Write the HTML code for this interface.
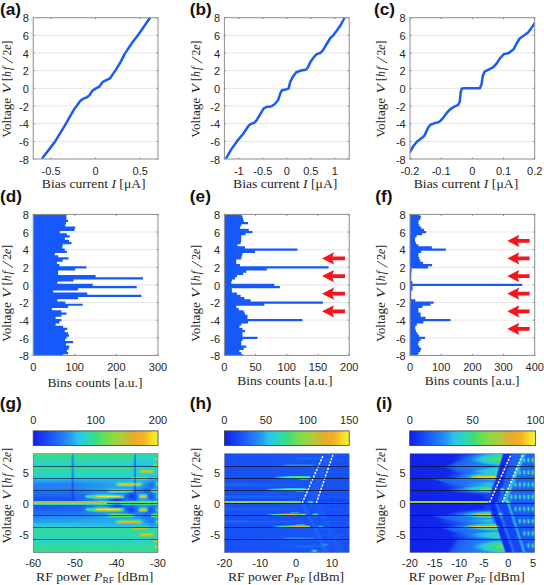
<!DOCTYPE html>
<html><head><meta charset="utf-8"><style>
html,body{margin:0;padding:0;background:#fff;}
svg{display:block;}
</style></head><body>
<svg width="544" height="585" viewBox="0 0 544 585">
<defs><linearGradient id="cb0" x1="0" y1="0" x2="1" y2="0"><stop offset="0.0000" stop-color="#101ee8"/><stop offset="0.0250" stop-color="#1228eb"/><stop offset="0.0500" stop-color="#1332ef"/><stop offset="0.0750" stop-color="#143cf2"/><stop offset="0.1000" stop-color="#1646f5"/><stop offset="0.1250" stop-color="#1850f5"/><stop offset="0.1500" stop-color="#1a5af5"/><stop offset="0.1750" stop-color="#1c64f5"/><stop offset="0.2000" stop-color="#1e6ef5"/><stop offset="0.2250" stop-color="#2079f4"/><stop offset="0.2500" stop-color="#2284f3"/><stop offset="0.2750" stop-color="#2490f1"/><stop offset="0.3000" stop-color="#269bf0"/><stop offset="0.3250" stop-color="#27aeed"/><stop offset="0.3500" stop-color="#28c1e9"/><stop offset="0.3750" stop-color="#28cbe0"/><stop offset="0.4000" stop-color="#28d0d3"/><stop offset="0.4250" stop-color="#29d5c3"/><stop offset="0.4500" stop-color="#30d7ac"/><stop offset="0.4750" stop-color="#36da94"/><stop offset="0.5000" stop-color="#3cdc7d"/><stop offset="0.5250" stop-color="#4bdd70"/><stop offset="0.5500" stop-color="#5add64"/><stop offset="0.5750" stop-color="#69de58"/><stop offset="0.6000" stop-color="#78de4b"/><stop offset="0.6250" stop-color="#85da47"/><stop offset="0.6500" stop-color="#91d643"/><stop offset="0.6750" stop-color="#9ed140"/><stop offset="0.7000" stop-color="#aacd3c"/><stop offset="0.7250" stop-color="#b6c63a"/><stop offset="0.7500" stop-color="#c3be37"/><stop offset="0.7750" stop-color="#d4b532"/><stop offset="0.8000" stop-color="#e6ac2d"/><stop offset="0.8250" stop-color="#ebad2b"/><stop offset="0.8500" stop-color="#efae2a"/><stop offset="0.8750" stop-color="#f4af28"/><stop offset="0.9000" stop-color="#f5bc28"/><stop offset="0.9250" stop-color="#f5cd28"/><stop offset="0.9500" stop-color="#f5de28"/><stop offset="0.9750" stop-color="#f3ea28"/><stop offset="1.0000" stop-color="#f0f528"/></linearGradient><linearGradient id="fr0"><stop offset="0.000" stop-color="#28bdea"/><stop offset="0.304" stop-color="#27bbea"/><stop offset="0.312" stop-color="#1f71f5"/><stop offset="0.321" stop-color="#1f71f5"/><stop offset="0.329" stop-color="#27bbea"/><stop offset="0.801" stop-color="#27bcea"/><stop offset="0.817" stop-color="#1852f5"/><stop offset="0.825" stop-color="#2597f0"/><stop offset="1.000" stop-color="#2699f0"/></linearGradient><linearGradient id="fr1"><stop offset="0.000" stop-color="#3cdc7e"/><stop offset="0.304" stop-color="#3bdc81"/><stop offset="0.312" stop-color="#2597f0"/><stop offset="0.321" stop-color="#2597f0"/><stop offset="0.329" stop-color="#3bdc81"/><stop offset="0.801" stop-color="#3bdc80"/><stop offset="0.809" stop-color="#28bdea"/><stop offset="0.817" stop-color="#1d68f5"/><stop offset="0.825" stop-color="#2cd6b8"/><stop offset="0.849" stop-color="#2fd7ad"/><stop offset="1.000" stop-color="#2fd7ad"/></linearGradient><linearGradient id="fr2"><stop offset="0.000" stop-color="#3adb85"/><stop offset="0.304" stop-color="#39db89"/><stop offset="0.312" stop-color="#2595f1"/><stop offset="0.321" stop-color="#2595f1"/><stop offset="0.329" stop-color="#39db89"/><stop offset="0.801" stop-color="#39db88"/><stop offset="0.809" stop-color="#27b9eb"/><stop offset="0.817" stop-color="#1d67f5"/><stop offset="0.825" stop-color="#2ad5bf"/><stop offset="0.849" stop-color="#2dd6b4"/><stop offset="1.000" stop-color="#2dd6b4"/></linearGradient><linearGradient id="fr3"><stop offset="0.000" stop-color="#38da8d"/><stop offset="0.304" stop-color="#37da90"/><stop offset="0.312" stop-color="#2593f1"/><stop offset="0.321" stop-color="#2593f1"/><stop offset="0.329" stop-color="#37da90"/><stop offset="0.801" stop-color="#37da8f"/><stop offset="0.809" stop-color="#27b5eb"/><stop offset="0.817" stop-color="#1c66f5"/><stop offset="0.825" stop-color="#28d4c7"/><stop offset="0.849" stop-color="#2bd5bc"/><stop offset="1.000" stop-color="#2dd6b7"/></linearGradient><linearGradient id="fr4"><stop offset="0.000" stop-color="#35d995"/><stop offset="0.304" stop-color="#35d999"/><stop offset="0.312" stop-color="#2490f1"/><stop offset="0.321" stop-color="#2490f1"/><stop offset="0.329" stop-color="#35d999"/><stop offset="0.801" stop-color="#35d998"/><stop offset="0.809" stop-color="#27b0ec"/><stop offset="0.817" stop-color="#1c64f5"/><stop offset="0.825" stop-color="#28d3cc"/><stop offset="0.970" stop-color="#2ad5c0"/><stop offset="0.978" stop-color="#34d99a"/><stop offset="1.000" stop-color="#37da8f"/></linearGradient><linearGradient id="fr5"><stop offset="0.000" stop-color="#33d89f"/><stop offset="0.304" stop-color="#32d8a2"/><stop offset="0.312" stop-color="#248ef1"/><stop offset="0.321" stop-color="#248ef1"/><stop offset="0.329" stop-color="#32d8a2"/><stop offset="0.801" stop-color="#32d8a1"/><stop offset="0.809" stop-color="#27aced"/><stop offset="0.817" stop-color="#1c63f5"/><stop offset="0.825" stop-color="#28d1d1"/><stop offset="0.962" stop-color="#28d3cb"/><stop offset="0.970" stop-color="#2dd6b4"/><stop offset="0.978" stop-color="#79de4b"/><stop offset="0.986" stop-color="#8fd644"/><stop offset="1.000" stop-color="#8fd644"/></linearGradient><linearGradient id="fr6"><stop offset="0.000" stop-color="#31d7a8"/><stop offset="0.304" stop-color="#30d7ab"/><stop offset="0.312" stop-color="#238cf2"/><stop offset="0.321" stop-color="#238cf2"/><stop offset="0.329" stop-color="#30d7ab"/><stop offset="0.801" stop-color="#30d7aa"/><stop offset="0.809" stop-color="#27a7ee"/><stop offset="0.817" stop-color="#1c62f5"/><stop offset="0.825" stop-color="#28cfd6"/><stop offset="0.962" stop-color="#28d1d0"/><stop offset="0.970" stop-color="#30d7aa"/><stop offset="0.978" stop-color="#a1d03f"/><stop offset="0.986" stop-color="#c1bf37"/><stop offset="1.000" stop-color="#c1bf37"/></linearGradient><linearGradient id="fr7"><stop offset="0.000" stop-color="#2fd7af"/><stop offset="0.304" stop-color="#2ed6b2"/><stop offset="0.312" stop-color="#238af2"/><stop offset="0.321" stop-color="#238af2"/><stop offset="0.329" stop-color="#2ed6b2"/><stop offset="0.801" stop-color="#2ed6b2"/><stop offset="0.809" stop-color="#26a3ef"/><stop offset="0.817" stop-color="#1b60f5"/><stop offset="0.825" stop-color="#28cdda"/><stop offset="0.962" stop-color="#28cfd5"/><stop offset="0.970" stop-color="#29d4c3"/><stop offset="0.978" stop-color="#56dd68"/><stop offset="0.986" stop-color="#69dd58"/><stop offset="1.000" stop-color="#69dd58"/></linearGradient><linearGradient id="fr8"><stop offset="0.000" stop-color="#2dd6b5"/><stop offset="0.304" stop-color="#2cd6b8"/><stop offset="0.312" stop-color="#2388f2"/><stop offset="0.321" stop-color="#2388f2"/><stop offset="0.329" stop-color="#2cd6b8"/><stop offset="0.801" stop-color="#2cd6b8"/><stop offset="0.809" stop-color="#269fef"/><stop offset="0.817" stop-color="#1b60f5"/><stop offset="0.825" stop-color="#28ccdd"/><stop offset="0.970" stop-color="#28cfd5"/><stop offset="1.000" stop-color="#29d4c5"/></linearGradient><linearGradient id="fr9"><stop offset="0.000" stop-color="#2bd5bb"/><stop offset="0.304" stop-color="#2bd5be"/><stop offset="0.312" stop-color="#2287f2"/><stop offset="0.321" stop-color="#2287f2"/><stop offset="0.329" stop-color="#2bd5be"/><stop offset="0.801" stop-color="#2bd5be"/><stop offset="0.809" stop-color="#269cf0"/><stop offset="0.817" stop-color="#1b5ff5"/><stop offset="0.825" stop-color="#28cbe0"/><stop offset="1.000" stop-color="#28ced8"/></linearGradient><linearGradient id="fr10"><stop offset="0.000" stop-color="#29d4c4"/><stop offset="0.304" stop-color="#28d4c7"/><stop offset="0.312" stop-color="#2284f3"/><stop offset="0.321" stop-color="#2284f3"/><stop offset="0.329" stop-color="#28d4c7"/><stop offset="0.801" stop-color="#29d4c6"/><stop offset="0.809" stop-color="#2699f0"/><stop offset="0.817" stop-color="#1b5df5"/><stop offset="0.825" stop-color="#28c9e5"/><stop offset="0.954" stop-color="#28cbe0"/><stop offset="0.978" stop-color="#29d4c4"/><stop offset="1.000" stop-color="#29d4c4"/></linearGradient><linearGradient id="fr11"><stop offset="0.000" stop-color="#28d2cc"/><stop offset="0.304" stop-color="#28d2ce"/><stop offset="0.312" stop-color="#2181f3"/><stop offset="0.321" stop-color="#2181f3"/><stop offset="0.329" stop-color="#28d2ce"/><stop offset="0.801" stop-color="#28d2cd"/><stop offset="0.809" stop-color="#2595f1"/><stop offset="0.817" stop-color="#1a5cf5"/><stop offset="0.825" stop-color="#28c3e9"/><stop offset="0.954" stop-color="#28c8e7"/><stop offset="0.962" stop-color="#33d89e"/><stop offset="0.970" stop-color="#70de52"/><stop offset="1.000" stop-color="#7add4a"/></linearGradient><linearGradient id="fr12"><stop offset="0.000" stop-color="#28d0d3"/><stop offset="0.304" stop-color="#28cfd4"/><stop offset="0.312" stop-color="#217ef3"/><stop offset="0.321" stop-color="#217ef3"/><stop offset="0.329" stop-color="#28cfd4"/><stop offset="0.801" stop-color="#28d0d4"/><stop offset="0.809" stop-color="#2492f1"/><stop offset="0.817" stop-color="#1a5af5"/><stop offset="0.825" stop-color="#27bbea"/><stop offset="0.954" stop-color="#28c1e9"/><stop offset="0.962" stop-color="#51dd6c"/><stop offset="0.970" stop-color="#bec138"/><stop offset="0.978" stop-color="#d1b733"/><stop offset="1.000" stop-color="#d1b733"/></linearGradient><linearGradient id="fr13"><stop offset="0.000" stop-color="#31d8a6"/><stop offset="0.304" stop-color="#30d7a9"/><stop offset="0.312" stop-color="#238cf2"/><stop offset="0.321" stop-color="#238cf2"/><stop offset="0.329" stop-color="#30d7a9"/><stop offset="0.801" stop-color="#30d7a8"/><stop offset="0.809" stop-color="#27a8ee"/><stop offset="0.817" stop-color="#1c62f5"/><stop offset="0.825" stop-color="#28cfd5"/><stop offset="0.954" stop-color="#28d1cf"/><stop offset="0.962" stop-color="#38da8c"/><stop offset="0.970" stop-color="#7cdd4a"/><stop offset="1.000" stop-color="#85da47"/></linearGradient><linearGradient id="fr14"><stop offset="0.000" stop-color="#35d999"/><stop offset="0.304" stop-color="#34d99c"/><stop offset="0.312" stop-color="#248ff1"/><stop offset="0.321" stop-color="#248ff1"/><stop offset="0.329" stop-color="#34d99c"/><stop offset="0.801" stop-color="#34d99c"/><stop offset="0.809" stop-color="#27aeed"/><stop offset="0.817" stop-color="#1c64f5"/><stop offset="0.825" stop-color="#28d2ce"/><stop offset="0.954" stop-color="#28d4c8"/><stop offset="0.970" stop-color="#32d8a1"/><stop offset="1.000" stop-color="#33d99d"/></linearGradient><linearGradient id="fr15"><stop offset="0.000" stop-color="#35d999"/><stop offset="0.304" stop-color="#34d99c"/><stop offset="0.312" stop-color="#248ff1"/><stop offset="0.321" stop-color="#248ff1"/><stop offset="0.329" stop-color="#34d99c"/><stop offset="0.801" stop-color="#34d99c"/><stop offset="0.809" stop-color="#27aeed"/><stop offset="0.817" stop-color="#1c64f5"/><stop offset="0.825" stop-color="#28d2ce"/><stop offset="0.946" stop-color="#2ad5c2"/><stop offset="1.000" stop-color="#29d4c5"/></linearGradient><linearGradient id="fr16"><stop offset="0.000" stop-color="#34d99c"/><stop offset="0.304" stop-color="#33d89f"/><stop offset="0.312" stop-color="#248ff1"/><stop offset="0.321" stop-color="#248ff1"/><stop offset="0.329" stop-color="#33d89f"/><stop offset="0.801" stop-color="#33d89e"/><stop offset="0.809" stop-color="#27aded"/><stop offset="0.817" stop-color="#1c63f5"/><stop offset="0.825" stop-color="#28d1cf"/><stop offset="0.849" stop-color="#28d3ca"/><stop offset="0.865" stop-color="#38da8d"/><stop offset="0.889" stop-color="#3bdb82"/><stop offset="0.946" stop-color="#3adb83"/><stop offset="0.970" stop-color="#28d3c9"/><stop offset="1.000" stop-color="#28d3c9"/></linearGradient><linearGradient id="fr17"><stop offset="0.000" stop-color="#31d8a5"/><stop offset="0.304" stop-color="#30d7a8"/><stop offset="0.312" stop-color="#238cf2"/><stop offset="0.321" stop-color="#238cf2"/><stop offset="0.329" stop-color="#30d7a8"/><stop offset="0.801" stop-color="#31d7a7"/><stop offset="0.809" stop-color="#27a8ee"/><stop offset="0.817" stop-color="#1c62f5"/><stop offset="0.825" stop-color="#28cfd4"/><stop offset="0.849" stop-color="#28d1cf"/><stop offset="0.857" stop-color="#5fdd60"/><stop offset="0.865" stop-color="#a0d03f"/><stop offset="0.873" stop-color="#b9c439"/><stop offset="0.946" stop-color="#b7c539"/><stop offset="0.954" stop-color="#92d543"/><stop offset="0.962" stop-color="#45dc75"/><stop offset="0.970" stop-color="#28d1cf"/><stop offset="1.000" stop-color="#28d1cf"/></linearGradient><linearGradient id="fr18"><stop offset="0.000" stop-color="#2fd7ae"/><stop offset="0.304" stop-color="#2ed6b1"/><stop offset="0.312" stop-color="#238af2"/><stop offset="0.321" stop-color="#238af2"/><stop offset="0.329" stop-color="#2ed6b1"/><stop offset="0.801" stop-color="#2ed7b0"/><stop offset="0.809" stop-color="#26a3ef"/><stop offset="0.817" stop-color="#1b61f5"/><stop offset="0.825" stop-color="#28ced9"/><stop offset="0.849" stop-color="#28d0d4"/><stop offset="0.857" stop-color="#85da47"/><stop offset="0.865" stop-color="#e7ac2d"/><stop offset="0.881" stop-color="#f4af28"/><stop offset="0.946" stop-color="#f3af29"/><stop offset="0.954" stop-color="#ccb934"/><stop offset="0.962" stop-color="#63dd5d"/><stop offset="0.970" stop-color="#28d0d4"/><stop offset="1.000" stop-color="#28d0d4"/></linearGradient><linearGradient id="fr19"><stop offset="0.000" stop-color="#2cd6b7"/><stop offset="0.304" stop-color="#2cd5ba"/><stop offset="0.312" stop-color="#2388f2"/><stop offset="0.321" stop-color="#2388f2"/><stop offset="0.329" stop-color="#2cd5ba"/><stop offset="0.801" stop-color="#2cd6ba"/><stop offset="0.809" stop-color="#269eef"/><stop offset="0.817" stop-color="#1b5ff5"/><stop offset="0.825" stop-color="#28ccde"/><stop offset="0.849" stop-color="#28ced7"/><stop offset="0.857" stop-color="#43dc77"/><stop offset="0.865" stop-color="#7add4a"/><stop offset="0.873" stop-color="#8dd745"/><stop offset="0.946" stop-color="#8bd845"/><stop offset="0.954" stop-color="#6ede54"/><stop offset="0.962" stop-color="#37da90"/><stop offset="0.970" stop-color="#28ced9"/><stop offset="1.000" stop-color="#28ced9"/></linearGradient><linearGradient id="fr20"><stop offset="0.000" stop-color="#2ad5c0"/><stop offset="0.304" stop-color="#29d4c3"/><stop offset="0.312" stop-color="#2285f2"/><stop offset="0.321" stop-color="#2285f2"/><stop offset="0.329" stop-color="#29d4c3"/><stop offset="0.801" stop-color="#29d5c3"/><stop offset="0.809" stop-color="#269af0"/><stop offset="0.817" stop-color="#1b5ef5"/><stop offset="0.825" stop-color="#28cae3"/><stop offset="0.857" stop-color="#28d0d2"/><stop offset="0.889" stop-color="#2ad5c2"/><stop offset="0.954" stop-color="#28d3cb"/><stop offset="0.978" stop-color="#28ccde"/><stop offset="1.000" stop-color="#28ccde"/></linearGradient><linearGradient id="fr21"><stop offset="0.000" stop-color="#28d4c9"/><stop offset="0.304" stop-color="#28d3cb"/><stop offset="0.312" stop-color="#2283f3"/><stop offset="0.321" stop-color="#2283f3"/><stop offset="0.329" stop-color="#28d3cb"/><stop offset="0.801" stop-color="#28d3ca"/><stop offset="0.809" stop-color="#2597f0"/><stop offset="0.817" stop-color="#1b5df5"/><stop offset="0.825" stop-color="#28c8e8"/><stop offset="1.000" stop-color="#28cae4"/></linearGradient><linearGradient id="fr22"><stop offset="0.000" stop-color="#28d2ce"/><stop offset="0.304" stop-color="#28d1d0"/><stop offset="0.312" stop-color="#2180f3"/><stop offset="0.321" stop-color="#2180f3"/><stop offset="0.329" stop-color="#28d1d0"/><stop offset="0.801" stop-color="#28d3cc"/><stop offset="0.809" stop-color="#2596f1"/><stop offset="0.817" stop-color="#1a5cf5"/><stop offset="0.825" stop-color="#28c6e8"/><stop offset="1.000" stop-color="#28c7e8"/></linearGradient><linearGradient id="fr23"><stop offset="0.000" stop-color="#28cfd5"/><stop offset="0.304" stop-color="#28cfd6"/><stop offset="0.312" stop-color="#217df3"/><stop offset="0.321" stop-color="#217df3"/><stop offset="0.329" stop-color="#28cfd6"/><stop offset="0.777" stop-color="#28cfd5"/><stop offset="0.785" stop-color="#29d4c6"/><stop offset="0.801" stop-color="#36da94"/><stop offset="0.809" stop-color="#27b5eb"/><stop offset="0.817" stop-color="#1c66f5"/><stop offset="0.825" stop-color="#28d4c7"/><stop offset="0.849" stop-color="#2bd5bc"/><stop offset="0.905" stop-color="#2ad5c1"/><stop offset="0.929" stop-color="#27bcea"/><stop offset="1.000" stop-color="#28beea"/></linearGradient><linearGradient id="fr24"><stop offset="0.000" stop-color="#28cddb"/><stop offset="0.304" stop-color="#28ccdd"/><stop offset="0.312" stop-color="#207af4"/><stop offset="0.321" stop-color="#207af4"/><stop offset="0.329" stop-color="#28ccdd"/><stop offset="0.777" stop-color="#28cddb"/><stop offset="0.785" stop-color="#39db87"/><stop offset="0.793" stop-color="#7fdc49"/><stop offset="0.801" stop-color="#a5cf3d"/><stop offset="0.809" stop-color="#39db88"/><stop offset="0.817" stop-color="#2491f1"/><stop offset="0.825" stop-color="#a1d03f"/><stop offset="0.841" stop-color="#b0c93b"/><stop offset="0.897" stop-color="#b0c93b"/><stop offset="0.905" stop-color="#a7ce3d"/><stop offset="0.913" stop-color="#7ddc4a"/><stop offset="0.921" stop-color="#38da8c"/><stop offset="0.929" stop-color="#28ccde"/><stop offset="1.000" stop-color="#28cddb"/></linearGradient><linearGradient id="fr25"><stop offset="0.000" stop-color="#28c7e8"/><stop offset="0.304" stop-color="#28c5e9"/><stop offset="0.312" stop-color="#1f74f4"/><stop offset="0.321" stop-color="#1f74f4"/><stop offset="0.329" stop-color="#28c4e9"/><stop offset="0.777" stop-color="#27b8eb"/><stop offset="0.785" stop-color="#3edc7b"/><stop offset="0.793" stop-color="#91d543"/><stop offset="0.801" stop-color="#bfc138"/><stop offset="0.809" stop-color="#4bdc71"/><stop offset="0.817" stop-color="#269af0"/><stop offset="0.825" stop-color="#bbc339"/><stop offset="0.833" stop-color="#cfb834"/><stop offset="0.897" stop-color="#ceb834"/><stop offset="0.905" stop-color="#bfc038"/><stop offset="0.913" stop-color="#8ed744"/><stop offset="0.921" stop-color="#3bdb82"/><stop offset="0.929" stop-color="#27afed"/><stop offset="1.000" stop-color="#27b5eb"/></linearGradient><linearGradient id="fr26"><stop offset="0.000" stop-color="#27b4ec"/><stop offset="0.304" stop-color="#27b2ec"/><stop offset="0.312" stop-color="#1e6ef5"/><stop offset="0.321" stop-color="#1e6ef5"/><stop offset="0.329" stop-color="#27b2ec"/><stop offset="0.777" stop-color="#27b4ec"/><stop offset="0.785" stop-color="#28cfd5"/><stop offset="0.801" stop-color="#38da8c"/><stop offset="0.809" stop-color="#27bbea"/><stop offset="0.817" stop-color="#1e6ef5"/><stop offset="0.825" stop-color="#35d996"/><stop offset="0.833" stop-color="#3bdb82"/><stop offset="0.897" stop-color="#3adb85"/><stop offset="0.905" stop-color="#37da8f"/><stop offset="0.921" stop-color="#28ccdd"/><stop offset="0.929" stop-color="#26a5ee"/><stop offset="0.978" stop-color="#27aaed"/><stop offset="1.000" stop-color="#27b1ec"/></linearGradient><linearGradient id="fr27"><stop offset="0.000" stop-color="#27a8ee"/><stop offset="0.304" stop-color="#26a6ee"/><stop offset="0.312" stop-color="#1d6af5"/><stop offset="0.321" stop-color="#1d6af5"/><stop offset="0.329" stop-color="#26a6ee"/><stop offset="0.785" stop-color="#27b6eb"/><stop offset="0.801" stop-color="#27bcea"/><stop offset="0.809" stop-color="#2282f3"/><stop offset="0.817" stop-color="#1a5af5"/><stop offset="0.825" stop-color="#27b4ec"/><stop offset="0.857" stop-color="#28beea"/><stop offset="0.913" stop-color="#27afec"/><stop offset="0.937" stop-color="#2596f1"/><stop offset="1.000" stop-color="#27aeed"/></linearGradient><linearGradient id="fr28"><stop offset="0.000" stop-color="#269bf0"/><stop offset="0.304" stop-color="#269af0"/><stop offset="0.312" stop-color="#1d67f5"/><stop offset="0.321" stop-color="#1d67f5"/><stop offset="0.329" stop-color="#269bf0"/><stop offset="0.801" stop-color="#27b4ec"/><stop offset="0.817" stop-color="#1a58f5"/><stop offset="0.825" stop-color="#27abed"/><stop offset="0.849" stop-color="#27b4eb"/><stop offset="0.921" stop-color="#2596f1"/><stop offset="0.962" stop-color="#2490f1"/><stop offset="1.000" stop-color="#27b3ec"/></linearGradient><linearGradient id="fr29"><stop offset="0.000" stop-color="#2493f1"/><stop offset="0.304" stop-color="#2492f1"/><stop offset="0.312" stop-color="#1c63f5"/><stop offset="0.321" stop-color="#1c63f5"/><stop offset="0.329" stop-color="#2492f1"/><stop offset="0.657" stop-color="#27aaed"/><stop offset="0.681" stop-color="#28d1d1"/><stop offset="0.705" stop-color="#2bd5bc"/><stop offset="0.801" stop-color="#2bd5bf"/><stop offset="0.809" stop-color="#269cf0"/><stop offset="0.817" stop-color="#1c66f5"/><stop offset="0.825" stop-color="#28d3cb"/><stop offset="0.841" stop-color="#2bd5bd"/><stop offset="0.865" stop-color="#28c9e6"/><stop offset="0.881" stop-color="#27a7ee"/><stop offset="0.954" stop-color="#2282f3"/><stop offset="0.978" stop-color="#2595f1"/><stop offset="0.986" stop-color="#28cae3"/><stop offset="0.994" stop-color="#28d3cb"/><stop offset="1.000" stop-color="#28d4c8"/></linearGradient><linearGradient id="fr30"><stop offset="0.000" stop-color="#238af2"/><stop offset="0.304" stop-color="#2389f2"/><stop offset="0.312" stop-color="#1b5ef5"/><stop offset="0.321" stop-color="#1b5ef5"/><stop offset="0.329" stop-color="#238af2"/><stop offset="0.657" stop-color="#27a7ee"/><stop offset="0.665" stop-color="#28cfd6"/><stop offset="0.673" stop-color="#4adc71"/><stop offset="0.681" stop-color="#8bd745"/><stop offset="0.689" stop-color="#b4c73a"/><stop offset="0.705" stop-color="#c3be37"/><stop offset="0.801" stop-color="#c0c038"/><stop offset="0.809" stop-color="#43dc77"/><stop offset="0.817" stop-color="#2597f0"/><stop offset="0.825" stop-color="#b2c83a"/><stop offset="0.833" stop-color="#c2be37"/><stop offset="0.841" stop-color="#c2bf37"/><stop offset="0.849" stop-color="#accc3c"/><stop offset="0.857" stop-color="#7edc49"/><stop offset="0.865" stop-color="#3adb86"/><stop offset="0.873" stop-color="#28c6e8"/><stop offset="0.881" stop-color="#26a1ef"/><stop offset="0.946" stop-color="#2077f4"/><stop offset="0.978" stop-color="#2491f1"/><stop offset="0.986" stop-color="#4edd6e"/><stop offset="0.994" stop-color="#97d442"/><stop offset="1.000" stop-color="#9ad341"/></linearGradient><linearGradient id="fr31"><stop offset="0.000" stop-color="#2181f3"/><stop offset="0.304" stop-color="#2180f3"/><stop offset="0.312" stop-color="#1a5af5"/><stop offset="0.321" stop-color="#1a5af5"/><stop offset="0.329" stop-color="#2181f3"/><stop offset="0.649" stop-color="#26a4ee"/><stop offset="0.657" stop-color="#26a4ee"/><stop offset="0.665" stop-color="#28d4c7"/><stop offset="0.673" stop-color="#78de4b"/><stop offset="0.681" stop-color="#c8bb36"/><stop offset="0.689" stop-color="#f3af29"/><stop offset="0.697" stop-color="#f5c228"/><stop offset="0.801" stop-color="#f5be28"/><stop offset="0.809" stop-color="#81db48"/><stop offset="0.817" stop-color="#28beea"/><stop offset="0.825" stop-color="#f3af29"/><stop offset="0.833" stop-color="#f5c128"/><stop offset="0.841" stop-color="#f5bf28"/><stop offset="0.849" stop-color="#efae2a"/><stop offset="0.857" stop-color="#b4c73a"/><stop offset="0.865" stop-color="#5bdd63"/><stop offset="0.873" stop-color="#28cae3"/><stop offset="0.881" stop-color="#269af0"/><stop offset="0.946" stop-color="#1f71f5"/><stop offset="0.978" stop-color="#248ef1"/><stop offset="0.986" stop-color="#7bdd4a"/><stop offset="0.994" stop-color="#d7b431"/><stop offset="1.000" stop-color="#dbb230"/></linearGradient><linearGradient id="fr32"><stop offset="0.000" stop-color="#2181f3"/><stop offset="0.304" stop-color="#2181f3"/><stop offset="0.312" stop-color="#1a5af5"/><stop offset="0.321" stop-color="#1a5af5"/><stop offset="0.329" stop-color="#2181f3"/><stop offset="0.649" stop-color="#26a3ef"/><stop offset="0.657" stop-color="#26a3ef"/><stop offset="0.665" stop-color="#28c9e5"/><stop offset="0.673" stop-color="#30d7aa"/><stop offset="0.681" stop-color="#4edd6e"/><stop offset="0.689" stop-color="#6ede53"/><stop offset="0.713" stop-color="#7add4b"/><stop offset="0.801" stop-color="#77de4c"/><stop offset="0.809" stop-color="#28d3cb"/><stop offset="0.817" stop-color="#217ff3"/><stop offset="0.825" stop-color="#6ade57"/><stop offset="0.833" stop-color="#78de4b"/><stop offset="0.841" stop-color="#77de4c"/><stop offset="0.849" stop-color="#65dd5b"/><stop offset="0.857" stop-color="#3edc7b"/><stop offset="0.865" stop-color="#28d4c8"/><stop offset="0.873" stop-color="#27afec"/><stop offset="0.881" stop-color="#2595f1"/><stop offset="0.946" stop-color="#1f71f5"/><stop offset="0.978" stop-color="#248ef1"/><stop offset="0.986" stop-color="#31d7a8"/><stop offset="0.994" stop-color="#5add64"/><stop offset="1.000" stop-color="#5ddd61"/></linearGradient><linearGradient id="fr33"><stop offset="0.000" stop-color="#2283f3"/><stop offset="0.304" stop-color="#2282f3"/><stop offset="0.312" stop-color="#1a5bf5"/><stop offset="0.321" stop-color="#1a5bf5"/><stop offset="0.329" stop-color="#2283f3"/><stop offset="0.641" stop-color="#26a3ef"/><stop offset="0.665" stop-color="#27aaed"/><stop offset="0.697" stop-color="#28c8e7"/><stop offset="0.801" stop-color="#28c7e8"/><stop offset="0.809" stop-color="#2286f2"/><stop offset="0.817" stop-color="#1a5bf5"/><stop offset="0.825" stop-color="#28bdea"/><stop offset="0.841" stop-color="#28c5e8"/><stop offset="0.881" stop-color="#248ff1"/><stop offset="0.946" stop-color="#1f75f4"/><stop offset="0.978" stop-color="#2491f1"/><stop offset="0.994" stop-color="#28c3e9"/><stop offset="1.000" stop-color="#28c7e8"/></linearGradient><linearGradient id="fr34"><stop offset="0.000" stop-color="#2284f3"/><stop offset="0.304" stop-color="#2283f3"/><stop offset="0.312" stop-color="#1a5cf5"/><stop offset="0.321" stop-color="#1a5cf5"/><stop offset="0.329" stop-color="#2284f3"/><stop offset="0.641" stop-color="#26a3ef"/><stop offset="0.801" stop-color="#26a2ef"/><stop offset="0.817" stop-color="#1954f5"/><stop offset="0.825" stop-color="#269af0"/><stop offset="0.849" stop-color="#269bf0"/><stop offset="0.937" stop-color="#2077f4"/><stop offset="1.000" stop-color="#26a5ee"/></linearGradient><linearGradient id="fr35"><stop offset="0.000" stop-color="#2180f3"/><stop offset="0.304" stop-color="#217ff3"/><stop offset="0.312" stop-color="#1a5af5"/><stop offset="0.321" stop-color="#1a5af5"/><stop offset="0.329" stop-color="#2180f3"/><stop offset="0.609" stop-color="#27aced"/><stop offset="0.785" stop-color="#27aaed"/><stop offset="0.801" stop-color="#26a0ef"/><stop offset="0.817" stop-color="#1953f5"/><stop offset="0.825" stop-color="#2596f1"/><stop offset="0.865" stop-color="#238bf2"/><stop offset="0.913" stop-color="#1f73f4"/><stop offset="0.946" stop-color="#2282f3"/><stop offset="1.000" stop-color="#27b2ec"/></linearGradient><linearGradient id="fr36"><stop offset="0.000" stop-color="#207bf4"/><stop offset="0.304" stop-color="#207af4"/><stop offset="0.312" stop-color="#1957f5"/><stop offset="0.321" stop-color="#1957f5"/><stop offset="0.329" stop-color="#207bf4"/><stop offset="0.593" stop-color="#26a0ef"/><stop offset="0.601" stop-color="#28beea"/><stop offset="0.617" stop-color="#33d89e"/><stop offset="0.625" stop-color="#39db87"/><stop offset="0.753" stop-color="#37da91"/><stop offset="0.785" stop-color="#32d8a4"/><stop offset="0.801" stop-color="#28c7e8"/><stop offset="0.809" stop-color="#1f73f4"/><stop offset="0.817" stop-color="#1851f5"/><stop offset="0.825" stop-color="#2492f1"/><stop offset="0.857" stop-color="#238cf2"/><stop offset="0.905" stop-color="#1d6bf5"/><stop offset="0.937" stop-color="#2077f4"/><stop offset="0.946" stop-color="#27b1ec"/><stop offset="0.954" stop-color="#28d3cb"/><stop offset="0.986" stop-color="#35d996"/><stop offset="1.000" stop-color="#37da8f"/></linearGradient><linearGradient id="fr37"><stop offset="0.000" stop-color="#1f76f4"/><stop offset="0.304" stop-color="#1f75f4"/><stop offset="0.312" stop-color="#1955f5"/><stop offset="0.321" stop-color="#1955f5"/><stop offset="0.329" stop-color="#1f76f4"/><stop offset="0.593" stop-color="#269df0"/><stop offset="0.601" stop-color="#28d1cf"/><stop offset="0.609" stop-color="#65dd5b"/><stop offset="0.617" stop-color="#a7ce3d"/><stop offset="0.625" stop-color="#c8bb36"/><stop offset="0.745" stop-color="#bec138"/><stop offset="0.785" stop-color="#a5cf3e"/><stop offset="0.793" stop-color="#75de4e"/><stop offset="0.801" stop-color="#30d7ac"/><stop offset="0.809" stop-color="#1f72f5"/><stop offset="0.817" stop-color="#184ff5"/><stop offset="0.825" stop-color="#248df2"/><stop offset="0.857" stop-color="#2389f2"/><stop offset="0.905" stop-color="#1d67f5"/><stop offset="0.937" stop-color="#1f74f4"/><stop offset="0.946" stop-color="#33d8a0"/><stop offset="0.954" stop-color="#90d644"/><stop offset="0.978" stop-color="#b0c93b"/><stop offset="1.000" stop-color="#b8c439"/></linearGradient><linearGradient id="fr38"><stop offset="0.000" stop-color="#1f72f5"/><stop offset="0.304" stop-color="#1f71f5"/><stop offset="0.312" stop-color="#1953f5"/><stop offset="0.321" stop-color="#1953f5"/><stop offset="0.329" stop-color="#1f73f4"/><stop offset="0.593" stop-color="#269af0"/><stop offset="0.601" stop-color="#28ccdd"/><stop offset="0.609" stop-color="#3fdc7a"/><stop offset="0.617" stop-color="#79de4b"/><stop offset="0.625" stop-color="#91d543"/><stop offset="0.737" stop-color="#89d846"/><stop offset="0.785" stop-color="#61dd5e"/><stop offset="0.793" stop-color="#39db87"/><stop offset="0.801" stop-color="#28ccdd"/><stop offset="0.809" stop-color="#1d6af5"/><stop offset="0.817" stop-color="#174df5"/><stop offset="0.825" stop-color="#2287f2"/><stop offset="0.857" stop-color="#2388f2"/><stop offset="0.905" stop-color="#1d67f5"/><stop offset="0.937" stop-color="#1e6ff5"/><stop offset="0.946" stop-color="#28d0d4"/><stop offset="0.954" stop-color="#57dd66"/><stop offset="0.978" stop-color="#7fdc49"/><stop offset="1.000" stop-color="#88d846"/></linearGradient><linearGradient id="fr39"><stop offset="0.000" stop-color="#1e6ef5"/><stop offset="0.304" stop-color="#1e6ef5"/><stop offset="0.312" stop-color="#1851f5"/><stop offset="0.321" stop-color="#1851f5"/><stop offset="0.329" stop-color="#1e6ff5"/><stop offset="0.585" stop-color="#2699f0"/><stop offset="0.601" stop-color="#26a4ee"/><stop offset="0.617" stop-color="#28c7e8"/><stop offset="0.737" stop-color="#28c1e9"/><stop offset="0.777" stop-color="#2492f1"/><stop offset="0.801" stop-color="#217ef3"/><stop offset="0.817" stop-color="#1749f5"/><stop offset="0.825" stop-color="#2180f3"/><stop offset="0.857" stop-color="#2389f2"/><stop offset="0.913" stop-color="#1d6bf5"/><stop offset="0.937" stop-color="#1d69f5"/><stop offset="0.978" stop-color="#28c7e8"/><stop offset="1.000" stop-color="#28cddb"/></linearGradient><linearGradient id="fr40"><stop offset="0.000" stop-color="#1d6bf5"/><stop offset="0.304" stop-color="#1d6bf5"/><stop offset="0.312" stop-color="#184ff5"/><stop offset="0.321" stop-color="#1850f5"/><stop offset="0.329" stop-color="#1e6cf5"/><stop offset="0.577" stop-color="#269bf0"/><stop offset="0.681" stop-color="#2286f2"/><stop offset="0.737" stop-color="#2285f2"/><stop offset="0.785" stop-color="#1a5bf5"/><stop offset="0.801" stop-color="#1b60f5"/><stop offset="0.817" stop-color="#1646f5"/><stop offset="0.825" stop-color="#2078f4"/><stop offset="0.865" stop-color="#2491f1"/><stop offset="0.946" stop-color="#1c64f5"/><stop offset="1.000" stop-color="#27aced"/></linearGradient><linearGradient id="fr41"><stop offset="0.000" stop-color="#1d67f5"/><stop offset="0.304" stop-color="#1d67f5"/><stop offset="0.312" stop-color="#174df5"/><stop offset="0.321" stop-color="#184ef5"/><stop offset="0.329" stop-color="#1d68f5"/><stop offset="0.417" stop-color="#207cf3"/><stop offset="0.465" stop-color="#2698f0"/><stop offset="0.529" stop-color="#28c9e5"/><stop offset="0.609" stop-color="#28bfea"/><stop offset="0.665" stop-color="#269bf0"/><stop offset="0.713" stop-color="#2593f1"/><stop offset="0.785" stop-color="#1749f5"/><stop offset="0.809" stop-color="#174df5"/><stop offset="0.817" stop-color="#1643f4"/><stop offset="0.825" stop-color="#1f71f5"/><stop offset="0.849" stop-color="#269cf0"/><stop offset="0.857" stop-color="#28ccdc"/><stop offset="0.865" stop-color="#29d4c6"/><stop offset="0.897" stop-color="#28cfd6"/><stop offset="0.905" stop-color="#28beea"/><stop offset="0.913" stop-color="#2287f2"/><stop offset="0.921" stop-color="#1e6cf5"/><stop offset="0.946" stop-color="#1a59f5"/><stop offset="0.986" stop-color="#2597f0"/><stop offset="0.994" stop-color="#28cddb"/><stop offset="1.000" stop-color="#28d4c9"/></linearGradient><linearGradient id="fr42"><stop offset="0.000" stop-color="#1c64f5"/><stop offset="0.304" stop-color="#1c63f5"/><stop offset="0.312" stop-color="#174bf5"/><stop offset="0.321" stop-color="#174cf5"/><stop offset="0.329" stop-color="#1c64f5"/><stop offset="0.409" stop-color="#1f73f4"/><stop offset="0.425" stop-color="#26a2ef"/><stop offset="0.433" stop-color="#28c8e8"/><stop offset="0.449" stop-color="#28d4c9"/><stop offset="0.481" stop-color="#28d3ca"/><stop offset="0.489" stop-color="#36da92"/><stop offset="0.505" stop-color="#6ede54"/><stop offset="0.521" stop-color="#95d442"/><stop offset="0.617" stop-color="#8cd745"/><stop offset="0.689" stop-color="#78de4b"/><stop offset="0.705" stop-color="#3ddc7c"/><stop offset="0.713" stop-color="#2ad5c1"/><stop offset="0.721" stop-color="#28bdea"/><stop offset="0.729" stop-color="#2388f2"/><stop offset="0.753" stop-color="#1b61f5"/><stop offset="0.785" stop-color="#153ff3"/><stop offset="0.809" stop-color="#1648f5"/><stop offset="0.817" stop-color="#1541f3"/><stop offset="0.825" stop-color="#1e6df5"/><stop offset="0.841" stop-color="#2286f2"/><stop offset="0.849" stop-color="#28ccdf"/><stop offset="0.857" stop-color="#85da47"/><stop offset="0.865" stop-color="#c9bb35"/><stop offset="0.897" stop-color="#bfc038"/><stop offset="0.905" stop-color="#7ddc49"/><stop offset="0.913" stop-color="#28c4e9"/><stop offset="0.921" stop-color="#1e6ef5"/><stop offset="0.946" stop-color="#1953f5"/><stop offset="0.978" stop-color="#2285f2"/><stop offset="0.986" stop-color="#26a6ee"/><stop offset="0.994" stop-color="#6ade56"/><stop offset="1.000" stop-color="#9bd240"/></linearGradient><linearGradient id="fr43"><stop offset="0.000" stop-color="#1b60f5"/><stop offset="0.304" stop-color="#1b5ff5"/><stop offset="0.312" stop-color="#1749f5"/><stop offset="0.321" stop-color="#1749f5"/><stop offset="0.329" stop-color="#1b61f5"/><stop offset="0.409" stop-color="#1e70f5"/><stop offset="0.417" stop-color="#2490f1"/><stop offset="0.425" stop-color="#28cae2"/><stop offset="0.441" stop-color="#47dc74"/><stop offset="0.449" stop-color="#58dd65"/><stop offset="0.473" stop-color="#51dd6b"/><stop offset="0.481" stop-color="#38da8b"/><stop offset="0.489" stop-color="#6dde54"/><stop offset="0.505" stop-color="#ecad2b"/><stop offset="0.521" stop-color="#f4e328"/><stop offset="0.681" stop-color="#f4e428"/><stop offset="0.697" stop-color="#efae2a"/><stop offset="0.705" stop-color="#bbc339"/><stop offset="0.713" stop-color="#75de4e"/><stop offset="0.721" stop-color="#2dd6b3"/><stop offset="0.729" stop-color="#2595f1"/><stop offset="0.737" stop-color="#1e6ef5"/><stop offset="0.785" stop-color="#143bf2"/><stop offset="0.809" stop-color="#1646f5"/><stop offset="0.817" stop-color="#1540f3"/><stop offset="0.825" stop-color="#1d6bf5"/><stop offset="0.841" stop-color="#2285f2"/><stop offset="0.849" stop-color="#28d3ca"/><stop offset="0.857" stop-color="#bfc038"/><stop offset="0.865" stop-color="#f5c928"/><stop offset="0.897" stop-color="#f5c328"/><stop offset="0.905" stop-color="#bec138"/><stop offset="0.913" stop-color="#28d2cf"/><stop offset="0.921" stop-color="#1f72f5"/><stop offset="0.946" stop-color="#1852f5"/><stop offset="0.978" stop-color="#2283f3"/><stop offset="0.986" stop-color="#27aeed"/><stop offset="0.994" stop-color="#9ad241"/><stop offset="1.000" stop-color="#deb02f"/></linearGradient><linearGradient id="fr44"><stop offset="0.000" stop-color="#1a5bf5"/><stop offset="0.304" stop-color="#1a5bf5"/><stop offset="0.312" stop-color="#1647f5"/><stop offset="0.321" stop-color="#1647f5"/><stop offset="0.329" stop-color="#1a5cf5"/><stop offset="0.409" stop-color="#1e6cf5"/><stop offset="0.425" stop-color="#27afec"/><stop offset="0.433" stop-color="#28ced8"/><stop offset="0.449" stop-color="#32d8a3"/><stop offset="0.473" stop-color="#31d8a7"/><stop offset="0.481" stop-color="#2bd5bc"/><stop offset="0.489" stop-color="#47dc74"/><stop offset="0.497" stop-color="#75de4e"/><stop offset="0.513" stop-color="#b8c539"/><stop offset="0.529" stop-color="#ccb934"/><stop offset="0.625" stop-color="#bbc339"/><stop offset="0.689" stop-color="#a7ce3d"/><stop offset="0.705" stop-color="#64dd5c"/><stop offset="0.713" stop-color="#35d997"/><stop offset="0.721" stop-color="#28cae3"/><stop offset="0.729" stop-color="#2389f2"/><stop offset="0.737" stop-color="#1d6af5"/><stop offset="0.785" stop-color="#153ff3"/><stop offset="0.809" stop-color="#1648f5"/><stop offset="0.817" stop-color="#1541f3"/><stop offset="0.825" stop-color="#1e6cf5"/><stop offset="0.841" stop-color="#2286f2"/><stop offset="0.849" stop-color="#28c3e9"/><stop offset="0.857" stop-color="#54dd69"/><stop offset="0.865" stop-color="#8ed745"/><stop offset="0.897" stop-color="#8bd745"/><stop offset="0.905" stop-color="#53dd6a"/><stop offset="0.913" stop-color="#27bcea"/><stop offset="0.921" stop-color="#1f76f4"/><stop offset="0.946" stop-color="#1957f5"/><stop offset="0.978" stop-color="#2284f3"/><stop offset="0.986" stop-color="#269df0"/><stop offset="0.994" stop-color="#3cdc7d"/><stop offset="1.000" stop-color="#66dd5a"/></linearGradient><linearGradient id="fr45"><stop offset="0.000" stop-color="#1956f5"/><stop offset="0.304" stop-color="#1956f5"/><stop offset="0.312" stop-color="#1644f4"/><stop offset="0.321" stop-color="#1644f4"/><stop offset="0.329" stop-color="#1a58f5"/><stop offset="0.417" stop-color="#1f73f4"/><stop offset="0.449" stop-color="#2597f0"/><stop offset="0.473" stop-color="#269df0"/><stop offset="0.505" stop-color="#28cae3"/><stop offset="0.537" stop-color="#28d2ce"/><stop offset="0.593" stop-color="#28ccdc"/><stop offset="0.617" stop-color="#27b2ec"/><stop offset="0.649" stop-color="#2388f2"/><stop offset="0.713" stop-color="#2182f3"/><stop offset="0.785" stop-color="#1749f5"/><stop offset="0.809" stop-color="#174df5"/><stop offset="0.817" stop-color="#1542f4"/><stop offset="0.825" stop-color="#1e70f5"/><stop offset="0.849" stop-color="#2597f0"/><stop offset="0.857" stop-color="#27bbea"/><stop offset="0.873" stop-color="#28cbe1"/><stop offset="0.897" stop-color="#28cae4"/><stop offset="0.905" stop-color="#27b7eb"/><stop offset="0.913" stop-color="#2492f1"/><stop offset="0.937" stop-color="#1c65f5"/><stop offset="0.962" stop-color="#1e6df5"/><stop offset="0.986" stop-color="#2493f1"/><stop offset="1.000" stop-color="#28c5e9"/></linearGradient><linearGradient id="fr46"><stop offset="0.000" stop-color="#1852f5"/><stop offset="0.304" stop-color="#1852f5"/><stop offset="0.312" stop-color="#1542f4"/><stop offset="0.321" stop-color="#1542f4"/><stop offset="0.329" stop-color="#1954f5"/><stop offset="0.513" stop-color="#248ef1"/><stop offset="0.577" stop-color="#2490f1"/><stop offset="0.657" stop-color="#1438f0"/><stop offset="0.689" stop-color="#1541f3"/><stop offset="0.737" stop-color="#1d69f5"/><stop offset="0.793" stop-color="#1a59f5"/><stop offset="0.801" stop-color="#1b5ff5"/><stop offset="0.817" stop-color="#1646f5"/><stop offset="0.825" stop-color="#2077f4"/><stop offset="0.865" stop-color="#2699f0"/><stop offset="0.913" stop-color="#248df2"/><stop offset="0.946" stop-color="#1e6df5"/><stop offset="1.000" stop-color="#269af0"/></linearGradient><linearGradient id="fr47"><stop offset="0.000" stop-color="#1956f5"/><stop offset="0.304" stop-color="#1956f5"/><stop offset="0.312" stop-color="#1644f4"/><stop offset="0.321" stop-color="#1644f4"/><stop offset="0.329" stop-color="#1957f5"/><stop offset="0.513" stop-color="#2389f2"/><stop offset="0.521" stop-color="#26a3ef"/><stop offset="0.569" stop-color="#269fef"/><stop offset="0.625" stop-color="#1b5df5"/><stop offset="0.665" stop-color="#1437f0"/><stop offset="0.705" stop-color="#1a58f5"/><stop offset="0.745" stop-color="#207cf3"/><stop offset="0.801" stop-color="#2078f4"/><stop offset="0.817" stop-color="#174df5"/><stop offset="0.825" stop-color="#238bf2"/><stop offset="0.873" stop-color="#27aaed"/><stop offset="0.913" stop-color="#269fef"/><stop offset="0.954" stop-color="#2389f2"/><stop offset="1.000" stop-color="#27aaed"/></linearGradient><linearGradient id="fr48"><stop offset="0.000" stop-color="#63dd5d"/><stop offset="0.513" stop-color="#62dd5d"/><stop offset="0.521" stop-color="#94d543"/><stop offset="0.569" stop-color="#7fdc49"/><stop offset="0.609" stop-color="#41dc78"/><stop offset="0.649" stop-color="#28d2ce"/><stop offset="0.681" stop-color="#28d2cd"/><stop offset="0.729" stop-color="#45dc75"/><stop offset="0.769" stop-color="#44dc76"/><stop offset="0.809" stop-color="#4edd6e"/><stop offset="0.865" stop-color="#71de51"/><stop offset="0.921" stop-color="#67dd5a"/><stop offset="0.954" stop-color="#5add64"/><stop offset="1.000" stop-color="#72de50"/></linearGradient><linearGradient id="fr49"><stop offset="0.000" stop-color="#c4bd37"/><stop offset="0.545" stop-color="#c4be37"/><stop offset="0.617" stop-color="#67dd59"/><stop offset="0.665" stop-color="#53dd6a"/><stop offset="0.737" stop-color="#76de4d"/><stop offset="0.793" stop-color="#62dd5d"/><stop offset="0.865" stop-color="#83da48"/><stop offset="0.962" stop-color="#79de4b"/><stop offset="1.000" stop-color="#84da47"/></linearGradient><linearGradient id="fr50"><stop offset="0.000" stop-color="#b2c83a"/><stop offset="0.513" stop-color="#b2c83a"/><stop offset="0.521" stop-color="#c3be37"/><stop offset="0.561" stop-color="#b2c83a"/><stop offset="0.617" stop-color="#66dd5a"/><stop offset="0.665" stop-color="#46dc74"/><stop offset="0.737" stop-color="#78de4b"/><stop offset="0.801" stop-color="#6fde52"/><stop offset="0.873" stop-color="#8bd745"/><stop offset="0.962" stop-color="#81db48"/><stop offset="1.000" stop-color="#8bd745"/></linearGradient><linearGradient id="fr51"><stop offset="0.000" stop-color="#2cd5ba"/><stop offset="0.513" stop-color="#2cd5bb"/><stop offset="0.521" stop-color="#48dc73"/><stop offset="0.561" stop-color="#3cdc7d"/><stop offset="0.617" stop-color="#28c9e6"/><stop offset="0.649" stop-color="#248ff1"/><stop offset="0.681" stop-color="#248ff1"/><stop offset="0.721" stop-color="#28ccde"/><stop offset="0.753" stop-color="#28d3cb"/><stop offset="0.801" stop-color="#28d3ca"/><stop offset="0.849" stop-color="#36da94"/><stop offset="0.913" stop-color="#35d996"/><stop offset="0.946" stop-color="#2ed6b1"/><stop offset="1.000" stop-color="#38da8d"/></linearGradient><linearGradient id="fr52"><stop offset="0.000" stop-color="#1955f5"/><stop offset="0.369" stop-color="#1b5df5"/><stop offset="0.553" stop-color="#2596f1"/><stop offset="0.601" stop-color="#2079f4"/><stop offset="0.657" stop-color="#1437f0"/><stop offset="0.689" stop-color="#1541f3"/><stop offset="0.745" stop-color="#1f75f4"/><stop offset="0.801" stop-color="#1f73f4"/><stop offset="0.865" stop-color="#269bf0"/><stop offset="0.921" stop-color="#2490f1"/><stop offset="0.954" stop-color="#2283f3"/><stop offset="1.000" stop-color="#269cf0"/></linearGradient><linearGradient id="fr53"><stop offset="0.000" stop-color="#1953f5"/><stop offset="0.369" stop-color="#1a5cf5"/><stop offset="0.561" stop-color="#2593f1"/><stop offset="0.609" stop-color="#1f72f5"/><stop offset="0.657" stop-color="#1540f3"/><stop offset="0.697" stop-color="#1850f5"/><stop offset="0.737" stop-color="#1e6df5"/><stop offset="0.793" stop-color="#1a5cf5"/><stop offset="0.865" stop-color="#2597f0"/><stop offset="0.913" stop-color="#238df2"/><stop offset="0.946" stop-color="#1e6ff5"/><stop offset="1.000" stop-color="#2598f0"/></linearGradient><linearGradient id="fr54"><stop offset="0.000" stop-color="#1957f5"/><stop offset="0.377" stop-color="#1b61f5"/><stop offset="0.417" stop-color="#1f71f5"/><stop offset="0.465" stop-color="#2492f1"/><stop offset="0.529" stop-color="#28c9e5"/><stop offset="0.585" stop-color="#28c5e9"/><stop offset="0.649" stop-color="#217df3"/><stop offset="0.721" stop-color="#2079f4"/><stop offset="0.785" stop-color="#174cf5"/><stop offset="0.825" stop-color="#1f76f4"/><stop offset="0.849" stop-color="#2595f1"/><stop offset="0.865" stop-color="#27bcea"/><stop offset="0.897" stop-color="#27baea"/><stop offset="0.929" stop-color="#1f71f5"/><stop offset="0.954" stop-color="#1c66f5"/><stop offset="0.986" stop-color="#2492f1"/><stop offset="1.000" stop-color="#27b5eb"/></linearGradient><linearGradient id="fr55"><stop offset="0.000" stop-color="#1a5bf5"/><stop offset="0.377" stop-color="#1c64f5"/><stop offset="0.409" stop-color="#1e6cf5"/><stop offset="0.425" stop-color="#26a1ef"/><stop offset="0.433" stop-color="#28c9e6"/><stop offset="0.449" stop-color="#29d4c5"/><stop offset="0.481" stop-color="#28d4c8"/><stop offset="0.489" stop-color="#38db8a"/><stop offset="0.505" stop-color="#77de4c"/><stop offset="0.521" stop-color="#9fd13f"/><stop offset="0.617" stop-color="#94d442"/><stop offset="0.689" stop-color="#7edc49"/><stop offset="0.705" stop-color="#41dc79"/><stop offset="0.713" stop-color="#2bd5bc"/><stop offset="0.721" stop-color="#28beea"/><stop offset="0.729" stop-color="#2287f2"/><stop offset="0.737" stop-color="#1e6ff5"/><stop offset="0.785" stop-color="#1541f3"/><stop offset="0.817" stop-color="#1c63f5"/><stop offset="0.841" stop-color="#2287f2"/><stop offset="0.849" stop-color="#27b7eb"/><stop offset="0.857" stop-color="#3adb86"/><stop offset="0.865" stop-color="#68dd58"/><stop offset="0.897" stop-color="#66dd5a"/><stop offset="0.905" stop-color="#39db89"/><stop offset="0.913" stop-color="#27afec"/><stop offset="0.921" stop-color="#2078f4"/><stop offset="0.946" stop-color="#1a59f5"/><stop offset="0.978" stop-color="#2285f2"/><stop offset="0.986" stop-color="#269af0"/><stop offset="0.994" stop-color="#32d8a4"/><stop offset="1.000" stop-color="#45dc75"/></linearGradient><linearGradient id="fr56"><stop offset="0.000" stop-color="#1b5ff5"/><stop offset="0.377" stop-color="#1d68f5"/><stop offset="0.409" stop-color="#1e6ff5"/><stop offset="0.417" stop-color="#2490f1"/><stop offset="0.425" stop-color="#28cae2"/><stop offset="0.441" stop-color="#48dc73"/><stop offset="0.449" stop-color="#59dd65"/><stop offset="0.473" stop-color="#52dd6b"/><stop offset="0.481" stop-color="#39db8a"/><stop offset="0.489" stop-color="#6ede53"/><stop offset="0.505" stop-color="#edad2b"/><stop offset="0.521" stop-color="#f3e528"/><stop offset="0.681" stop-color="#f3e628"/><stop offset="0.689" stop-color="#f5d228"/><stop offset="0.697" stop-color="#f0ae2a"/><stop offset="0.705" stop-color="#bcc238"/><stop offset="0.713" stop-color="#76de4d"/><stop offset="0.721" stop-color="#2ed6b2"/><stop offset="0.729" stop-color="#2595f1"/><stop offset="0.737" stop-color="#1f72f5"/><stop offset="0.785" stop-color="#153cf2"/><stop offset="0.817" stop-color="#1b60f5"/><stop offset="0.841" stop-color="#2285f2"/><stop offset="0.849" stop-color="#28d2ce"/><stop offset="0.857" stop-color="#b5c73a"/><stop offset="0.865" stop-color="#f5b628"/><stop offset="0.897" stop-color="#f5b128"/><stop offset="0.905" stop-color="#b4c73a"/><stop offset="0.913" stop-color="#28d0d2"/><stop offset="0.921" stop-color="#1f72f5"/><stop offset="0.946" stop-color="#1953f5"/><stop offset="0.978" stop-color="#2283f3"/><stop offset="0.986" stop-color="#27aded"/><stop offset="0.994" stop-color="#91d543"/><stop offset="1.000" stop-color="#ceb834"/></linearGradient><linearGradient id="fr57"><stop offset="0.000" stop-color="#1c63f5"/><stop offset="0.385" stop-color="#1e6df5"/><stop offset="0.409" stop-color="#1f72f5"/><stop offset="0.417" stop-color="#2387f2"/><stop offset="0.433" stop-color="#28cdda"/><stop offset="0.449" stop-color="#30d7a9"/><stop offset="0.473" stop-color="#2fd7ad"/><stop offset="0.481" stop-color="#2bd5be"/><stop offset="0.489" stop-color="#42dc78"/><stop offset="0.497" stop-color="#6cde55"/><stop offset="0.513" stop-color="#aecb3b"/><stop offset="0.529" stop-color="#bfc138"/><stop offset="0.681" stop-color="#b3c83a"/><stop offset="0.697" stop-color="#8ed644"/><stop offset="0.705" stop-color="#66dd5a"/><stop offset="0.713" stop-color="#36da92"/><stop offset="0.721" stop-color="#28cbe0"/><stop offset="0.729" stop-color="#238df2"/><stop offset="0.745" stop-color="#1e6df5"/><stop offset="0.785" stop-color="#153ef2"/><stop offset="0.817" stop-color="#1c62f5"/><stop offset="0.841" stop-color="#2286f2"/><stop offset="0.849" stop-color="#28cfd7"/><stop offset="0.857" stop-color="#9cd240"/><stop offset="0.865" stop-color="#eaad2c"/><stop offset="0.897" stop-color="#e8ac2c"/><stop offset="0.905" stop-color="#97d442"/><stop offset="0.913" stop-color="#28cbe1"/><stop offset="0.921" stop-color="#1e6ff5"/><stop offset="0.946" stop-color="#1852f5"/><stop offset="0.978" stop-color="#2284f3"/><stop offset="0.986" stop-color="#27a9ed"/><stop offset="0.994" stop-color="#7fdb49"/><stop offset="1.000" stop-color="#b4c73a"/></linearGradient><linearGradient id="fr58"><stop offset="0.000" stop-color="#1d67f5"/><stop offset="0.385" stop-color="#1e70f5"/><stop offset="0.417" stop-color="#217df3"/><stop offset="0.457" stop-color="#26a1ef"/><stop offset="0.481" stop-color="#27b1ec"/><stop offset="0.521" stop-color="#28d0d2"/><stop offset="0.609" stop-color="#28cfd5"/><stop offset="0.697" stop-color="#28c2e9"/><stop offset="0.745" stop-color="#1f73f4"/><stop offset="0.785" stop-color="#1647f5"/><stop offset="0.817" stop-color="#1d67f5"/><stop offset="0.841" stop-color="#2287f2"/><stop offset="0.849" stop-color="#26a5ee"/><stop offset="0.857" stop-color="#29d4c6"/><stop offset="0.865" stop-color="#36da92"/><stop offset="0.897" stop-color="#30d7aa"/><stop offset="0.905" stop-color="#28ced8"/><stop offset="0.913" stop-color="#248ef1"/><stop offset="0.921" stop-color="#1e6cf5"/><stop offset="0.946" stop-color="#1a58f5"/><stop offset="0.978" stop-color="#2287f2"/><stop offset="0.986" stop-color="#2699f0"/><stop offset="0.994" stop-color="#28d3ca"/><stop offset="1.000" stop-color="#32d8a3"/></linearGradient><linearGradient id="fr59"><stop offset="0.000" stop-color="#1d6bf5"/><stop offset="0.385" stop-color="#1f74f4"/><stop offset="0.585" stop-color="#269fef"/><stop offset="0.697" stop-color="#2491f1"/><stop offset="0.745" stop-color="#217df3"/><stop offset="0.785" stop-color="#1957f5"/><stop offset="0.825" stop-color="#207af4"/><stop offset="0.865" stop-color="#2598f0"/><stop offset="0.913" stop-color="#1f74f4"/><stop offset="0.946" stop-color="#1b61f5"/><stop offset="1.000" stop-color="#27b1ec"/></linearGradient><linearGradient id="fr60"><stop offset="0.000" stop-color="#1e6ef5"/><stop offset="0.385" stop-color="#2077f4"/><stop offset="0.601" stop-color="#26a1ef"/><stop offset="0.625" stop-color="#27bcea"/><stop offset="0.729" stop-color="#27b3ec"/><stop offset="0.785" stop-color="#217df3"/><stop offset="0.817" stop-color="#207bf4"/><stop offset="0.857" stop-color="#238af2"/><stop offset="0.929" stop-color="#1d68f5"/><stop offset="0.937" stop-color="#1d67f5"/><stop offset="0.994" stop-color="#28c3e9"/><stop offset="1.000" stop-color="#28c5e8"/></linearGradient><linearGradient id="fr61"><stop offset="0.000" stop-color="#1f71f5"/><stop offset="0.393" stop-color="#207bf4"/><stop offset="0.593" stop-color="#269bf0"/><stop offset="0.601" stop-color="#28cae4"/><stop offset="0.609" stop-color="#35d999"/><stop offset="0.617" stop-color="#5bdd64"/><stop offset="0.625" stop-color="#72de50"/><stop offset="0.737" stop-color="#67dd59"/><stop offset="0.785" stop-color="#3bdc80"/><stop offset="0.801" stop-color="#28c1e9"/><stop offset="0.809" stop-color="#2287f2"/><stop offset="0.857" stop-color="#2388f2"/><stop offset="0.905" stop-color="#1d68f5"/><stop offset="0.937" stop-color="#1e6ef5"/><stop offset="0.946" stop-color="#28c9e6"/><stop offset="0.954" stop-color="#39db88"/><stop offset="0.978" stop-color="#5ddd61"/><stop offset="1.000" stop-color="#6ade57"/></linearGradient><linearGradient id="fr62"><stop offset="0.000" stop-color="#2078f4"/><stop offset="0.401" stop-color="#2282f3"/><stop offset="0.593" stop-color="#269fef"/><stop offset="0.601" stop-color="#28d2cd"/><stop offset="0.609" stop-color="#6bde56"/><stop offset="0.617" stop-color="#afca3b"/><stop offset="0.625" stop-color="#d5b532"/><stop offset="0.737" stop-color="#cdb934"/><stop offset="0.785" stop-color="#abcc3c"/><stop offset="0.793" stop-color="#7add4a"/><stop offset="0.801" stop-color="#31d8a6"/><stop offset="0.809" stop-color="#2596f1"/><stop offset="0.865" stop-color="#2282f3"/><stop offset="0.905" stop-color="#1d67f5"/><stop offset="0.937" stop-color="#1f74f4"/><stop offset="0.946" stop-color="#35d998"/><stop offset="0.954" stop-color="#98d342"/><stop offset="0.978" stop-color="#b9c439"/><stop offset="1.000" stop-color="#c1bf37"/></linearGradient><linearGradient id="fr63"><stop offset="0.000" stop-color="#217ff3"/><stop offset="0.409" stop-color="#2389f2"/><stop offset="0.593" stop-color="#26a2ef"/><stop offset="0.601" stop-color="#28c8e7"/><stop offset="0.617" stop-color="#46dc75"/><stop offset="0.625" stop-color="#5add64"/><stop offset="0.761" stop-color="#4fdd6e"/><stop offset="0.785" stop-color="#42dc78"/><stop offset="0.801" stop-color="#28cddc"/><stop offset="0.809" stop-color="#2699f0"/><stop offset="0.865" stop-color="#2286f2"/><stop offset="0.905" stop-color="#1d6bf5"/><stop offset="0.937" stop-color="#2078f4"/><stop offset="0.946" stop-color="#28c8e8"/><stop offset="0.954" stop-color="#34d99d"/><stop offset="0.970" stop-color="#40dc7a"/><stop offset="1.000" stop-color="#51dd6b"/></linearGradient><linearGradient id="fr64"><stop offset="0.000" stop-color="#2286f2"/><stop offset="0.425" stop-color="#2490f1"/><stop offset="0.601" stop-color="#27abed"/><stop offset="0.633" stop-color="#28c2e9"/><stop offset="0.785" stop-color="#27b5eb"/><stop offset="0.817" stop-color="#269df0"/><stop offset="0.873" stop-color="#2284f3"/><stop offset="0.921" stop-color="#1f74f4"/><stop offset="0.946" stop-color="#2287f2"/><stop offset="0.994" stop-color="#28bdea"/><stop offset="1.000" stop-color="#28bfea"/></linearGradient><linearGradient id="fr65"><stop offset="0.000" stop-color="#248df2"/><stop offset="0.457" stop-color="#2699f0"/><stop offset="0.737" stop-color="#27a9ee"/><stop offset="0.849" stop-color="#269cf0"/><stop offset="0.929" stop-color="#2079f4"/><stop offset="1.000" stop-color="#27a8ee"/></linearGradient><linearGradient id="fr66"><stop offset="0.000" stop-color="#2492f1"/><stop offset="0.465" stop-color="#269df0"/><stop offset="0.665" stop-color="#27aded"/><stop offset="0.705" stop-color="#28c1e9"/><stop offset="0.849" stop-color="#27b6eb"/><stop offset="0.889" stop-color="#248df2"/><stop offset="0.946" stop-color="#2079f4"/><stop offset="0.978" stop-color="#2594f1"/><stop offset="0.994" stop-color="#27baea"/><stop offset="1.000" stop-color="#28beea"/></linearGradient><linearGradient id="fr67"><stop offset="0.000" stop-color="#2596f1"/><stop offset="0.473" stop-color="#26a2ef"/><stop offset="0.657" stop-color="#27abed"/><stop offset="0.665" stop-color="#28c7e8"/><stop offset="0.673" stop-color="#29d5c3"/><stop offset="0.681" stop-color="#38da8b"/><stop offset="0.689" stop-color="#4cdd70"/><stop offset="0.761" stop-color="#54dd69"/><stop offset="0.841" stop-color="#52dd6b"/><stop offset="0.849" stop-color="#43dc77"/><stop offset="0.865" stop-color="#28cfd5"/><stop offset="0.873" stop-color="#27aced"/><stop offset="0.881" stop-color="#2699f0"/><stop offset="0.946" stop-color="#1f76f4"/><stop offset="0.978" stop-color="#2593f1"/><stop offset="0.986" stop-color="#29d4c4"/><stop offset="0.994" stop-color="#3ddc7c"/><stop offset="1.000" stop-color="#41dc79"/></linearGradient><linearGradient id="fr68"><stop offset="0.000" stop-color="#269bf0"/><stop offset="0.481" stop-color="#27a6ee"/><stop offset="0.657" stop-color="#27aded"/><stop offset="0.665" stop-color="#28d3ca"/><stop offset="0.673" stop-color="#6ede53"/><stop offset="0.681" stop-color="#bac339"/><stop offset="0.689" stop-color="#edad2b"/><stop offset="0.841" stop-color="#f3af29"/><stop offset="0.849" stop-color="#e9ad2c"/><stop offset="0.857" stop-color="#a8ce3d"/><stop offset="0.865" stop-color="#53dd6a"/><stop offset="0.873" stop-color="#28c9e5"/><stop offset="0.881" stop-color="#26a1ef"/><stop offset="0.946" stop-color="#1f76f4"/><stop offset="0.978" stop-color="#2593f1"/><stop offset="0.986" stop-color="#71de50"/><stop offset="0.994" stop-color="#c5bd36"/><stop offset="1.000" stop-color="#c9bb35"/></linearGradient><linearGradient id="fr69"><stop offset="0.000" stop-color="#27a8ee"/><stop offset="0.657" stop-color="#27b0ec"/><stop offset="0.665" stop-color="#28d1cf"/><stop offset="0.673" stop-color="#5fdd60"/><stop offset="0.681" stop-color="#a6cf3d"/><stop offset="0.689" stop-color="#dcb130"/><stop offset="0.705" stop-color="#e9ad2c"/><stop offset="0.841" stop-color="#e9ad2c"/><stop offset="0.849" stop-color="#cfb834"/><stop offset="0.857" stop-color="#96d442"/><stop offset="0.865" stop-color="#48dc73"/><stop offset="0.873" stop-color="#28c9e5"/><stop offset="0.881" stop-color="#27a9ee"/><stop offset="0.946" stop-color="#207bf4"/><stop offset="0.978" stop-color="#2595f1"/><stop offset="0.986" stop-color="#62dd5d"/><stop offset="0.994" stop-color="#b1c93b"/><stop offset="1.000" stop-color="#b3c73a"/></linearGradient><linearGradient id="fr70"><stop offset="0.000" stop-color="#27b7eb"/><stop offset="0.657" stop-color="#27b3ec"/><stop offset="0.665" stop-color="#28c5e9"/><stop offset="0.689" stop-color="#36da92"/><stop offset="0.721" stop-color="#39db88"/><stop offset="0.841" stop-color="#39db89"/><stop offset="0.849" stop-color="#35d998"/><stop offset="0.865" stop-color="#28ced7"/><stop offset="0.873" stop-color="#27baea"/><stop offset="0.946" stop-color="#2284f3"/><stop offset="0.978" stop-color="#269af0"/><stop offset="0.986" stop-color="#28d1d1"/><stop offset="0.994" stop-color="#32d8a1"/><stop offset="1.000" stop-color="#34d99c"/></linearGradient><linearGradient id="fr71"><stop offset="0.000" stop-color="#28c6e8"/><stop offset="0.521" stop-color="#27b8eb"/><stop offset="0.673" stop-color="#27bcea"/><stop offset="0.857" stop-color="#28beea"/><stop offset="0.921" stop-color="#269af0"/><stop offset="0.954" stop-color="#248ff1"/><stop offset="0.978" stop-color="#26a1ef"/><stop offset="1.000" stop-color="#28c1e9"/></linearGradient><linearGradient id="fr72"><stop offset="0.000" stop-color="#28cbe1"/><stop offset="0.497" stop-color="#28bfea"/><stop offset="0.801" stop-color="#28c0e9"/><stop offset="0.905" stop-color="#27b8eb"/><stop offset="0.946" stop-color="#2698f0"/><stop offset="1.000" stop-color="#27b6eb"/></linearGradient><linearGradient id="fr73"><stop offset="0.000" stop-color="#28ced8"/><stop offset="0.433" stop-color="#28cae3"/><stop offset="0.753" stop-color="#27baea"/><stop offset="0.777" stop-color="#27baea"/><stop offset="0.793" stop-color="#29d5c3"/><stop offset="0.801" stop-color="#30d7ab"/><stop offset="0.897" stop-color="#30d7a9"/><stop offset="0.905" stop-color="#2ed6b1"/><stop offset="0.921" stop-color="#28cae3"/><stop offset="0.929" stop-color="#27aaed"/><stop offset="0.978" stop-color="#27b2ec"/><stop offset="1.000" stop-color="#27b9eb"/></linearGradient><linearGradient id="fr74"><stop offset="0.000" stop-color="#28d4c9"/><stop offset="0.401" stop-color="#28d0d3"/><stop offset="0.609" stop-color="#28bfea"/><stop offset="0.777" stop-color="#28bfea"/><stop offset="0.785" stop-color="#39db87"/><stop offset="0.793" stop-color="#82da48"/><stop offset="0.801" stop-color="#aecb3b"/><stop offset="0.849" stop-color="#b7c539"/><stop offset="0.897" stop-color="#b6c63a"/><stop offset="0.905" stop-color="#accc3c"/><stop offset="0.913" stop-color="#7fdc49"/><stop offset="0.921" stop-color="#37da91"/><stop offset="0.929" stop-color="#27b6eb"/><stop offset="1.000" stop-color="#28beea"/></linearGradient><linearGradient id="fr75"><stop offset="0.000" stop-color="#32d8a2"/><stop offset="0.777" stop-color="#32d8a2"/><stop offset="0.785" stop-color="#42dc78"/><stop offset="0.793" stop-color="#92d543"/><stop offset="0.801" stop-color="#c0c038"/><stop offset="0.817" stop-color="#cdb934"/><stop offset="0.897" stop-color="#ccb934"/><stop offset="0.905" stop-color="#bfc138"/><stop offset="0.913" stop-color="#90d644"/><stop offset="0.921" stop-color="#3fdc7a"/><stop offset="0.929" stop-color="#31d7a8"/><stop offset="1.000" stop-color="#32d8a3"/></linearGradient><linearGradient id="fr76"><stop offset="0.000" stop-color="#33d89e"/><stop offset="0.777" stop-color="#33d89e"/><stop offset="0.785" stop-color="#37da8f"/><stop offset="0.793" stop-color="#4ddd6f"/><stop offset="0.809" stop-color="#64dd5b"/><stop offset="0.905" stop-color="#60dd5f"/><stop offset="0.913" stop-color="#4cdd70"/><stop offset="0.921" stop-color="#37da92"/><stop offset="0.937" stop-color="#32d8a1"/><stop offset="1.000" stop-color="#33d89e"/></linearGradient><linearGradient id="fr77"><stop offset="0.000" stop-color="#34d99a"/><stop offset="0.793" stop-color="#36da94"/><stop offset="0.913" stop-color="#36d994"/><stop offset="1.000" stop-color="#34d99a"/></linearGradient><linearGradient id="fr78"><stop offset="0.000" stop-color="#32d8a3"/><stop offset="0.849" stop-color="#32d8a3"/><stop offset="0.873" stop-color="#39db89"/><stop offset="0.954" stop-color="#37da8f"/><stop offset="0.978" stop-color="#32d8a3"/><stop offset="1.000" stop-color="#32d8a3"/></linearGradient><linearGradient id="fr79"><stop offset="0.000" stop-color="#30d7a9"/><stop offset="0.849" stop-color="#30d7a9"/><stop offset="0.857" stop-color="#56dd68"/><stop offset="0.865" stop-color="#7fdc49"/><stop offset="0.881" stop-color="#8ed745"/><stop offset="0.946" stop-color="#8cd745"/><stop offset="0.954" stop-color="#77de4c"/><stop offset="0.962" stop-color="#47dc74"/><stop offset="0.970" stop-color="#30d7a9"/><stop offset="1.000" stop-color="#30d7a9"/></linearGradient><linearGradient id="fr80"><stop offset="0.000" stop-color="#2fd7af"/><stop offset="0.849" stop-color="#2fd7af"/><stop offset="0.857" stop-color="#98d341"/><stop offset="0.865" stop-color="#edad2b"/><stop offset="0.873" stop-color="#f5be28"/><stop offset="0.946" stop-color="#f5ba28"/><stop offset="0.954" stop-color="#e3ae2e"/><stop offset="0.962" stop-color="#7bdd4a"/><stop offset="0.970" stop-color="#2fd7af"/><stop offset="1.000" stop-color="#2fd7af"/></linearGradient><linearGradient id="fr81"><stop offset="0.000" stop-color="#2dd6b6"/><stop offset="0.849" stop-color="#2ed6b1"/><stop offset="0.857" stop-color="#87d947"/><stop offset="0.865" stop-color="#d3b632"/><stop offset="0.873" stop-color="#ecad2b"/><stop offset="0.946" stop-color="#ebad2b"/><stop offset="0.954" stop-color="#bec138"/><stop offset="0.962" stop-color="#6cde55"/><stop offset="0.970" stop-color="#2dd6b6"/><stop offset="1.000" stop-color="#2dd6b6"/></linearGradient><linearGradient id="fr82"><stop offset="0.000" stop-color="#2bd5bc"/><stop offset="0.849" stop-color="#2cd6b9"/><stop offset="0.857" stop-color="#3adb84"/><stop offset="0.865" stop-color="#51dd6b"/><stop offset="0.897" stop-color="#5cdd63"/><stop offset="0.946" stop-color="#5bdd63"/><stop offset="0.954" stop-color="#4bdd70"/><stop offset="0.970" stop-color="#2bd5bc"/><stop offset="1.000" stop-color="#2bd5bc"/></linearGradient><linearGradient id="fr83"><stop offset="0.000" stop-color="#2ad5c1"/><stop offset="0.857" stop-color="#2cd5ba"/><stop offset="0.962" stop-color="#2bd5bb"/><stop offset="1.000" stop-color="#2bd5bf"/></linearGradient><linearGradient id="fr84"><stop offset="0.000" stop-color="#29d4c4"/><stop offset="0.954" stop-color="#29d4c4"/><stop offset="0.970" stop-color="#31d7a7"/><stop offset="1.000" stop-color="#31d8a5"/></linearGradient><linearGradient id="fr85"><stop offset="0.000" stop-color="#28d4c8"/><stop offset="0.954" stop-color="#28d4c8"/><stop offset="0.962" stop-color="#3cdc7e"/><stop offset="0.970" stop-color="#77de4c"/><stop offset="1.000" stop-color="#7edc49"/></linearGradient><linearGradient id="fr86"><stop offset="0.000" stop-color="#28d4c8"/><stop offset="0.954" stop-color="#28d4c8"/><stop offset="0.962" stop-color="#6dde54"/><stop offset="0.970" stop-color="#dbb230"/><stop offset="0.986" stop-color="#e8ac2c"/><stop offset="1.000" stop-color="#e8ac2c"/></linearGradient><linearGradient id="fr87"><stop offset="0.000" stop-color="#2ad5c2"/><stop offset="0.954" stop-color="#2ad5c2"/><stop offset="0.962" stop-color="#54dd69"/><stop offset="0.970" stop-color="#a3cf3e"/><stop offset="1.000" stop-color="#aecb3b"/></linearGradient><linearGradient id="fr88"><stop offset="0.000" stop-color="#2cd5ba"/><stop offset="0.954" stop-color="#2cd5ba"/><stop offset="0.970" stop-color="#3ddc7d"/><stop offset="1.000" stop-color="#40dc7a"/></linearGradient><linearGradient id="fr89"><stop offset="0.000" stop-color="#2fd7ad"/><stop offset="0.970" stop-color="#30d7aa"/><stop offset="0.994" stop-color="#34d99a"/><stop offset="1.000" stop-color="#34d99a"/></linearGradient><linearGradient id="fr90"><stop offset="0.000" stop-color="#31d8a7"/><stop offset="0.962" stop-color="#31d8a7"/><stop offset="0.970" stop-color="#35d996"/><stop offset="0.978" stop-color="#63dd5d"/><stop offset="0.994" stop-color="#72de50"/><stop offset="1.000" stop-color="#72de50"/></linearGradient><linearGradient id="fr91"><stop offset="0.000" stop-color="#32d8a1"/><stop offset="0.962" stop-color="#32d8a1"/><stop offset="0.970" stop-color="#3cdc7d"/><stop offset="0.978" stop-color="#b4c73a"/><stop offset="0.986" stop-color="#d7b431"/><stop offset="1.000" stop-color="#d7b431"/></linearGradient><linearGradient id="fr92"><stop offset="0.000" stop-color="#34d99b"/><stop offset="0.962" stop-color="#34d99b"/><stop offset="0.970" stop-color="#3bdc81"/><stop offset="0.978" stop-color="#a2d03e"/><stop offset="0.986" stop-color="#bcc238"/><stop offset="1.000" stop-color="#bcc238"/></linearGradient><linearGradient id="fr93"><stop offset="0.000" stop-color="#36d995"/><stop offset="0.970" stop-color="#37da8e"/><stop offset="0.978" stop-color="#54dd69"/><stop offset="1.000" stop-color="#5ddd61"/></linearGradient><linearGradient id="fr94"><stop offset="0.000" stop-color="#37da90"/><stop offset="1.000" stop-color="#39db88"/></linearGradient><linearGradient id="cb1" x1="0" y1="0" x2="1" y2="0"><stop offset="0.0000" stop-color="#101ee8"/><stop offset="0.0250" stop-color="#1228eb"/><stop offset="0.0500" stop-color="#1332ef"/><stop offset="0.0750" stop-color="#143cf2"/><stop offset="0.1000" stop-color="#1646f5"/><stop offset="0.1250" stop-color="#1850f5"/><stop offset="0.1500" stop-color="#1a5af5"/><stop offset="0.1750" stop-color="#1c64f5"/><stop offset="0.2000" stop-color="#1e6ef5"/><stop offset="0.2250" stop-color="#2079f4"/><stop offset="0.2500" stop-color="#2284f3"/><stop offset="0.2750" stop-color="#2490f1"/><stop offset="0.3000" stop-color="#269bf0"/><stop offset="0.3250" stop-color="#27aeed"/><stop offset="0.3500" stop-color="#28c1e9"/><stop offset="0.3750" stop-color="#28cbe0"/><stop offset="0.4000" stop-color="#28d0d3"/><stop offset="0.4250" stop-color="#29d5c3"/><stop offset="0.4500" stop-color="#30d7ac"/><stop offset="0.4750" stop-color="#36da94"/><stop offset="0.5000" stop-color="#3cdc7d"/><stop offset="0.5250" stop-color="#4bdd70"/><stop offset="0.5500" stop-color="#5add64"/><stop offset="0.5750" stop-color="#69de58"/><stop offset="0.6000" stop-color="#78de4b"/><stop offset="0.6250" stop-color="#85da47"/><stop offset="0.6500" stop-color="#91d643"/><stop offset="0.6750" stop-color="#9ed140"/><stop offset="0.7000" stop-color="#aacd3c"/><stop offset="0.7250" stop-color="#b6c63a"/><stop offset="0.7500" stop-color="#c3be37"/><stop offset="0.7750" stop-color="#d4b532"/><stop offset="0.8000" stop-color="#e6ac2d"/><stop offset="0.8250" stop-color="#ebad2b"/><stop offset="0.8500" stop-color="#efae2a"/><stop offset="0.8750" stop-color="#f4af28"/><stop offset="0.9000" stop-color="#f5bc28"/><stop offset="0.9250" stop-color="#f5cd28"/><stop offset="0.9500" stop-color="#f5de28"/><stop offset="0.9750" stop-color="#f3ea28"/><stop offset="1.0000" stop-color="#f0f528"/></linearGradient><linearGradient id="fr95"><stop offset="0.000" stop-color="#1850f5"/><stop offset="0.777" stop-color="#1954f5"/><stop offset="0.817" stop-color="#1a5bf5"/><stop offset="0.833" stop-color="#1f72f5"/><stop offset="0.857" stop-color="#1954f5"/><stop offset="0.873" stop-color="#1851f5"/><stop offset="0.889" stop-color="#1b5ef5"/><stop offset="0.905" stop-color="#1850f5"/><stop offset="0.929" stop-color="#1953f5"/><stop offset="0.937" stop-color="#1b61f5"/><stop offset="0.962" stop-color="#1850f5"/><stop offset="0.994" stop-color="#1b5ef5"/><stop offset="1.000" stop-color="#1852f5"/></linearGradient><linearGradient id="fr96"><stop offset="0.000" stop-color="#1850f5"/><stop offset="0.801" stop-color="#1954f5"/><stop offset="0.833" stop-color="#1d6bf5"/><stop offset="0.857" stop-color="#1953f5"/><stop offset="0.889" stop-color="#1a5af5"/><stop offset="0.921" stop-color="#1850f5"/><stop offset="0.937" stop-color="#1a5cf5"/><stop offset="0.970" stop-color="#1850f5"/><stop offset="0.994" stop-color="#1a5af5"/><stop offset="1.000" stop-color="#1851f5"/></linearGradient><linearGradient id="fr97"><stop offset="0.000" stop-color="#1850f5"/><stop offset="0.801" stop-color="#1956f5"/><stop offset="0.833" stop-color="#1b5ff5"/><stop offset="0.889" stop-color="#1851f5"/><stop offset="1.000" stop-color="#1850f5"/></linearGradient><linearGradient id="fr98"><stop offset="0.000" stop-color="#1850f5"/><stop offset="0.801" stop-color="#1957f5"/><stop offset="0.833" stop-color="#1a5cf5"/><stop offset="0.905" stop-color="#1850f5"/><stop offset="1.000" stop-color="#1850f5"/></linearGradient><linearGradient id="fr99"><stop offset="0.000" stop-color="#1850f5"/><stop offset="0.561" stop-color="#1957f5"/><stop offset="0.665" stop-color="#1b61f5"/><stop offset="0.769" stop-color="#1957f5"/><stop offset="0.833" stop-color="#1a5af5"/><stop offset="0.929" stop-color="#1850f5"/><stop offset="1.000" stop-color="#1850f5"/></linearGradient><linearGradient id="fr100"><stop offset="0.000" stop-color="#1850f5"/><stop offset="0.553" stop-color="#1956f5"/><stop offset="0.609" stop-color="#1e6cf5"/><stop offset="0.753" stop-color="#1c66f5"/><stop offset="0.793" stop-color="#1957f5"/><stop offset="0.825" stop-color="#1b5df5"/><stop offset="0.881" stop-color="#1851f5"/><stop offset="1.000" stop-color="#1850f5"/></linearGradient><linearGradient id="fr101"><stop offset="0.000" stop-color="#1850f5"/><stop offset="0.561" stop-color="#1957f5"/><stop offset="0.665" stop-color="#1b61f5"/><stop offset="0.801" stop-color="#1b5df5"/><stop offset="0.833" stop-color="#1c66f5"/><stop offset="0.857" stop-color="#1850f5"/><stop offset="0.889" stop-color="#1a5cf5"/><stop offset="0.905" stop-color="#1850f5"/><stop offset="0.929" stop-color="#1953f5"/><stop offset="0.937" stop-color="#1b5ff5"/><stop offset="0.962" stop-color="#1850f5"/><stop offset="0.994" stop-color="#1a5cf5"/><stop offset="1.000" stop-color="#1852f5"/></linearGradient><linearGradient id="fr102"><stop offset="0.000" stop-color="#1850f5"/><stop offset="0.777" stop-color="#1957f5"/><stop offset="0.833" stop-color="#1c64f5"/><stop offset="0.857" stop-color="#1850f5"/><stop offset="0.889" stop-color="#1a5cf5"/><stop offset="0.905" stop-color="#1850f5"/><stop offset="0.929" stop-color="#1953f5"/><stop offset="0.937" stop-color="#1b5ff5"/><stop offset="0.962" stop-color="#1850f5"/><stop offset="0.994" stop-color="#1a5cf5"/><stop offset="1.000" stop-color="#1852f5"/></linearGradient><linearGradient id="fr103"><stop offset="0.000" stop-color="#1850f5"/><stop offset="0.777" stop-color="#1954f5"/><stop offset="0.817" stop-color="#1a5cf5"/><stop offset="0.889" stop-color="#1851f5"/><stop offset="1.000" stop-color="#1850f5"/></linearGradient><linearGradient id="fr104"><stop offset="0.000" stop-color="#1850f5"/><stop offset="0.777" stop-color="#1955f5"/><stop offset="0.809" stop-color="#1b5ff5"/><stop offset="0.873" stop-color="#1850f5"/><stop offset="1.000" stop-color="#1850f5"/></linearGradient><linearGradient id="fr105"><stop offset="0.000" stop-color="#1850f5"/><stop offset="0.777" stop-color="#1956f5"/><stop offset="0.809" stop-color="#1b5df5"/><stop offset="0.873" stop-color="#1850f5"/><stop offset="1.000" stop-color="#1850f5"/></linearGradient><linearGradient id="fr106"><stop offset="0.000" stop-color="#1850f5"/><stop offset="0.449" stop-color="#1953f5"/><stop offset="0.505" stop-color="#2077f4"/><stop offset="0.697" stop-color="#1f74f4"/><stop offset="0.753" stop-color="#1850f5"/><stop offset="0.801" stop-color="#1b5ff5"/><stop offset="0.873" stop-color="#1850f5"/><stop offset="1.000" stop-color="#1850f5"/></linearGradient><linearGradient id="fr107"><stop offset="0.000" stop-color="#1850f5"/><stop offset="0.449" stop-color="#1954f5"/><stop offset="0.497" stop-color="#2286f2"/><stop offset="0.697" stop-color="#2282f3"/><stop offset="0.745" stop-color="#1851f5"/><stop offset="0.777" stop-color="#1b5df5"/><stop offset="0.801" stop-color="#1b5ef5"/><stop offset="0.825" stop-color="#1954f5"/><stop offset="0.833" stop-color="#1b5df5"/><stop offset="0.865" stop-color="#1850f5"/><stop offset="0.889" stop-color="#1a5af5"/><stop offset="0.921" stop-color="#1850f5"/><stop offset="0.937" stop-color="#1a5cf5"/><stop offset="0.970" stop-color="#1850f5"/><stop offset="0.994" stop-color="#1a5af5"/><stop offset="1.000" stop-color="#1851f5"/></linearGradient><linearGradient id="fr108"><stop offset="0.000" stop-color="#1850f5"/><stop offset="0.465" stop-color="#1956f5"/><stop offset="0.617" stop-color="#1b5ff5"/><stop offset="0.721" stop-color="#1956f5"/><stop offset="0.769" stop-color="#1957f5"/><stop offset="0.785" stop-color="#1d67f5"/><stop offset="0.825" stop-color="#1954f5"/><stop offset="0.833" stop-color="#1c62f5"/><stop offset="0.857" stop-color="#1850f5"/><stop offset="0.889" stop-color="#1b5ef5"/><stop offset="0.905" stop-color="#1850f5"/><stop offset="0.929" stop-color="#1953f5"/><stop offset="0.937" stop-color="#1b61f5"/><stop offset="0.962" stop-color="#1850f5"/><stop offset="0.994" stop-color="#1b5ef5"/><stop offset="1.000" stop-color="#1852f5"/></linearGradient><linearGradient id="fr109"><stop offset="0.000" stop-color="#1850f5"/><stop offset="0.761" stop-color="#1954f5"/><stop offset="0.793" stop-color="#1b5ff5"/><stop offset="0.857" stop-color="#1850f5"/><stop offset="1.000" stop-color="#1850f5"/></linearGradient><linearGradient id="fr110"><stop offset="0.000" stop-color="#1850f5"/><stop offset="0.761" stop-color="#1956f5"/><stop offset="0.793" stop-color="#1b5ef5"/><stop offset="0.857" stop-color="#1850f5"/><stop offset="1.000" stop-color="#1850f5"/></linearGradient><linearGradient id="fr111"><stop offset="0.000" stop-color="#1850f5"/><stop offset="0.753" stop-color="#1954f5"/><stop offset="0.785" stop-color="#1b5ff5"/><stop offset="0.849" stop-color="#1850f5"/><stop offset="1.000" stop-color="#1850f5"/></linearGradient><linearGradient id="fr112"><stop offset="0.000" stop-color="#1850f5"/><stop offset="0.753" stop-color="#1955f5"/><stop offset="0.785" stop-color="#1b5ef5"/><stop offset="0.849" stop-color="#1850f5"/><stop offset="1.000" stop-color="#1850f5"/></linearGradient><linearGradient id="fr113"><stop offset="0.000" stop-color="#1850f5"/><stop offset="0.753" stop-color="#1957f5"/><stop offset="0.785" stop-color="#1b61f5"/><stop offset="0.817" stop-color="#1850f5"/><stop offset="0.833" stop-color="#1a5af5"/><stop offset="0.873" stop-color="#1850f5"/><stop offset="0.889" stop-color="#1a58f5"/><stop offset="0.929" stop-color="#1852f5"/><stop offset="0.937" stop-color="#1a5af5"/><stop offset="0.978" stop-color="#1850f5"/><stop offset="1.000" stop-color="#1851f5"/></linearGradient><linearGradient id="fr114"><stop offset="0.000" stop-color="#1850f5"/><stop offset="0.745" stop-color="#1954f5"/><stop offset="0.785" stop-color="#1c64f5"/><stop offset="0.809" stop-color="#1851f5"/><stop offset="0.825" stop-color="#1953f5"/><stop offset="0.833" stop-color="#1c63f5"/><stop offset="0.857" stop-color="#1850f5"/><stop offset="0.873" stop-color="#1850f5"/><stop offset="0.889" stop-color="#1b5ff5"/><stop offset="0.905" stop-color="#1850f5"/><stop offset="0.929" stop-color="#1953f5"/><stop offset="0.937" stop-color="#1c63f5"/><stop offset="0.962" stop-color="#1850f5"/><stop offset="0.978" stop-color="#1850f5"/><stop offset="0.994" stop-color="#1b5ff5"/><stop offset="1.000" stop-color="#1852f5"/></linearGradient><linearGradient id="fr115"><stop offset="0.000" stop-color="#1850f5"/><stop offset="0.745" stop-color="#1956f5"/><stop offset="0.777" stop-color="#1b5ff5"/><stop offset="0.825" stop-color="#1851f5"/><stop offset="1.000" stop-color="#1851f5"/></linearGradient><linearGradient id="fr116"><stop offset="0.000" stop-color="#1850f5"/><stop offset="0.745" stop-color="#1957f5"/><stop offset="0.777" stop-color="#1a5cf5"/><stop offset="0.849" stop-color="#1850f5"/><stop offset="1.000" stop-color="#1850f5"/></linearGradient><linearGradient id="fr117"><stop offset="0.000" stop-color="#1850f5"/><stop offset="0.737" stop-color="#1955f5"/><stop offset="0.769" stop-color="#1b5ff5"/><stop offset="0.833" stop-color="#1850f5"/><stop offset="1.000" stop-color="#1850f5"/></linearGradient><linearGradient id="fr118"><stop offset="0.000" stop-color="#1850f5"/><stop offset="0.401" stop-color="#1955f5"/><stop offset="0.433" stop-color="#1f75f4"/><stop offset="0.489" stop-color="#27abed"/><stop offset="0.521" stop-color="#28cbe1"/><stop offset="0.545" stop-color="#28cdd9"/><stop offset="0.553" stop-color="#28d3ca"/><stop offset="0.561" stop-color="#3bdc80"/><stop offset="0.641" stop-color="#3bdc7f"/><stop offset="0.649" stop-color="#38db8b"/><stop offset="0.657" stop-color="#28ced9"/><stop offset="0.681" stop-color="#28ced9"/><stop offset="0.689" stop-color="#2287f2"/><stop offset="0.697" stop-color="#1850f5"/><stop offset="0.769" stop-color="#1b5df5"/><stop offset="0.833" stop-color="#1850f5"/><stop offset="1.000" stop-color="#1850f5"/></linearGradient><linearGradient id="fr119"><stop offset="0.000" stop-color="#1850f5"/><stop offset="0.393" stop-color="#1850f5"/><stop offset="0.401" stop-color="#1a5af5"/><stop offset="0.417" stop-color="#2389f2"/><stop offset="0.441" stop-color="#27b3ec"/><stop offset="0.449" stop-color="#28c8e8"/><stop offset="0.465" stop-color="#29d4c6"/><stop offset="0.489" stop-color="#47dc74"/><stop offset="0.513" stop-color="#78de4b"/><stop offset="0.545" stop-color="#91d644"/><stop offset="0.553" stop-color="#aeca3b"/><stop offset="0.561" stop-color="#f3af29"/><stop offset="0.649" stop-color="#efae2a"/><stop offset="0.657" stop-color="#91d543"/><stop offset="0.681" stop-color="#91d543"/><stop offset="0.689" stop-color="#28cdda"/><stop offset="0.697" stop-color="#1850f5"/><stop offset="0.769" stop-color="#1a5bf5"/><stop offset="0.825" stop-color="#1851f5"/><stop offset="1.000" stop-color="#1851f5"/></linearGradient><linearGradient id="fr120"><stop offset="0.000" stop-color="#1850f5"/><stop offset="0.401" stop-color="#1955f5"/><stop offset="0.433" stop-color="#1f75f4"/><stop offset="0.489" stop-color="#27abed"/><stop offset="0.521" stop-color="#28cbe1"/><stop offset="0.545" stop-color="#28cdd9"/><stop offset="0.553" stop-color="#28d3ca"/><stop offset="0.561" stop-color="#3bdc80"/><stop offset="0.641" stop-color="#3bdc7f"/><stop offset="0.649" stop-color="#38db8b"/><stop offset="0.657" stop-color="#28ced9"/><stop offset="0.681" stop-color="#28ced9"/><stop offset="0.689" stop-color="#2287f2"/><stop offset="0.697" stop-color="#1850f5"/><stop offset="0.761" stop-color="#1b5ef5"/><stop offset="0.817" stop-color="#1850f5"/><stop offset="0.833" stop-color="#1c64f5"/><stop offset="0.857" stop-color="#1850f5"/><stop offset="0.873" stop-color="#1850f5"/><stop offset="0.889" stop-color="#1b60f5"/><stop offset="0.905" stop-color="#1850f5"/><stop offset="0.929" stop-color="#1953f5"/><stop offset="0.937" stop-color="#1c64f5"/><stop offset="0.962" stop-color="#1850f5"/><stop offset="0.978" stop-color="#1850f5"/><stop offset="0.994" stop-color="#1b60f5"/><stop offset="1.000" stop-color="#1852f5"/></linearGradient><linearGradient id="fr121"><stop offset="0.000" stop-color="#1850f5"/><stop offset="0.593" stop-color="#1850f5"/><stop offset="0.609" stop-color="#2491f1"/><stop offset="0.657" stop-color="#2699f0"/><stop offset="0.665" stop-color="#2595f1"/><stop offset="0.681" stop-color="#1850f5"/><stop offset="0.761" stop-color="#1a5cf5"/><stop offset="0.825" stop-color="#1851f5"/><stop offset="1.000" stop-color="#1851f5"/></linearGradient><linearGradient id="fr122"><stop offset="0.000" stop-color="#1850f5"/><stop offset="0.721" stop-color="#1955f5"/><stop offset="0.753" stop-color="#1b5ff5"/><stop offset="0.817" stop-color="#1850f5"/><stop offset="1.000" stop-color="#1850f5"/></linearGradient><linearGradient id="fr123"><stop offset="0.000" stop-color="#1850f5"/><stop offset="0.721" stop-color="#1956f5"/><stop offset="0.753" stop-color="#1b5df5"/><stop offset="0.817" stop-color="#1850f5"/><stop offset="1.000" stop-color="#1850f5"/></linearGradient><linearGradient id="fr124"><stop offset="0.000" stop-color="#1852f5"/><stop offset="0.713" stop-color="#1954f5"/><stop offset="0.745" stop-color="#1b5ff5"/><stop offset="0.809" stop-color="#1850f5"/><stop offset="1.000" stop-color="#1850f5"/></linearGradient><linearGradient id="fr125"><stop offset="0.000" stop-color="#1a5bf5"/><stop offset="0.561" stop-color="#1954f5"/><stop offset="0.713" stop-color="#1955f5"/><stop offset="0.745" stop-color="#1b5ef5"/><stop offset="0.809" stop-color="#1850f5"/><stop offset="1.000" stop-color="#1851f5"/></linearGradient><linearGradient id="fr126"><stop offset="0.000" stop-color="#1d68f5"/><stop offset="0.529" stop-color="#1b61f5"/><stop offset="0.641" stop-color="#1850f5"/><stop offset="0.721" stop-color="#1a5cf5"/><stop offset="0.753" stop-color="#1a58f5"/><stop offset="0.825" stop-color="#1953f5"/><stop offset="0.833" stop-color="#1c63f5"/><stop offset="0.857" stop-color="#1850f5"/><stop offset="0.873" stop-color="#1850f5"/><stop offset="0.889" stop-color="#1b60f5"/><stop offset="0.905" stop-color="#1850f5"/><stop offset="0.929" stop-color="#1953f5"/><stop offset="0.937" stop-color="#1c63f5"/><stop offset="0.962" stop-color="#1850f5"/><stop offset="0.978" stop-color="#1850f5"/><stop offset="0.994" stop-color="#1b60f5"/><stop offset="1.000" stop-color="#1852f5"/></linearGradient><linearGradient id="fr127"><stop offset="0.000" stop-color="#1b5ff5"/><stop offset="0.545" stop-color="#1a58f5"/><stop offset="0.705" stop-color="#1954f5"/><stop offset="0.737" stop-color="#1b5ff5"/><stop offset="0.801" stop-color="#1850f5"/><stop offset="0.841" stop-color="#1953f5"/><stop offset="0.929" stop-color="#1852f5"/><stop offset="0.946" stop-color="#1953f5"/><stop offset="1.000" stop-color="#1851f5"/></linearGradient><linearGradient id="fr128"><stop offset="0.000" stop-color="#1953f5"/><stop offset="0.705" stop-color="#1956f5"/><stop offset="0.737" stop-color="#1b5df5"/><stop offset="0.801" stop-color="#1850f5"/><stop offset="1.000" stop-color="#1850f5"/></linearGradient><linearGradient id="fr129"><stop offset="0.000" stop-color="#1850f5"/><stop offset="0.697" stop-color="#1954f5"/><stop offset="0.729" stop-color="#1b5ff5"/><stop offset="0.793" stop-color="#1850f5"/><stop offset="1.000" stop-color="#1850f5"/></linearGradient><linearGradient id="fr130"><stop offset="0.000" stop-color="#1850f5"/><stop offset="0.337" stop-color="#1953f5"/><stop offset="0.457" stop-color="#269af0"/><stop offset="0.473" stop-color="#269cf0"/><stop offset="0.481" stop-color="#28c6e8"/><stop offset="0.521" stop-color="#28cbe0"/><stop offset="0.625" stop-color="#28cbe0"/><stop offset="0.641" stop-color="#269cf0"/><stop offset="0.649" stop-color="#269cf0"/><stop offset="0.665" stop-color="#1850f5"/><stop offset="0.729" stop-color="#1b5ef5"/><stop offset="0.793" stop-color="#1850f5"/><stop offset="1.000" stop-color="#1850f5"/></linearGradient><linearGradient id="fr131"><stop offset="0.000" stop-color="#1850f5"/><stop offset="0.329" stop-color="#1850f5"/><stop offset="0.337" stop-color="#1a5af5"/><stop offset="0.353" stop-color="#238bf2"/><stop offset="0.385" stop-color="#28cbdf"/><stop offset="0.401" stop-color="#2fd7af"/><stop offset="0.417" stop-color="#46dc75"/><stop offset="0.441" stop-color="#7add4a"/><stop offset="0.473" stop-color="#91d643"/><stop offset="0.481" stop-color="#e9ad2c"/><stop offset="0.505" stop-color="#f3af29"/><stop offset="0.625" stop-color="#f3af29"/><stop offset="0.641" stop-color="#91d543"/><stop offset="0.649" stop-color="#91d543"/><stop offset="0.657" stop-color="#2ed6b1"/><stop offset="0.665" stop-color="#1850f5"/><stop offset="0.729" stop-color="#1b5df5"/><stop offset="0.793" stop-color="#1850f5"/><stop offset="1.000" stop-color="#1850f5"/></linearGradient><linearGradient id="fr132"><stop offset="0.000" stop-color="#1850f5"/><stop offset="0.337" stop-color="#1957f5"/><stop offset="0.361" stop-color="#217ef3"/><stop offset="0.393" stop-color="#27a6ee"/><stop offset="0.409" stop-color="#28c8e7"/><stop offset="0.457" stop-color="#34d99c"/><stop offset="0.473" stop-color="#35d996"/><stop offset="0.481" stop-color="#6fde53"/><stop offset="0.489" stop-color="#82db48"/><stop offset="0.625" stop-color="#82db48"/><stop offset="0.633" stop-color="#57dd66"/><stop offset="0.641" stop-color="#35d996"/><stop offset="0.649" stop-color="#35d996"/><stop offset="0.657" stop-color="#27b7eb"/><stop offset="0.665" stop-color="#1850f5"/><stop offset="0.721" stop-color="#1b5ff5"/><stop offset="0.769" stop-color="#1850f5"/><stop offset="0.785" stop-color="#1a58f5"/><stop offset="0.825" stop-color="#1953f5"/><stop offset="0.833" stop-color="#1c62f5"/><stop offset="0.857" stop-color="#1850f5"/><stop offset="0.889" stop-color="#1b5ff5"/><stop offset="0.905" stop-color="#1850f5"/><stop offset="0.929" stop-color="#1953f5"/><stop offset="0.937" stop-color="#1c62f5"/><stop offset="0.962" stop-color="#1850f5"/><stop offset="0.994" stop-color="#1b5ff5"/><stop offset="1.000" stop-color="#1852f5"/></linearGradient><linearGradient id="fr133"><stop offset="0.000" stop-color="#1850f5"/><stop offset="0.561" stop-color="#1850f5"/><stop offset="0.569" stop-color="#1c63f5"/><stop offset="0.577" stop-color="#2284f3"/><stop offset="0.633" stop-color="#2388f2"/><stop offset="0.649" stop-color="#1850f5"/><stop offset="0.721" stop-color="#1b5ef5"/><stop offset="0.769" stop-color="#1850f5"/><stop offset="0.825" stop-color="#1852f5"/><stop offset="0.833" stop-color="#1a5cf5"/><stop offset="0.865" stop-color="#1850f5"/><stop offset="0.889" stop-color="#1a59f5"/><stop offset="0.921" stop-color="#1850f5"/><stop offset="0.937" stop-color="#1a5cf5"/><stop offset="0.970" stop-color="#1850f5"/><stop offset="0.994" stop-color="#1a59f5"/><stop offset="1.000" stop-color="#1851f5"/></linearGradient><linearGradient id="fr134"><stop offset="0.000" stop-color="#1850f5"/><stop offset="0.577" stop-color="#1957f5"/><stop offset="0.633" stop-color="#1a59f5"/><stop offset="0.665" stop-color="#1850f5"/><stop offset="0.721" stop-color="#1a5cf5"/><stop offset="0.793" stop-color="#1850f5"/><stop offset="1.000" stop-color="#1850f5"/></linearGradient><linearGradient id="fr135"><stop offset="0.000" stop-color="#1850f5"/><stop offset="0.681" stop-color="#1955f5"/><stop offset="0.713" stop-color="#1b5ef5"/><stop offset="0.777" stop-color="#1850f5"/><stop offset="1.000" stop-color="#1850f5"/></linearGradient><linearGradient id="fr136"><stop offset="0.000" stop-color="#1851f5"/><stop offset="0.681" stop-color="#1956f5"/><stop offset="0.713" stop-color="#1b5df5"/><stop offset="0.777" stop-color="#1850f5"/><stop offset="1.000" stop-color="#1850f5"/></linearGradient><linearGradient id="fr137"><stop offset="0.000" stop-color="#1957f5"/><stop offset="0.673" stop-color="#1954f5"/><stop offset="0.705" stop-color="#1b5ff5"/><stop offset="0.769" stop-color="#1850f5"/><stop offset="1.000" stop-color="#1850f5"/></linearGradient><linearGradient id="fr138"><stop offset="0.000" stop-color="#1c65f5"/><stop offset="0.529" stop-color="#1b5ff5"/><stop offset="0.649" stop-color="#1850f5"/><stop offset="0.705" stop-color="#1b5ef5"/><stop offset="0.769" stop-color="#1850f5"/><stop offset="0.793" stop-color="#1851f5"/><stop offset="0.825" stop-color="#1953f5"/><stop offset="0.833" stop-color="#1b60f5"/><stop offset="0.857" stop-color="#1850f5"/><stop offset="0.889" stop-color="#1b5df5"/><stop offset="0.905" stop-color="#1850f5"/><stop offset="0.929" stop-color="#1953f5"/><stop offset="0.937" stop-color="#1b60f5"/><stop offset="0.962" stop-color="#1850f5"/><stop offset="0.994" stop-color="#1b5df5"/><stop offset="1.000" stop-color="#1852f5"/></linearGradient><linearGradient id="fr139"><stop offset="0.000" stop-color="#1c63f5"/><stop offset="0.537" stop-color="#1a5cf5"/><stop offset="0.657" stop-color="#1851f5"/><stop offset="0.705" stop-color="#1a5cf5"/><stop offset="0.769" stop-color="#1850f5"/><stop offset="0.825" stop-color="#1852f5"/><stop offset="0.833" stop-color="#1b5ef5"/><stop offset="0.857" stop-color="#1850f5"/><stop offset="0.889" stop-color="#1a5bf5"/><stop offset="0.905" stop-color="#1850f5"/><stop offset="0.929" stop-color="#1852f5"/><stop offset="0.937" stop-color="#1b5ef5"/><stop offset="0.962" stop-color="#1850f5"/><stop offset="0.994" stop-color="#1a5bf5"/><stop offset="1.000" stop-color="#1851f5"/></linearGradient><linearGradient id="fr140"><stop offset="0.000" stop-color="#1953f5"/><stop offset="0.665" stop-color="#1852f5"/><stop offset="0.697" stop-color="#1a5cf5"/><stop offset="0.761" stop-color="#174df5"/><stop offset="1.000" stop-color="#184ef5"/></linearGradient><linearGradient id="fr141"><stop offset="0.000" stop-color="#1749f5"/><stop offset="0.665" stop-color="#184ff5"/><stop offset="0.697" stop-color="#1957f5"/><stop offset="0.753" stop-color="#1648f5"/><stop offset="1.000" stop-color="#1648f5"/></linearGradient><linearGradient id="fr142"><stop offset="0.000" stop-color="#1644f4"/><stop offset="0.657" stop-color="#174af5"/><stop offset="0.689" stop-color="#1d6af5"/><stop offset="0.729" stop-color="#1645f5"/><stop offset="1.000" stop-color="#1644f4"/></linearGradient><linearGradient id="fr143"><stop offset="0.000" stop-color="#46dc74"/><stop offset="0.008" stop-color="#96d442"/><stop offset="0.601" stop-color="#96d442"/><stop offset="0.609" stop-color="#28ccde"/><stop offset="0.617" stop-color="#1749f5"/><stop offset="0.649" stop-color="#174bf5"/><stop offset="0.665" stop-color="#1d6af5"/><stop offset="0.673" stop-color="#2492f1"/><stop offset="0.681" stop-color="#28cbdf"/><stop offset="0.689" stop-color="#28d4c8"/><stop offset="0.697" stop-color="#28cbdf"/><stop offset="0.705" stop-color="#2491f1"/><stop offset="0.713" stop-color="#1d68f5"/><stop offset="0.729" stop-color="#174af5"/><stop offset="1.000" stop-color="#1647f5"/></linearGradient><linearGradient id="fr144"><stop offset="0.000" stop-color="#46dc74"/><stop offset="0.008" stop-color="#96d442"/><stop offset="0.601" stop-color="#96d442"/><stop offset="0.609" stop-color="#28ccde"/><stop offset="0.617" stop-color="#184ef5"/><stop offset="0.649" stop-color="#1850f5"/><stop offset="0.657" stop-color="#1a59f5"/><stop offset="0.665" stop-color="#1f72f5"/><stop offset="0.673" stop-color="#27aded"/><stop offset="0.681" stop-color="#31d8a6"/><stop offset="0.689" stop-color="#4bdd70"/><stop offset="0.697" stop-color="#37da92"/><stop offset="0.705" stop-color="#28c1e9"/><stop offset="0.713" stop-color="#207bf4"/><stop offset="0.721" stop-color="#1a5cf5"/><stop offset="0.745" stop-color="#174df5"/><stop offset="0.825" stop-color="#184ff5"/><stop offset="0.833" stop-color="#1a5af5"/><stop offset="0.865" stop-color="#174df5"/><stop offset="0.889" stop-color="#1957f5"/><stop offset="0.913" stop-color="#174df5"/><stop offset="0.937" stop-color="#1a5af5"/><stop offset="0.970" stop-color="#174df5"/><stop offset="0.994" stop-color="#1957f5"/><stop offset="1.000" stop-color="#184ef5"/></linearGradient><linearGradient id="fr145"><stop offset="0.000" stop-color="#184ff5"/><stop offset="0.609" stop-color="#1956f5"/><stop offset="0.625" stop-color="#1d67f5"/><stop offset="0.657" stop-color="#1955f5"/><stop offset="0.673" stop-color="#1f73f4"/><stop offset="0.689" stop-color="#2699f0"/><stop offset="0.697" stop-color="#2490f1"/><stop offset="0.713" stop-color="#1c63f5"/><stop offset="0.729" stop-color="#1a5cf5"/><stop offset="0.777" stop-color="#1953f5"/><stop offset="0.825" stop-color="#1852f5"/><stop offset="0.833" stop-color="#1b60f5"/><stop offset="0.857" stop-color="#184ff5"/><stop offset="0.889" stop-color="#1b5df5"/><stop offset="0.905" stop-color="#184ff5"/><stop offset="0.929" stop-color="#1852f5"/><stop offset="0.937" stop-color="#1b60f5"/><stop offset="0.962" stop-color="#184ff5"/><stop offset="0.994" stop-color="#1b5df5"/><stop offset="1.000" stop-color="#1851f5"/></linearGradient><linearGradient id="fr146"><stop offset="0.000" stop-color="#1850f5"/><stop offset="0.609" stop-color="#1953f5"/><stop offset="0.633" stop-color="#1d67f5"/><stop offset="0.657" stop-color="#1851f5"/><stop offset="0.729" stop-color="#1a58f5"/><stop offset="0.753" stop-color="#1a59f5"/><stop offset="0.865" stop-color="#1850f5"/><stop offset="1.000" stop-color="#1850f5"/></linearGradient><linearGradient id="fr147"><stop offset="0.000" stop-color="#1850f5"/><stop offset="0.617" stop-color="#1957f5"/><stop offset="0.633" stop-color="#1d68f5"/><stop offset="0.665" stop-color="#1850f5"/><stop offset="0.729" stop-color="#1955f5"/><stop offset="0.753" stop-color="#1a5cf5"/><stop offset="0.801" stop-color="#1850f5"/><stop offset="1.000" stop-color="#1850f5"/></linearGradient><linearGradient id="fr148"><stop offset="0.000" stop-color="#1850f5"/><stop offset="0.617" stop-color="#1954f5"/><stop offset="0.641" stop-color="#1d67f5"/><stop offset="0.665" stop-color="#1851f5"/><stop offset="0.737" stop-color="#1a58f5"/><stop offset="0.761" stop-color="#1a59f5"/><stop offset="0.889" stop-color="#1850f5"/><stop offset="1.000" stop-color="#1850f5"/></linearGradient><linearGradient id="fr149"><stop offset="0.000" stop-color="#1954f5"/><stop offset="0.625" stop-color="#1957f5"/><stop offset="0.641" stop-color="#1d68f5"/><stop offset="0.673" stop-color="#1850f5"/><stop offset="0.737" stop-color="#1955f5"/><stop offset="0.761" stop-color="#1a5cf5"/><stop offset="0.809" stop-color="#1850f5"/><stop offset="1.000" stop-color="#1850f5"/></linearGradient><linearGradient id="fr150"><stop offset="0.000" stop-color="#1b61f5"/><stop offset="0.537" stop-color="#1a5af5"/><stop offset="0.625" stop-color="#1954f5"/><stop offset="0.649" stop-color="#1c66f5"/><stop offset="0.673" stop-color="#1851f5"/><stop offset="0.745" stop-color="#1a58f5"/><stop offset="0.769" stop-color="#1a58f5"/><stop offset="0.825" stop-color="#1852f5"/><stop offset="0.833" stop-color="#1a5af5"/><stop offset="0.873" stop-color="#1850f5"/><stop offset="0.889" stop-color="#1a58f5"/><stop offset="0.929" stop-color="#1852f5"/><stop offset="0.937" stop-color="#1a5af5"/><stop offset="0.978" stop-color="#1850f5"/><stop offset="0.994" stop-color="#1a58f5"/><stop offset="1.000" stop-color="#1851f5"/></linearGradient><linearGradient id="fr151"><stop offset="0.000" stop-color="#1d67f5"/><stop offset="0.529" stop-color="#1b60f5"/><stop offset="0.625" stop-color="#1852f5"/><stop offset="0.649" stop-color="#1d68f5"/><stop offset="0.681" stop-color="#1850f5"/><stop offset="0.745" stop-color="#1955f5"/><stop offset="0.769" stop-color="#1a5cf5"/><stop offset="0.817" stop-color="#1850f5"/><stop offset="0.833" stop-color="#1c63f5"/><stop offset="0.857" stop-color="#1850f5"/><stop offset="0.873" stop-color="#1850f5"/><stop offset="0.889" stop-color="#1b5ff5"/><stop offset="0.905" stop-color="#1850f5"/><stop offset="0.929" stop-color="#1953f5"/><stop offset="0.937" stop-color="#1c63f5"/><stop offset="0.962" stop-color="#1850f5"/><stop offset="0.978" stop-color="#1850f5"/><stop offset="0.994" stop-color="#1b5ff5"/><stop offset="1.000" stop-color="#1852f5"/></linearGradient><linearGradient id="fr152"><stop offset="0.000" stop-color="#1a59f5"/><stop offset="0.577" stop-color="#1851f5"/><stop offset="0.633" stop-color="#1954f5"/><stop offset="0.657" stop-color="#1c66f5"/><stop offset="0.681" stop-color="#1851f5"/><stop offset="0.753" stop-color="#1a58f5"/><stop offset="0.777" stop-color="#1a59f5"/><stop offset="0.873" stop-color="#1850f5"/><stop offset="1.000" stop-color="#1850f5"/></linearGradient><linearGradient id="fr153"><stop offset="0.000" stop-color="#1851f5"/><stop offset="0.633" stop-color="#1852f5"/><stop offset="0.657" stop-color="#1d68f5"/><stop offset="0.689" stop-color="#1850f5"/><stop offset="0.753" stop-color="#1955f5"/><stop offset="0.777" stop-color="#1a5cf5"/><stop offset="0.825" stop-color="#1850f5"/><stop offset="1.000" stop-color="#1850f5"/></linearGradient><linearGradient id="fr154"><stop offset="0.000" stop-color="#1850f5"/><stop offset="0.521" stop-color="#1850f5"/><stop offset="0.537" stop-color="#2491f1"/><stop offset="0.585" stop-color="#2699f0"/><stop offset="0.593" stop-color="#2595f1"/><stop offset="0.609" stop-color="#1850f5"/><stop offset="0.641" stop-color="#1954f5"/><stop offset="0.665" stop-color="#1c66f5"/><stop offset="0.689" stop-color="#1851f5"/><stop offset="0.745" stop-color="#1956f5"/><stop offset="0.777" stop-color="#1b5ff5"/><stop offset="0.817" stop-color="#1850f5"/><stop offset="1.000" stop-color="#1850f5"/></linearGradient><linearGradient id="fr155"><stop offset="0.000" stop-color="#1850f5"/><stop offset="0.345" stop-color="#1957f5"/><stop offset="0.489" stop-color="#217ef3"/><stop offset="0.505" stop-color="#238bf2"/><stop offset="0.577" stop-color="#238bf2"/><stop offset="0.601" stop-color="#2079f4"/><stop offset="0.649" stop-color="#2079f4"/><stop offset="0.657" stop-color="#1c63f5"/><stop offset="0.673" stop-color="#1b61f5"/><stop offset="0.689" stop-color="#1953f5"/><stop offset="0.705" stop-color="#1c66f5"/><stop offset="0.729" stop-color="#27aded"/><stop offset="0.753" stop-color="#1c63f5"/><stop offset="0.769" stop-color="#1b5ef5"/><stop offset="0.841" stop-color="#1850f5"/><stop offset="1.000" stop-color="#1850f5"/></linearGradient><linearGradient id="fr156"><stop offset="0.000" stop-color="#1850f5"/><stop offset="0.329" stop-color="#1850f5"/><stop offset="0.337" stop-color="#1a5af5"/><stop offset="0.353" stop-color="#2389f2"/><stop offset="0.377" stop-color="#27b3ec"/><stop offset="0.385" stop-color="#28c8e8"/><stop offset="0.401" stop-color="#29d4c6"/><stop offset="0.425" stop-color="#47dc74"/><stop offset="0.449" stop-color="#78de4b"/><stop offset="0.481" stop-color="#91d644"/><stop offset="0.489" stop-color="#aeca3b"/><stop offset="0.497" stop-color="#f3af29"/><stop offset="0.577" stop-color="#f3af29"/><stop offset="0.593" stop-color="#91d543"/><stop offset="0.641" stop-color="#92d543"/><stop offset="0.649" stop-color="#5fdd5f"/><stop offset="0.657" stop-color="#1b5df5"/><stop offset="0.673" stop-color="#1c66f5"/><stop offset="0.689" stop-color="#1957f5"/><stop offset="0.697" stop-color="#1b61f5"/><stop offset="0.705" stop-color="#2180f3"/><stop offset="0.713" stop-color="#28c9e6"/><stop offset="0.721" stop-color="#3adb83"/><stop offset="0.729" stop-color="#55dd68"/><stop offset="0.737" stop-color="#35d998"/><stop offset="0.745" stop-color="#27b6eb"/><stop offset="0.753" stop-color="#2077f4"/><stop offset="0.761" stop-color="#1b5ff5"/><stop offset="0.785" stop-color="#1c62f5"/><stop offset="0.817" stop-color="#1850f5"/><stop offset="0.841" stop-color="#1852f5"/><stop offset="0.946" stop-color="#1852f5"/><stop offset="1.000" stop-color="#1851f5"/></linearGradient><linearGradient id="fr157"><stop offset="0.000" stop-color="#1850f5"/><stop offset="0.329" stop-color="#1850f5"/><stop offset="0.345" stop-color="#1e6cf5"/><stop offset="0.385" stop-color="#27a7ee"/><stop offset="0.401" stop-color="#28c9e5"/><stop offset="0.425" stop-color="#2ed6b1"/><stop offset="0.449" stop-color="#42dc78"/><stop offset="0.481" stop-color="#5bdd64"/><stop offset="0.489" stop-color="#77de4c"/><stop offset="0.497" stop-color="#b8c539"/><stop offset="0.577" stop-color="#b9c439"/><stop offset="0.585" stop-color="#8bd745"/><stop offset="0.593" stop-color="#5bdd64"/><stop offset="0.641" stop-color="#5bdd63"/><stop offset="0.649" stop-color="#35d996"/><stop offset="0.657" stop-color="#1a58f5"/><stop offset="0.673" stop-color="#1d68f5"/><stop offset="0.697" stop-color="#1a5bf5"/><stop offset="0.705" stop-color="#1e6cf5"/><stop offset="0.713" stop-color="#248ef1"/><stop offset="0.721" stop-color="#28c0e9"/><stop offset="0.729" stop-color="#28ccde"/><stop offset="0.737" stop-color="#27b6eb"/><stop offset="0.745" stop-color="#2286f2"/><stop offset="0.753" stop-color="#1d67f5"/><stop offset="0.769" stop-color="#1957f5"/><stop offset="0.785" stop-color="#1d69f5"/><stop offset="0.809" stop-color="#1851f5"/><stop offset="0.825" stop-color="#1953f5"/><stop offset="0.833" stop-color="#1c64f5"/><stop offset="0.857" stop-color="#1850f5"/><stop offset="0.873" stop-color="#1850f5"/><stop offset="0.889" stop-color="#1b60f5"/><stop offset="0.905" stop-color="#1850f5"/><stop offset="0.929" stop-color="#1953f5"/><stop offset="0.937" stop-color="#1c64f5"/><stop offset="0.962" stop-color="#1850f5"/><stop offset="0.978" stop-color="#1850f5"/><stop offset="0.994" stop-color="#1b60f5"/><stop offset="1.000" stop-color="#1852f5"/></linearGradient><linearGradient id="fr158"><stop offset="0.000" stop-color="#1850f5"/><stop offset="0.657" stop-color="#1954f5"/><stop offset="0.673" stop-color="#1d67f5"/><stop offset="0.705" stop-color="#1955f5"/><stop offset="0.737" stop-color="#1b5ff5"/><stop offset="0.769" stop-color="#1953f5"/><stop offset="0.785" stop-color="#1c62f5"/><stop offset="0.825" stop-color="#1851f5"/><stop offset="1.000" stop-color="#1851f5"/></linearGradient><linearGradient id="fr159"><stop offset="0.000" stop-color="#1850f5"/><stop offset="0.657" stop-color="#1852f5"/><stop offset="0.681" stop-color="#1d68f5"/><stop offset="0.713" stop-color="#1851f5"/><stop offset="0.777" stop-color="#1956f5"/><stop offset="0.801" stop-color="#1a5bf5"/><stop offset="0.857" stop-color="#1850f5"/><stop offset="1.000" stop-color="#1850f5"/></linearGradient><linearGradient id="fr160"><stop offset="0.000" stop-color="#1850f5"/><stop offset="0.665" stop-color="#1955f5"/><stop offset="0.681" stop-color="#1d67f5"/><stop offset="0.721" stop-color="#1850f5"/><stop offset="0.785" stop-color="#1a59f5"/><stop offset="0.809" stop-color="#1957f5"/><stop offset="1.000" stop-color="#1850f5"/></linearGradient><linearGradient id="fr161"><stop offset="0.000" stop-color="#1852f5"/><stop offset="0.665" stop-color="#1852f5"/><stop offset="0.689" stop-color="#1d68f5"/><stop offset="0.721" stop-color="#1850f5"/><stop offset="0.785" stop-color="#1956f5"/><stop offset="0.809" stop-color="#1a5bf5"/><stop offset="0.865" stop-color="#1850f5"/><stop offset="1.000" stop-color="#1850f5"/></linearGradient><linearGradient id="fr162"><stop offset="0.000" stop-color="#1a5cf5"/><stop offset="0.561" stop-color="#1954f5"/><stop offset="0.673" stop-color="#1955f5"/><stop offset="0.689" stop-color="#1d67f5"/><stop offset="0.729" stop-color="#1850f5"/><stop offset="0.793" stop-color="#1a5af5"/><stop offset="0.817" stop-color="#1957f5"/><stop offset="1.000" stop-color="#1851f5"/></linearGradient><linearGradient id="fr163"><stop offset="0.000" stop-color="#1d68f5"/><stop offset="0.529" stop-color="#1b61f5"/><stop offset="0.641" stop-color="#1850f5"/><stop offset="0.681" stop-color="#1a59f5"/><stop offset="0.697" stop-color="#1d68f5"/><stop offset="0.729" stop-color="#1850f5"/><stop offset="0.777" stop-color="#1955f5"/><stop offset="0.817" stop-color="#1a5bf5"/><stop offset="0.825" stop-color="#1957f5"/><stop offset="0.833" stop-color="#1c64f5"/><stop offset="0.849" stop-color="#1850f5"/><stop offset="0.873" stop-color="#1850f5"/><stop offset="0.889" stop-color="#1b60f5"/><stop offset="0.905" stop-color="#1850f5"/><stop offset="0.929" stop-color="#1953f5"/><stop offset="0.937" stop-color="#1c64f5"/><stop offset="0.962" stop-color="#1850f5"/><stop offset="0.978" stop-color="#1850f5"/><stop offset="0.994" stop-color="#1b60f5"/><stop offset="1.000" stop-color="#1852f5"/></linearGradient><linearGradient id="fr164"><stop offset="0.000" stop-color="#1b5ef5"/><stop offset="0.545" stop-color="#1957f5"/><stop offset="0.681" stop-color="#1955f5"/><stop offset="0.697" stop-color="#1d67f5"/><stop offset="0.737" stop-color="#1850f5"/><stop offset="0.801" stop-color="#1a5af5"/><stop offset="0.833" stop-color="#1a5af5"/><stop offset="0.873" stop-color="#1850f5"/><stop offset="0.946" stop-color="#1953f5"/><stop offset="1.000" stop-color="#1851f5"/></linearGradient><linearGradient id="fr165"><stop offset="0.000" stop-color="#1953f5"/><stop offset="0.681" stop-color="#1852f5"/><stop offset="0.705" stop-color="#1d68f5"/><stop offset="0.737" stop-color="#1850f5"/><stop offset="0.801" stop-color="#1956f5"/><stop offset="0.825" stop-color="#1a5af5"/><stop offset="0.889" stop-color="#1850f5"/><stop offset="1.000" stop-color="#1850f5"/></linearGradient><linearGradient id="fr166"><stop offset="0.000" stop-color="#1850f5"/><stop offset="0.569" stop-color="#1850f5"/><stop offset="0.585" stop-color="#2491f1"/><stop offset="0.633" stop-color="#2699f0"/><stop offset="0.641" stop-color="#2595f1"/><stop offset="0.657" stop-color="#1850f5"/><stop offset="0.689" stop-color="#1955f5"/><stop offset="0.705" stop-color="#1d68f5"/><stop offset="0.737" stop-color="#1851f5"/><stop offset="0.809" stop-color="#1a5af5"/><stop offset="0.833" stop-color="#1957f5"/><stop offset="1.000" stop-color="#1850f5"/></linearGradient><linearGradient id="fr167"><stop offset="0.000" stop-color="#1850f5"/><stop offset="0.385" stop-color="#1953f5"/><stop offset="0.537" stop-color="#269bf0"/><stop offset="0.553" stop-color="#27abed"/><stop offset="0.561" stop-color="#28cbe0"/><stop offset="0.641" stop-color="#28c9e4"/><stop offset="0.649" stop-color="#269cf0"/><stop offset="0.681" stop-color="#2598f0"/><stop offset="0.689" stop-color="#1953f5"/><stop offset="0.713" stop-color="#1d68f5"/><stop offset="0.737" stop-color="#1954f5"/><stop offset="0.769" stop-color="#1f74f4"/><stop offset="0.801" stop-color="#1954f5"/><stop offset="0.825" stop-color="#1b60f5"/><stop offset="0.865" stop-color="#1850f5"/><stop offset="1.000" stop-color="#1850f5"/></linearGradient><linearGradient id="fr168"><stop offset="0.000" stop-color="#1850f5"/><stop offset="0.377" stop-color="#1850f5"/><stop offset="0.385" stop-color="#1a5af5"/><stop offset="0.401" stop-color="#2388f2"/><stop offset="0.425" stop-color="#27a9ee"/><stop offset="0.441" stop-color="#28cae3"/><stop offset="0.457" stop-color="#29d5c3"/><stop offset="0.481" stop-color="#43dc77"/><stop offset="0.513" stop-color="#7cdd4a"/><stop offset="0.545" stop-color="#91d644"/><stop offset="0.553" stop-color="#aeca3b"/><stop offset="0.561" stop-color="#f3af29"/><stop offset="0.641" stop-color="#efae2a"/><stop offset="0.649" stop-color="#91d543"/><stop offset="0.673" stop-color="#91d543"/><stop offset="0.681" stop-color="#83da48"/><stop offset="0.689" stop-color="#1851f5"/><stop offset="0.713" stop-color="#1d68f5"/><stop offset="0.737" stop-color="#1a5cf5"/><stop offset="0.745" stop-color="#1d6af5"/><stop offset="0.761" stop-color="#27b4ec"/><stop offset="0.769" stop-color="#28c8e7"/><stop offset="0.793" stop-color="#1c66f5"/><stop offset="0.809" stop-color="#1955f5"/><stop offset="0.833" stop-color="#1b61f5"/><stop offset="0.865" stop-color="#1850f5"/><stop offset="1.000" stop-color="#1850f5"/></linearGradient><linearGradient id="fr169"><stop offset="0.000" stop-color="#1850f5"/><stop offset="0.385" stop-color="#1957f5"/><stop offset="0.409" stop-color="#207af4"/><stop offset="0.449" stop-color="#269fef"/><stop offset="0.473" stop-color="#28c9e6"/><stop offset="0.537" stop-color="#35d998"/><stop offset="0.545" stop-color="#35d996"/><stop offset="0.553" stop-color="#44dc77"/><stop offset="0.561" stop-color="#81db48"/><stop offset="0.633" stop-color="#82db48"/><stop offset="0.641" stop-color="#7add4a"/><stop offset="0.649" stop-color="#35d996"/><stop offset="0.673" stop-color="#35d996"/><stop offset="0.681" stop-color="#31d8a7"/><stop offset="0.689" stop-color="#1850f5"/><stop offset="0.721" stop-color="#1d68f5"/><stop offset="0.737" stop-color="#1a5cf5"/><stop offset="0.753" stop-color="#207cf3"/><stop offset="0.769" stop-color="#26a2ef"/><stop offset="0.785" stop-color="#2180f3"/><stop offset="0.793" stop-color="#1c62f5"/><stop offset="0.809" stop-color="#1953f5"/><stop offset="0.825" stop-color="#1b61f5"/><stop offset="0.833" stop-color="#1f73f4"/><stop offset="0.849" stop-color="#1953f5"/><stop offset="0.873" stop-color="#1850f5"/><stop offset="0.889" stop-color="#1b5ff5"/><stop offset="0.905" stop-color="#1850f5"/><stop offset="0.929" stop-color="#1953f5"/><stop offset="0.937" stop-color="#1c62f5"/><stop offset="0.962" stop-color="#1850f5"/><stop offset="0.978" stop-color="#1850f5"/><stop offset="0.994" stop-color="#1b5ff5"/><stop offset="1.000" stop-color="#1852f5"/></linearGradient><linearGradient id="fr170"><stop offset="0.000" stop-color="#1850f5"/><stop offset="0.705" stop-color="#1956f5"/><stop offset="0.721" stop-color="#1d68f5"/><stop offset="0.753" stop-color="#1a5af5"/><stop offset="0.785" stop-color="#1b5ef5"/><stop offset="0.809" stop-color="#1851f5"/><stop offset="0.833" stop-color="#1d6bf5"/><stop offset="0.857" stop-color="#1852f5"/><stop offset="0.889" stop-color="#1a59f5"/><stop offset="0.929" stop-color="#1852f5"/><stop offset="0.937" stop-color="#1a5bf5"/><stop offset="0.978" stop-color="#1850f5"/><stop offset="0.994" stop-color="#1a59f5"/><stop offset="1.000" stop-color="#1851f5"/></linearGradient><linearGradient id="fr171"><stop offset="0.000" stop-color="#1850f5"/><stop offset="0.705" stop-color="#1953f5"/><stop offset="0.729" stop-color="#1d67f5"/><stop offset="0.761" stop-color="#1851f5"/><stop offset="0.825" stop-color="#1957f5"/><stop offset="0.849" stop-color="#1a5af5"/><stop offset="0.921" stop-color="#1850f5"/><stop offset="1.000" stop-color="#1850f5"/></linearGradient><linearGradient id="fr172"><stop offset="0.000" stop-color="#1850f5"/><stop offset="0.713" stop-color="#1956f5"/><stop offset="0.729" stop-color="#1d68f5"/><stop offset="0.761" stop-color="#1850f5"/><stop offset="0.825" stop-color="#1954f5"/><stop offset="0.849" stop-color="#1b5df5"/><stop offset="0.889" stop-color="#1850f5"/><stop offset="1.000" stop-color="#1850f5"/></linearGradient><linearGradient id="fr173"><stop offset="0.000" stop-color="#1850f5"/><stop offset="0.713" stop-color="#1953f5"/><stop offset="0.737" stop-color="#1d67f5"/><stop offset="0.769" stop-color="#1850f5"/><stop offset="0.833" stop-color="#1957f5"/><stop offset="0.857" stop-color="#1a59f5"/><stop offset="0.937" stop-color="#1850f5"/><stop offset="1.000" stop-color="#1850f5"/></linearGradient><linearGradient id="fr174"><stop offset="0.000" stop-color="#1850f5"/><stop offset="0.721" stop-color="#1956f5"/><stop offset="0.737" stop-color="#1d68f5"/><stop offset="0.769" stop-color="#1850f5"/><stop offset="0.833" stop-color="#1956f5"/><stop offset="0.857" stop-color="#1b5df5"/><stop offset="0.897" stop-color="#1850f5"/><stop offset="1.000" stop-color="#1850f5"/></linearGradient><linearGradient id="fr175"><stop offset="0.000" stop-color="#1850f5"/><stop offset="0.721" stop-color="#1953f5"/><stop offset="0.745" stop-color="#1d67f5"/><stop offset="0.769" stop-color="#1851f5"/><stop offset="0.793" stop-color="#1851f5"/><stop offset="0.825" stop-color="#1953f5"/><stop offset="0.833" stop-color="#1c62f5"/><stop offset="0.873" stop-color="#1953f5"/><stop offset="0.889" stop-color="#1b5df5"/><stop offset="0.905" stop-color="#1850f5"/><stop offset="0.929" stop-color="#1953f5"/><stop offset="0.937" stop-color="#1b60f5"/><stop offset="0.962" stop-color="#1850f5"/><stop offset="0.994" stop-color="#1b5df5"/><stop offset="1.000" stop-color="#1852f5"/></linearGradient><linearGradient id="fr176"><stop offset="0.000" stop-color="#1850f5"/><stop offset="0.729" stop-color="#1956f5"/><stop offset="0.745" stop-color="#1d68f5"/><stop offset="0.777" stop-color="#1954f5"/><stop offset="0.825" stop-color="#1852f5"/><stop offset="0.833" stop-color="#1b5ff5"/><stop offset="0.889" stop-color="#1a5bf5"/><stop offset="0.913" stop-color="#1850f5"/><stop offset="0.937" stop-color="#1b5ef5"/><stop offset="0.970" stop-color="#1850f5"/><stop offset="0.994" stop-color="#1a5bf5"/><stop offset="1.000" stop-color="#1852f5"/></linearGradient><linearGradient id="fr177"><stop offset="0.000" stop-color="#1850f5"/><stop offset="0.729" stop-color="#1953f5"/><stop offset="0.753" stop-color="#1d67f5"/><stop offset="0.777" stop-color="#1851f5"/><stop offset="0.849" stop-color="#1a58f5"/><stop offset="0.873" stop-color="#1a59f5"/><stop offset="0.978" stop-color="#1850f5"/><stop offset="1.000" stop-color="#1850f5"/></linearGradient><linearGradient id="fr178"><stop offset="0.000" stop-color="#1850f5"/><stop offset="0.737" stop-color="#1957f5"/><stop offset="0.753" stop-color="#1d68f5"/><stop offset="0.785" stop-color="#1850f5"/><stop offset="0.849" stop-color="#1954f5"/><stop offset="0.873" stop-color="#1a5cf5"/><stop offset="0.913" stop-color="#1850f5"/><stop offset="1.000" stop-color="#1850f5"/></linearGradient><linearGradient id="fr179"><stop offset="0.000" stop-color="#1850f5"/><stop offset="0.457" stop-color="#1956f5"/><stop offset="0.513" stop-color="#1e6ef5"/><stop offset="0.705" stop-color="#1d67f5"/><stop offset="0.737" stop-color="#1956f5"/><stop offset="0.761" stop-color="#1d67f5"/><stop offset="0.785" stop-color="#1851f5"/><stop offset="0.857" stop-color="#1a58f5"/><stop offset="0.881" stop-color="#1a59f5"/><stop offset="0.994" stop-color="#1850f5"/><stop offset="1.000" stop-color="#1850f5"/></linearGradient><linearGradient id="fr180"><stop offset="0.000" stop-color="#1850f5"/><stop offset="0.449" stop-color="#1955f5"/><stop offset="0.497" stop-color="#238af2"/><stop offset="0.697" stop-color="#2286f2"/><stop offset="0.737" stop-color="#1957f5"/><stop offset="0.761" stop-color="#1d68f5"/><stop offset="0.793" stop-color="#1850f5"/><stop offset="0.857" stop-color="#1955f5"/><stop offset="0.881" stop-color="#1b5df5"/><stop offset="0.921" stop-color="#1850f5"/><stop offset="1.000" stop-color="#1850f5"/></linearGradient><linearGradient id="fr181"><stop offset="0.000" stop-color="#1850f5"/><stop offset="0.457" stop-color="#1955f5"/><stop offset="0.521" stop-color="#1c66f5"/><stop offset="0.705" stop-color="#1b61f5"/><stop offset="0.745" stop-color="#1954f5"/><stop offset="0.769" stop-color="#1d67f5"/><stop offset="0.801" stop-color="#1850f5"/><stop offset="0.825" stop-color="#1852f5"/><stop offset="0.833" stop-color="#1b5ef5"/><stop offset="0.857" stop-color="#1852f5"/><stop offset="0.881" stop-color="#1d67f5"/><stop offset="0.905" stop-color="#1850f5"/><stop offset="0.929" stop-color="#1852f5"/><stop offset="0.937" stop-color="#1b5ef5"/><stop offset="0.970" stop-color="#1850f5"/><stop offset="0.994" stop-color="#1a5bf5"/><stop offset="1.000" stop-color="#1852f5"/></linearGradient><linearGradient id="fr182"><stop offset="0.000" stop-color="#1850f5"/><stop offset="0.753" stop-color="#1957f5"/><stop offset="0.769" stop-color="#1d68f5"/><stop offset="0.801" stop-color="#1850f5"/><stop offset="0.825" stop-color="#1953f5"/><stop offset="0.833" stop-color="#1b60f5"/><stop offset="0.857" stop-color="#1851f5"/><stop offset="0.889" stop-color="#1d69f5"/><stop offset="0.897" stop-color="#1956f5"/><stop offset="0.929" stop-color="#1953f5"/><stop offset="0.937" stop-color="#1b60f5"/><stop offset="0.962" stop-color="#1850f5"/><stop offset="0.994" stop-color="#1b5df5"/><stop offset="1.000" stop-color="#1852f5"/></linearGradient><linearGradient id="fr183"><stop offset="0.000" stop-color="#1850f5"/><stop offset="0.753" stop-color="#1954f5"/><stop offset="0.777" stop-color="#1d67f5"/><stop offset="0.801" stop-color="#1851f5"/><stop offset="0.873" stop-color="#1a58f5"/><stop offset="0.889" stop-color="#1b60f5"/><stop offset="0.921" stop-color="#1850f5"/><stop offset="1.000" stop-color="#1850f5"/></linearGradient><linearGradient id="fr184"><stop offset="0.000" stop-color="#1850f5"/><stop offset="0.753" stop-color="#1852f5"/><stop offset="0.777" stop-color="#1d68f5"/><stop offset="0.817" stop-color="#1953f5"/><stop offset="0.873" stop-color="#1955f5"/><stop offset="0.897" stop-color="#1a5cf5"/><stop offset="0.946" stop-color="#1850f5"/><stop offset="1.000" stop-color="#1850f5"/></linearGradient><linearGradient id="fr185"><stop offset="0.000" stop-color="#1850f5"/><stop offset="0.761" stop-color="#1954f5"/><stop offset="0.785" stop-color="#1f71f5"/><stop offset="0.817" stop-color="#1c66f5"/><stop offset="0.849" stop-color="#1850f5"/><stop offset="0.897" stop-color="#1b5ff5"/><stop offset="0.937" stop-color="#1850f5"/><stop offset="1.000" stop-color="#1850f5"/></linearGradient><linearGradient id="fr186"><stop offset="0.000" stop-color="#1850f5"/><stop offset="0.761" stop-color="#1955f5"/><stop offset="0.777" stop-color="#1e6df5"/><stop offset="0.801" stop-color="#26a2ef"/><stop offset="0.817" stop-color="#2287f2"/><stop offset="0.833" stop-color="#1a5cf5"/><stop offset="0.865" stop-color="#1850f5"/><stop offset="0.905" stop-color="#1a5cf5"/><stop offset="0.954" stop-color="#1850f5"/><stop offset="1.000" stop-color="#1850f5"/></linearGradient><linearGradient id="fr187"><stop offset="0.000" stop-color="#1850f5"/><stop offset="0.561" stop-color="#1957f5"/><stop offset="0.665" stop-color="#1b61f5"/><stop offset="0.769" stop-color="#1b5df5"/><stop offset="0.793" stop-color="#238af2"/><stop offset="0.809" stop-color="#2285f2"/><stop offset="0.825" stop-color="#1c66f5"/><stop offset="0.857" stop-color="#1850f5"/><stop offset="0.881" stop-color="#1a59f5"/><stop offset="0.905" stop-color="#1b5ff5"/><stop offset="0.929" stop-color="#1852f5"/><stop offset="0.937" stop-color="#1a5bf5"/><stop offset="0.978" stop-color="#1850f5"/><stop offset="0.994" stop-color="#1a59f5"/><stop offset="1.000" stop-color="#1851f5"/></linearGradient><linearGradient id="fr188"><stop offset="0.000" stop-color="#1850f5"/><stop offset="0.553" stop-color="#1956f5"/><stop offset="0.609" stop-color="#1e6cf5"/><stop offset="0.753" stop-color="#1c66f5"/><stop offset="0.777" stop-color="#1c65f5"/><stop offset="0.785" stop-color="#1f72f5"/><stop offset="0.825" stop-color="#1957f5"/><stop offset="0.833" stop-color="#1c64f5"/><stop offset="0.849" stop-color="#1850f5"/><stop offset="0.873" stop-color="#1851f5"/><stop offset="0.889" stop-color="#1c64f5"/><stop offset="0.929" stop-color="#1954f5"/><stop offset="0.937" stop-color="#1c62f5"/><stop offset="0.962" stop-color="#1850f5"/><stop offset="0.978" stop-color="#1850f5"/><stop offset="0.994" stop-color="#1b5ff5"/><stop offset="1.000" stop-color="#1852f5"/></linearGradient><linearGradient id="fr189"><stop offset="0.000" stop-color="#1850f5"/><stop offset="0.561" stop-color="#1957f5"/><stop offset="0.665" stop-color="#1b61f5"/><stop offset="0.777" stop-color="#1a59f5"/><stop offset="0.801" stop-color="#1c66f5"/><stop offset="0.825" stop-color="#1851f5"/><stop offset="0.897" stop-color="#1a59f5"/><stop offset="0.921" stop-color="#1a58f5"/><stop offset="1.000" stop-color="#1850f5"/></linearGradient><linearGradient id="fr190"><stop offset="0.000" stop-color="#1850f5"/><stop offset="0.761" stop-color="#1852f5"/><stop offset="0.785" stop-color="#1a59f5"/><stop offset="0.801" stop-color="#1d68f5"/><stop offset="0.833" stop-color="#1850f5"/><stop offset="0.897" stop-color="#1955f5"/><stop offset="0.921" stop-color="#1a5bf5"/><stop offset="0.970" stop-color="#1850f5"/><stop offset="1.000" stop-color="#1850f5"/></linearGradient><linearGradient id="fr191"><stop offset="0.000" stop-color="#1850f5"/><stop offset="0.689" stop-color="#1954f5"/><stop offset="0.721" stop-color="#2284f3"/><stop offset="0.753" stop-color="#1955f5"/><stop offset="0.785" stop-color="#1954f5"/><stop offset="0.801" stop-color="#1d67f5"/><stop offset="0.841" stop-color="#1850f5"/><stop offset="0.905" stop-color="#1a59f5"/><stop offset="0.929" stop-color="#1957f5"/><stop offset="1.000" stop-color="#1850f5"/></linearGradient><linearGradient id="fr192"><stop offset="0.000" stop-color="#1850f5"/><stop offset="0.681" stop-color="#1852f5"/><stop offset="0.697" stop-color="#1e6ef5"/><stop offset="0.705" stop-color="#2598f0"/><stop offset="0.713" stop-color="#28d0d3"/><stop offset="0.721" stop-color="#31d8a7"/><stop offset="0.729" stop-color="#28d3c9"/><stop offset="0.737" stop-color="#26a6ee"/><stop offset="0.745" stop-color="#1f75f4"/><stop offset="0.753" stop-color="#1b5df5"/><stop offset="0.785" stop-color="#1852f5"/><stop offset="0.809" stop-color="#1d68f5"/><stop offset="0.841" stop-color="#1850f5"/><stop offset="0.905" stop-color="#1956f5"/><stop offset="0.929" stop-color="#1a5bf5"/><stop offset="0.986" stop-color="#1850f5"/><stop offset="1.000" stop-color="#1850f5"/></linearGradient><linearGradient id="fr193"><stop offset="0.000" stop-color="#1850f5"/><stop offset="0.681" stop-color="#1852f5"/><stop offset="0.697" stop-color="#1d67f5"/><stop offset="0.705" stop-color="#2287f2"/><stop offset="0.713" stop-color="#27b9eb"/><stop offset="0.721" stop-color="#28cddc"/><stop offset="0.729" stop-color="#28c3e9"/><stop offset="0.737" stop-color="#248ff1"/><stop offset="0.745" stop-color="#1e6cf5"/><stop offset="0.761" stop-color="#1953f5"/><stop offset="0.801" stop-color="#1b5ef5"/><stop offset="0.817" stop-color="#1c65f5"/><stop offset="0.857" stop-color="#1850f5"/><stop offset="0.913" stop-color="#1a59f5"/><stop offset="0.937" stop-color="#1b5ff5"/><stop offset="0.962" stop-color="#1850f5"/><stop offset="1.000" stop-color="#1851f5"/></linearGradient><linearGradient id="fr194"><stop offset="0.000" stop-color="#1850f5"/><stop offset="0.697" stop-color="#1955f5"/><stop offset="0.729" stop-color="#1c65f5"/><stop offset="0.769" stop-color="#1850f5"/><stop offset="0.785" stop-color="#1a59f5"/><stop offset="0.801" stop-color="#1a59f5"/><stop offset="0.817" stop-color="#1d68f5"/><stop offset="0.833" stop-color="#1d6af5"/><stop offset="0.849" stop-color="#1850f5"/><stop offset="0.873" stop-color="#1850f5"/><stop offset="0.889" stop-color="#1b60f5"/><stop offset="0.897" stop-color="#1851f5"/><stop offset="0.937" stop-color="#1e6ef5"/><stop offset="0.954" stop-color="#1851f5"/><stop offset="0.978" stop-color="#1850f5"/><stop offset="0.994" stop-color="#1b60f5"/><stop offset="1.000" stop-color="#1852f5"/></linearGradient><linearGradient id="cb2" x1="0" y1="0" x2="1" y2="0"><stop offset="0.0000" stop-color="#101ee8"/><stop offset="0.0250" stop-color="#1228eb"/><stop offset="0.0500" stop-color="#1332ef"/><stop offset="0.0750" stop-color="#143cf2"/><stop offset="0.1000" stop-color="#1646f5"/><stop offset="0.1250" stop-color="#1850f5"/><stop offset="0.1500" stop-color="#1a5af5"/><stop offset="0.1750" stop-color="#1c64f5"/><stop offset="0.2000" stop-color="#1e6ef5"/><stop offset="0.2250" stop-color="#2079f4"/><stop offset="0.2500" stop-color="#2284f3"/><stop offset="0.2750" stop-color="#2490f1"/><stop offset="0.3000" stop-color="#269bf0"/><stop offset="0.3250" stop-color="#27aeed"/><stop offset="0.3500" stop-color="#28c1e9"/><stop offset="0.3750" stop-color="#28cbe0"/><stop offset="0.4000" stop-color="#28d0d3"/><stop offset="0.4250" stop-color="#29d5c3"/><stop offset="0.4500" stop-color="#30d7ac"/><stop offset="0.4750" stop-color="#36da94"/><stop offset="0.5000" stop-color="#3cdc7d"/><stop offset="0.5250" stop-color="#4bdd70"/><stop offset="0.5500" stop-color="#5add64"/><stop offset="0.5750" stop-color="#69de58"/><stop offset="0.6000" stop-color="#78de4b"/><stop offset="0.6250" stop-color="#85da47"/><stop offset="0.6500" stop-color="#91d643"/><stop offset="0.6750" stop-color="#9ed140"/><stop offset="0.7000" stop-color="#aacd3c"/><stop offset="0.7250" stop-color="#b6c63a"/><stop offset="0.7500" stop-color="#c3be37"/><stop offset="0.7750" stop-color="#d4b532"/><stop offset="0.8000" stop-color="#e6ac2d"/><stop offset="0.8250" stop-color="#ebad2b"/><stop offset="0.8500" stop-color="#efae2a"/><stop offset="0.8750" stop-color="#f4af28"/><stop offset="0.9000" stop-color="#f5bc28"/><stop offset="0.9250" stop-color="#f5cd28"/><stop offset="0.9500" stop-color="#f5de28"/><stop offset="0.9750" stop-color="#f3ea28"/><stop offset="1.0000" stop-color="#f0f528"/></linearGradient><linearGradient id="fr195"><stop offset="0.000" stop-color="#1122e9"/><stop offset="0.409" stop-color="#122aec"/><stop offset="0.505" stop-color="#174df5"/><stop offset="0.545" stop-color="#1d68f5"/><stop offset="0.674" stop-color="#27a9ee"/><stop offset="0.738" stop-color="#28c1e9"/><stop offset="0.746" stop-color="#2284f3"/><stop offset="0.754" stop-color="#122ced"/><stop offset="0.810" stop-color="#132fed"/><stop offset="0.826" stop-color="#1b61f5"/><stop offset="0.890" stop-color="#1c64f5"/><stop offset="0.898" stop-color="#1e6ff5"/><stop offset="0.906" stop-color="#2597f0"/><stop offset="0.914" stop-color="#28cfd4"/><stop offset="0.922" stop-color="#28ccdc"/><stop offset="0.930" stop-color="#248df2"/><stop offset="0.938" stop-color="#1d6bf5"/><stop offset="1.000" stop-color="#1c62f5"/></linearGradient><linearGradient id="fr196"><stop offset="0.000" stop-color="#1122e9"/><stop offset="0.385" stop-color="#1228eb"/><stop offset="0.497" stop-color="#1956f5"/><stop offset="0.634" stop-color="#27b0ec"/><stop offset="0.682" stop-color="#28cbdf"/><stop offset="0.738" stop-color="#28d0d2"/><stop offset="0.746" stop-color="#1a5bf5"/><stop offset="0.754" stop-color="#122ced"/><stop offset="0.802" stop-color="#122ced"/><stop offset="0.810" stop-color="#1335ef"/><stop offset="0.818" stop-color="#1954f5"/><stop offset="0.826" stop-color="#1c62f5"/><stop offset="0.890" stop-color="#1c66f5"/><stop offset="0.898" stop-color="#207bf4"/><stop offset="0.906" stop-color="#27b9eb"/><stop offset="0.914" stop-color="#28d2cd"/><stop offset="0.922" stop-color="#27b9eb"/><stop offset="0.930" stop-color="#207bf4"/><stop offset="0.938" stop-color="#1c66f5"/><stop offset="1.000" stop-color="#1c62f5"/></linearGradient><linearGradient id="fr197"><stop offset="0.000" stop-color="#1122e9"/><stop offset="0.369" stop-color="#1128eb"/><stop offset="0.505" stop-color="#1c66f5"/><stop offset="0.601" stop-color="#27b2ec"/><stop offset="0.642" stop-color="#28cddb"/><stop offset="0.730" stop-color="#2fd7ad"/><stop offset="0.738" stop-color="#2fd7ad"/><stop offset="0.746" stop-color="#1334ef"/><stop offset="0.802" stop-color="#122ced"/><stop offset="0.818" stop-color="#1a5bf5"/><stop offset="0.890" stop-color="#1d6bf5"/><stop offset="0.898" stop-color="#248df2"/><stop offset="0.906" stop-color="#28ccdc"/><stop offset="0.914" stop-color="#28cfd4"/><stop offset="0.922" stop-color="#2597f0"/><stop offset="0.930" stop-color="#1e6ff5"/><stop offset="0.946" stop-color="#1c63f5"/><stop offset="1.000" stop-color="#1c62f5"/></linearGradient><linearGradient id="fr198"><stop offset="0.000" stop-color="#1122e9"/><stop offset="0.361" stop-color="#1229eb"/><stop offset="0.497" stop-color="#1e6df5"/><stop offset="0.577" stop-color="#27b4ec"/><stop offset="0.609" stop-color="#28ccdc"/><stop offset="0.714" stop-color="#39db8a"/><stop offset="0.730" stop-color="#3adb86"/><stop offset="0.738" stop-color="#28d1d0"/><stop offset="0.746" stop-color="#122ced"/><stop offset="0.802" stop-color="#122ded"/><stop offset="0.818" stop-color="#1b60f5"/><stop offset="0.882" stop-color="#1c65f5"/><stop offset="0.890" stop-color="#1f75f4"/><stop offset="0.898" stop-color="#27a7ee"/><stop offset="0.906" stop-color="#28d1cf"/><stop offset="0.914" stop-color="#28c8e7"/><stop offset="0.922" stop-color="#2285f2"/><stop offset="0.930" stop-color="#1d68f5"/><stop offset="0.978" stop-color="#1c66f5"/><stop offset="1.000" stop-color="#1c62f5"/></linearGradient><linearGradient id="fr199"><stop offset="0.000" stop-color="#1122e9"/><stop offset="0.353" stop-color="#1228eb"/><stop offset="0.489" stop-color="#1f72f5"/><stop offset="0.553" stop-color="#27aced"/><stop offset="0.585" stop-color="#28cbdf"/><stop offset="0.690" stop-color="#3fdc7a"/><stop offset="0.730" stop-color="#49dc72"/><stop offset="0.738" stop-color="#238bf2"/><stop offset="0.746" stop-color="#122ced"/><stop offset="0.802" stop-color="#1333ef"/><stop offset="0.818" stop-color="#1c62f5"/><stop offset="0.882" stop-color="#1d68f5"/><stop offset="0.890" stop-color="#2284f3"/><stop offset="0.898" stop-color="#28c9e6"/><stop offset="0.906" stop-color="#28d1cf"/><stop offset="0.914" stop-color="#27a9ed"/><stop offset="0.922" stop-color="#217ef3"/><stop offset="0.930" stop-color="#1c66f5"/><stop offset="0.938" stop-color="#1c66f5"/><stop offset="0.946" stop-color="#2180f3"/><stop offset="0.954" stop-color="#2180f3"/><stop offset="0.962" stop-color="#1c66f5"/><stop offset="0.970" stop-color="#1c63f5"/><stop offset="0.986" stop-color="#2287f2"/><stop offset="0.994" stop-color="#1d6af5"/><stop offset="1.000" stop-color="#1c63f5"/></linearGradient><linearGradient id="fr200"><stop offset="0.000" stop-color="#1122e9"/><stop offset="0.345" stop-color="#1127eb"/><stop offset="0.441" stop-color="#1a5cf5"/><stop offset="0.529" stop-color="#269af0"/><stop offset="0.569" stop-color="#28cae3"/><stop offset="0.626" stop-color="#31d8a5"/><stop offset="0.674" stop-color="#44dc77"/><stop offset="0.730" stop-color="#56dd68"/><stop offset="0.738" stop-color="#1648f5"/><stop offset="0.746" stop-color="#122ced"/><stop offset="0.794" stop-color="#122ced"/><stop offset="0.802" stop-color="#143af1"/><stop offset="0.810" stop-color="#1a59f5"/><stop offset="0.842" stop-color="#1c62f5"/><stop offset="0.874" stop-color="#1c64f5"/><stop offset="0.882" stop-color="#1e6ff5"/><stop offset="0.890" stop-color="#2598f0"/><stop offset="0.898" stop-color="#28d0d4"/><stop offset="0.906" stop-color="#28ccdd"/><stop offset="0.914" stop-color="#26a1ef"/><stop offset="0.922" stop-color="#248ff1"/><stop offset="0.930" stop-color="#1c66f5"/><stop offset="0.938" stop-color="#1e6cf5"/><stop offset="0.946" stop-color="#28c3e9"/><stop offset="0.954" stop-color="#28c3e9"/><stop offset="0.962" stop-color="#1e6cf5"/><stop offset="0.970" stop-color="#1c65f5"/><stop offset="0.978" stop-color="#2598f0"/><stop offset="0.986" stop-color="#28cfd4"/><stop offset="0.994" stop-color="#2079f4"/><stop offset="1.000" stop-color="#1c64f5"/></linearGradient><linearGradient id="fr201"><stop offset="0.000" stop-color="#1122e9"/><stop offset="0.345" stop-color="#1127eb"/><stop offset="0.409" stop-color="#174af5"/><stop offset="0.441" stop-color="#1c63f5"/><stop offset="0.489" stop-color="#207cf3"/><stop offset="0.545" stop-color="#27b4ec"/><stop offset="0.569" stop-color="#28cbdf"/><stop offset="0.666" stop-color="#43dc77"/><stop offset="0.722" stop-color="#59dd65"/><stop offset="0.730" stop-color="#41dc79"/><stop offset="0.738" stop-color="#122ced"/><stop offset="0.794" stop-color="#122ded"/><stop offset="0.810" stop-color="#1b5ff5"/><stop offset="0.874" stop-color="#1c66f5"/><stop offset="0.882" stop-color="#207cf3"/><stop offset="0.890" stop-color="#27baeb"/><stop offset="0.898" stop-color="#28d2cd"/><stop offset="0.906" stop-color="#27b9eb"/><stop offset="0.914" stop-color="#28c9e4"/><stop offset="0.922" stop-color="#28c4e9"/><stop offset="0.930" stop-color="#1d68f5"/><stop offset="0.938" stop-color="#1f73f4"/><stop offset="0.946" stop-color="#38da8d"/><stop offset="0.954" stop-color="#38da8d"/><stop offset="0.962" stop-color="#1f73f4"/><stop offset="0.970" stop-color="#1d68f5"/><stop offset="0.978" stop-color="#28ccdd"/><stop offset="0.986" stop-color="#5edd60"/><stop offset="0.994" stop-color="#238af2"/><stop offset="1.000" stop-color="#1c66f5"/></linearGradient><linearGradient id="fr202"><stop offset="0.000" stop-color="#1122e9"/><stop offset="0.353" stop-color="#122aec"/><stop offset="0.393" stop-color="#174af5"/><stop offset="0.425" stop-color="#1c62f5"/><stop offset="0.481" stop-color="#1f72f5"/><stop offset="0.545" stop-color="#27aeed"/><stop offset="0.577" stop-color="#28ccdd"/><stop offset="0.674" stop-color="#42dc78"/><stop offset="0.722" stop-color="#53dd6a"/><stop offset="0.730" stop-color="#28bfea"/><stop offset="0.738" stop-color="#122ced"/><stop offset="0.794" stop-color="#1330ee"/><stop offset="0.810" stop-color="#1c62f5"/><stop offset="0.866" stop-color="#1c63f5"/><stop offset="0.874" stop-color="#1d6bf5"/><stop offset="0.882" stop-color="#248ef1"/><stop offset="0.890" stop-color="#28cddc"/><stop offset="0.898" stop-color="#28cfd5"/><stop offset="0.906" stop-color="#269cf0"/><stop offset="0.914" stop-color="#2cd6b8"/><stop offset="0.922" stop-color="#28cfd6"/><stop offset="0.930" stop-color="#1d69f5"/><stop offset="0.938" stop-color="#1f74f4"/><stop offset="0.946" stop-color="#43dc77"/><stop offset="0.954" stop-color="#43dc77"/><stop offset="0.962" stop-color="#1f74f4"/><stop offset="0.970" stop-color="#1d68f5"/><stop offset="0.978" stop-color="#28d0d3"/><stop offset="0.986" stop-color="#74de4e"/><stop offset="0.994" stop-color="#248ef1"/><stop offset="1.000" stop-color="#1c66f5"/></linearGradient><linearGradient id="fr203"><stop offset="0.000" stop-color="#1122e9"/><stop offset="0.345" stop-color="#1126ea"/><stop offset="0.401" stop-color="#1b60f5"/><stop offset="0.497" stop-color="#1f76f4"/><stop offset="0.561" stop-color="#27b0ec"/><stop offset="0.593" stop-color="#28ccdd"/><stop offset="0.698" stop-color="#3ddc7c"/><stop offset="0.722" stop-color="#44dc77"/><stop offset="0.730" stop-color="#1b5ff5"/><stop offset="0.738" stop-color="#122ced"/><stop offset="0.786" stop-color="#122ced"/><stop offset="0.794" stop-color="#1437f0"/><stop offset="0.802" stop-color="#1956f5"/><stop offset="0.818" stop-color="#1c62f5"/><stop offset="0.866" stop-color="#1c65f5"/><stop offset="0.874" stop-color="#1f75f4"/><stop offset="0.882" stop-color="#27a8ee"/><stop offset="0.890" stop-color="#28d1cf"/><stop offset="0.898" stop-color="#28c8e8"/><stop offset="0.906" stop-color="#238bf2"/><stop offset="0.914" stop-color="#28d1cf"/><stop offset="0.922" stop-color="#27b3ec"/><stop offset="0.930" stop-color="#1d67f5"/><stop offset="0.938" stop-color="#1e6ff5"/><stop offset="0.946" stop-color="#28d2ce"/><stop offset="0.954" stop-color="#28d2ce"/><stop offset="0.962" stop-color="#1e6ff5"/><stop offset="0.970" stop-color="#1d67f5"/><stop offset="0.978" stop-color="#27b2ec"/><stop offset="0.986" stop-color="#34d99c"/><stop offset="0.994" stop-color="#2181f3"/><stop offset="1.000" stop-color="#1c65f5"/></linearGradient><linearGradient id="fr204"><stop offset="0.000" stop-color="#1122e9"/><stop offset="0.329" stop-color="#1125ea"/><stop offset="0.385" stop-color="#1b5ff5"/><stop offset="0.521" stop-color="#2079f4"/><stop offset="0.593" stop-color="#27baea"/><stop offset="0.642" stop-color="#28d2ce"/><stop offset="0.714" stop-color="#34d99a"/><stop offset="0.722" stop-color="#33d89e"/><stop offset="0.730" stop-color="#1330ee"/><stop offset="0.786" stop-color="#122ced"/><stop offset="0.802" stop-color="#1b5df5"/><stop offset="0.866" stop-color="#1d69f5"/><stop offset="0.874" stop-color="#2284f3"/><stop offset="0.882" stop-color="#28c9e6"/><stop offset="0.890" stop-color="#28d1cf"/><stop offset="0.898" stop-color="#26a5ee"/><stop offset="0.906" stop-color="#207bf4"/><stop offset="0.914" stop-color="#269af0"/><stop offset="0.930" stop-color="#1c64f5"/><stop offset="0.938" stop-color="#1d68f5"/><stop offset="0.946" stop-color="#2491f1"/><stop offset="0.954" stop-color="#2491f1"/><stop offset="0.962" stop-color="#1d68f5"/><stop offset="0.970" stop-color="#1c64f5"/><stop offset="0.986" stop-color="#269ef0"/><stop offset="0.994" stop-color="#1e6ff5"/><stop offset="1.000" stop-color="#1c63f5"/></linearGradient><linearGradient id="fr205"><stop offset="0.000" stop-color="#1122e9"/><stop offset="0.313" stop-color="#1124ea"/><stop offset="0.377" stop-color="#1c62f5"/><stop offset="0.561" stop-color="#2282f3"/><stop offset="0.650" stop-color="#28c9e5"/><stop offset="0.714" stop-color="#28d3ca"/><stop offset="0.722" stop-color="#27b0ec"/><stop offset="0.730" stop-color="#122ced"/><stop offset="0.786" stop-color="#132fed"/><stop offset="0.802" stop-color="#1b61f5"/><stop offset="0.858" stop-color="#1c64f5"/><stop offset="0.866" stop-color="#1e70f5"/><stop offset="0.874" stop-color="#2698f0"/><stop offset="0.882" stop-color="#28d0d4"/><stop offset="0.890" stop-color="#28ccdd"/><stop offset="0.898" stop-color="#238cf2"/><stop offset="0.906" stop-color="#1e6df5"/><stop offset="0.922" stop-color="#1d6af5"/><stop offset="0.938" stop-color="#1c64f5"/><stop offset="0.954" stop-color="#1e6ef5"/><stop offset="0.970" stop-color="#1c63f5"/><stop offset="0.986" stop-color="#1f72f5"/><stop offset="1.000" stop-color="#1c62f5"/></linearGradient><linearGradient id="fr206"><stop offset="0.000" stop-color="#1122e9"/><stop offset="0.297" stop-color="#1124ea"/><stop offset="0.361" stop-color="#1c62f5"/><stop offset="0.609" stop-color="#238af2"/><stop offset="0.714" stop-color="#28c7e8"/><stop offset="0.722" stop-color="#1b61f5"/><stop offset="0.730" stop-color="#122ced"/><stop offset="0.778" stop-color="#122ced"/><stop offset="0.786" stop-color="#1335ef"/><stop offset="0.794" stop-color="#1953f5"/><stop offset="0.802" stop-color="#1c62f5"/><stop offset="0.858" stop-color="#1c66f5"/><stop offset="0.866" stop-color="#217cf3"/><stop offset="0.874" stop-color="#27bbea"/><stop offset="0.882" stop-color="#28d2cd"/><stop offset="0.890" stop-color="#27b7eb"/><stop offset="0.898" stop-color="#207bf4"/><stop offset="0.906" stop-color="#1d67f5"/><stop offset="1.000" stop-color="#1c62f5"/></linearGradient><linearGradient id="fr207"><stop offset="0.000" stop-color="#1122e9"/><stop offset="0.281" stop-color="#1124ea"/><stop offset="0.345" stop-color="#1b61f5"/><stop offset="0.674" stop-color="#248ff1"/><stop offset="0.714" stop-color="#269af0"/><stop offset="0.722" stop-color="#1436f0"/><stop offset="0.746" stop-color="#122ced"/><stop offset="0.778" stop-color="#122ced"/><stop offset="0.794" stop-color="#1a5bf5"/><stop offset="0.858" stop-color="#1e6cf5"/><stop offset="0.866" stop-color="#248ef1"/><stop offset="0.874" stop-color="#28cddb"/><stop offset="0.882" stop-color="#28cfd5"/><stop offset="0.890" stop-color="#2596f1"/><stop offset="0.898" stop-color="#1e6ff5"/><stop offset="0.922" stop-color="#1c62f5"/><stop offset="1.000" stop-color="#1c62f5"/></linearGradient><linearGradient id="fr208"><stop offset="0.000" stop-color="#1122e9"/><stop offset="0.257" stop-color="#1127eb"/><stop offset="0.313" stop-color="#1b60f5"/><stop offset="0.706" stop-color="#2389f2"/><stop offset="0.714" stop-color="#217df3"/><stop offset="0.722" stop-color="#122ced"/><stop offset="0.778" stop-color="#122ded"/><stop offset="0.794" stop-color="#1b60f5"/><stop offset="0.850" stop-color="#1c65f5"/><stop offset="0.858" stop-color="#1f75f4"/><stop offset="0.866" stop-color="#27a9ee"/><stop offset="0.874" stop-color="#28d1cf"/><stop offset="0.882" stop-color="#28c8e8"/><stop offset="0.890" stop-color="#2282f3"/><stop offset="0.898" stop-color="#1d68f5"/><stop offset="1.000" stop-color="#1c62f5"/></linearGradient><linearGradient id="fr209"><stop offset="0.000" stop-color="#1122e9"/><stop offset="0.273" stop-color="#1127eb"/><stop offset="0.329" stop-color="#1b60f5"/><stop offset="0.601" stop-color="#2389f2"/><stop offset="0.706" stop-color="#26a4ee"/><stop offset="0.714" stop-color="#1d6af5"/><stop offset="0.722" stop-color="#122ced"/><stop offset="0.778" stop-color="#1332ef"/><stop offset="0.794" stop-color="#1c62f5"/><stop offset="0.850" stop-color="#1d69f5"/><stop offset="0.858" stop-color="#2285f2"/><stop offset="0.866" stop-color="#28c9e5"/><stop offset="0.874" stop-color="#28d1d0"/><stop offset="0.882" stop-color="#26a4ee"/><stop offset="0.890" stop-color="#1f74f4"/><stop offset="0.906" stop-color="#1c62f5"/><stop offset="1.000" stop-color="#1c62f5"/></linearGradient><linearGradient id="fr210"><stop offset="0.000" stop-color="#1122e9"/><stop offset="0.289" stop-color="#1228eb"/><stop offset="0.345" stop-color="#1b61f5"/><stop offset="0.545" stop-color="#2181f3"/><stop offset="0.682" stop-color="#28c5e8"/><stop offset="0.706" stop-color="#28c7e8"/><stop offset="0.714" stop-color="#1647f5"/><stop offset="0.722" stop-color="#122ced"/><stop offset="0.770" stop-color="#122ced"/><stop offset="0.778" stop-color="#143af1"/><stop offset="0.786" stop-color="#1a59f5"/><stop offset="0.810" stop-color="#1c62f5"/><stop offset="0.842" stop-color="#1c64f5"/><stop offset="0.850" stop-color="#1e70f5"/><stop offset="0.858" stop-color="#2699f0"/><stop offset="0.866" stop-color="#28d0d3"/><stop offset="0.874" stop-color="#28ccde"/><stop offset="0.882" stop-color="#238df2"/><stop offset="0.890" stop-color="#1e6cf5"/><stop offset="0.906" stop-color="#1c63f5"/><stop offset="1.000" stop-color="#1c62f5"/></linearGradient><linearGradient id="fr211"><stop offset="0.000" stop-color="#1122e9"/><stop offset="0.305" stop-color="#1229ec"/><stop offset="0.361" stop-color="#1b61f5"/><stop offset="0.505" stop-color="#2079f4"/><stop offset="0.634" stop-color="#28cae2"/><stop offset="0.698" stop-color="#28cfd4"/><stop offset="0.706" stop-color="#28cddc"/><stop offset="0.714" stop-color="#122ded"/><stop offset="0.770" stop-color="#122ced"/><stop offset="0.786" stop-color="#1b5ff5"/><stop offset="0.842" stop-color="#1d67f5"/><stop offset="0.850" stop-color="#217df3"/><stop offset="0.858" stop-color="#27bcea"/><stop offset="0.866" stop-color="#28d2cd"/><stop offset="0.874" stop-color="#27b6eb"/><stop offset="0.882" stop-color="#2286f2"/><stop offset="0.890" stop-color="#1e6df5"/><stop offset="0.898" stop-color="#1c63f5"/><stop offset="0.906" stop-color="#1d68f5"/><stop offset="0.914" stop-color="#217ef3"/><stop offset="0.930" stop-color="#1c63f5"/><stop offset="0.938" stop-color="#1c65f5"/><stop offset="0.946" stop-color="#2079f4"/><stop offset="0.954" stop-color="#2079f4"/><stop offset="0.962" stop-color="#1c65f5"/><stop offset="0.970" stop-color="#1c63f5"/><stop offset="0.986" stop-color="#217ef3"/><stop offset="1.000" stop-color="#1c63f5"/></linearGradient><linearGradient id="fr212"><stop offset="0.000" stop-color="#1122e9"/><stop offset="0.313" stop-color="#1125ea"/><stop offset="0.377" stop-color="#1c62f5"/><stop offset="0.481" stop-color="#1f74f4"/><stop offset="0.601" stop-color="#28cae3"/><stop offset="0.698" stop-color="#28d4c7"/><stop offset="0.706" stop-color="#26a1ef"/><stop offset="0.714" stop-color="#122ced"/><stop offset="0.770" stop-color="#1330ee"/><stop offset="0.786" stop-color="#1c62f5"/><stop offset="0.834" stop-color="#1c63f5"/><stop offset="0.842" stop-color="#1e6cf5"/><stop offset="0.850" stop-color="#248ff1"/><stop offset="0.858" stop-color="#28cddb"/><stop offset="0.866" stop-color="#28cfd5"/><stop offset="0.874" stop-color="#269af0"/><stop offset="0.882" stop-color="#26a5ee"/><stop offset="0.890" stop-color="#207cf3"/><stop offset="0.898" stop-color="#1c63f5"/><stop offset="0.906" stop-color="#1f75f4"/><stop offset="0.914" stop-color="#28c9e6"/><stop offset="0.922" stop-color="#2490f1"/><stop offset="0.930" stop-color="#1c65f5"/><stop offset="0.938" stop-color="#1d6af5"/><stop offset="0.946" stop-color="#27afec"/><stop offset="0.954" stop-color="#27afec"/><stop offset="0.962" stop-color="#1d6af5"/><stop offset="0.970" stop-color="#1c65f5"/><stop offset="0.978" stop-color="#2490f1"/><stop offset="0.986" stop-color="#28c9e6"/><stop offset="0.994" stop-color="#1f75f4"/><stop offset="1.000" stop-color="#1c64f5"/></linearGradient><linearGradient id="fr213"><stop offset="0.000" stop-color="#1122e9"/><stop offset="0.321" stop-color="#1128eb"/><stop offset="0.353" stop-color="#153ef2"/><stop offset="0.393" stop-color="#1c62f5"/><stop offset="0.473" stop-color="#1f72f5"/><stop offset="0.569" stop-color="#27bbea"/><stop offset="0.617" stop-color="#28cfd7"/><stop offset="0.698" stop-color="#2bd5bf"/><stop offset="0.706" stop-color="#1c63f5"/><stop offset="0.714" stop-color="#122ced"/><stop offset="0.762" stop-color="#122ced"/><stop offset="0.770" stop-color="#1437f0"/><stop offset="0.778" stop-color="#1956f5"/><stop offset="0.794" stop-color="#1c62f5"/><stop offset="0.834" stop-color="#1c65f5"/><stop offset="0.842" stop-color="#1f76f4"/><stop offset="0.850" stop-color="#27aaed"/><stop offset="0.858" stop-color="#28d2cf"/><stop offset="0.866" stop-color="#28c7e8"/><stop offset="0.874" stop-color="#2596f1"/><stop offset="0.882" stop-color="#34d99d"/><stop offset="0.890" stop-color="#2492f1"/><stop offset="0.898" stop-color="#1c64f5"/><stop offset="0.906" stop-color="#2387f2"/><stop offset="0.914" stop-color="#4fdd6e"/><stop offset="0.922" stop-color="#28c9e5"/><stop offset="0.930" stop-color="#1d68f5"/><stop offset="0.938" stop-color="#1f72f5"/><stop offset="0.946" stop-color="#32d8a1"/><stop offset="0.954" stop-color="#32d8a1"/><stop offset="0.962" stop-color="#1f72f5"/><stop offset="0.970" stop-color="#1d68f5"/><stop offset="0.978" stop-color="#28c9e5"/><stop offset="0.986" stop-color="#4fdd6e"/><stop offset="0.994" stop-color="#2387f2"/><stop offset="1.000" stop-color="#1c66f5"/></linearGradient><linearGradient id="fr214"><stop offset="0.000" stop-color="#1122e9"/><stop offset="0.329" stop-color="#1229ec"/><stop offset="0.369" stop-color="#153ff3"/><stop offset="0.409" stop-color="#1c62f5"/><stop offset="0.481" stop-color="#1e71f5"/><stop offset="0.609" stop-color="#28cae4"/><stop offset="0.698" stop-color="#28d3cc"/><stop offset="0.706" stop-color="#1436f0"/><stop offset="0.730" stop-color="#122ced"/><stop offset="0.762" stop-color="#122ced"/><stop offset="0.778" stop-color="#1b5df5"/><stop offset="0.834" stop-color="#1d69f5"/><stop offset="0.842" stop-color="#2285f2"/><stop offset="0.850" stop-color="#28c9e5"/><stop offset="0.858" stop-color="#28d1d0"/><stop offset="0.866" stop-color="#26a4ee"/><stop offset="0.874" stop-color="#269eef"/><stop offset="0.882" stop-color="#6cde55"/><stop offset="0.890" stop-color="#269cf0"/><stop offset="0.898" stop-color="#1c64f5"/><stop offset="0.906" stop-color="#248ff1"/><stop offset="0.914" stop-color="#79de4b"/><stop offset="0.922" stop-color="#28d1d1"/><stop offset="0.930" stop-color="#1d69f5"/><stop offset="0.938" stop-color="#1f75f4"/><stop offset="0.946" stop-color="#47dc74"/><stop offset="0.954" stop-color="#47dc74"/><stop offset="0.962" stop-color="#1f75f4"/><stop offset="0.970" stop-color="#1d69f5"/><stop offset="0.978" stop-color="#28d1d1"/><stop offset="0.986" stop-color="#79de4b"/><stop offset="0.994" stop-color="#248ff1"/><stop offset="1.000" stop-color="#1d67f5"/></linearGradient><linearGradient id="fr215"><stop offset="0.000" stop-color="#1122e9"/><stop offset="0.321" stop-color="#1229eb"/><stop offset="0.385" stop-color="#1541f3"/><stop offset="0.425" stop-color="#1c63f5"/><stop offset="0.489" stop-color="#1f72f5"/><stop offset="0.626" stop-color="#28cae2"/><stop offset="0.690" stop-color="#28cfd5"/><stop offset="0.698" stop-color="#27b6eb"/><stop offset="0.706" stop-color="#122ced"/><stop offset="0.762" stop-color="#122fed"/><stop offset="0.778" stop-color="#1b61f5"/><stop offset="0.826" stop-color="#1c64f5"/><stop offset="0.834" stop-color="#1e70f5"/><stop offset="0.842" stop-color="#2699f0"/><stop offset="0.850" stop-color="#28d0d3"/><stop offset="0.858" stop-color="#28ccde"/><stop offset="0.866" stop-color="#238cf2"/><stop offset="0.874" stop-color="#2597f0"/><stop offset="0.882" stop-color="#42dc78"/><stop offset="0.890" stop-color="#248ef1"/><stop offset="0.898" stop-color="#1c64f5"/><stop offset="0.906" stop-color="#2284f3"/><stop offset="0.914" stop-color="#3cdc7d"/><stop offset="0.922" stop-color="#28c0e9"/><stop offset="0.930" stop-color="#1d67f5"/><stop offset="0.938" stop-color="#1e70f5"/><stop offset="0.946" stop-color="#2cd6b9"/><stop offset="0.954" stop-color="#2cd6b9"/><stop offset="0.962" stop-color="#1e70f5"/><stop offset="0.970" stop-color="#1d67f5"/><stop offset="0.978" stop-color="#28c0e9"/><stop offset="0.986" stop-color="#3cdc7d"/><stop offset="0.994" stop-color="#2284f3"/><stop offset="1.000" stop-color="#1c65f5"/></linearGradient><linearGradient id="fr216"><stop offset="0.000" stop-color="#1122e9"/><stop offset="0.305" stop-color="#122aec"/><stop offset="0.449" stop-color="#1e70f5"/><stop offset="0.537" stop-color="#27b8eb"/><stop offset="0.569" stop-color="#28cddc"/><stop offset="0.666" stop-color="#32d8a2"/><stop offset="0.690" stop-color="#33d8a0"/><stop offset="0.698" stop-color="#2284f3"/><stop offset="0.706" stop-color="#122ced"/><stop offset="0.754" stop-color="#122ced"/><stop offset="0.762" stop-color="#1335ef"/><stop offset="0.770" stop-color="#1953f5"/><stop offset="0.778" stop-color="#1c62f5"/><stop offset="0.826" stop-color="#1d67f5"/><stop offset="0.834" stop-color="#217df3"/><stop offset="0.842" stop-color="#27bcea"/><stop offset="0.850" stop-color="#28d2cd"/><stop offset="0.858" stop-color="#27b5eb"/><stop offset="0.866" stop-color="#207bf4"/><stop offset="0.874" stop-color="#2181f3"/><stop offset="0.882" stop-color="#27b7eb"/><stop offset="0.890" stop-color="#2077f4"/><stop offset="0.898" stop-color="#1c63f5"/><stop offset="0.906" stop-color="#1f72f5"/><stop offset="0.914" stop-color="#27b3ec"/><stop offset="0.930" stop-color="#1c64f5"/><stop offset="0.938" stop-color="#1d69f5"/><stop offset="0.946" stop-color="#269cf0"/><stop offset="0.954" stop-color="#269cf0"/><stop offset="0.962" stop-color="#1d69f5"/><stop offset="0.970" stop-color="#1c64f5"/><stop offset="0.986" stop-color="#27b3ec"/><stop offset="0.994" stop-color="#1f72f5"/><stop offset="1.000" stop-color="#1c64f5"/></linearGradient><linearGradient id="fr217"><stop offset="0.000" stop-color="#1122e9"/><stop offset="0.289" stop-color="#1228eb"/><stop offset="0.425" stop-color="#1e6ff5"/><stop offset="0.497" stop-color="#27aced"/><stop offset="0.529" stop-color="#28cbe1"/><stop offset="0.642" stop-color="#3cdc7e"/><stop offset="0.690" stop-color="#42dc78"/><stop offset="0.698" stop-color="#174bf5"/><stop offset="0.706" stop-color="#122ced"/><stop offset="0.754" stop-color="#122ced"/><stop offset="0.770" stop-color="#1a5bf5"/><stop offset="0.826" stop-color="#1e6cf5"/><stop offset="0.834" stop-color="#248ff1"/><stop offset="0.842" stop-color="#28cdda"/><stop offset="0.850" stop-color="#28cfd6"/><stop offset="0.858" stop-color="#2595f1"/><stop offset="0.866" stop-color="#1e6ef5"/><stop offset="0.882" stop-color="#2078f4"/><stop offset="0.898" stop-color="#1c62f5"/><stop offset="0.914" stop-color="#2077f4"/><stop offset="0.930" stop-color="#1c63f5"/><stop offset="0.954" stop-color="#1f73f4"/><stop offset="0.970" stop-color="#1c63f5"/><stop offset="0.986" stop-color="#2077f4"/><stop offset="1.000" stop-color="#1c63f5"/></linearGradient><linearGradient id="fr218"><stop offset="0.000" stop-color="#1122e9"/><stop offset="0.289" stop-color="#1229ec"/><stop offset="0.425" stop-color="#1f75f4"/><stop offset="0.481" stop-color="#26a5ee"/><stop offset="0.489" stop-color="#27bbea"/><stop offset="0.497" stop-color="#31d8a7"/><stop offset="0.505" stop-color="#65dd5b"/><stop offset="0.513" stop-color="#9dd140"/><stop offset="0.521" stop-color="#cfb833"/><stop offset="0.529" stop-color="#eeae2a"/><stop offset="0.545" stop-color="#f5c328"/><stop offset="0.682" stop-color="#f5c328"/><stop offset="0.690" stop-color="#f0ae2a"/><stop offset="0.698" stop-color="#122ced"/><stop offset="0.754" stop-color="#122ded"/><stop offset="0.770" stop-color="#1b60f5"/><stop offset="0.818" stop-color="#1c65f5"/><stop offset="0.826" stop-color="#1f76f4"/><stop offset="0.834" stop-color="#27abed"/><stop offset="0.842" stop-color="#28d2ce"/><stop offset="0.850" stop-color="#28c6e8"/><stop offset="0.858" stop-color="#2282f3"/><stop offset="0.866" stop-color="#1d68f5"/><stop offset="1.000" stop-color="#1c62f5"/></linearGradient><linearGradient id="fr219"><stop offset="0.000" stop-color="#1122e9"/><stop offset="0.289" stop-color="#1228eb"/><stop offset="0.433" stop-color="#1f74f4"/><stop offset="0.481" stop-color="#2698f0"/><stop offset="0.489" stop-color="#27bbea"/><stop offset="0.497" stop-color="#31d8a7"/><stop offset="0.505" stop-color="#65dd5b"/><stop offset="0.513" stop-color="#9dd140"/><stop offset="0.521" stop-color="#cfb833"/><stop offset="0.529" stop-color="#eeae2a"/><stop offset="0.545" stop-color="#f5c328"/><stop offset="0.682" stop-color="#f5c328"/><stop offset="0.690" stop-color="#79de4b"/><stop offset="0.698" stop-color="#122ced"/><stop offset="0.754" stop-color="#1332ef"/><stop offset="0.770" stop-color="#1c62f5"/><stop offset="0.818" stop-color="#1d69f5"/><stop offset="0.826" stop-color="#2286f2"/><stop offset="0.834" stop-color="#28c9e4"/><stop offset="0.842" stop-color="#28d1d0"/><stop offset="0.850" stop-color="#26a2ef"/><stop offset="0.858" stop-color="#1f73f4"/><stop offset="0.874" stop-color="#1c62f5"/><stop offset="1.000" stop-color="#1c62f5"/></linearGradient><linearGradient id="fr220"><stop offset="0.000" stop-color="#1122e9"/><stop offset="0.144" stop-color="#122aec"/><stop offset="0.200" stop-color="#1b61f5"/><stop offset="0.481" stop-color="#217ef3"/><stop offset="0.577" stop-color="#28cae3"/><stop offset="0.682" stop-color="#2dd6b6"/><stop offset="0.690" stop-color="#1a5bf5"/><stop offset="0.698" stop-color="#122ced"/><stop offset="0.746" stop-color="#122ced"/><stop offset="0.754" stop-color="#143af1"/><stop offset="0.762" stop-color="#1a58f5"/><stop offset="0.786" stop-color="#1c62f5"/><stop offset="0.810" stop-color="#1c64f5"/><stop offset="0.818" stop-color="#1e70f5"/><stop offset="0.826" stop-color="#269af0"/><stop offset="0.834" stop-color="#28d0d3"/><stop offset="0.842" stop-color="#28cbdf"/><stop offset="0.850" stop-color="#238af2"/><stop offset="0.858" stop-color="#1d6af5"/><stop offset="0.954" stop-color="#1c62f5"/><stop offset="1.000" stop-color="#1c62f5"/></linearGradient><linearGradient id="fr221"><stop offset="0.000" stop-color="#1122e9"/><stop offset="0.168" stop-color="#1229ec"/><stop offset="0.225" stop-color="#1b61f5"/><stop offset="0.561" stop-color="#2388f2"/><stop offset="0.674" stop-color="#27b9eb"/><stop offset="0.682" stop-color="#27b8eb"/><stop offset="0.690" stop-color="#1330ee"/><stop offset="0.746" stop-color="#122ced"/><stop offset="0.762" stop-color="#1b5ff5"/><stop offset="0.810" stop-color="#1d67f5"/><stop offset="0.818" stop-color="#217df3"/><stop offset="0.826" stop-color="#28bdea"/><stop offset="0.834" stop-color="#28d2cd"/><stop offset="0.842" stop-color="#27b4ec"/><stop offset="0.850" stop-color="#207af4"/><stop offset="0.858" stop-color="#1c66f5"/><stop offset="1.000" stop-color="#1c62f5"/></linearGradient><linearGradient id="fr222"><stop offset="0.000" stop-color="#1122e9"/><stop offset="0.192" stop-color="#1228eb"/><stop offset="0.249" stop-color="#1b60f5"/><stop offset="0.674" stop-color="#2287f2"/><stop offset="0.682" stop-color="#1f71f5"/><stop offset="0.690" stop-color="#122ced"/><stop offset="0.746" stop-color="#1330ee"/><stop offset="0.762" stop-color="#1c62f5"/><stop offset="0.802" stop-color="#1c63f5"/><stop offset="0.810" stop-color="#1e6cf5"/><stop offset="0.818" stop-color="#2490f1"/><stop offset="0.826" stop-color="#28cdda"/><stop offset="0.834" stop-color="#28cfd6"/><stop offset="0.842" stop-color="#2595f1"/><stop offset="0.850" stop-color="#1e70f5"/><stop offset="0.866" stop-color="#1c62f5"/><stop offset="1.000" stop-color="#1c62f5"/></linearGradient><linearGradient id="fr223"><stop offset="0.000" stop-color="#1122e9"/><stop offset="0.217" stop-color="#1128eb"/><stop offset="0.273" stop-color="#1b60f5"/><stop offset="0.553" stop-color="#2286f2"/><stop offset="0.658" stop-color="#2593f1"/><stop offset="0.674" stop-color="#2287f2"/><stop offset="0.682" stop-color="#1852f5"/><stop offset="0.690" stop-color="#122ced"/><stop offset="0.738" stop-color="#122ced"/><stop offset="0.746" stop-color="#1437f0"/><stop offset="0.754" stop-color="#1956f5"/><stop offset="0.770" stop-color="#1c62f5"/><stop offset="0.802" stop-color="#1c65f5"/><stop offset="0.810" stop-color="#1f76f4"/><stop offset="0.818" stop-color="#27aced"/><stop offset="0.826" stop-color="#28d2ce"/><stop offset="0.834" stop-color="#28c5e9"/><stop offset="0.842" stop-color="#2286f2"/><stop offset="0.858" stop-color="#1c65f5"/><stop offset="0.874" stop-color="#1d6bf5"/><stop offset="0.882" stop-color="#2078f4"/><stop offset="0.898" stop-color="#1c62f5"/><stop offset="0.914" stop-color="#2077f4"/><stop offset="0.930" stop-color="#1c63f5"/><stop offset="0.954" stop-color="#1f73f4"/><stop offset="0.970" stop-color="#1c63f5"/><stop offset="0.986" stop-color="#2077f4"/><stop offset="1.000" stop-color="#1c63f5"/></linearGradient><linearGradient id="fr224"><stop offset="0.000" stop-color="#1122e9"/><stop offset="0.241" stop-color="#1228eb"/><stop offset="0.297" stop-color="#1b60f5"/><stop offset="0.473" stop-color="#207af4"/><stop offset="0.642" stop-color="#27a9ee"/><stop offset="0.658" stop-color="#27a9ee"/><stop offset="0.666" stop-color="#2287f2"/><stop offset="0.674" stop-color="#2287f2"/><stop offset="0.682" stop-color="#1436f0"/><stop offset="0.706" stop-color="#122ced"/><stop offset="0.738" stop-color="#122ced"/><stop offset="0.754" stop-color="#1b5df5"/><stop offset="0.802" stop-color="#1d69f5"/><stop offset="0.810" stop-color="#2286f2"/><stop offset="0.818" stop-color="#28cae4"/><stop offset="0.826" stop-color="#28d1d0"/><stop offset="0.834" stop-color="#26a2ef"/><stop offset="0.842" stop-color="#238cf2"/><stop offset="0.850" stop-color="#26a0ef"/><stop offset="0.858" stop-color="#1d6bf5"/><stop offset="0.866" stop-color="#1c64f5"/><stop offset="0.874" stop-color="#2282f3"/><stop offset="0.882" stop-color="#27b7eb"/><stop offset="0.890" stop-color="#2077f4"/><stop offset="0.898" stop-color="#1c63f5"/><stop offset="0.906" stop-color="#1f72f5"/><stop offset="0.914" stop-color="#27b3ec"/><stop offset="0.930" stop-color="#1c64f5"/><stop offset="0.938" stop-color="#1d69f5"/><stop offset="0.946" stop-color="#269cf0"/><stop offset="0.954" stop-color="#269cf0"/><stop offset="0.962" stop-color="#1d69f5"/><stop offset="0.970" stop-color="#1c64f5"/><stop offset="0.986" stop-color="#27b3ec"/><stop offset="0.994" stop-color="#1f72f5"/><stop offset="1.000" stop-color="#1c64f5"/></linearGradient><linearGradient id="fr225"><stop offset="0.000" stop-color="#1122e9"/><stop offset="0.233" stop-color="#1229ec"/><stop offset="0.289" stop-color="#1541f4"/><stop offset="0.329" stop-color="#1c62f5"/><stop offset="0.433" stop-color="#1f72f5"/><stop offset="0.626" stop-color="#27b9eb"/><stop offset="0.658" stop-color="#27baea"/><stop offset="0.666" stop-color="#2287f2"/><stop offset="0.674" stop-color="#217df3"/><stop offset="0.682" stop-color="#122ced"/><stop offset="0.738" stop-color="#122eed"/><stop offset="0.754" stop-color="#1b61f5"/><stop offset="0.794" stop-color="#1c64f5"/><stop offset="0.802" stop-color="#1e71f5"/><stop offset="0.810" stop-color="#269af0"/><stop offset="0.818" stop-color="#28d0d2"/><stop offset="0.826" stop-color="#28cbdf"/><stop offset="0.834" stop-color="#238cf2"/><stop offset="0.842" stop-color="#28c2e9"/><stop offset="0.850" stop-color="#33d8a0"/><stop offset="0.858" stop-color="#1f76f4"/><stop offset="0.866" stop-color="#1c65f5"/><stop offset="0.874" stop-color="#27aaed"/><stop offset="0.882" stop-color="#42dc78"/><stop offset="0.890" stop-color="#248ef1"/><stop offset="0.898" stop-color="#1c64f5"/><stop offset="0.906" stop-color="#2284f3"/><stop offset="0.914" stop-color="#3cdc7d"/><stop offset="0.922" stop-color="#28c0e9"/><stop offset="0.930" stop-color="#1d67f5"/><stop offset="0.938" stop-color="#1e70f5"/><stop offset="0.946" stop-color="#2cd6b9"/><stop offset="0.954" stop-color="#2cd6b9"/><stop offset="0.962" stop-color="#1e70f5"/><stop offset="0.970" stop-color="#1d67f5"/><stop offset="0.978" stop-color="#28c0e9"/><stop offset="0.986" stop-color="#3cdc7d"/><stop offset="0.994" stop-color="#2284f3"/><stop offset="1.000" stop-color="#1c65f5"/></linearGradient><linearGradient id="fr226"><stop offset="0.000" stop-color="#1122e9"/><stop offset="0.233" stop-color="#122aec"/><stop offset="0.321" stop-color="#174af5"/><stop offset="0.353" stop-color="#1c62f5"/><stop offset="0.433" stop-color="#1f76f4"/><stop offset="0.617" stop-color="#28bfea"/><stop offset="0.658" stop-color="#28c1e9"/><stop offset="0.666" stop-color="#2389f2"/><stop offset="0.682" stop-color="#122ced"/><stop offset="0.730" stop-color="#122ced"/><stop offset="0.738" stop-color="#1334ef"/><stop offset="0.746" stop-color="#1953f5"/><stop offset="0.754" stop-color="#1c62f5"/><stop offset="0.794" stop-color="#1d67f5"/><stop offset="0.802" stop-color="#217ef3"/><stop offset="0.810" stop-color="#28beea"/><stop offset="0.818" stop-color="#28d2ce"/><stop offset="0.826" stop-color="#27b3ec"/><stop offset="0.834" stop-color="#217ff3"/><stop offset="0.842" stop-color="#2ed6b2"/><stop offset="0.850" stop-color="#5bdd63"/><stop offset="0.858" stop-color="#207cf3"/><stop offset="0.866" stop-color="#1d67f5"/><stop offset="0.874" stop-color="#28c9e5"/><stop offset="0.882" stop-color="#7fdc49"/><stop offset="0.890" stop-color="#269bf0"/><stop offset="0.898" stop-color="#1c64f5"/><stop offset="0.906" stop-color="#248ff1"/><stop offset="0.914" stop-color="#79de4b"/><stop offset="0.922" stop-color="#28d1d1"/><stop offset="0.930" stop-color="#1d69f5"/><stop offset="0.938" stop-color="#1f75f4"/><stop offset="0.946" stop-color="#47dc74"/><stop offset="0.954" stop-color="#47dc74"/><stop offset="0.962" stop-color="#1f75f4"/><stop offset="0.970" stop-color="#1d69f5"/><stop offset="0.978" stop-color="#28d1d1"/><stop offset="0.986" stop-color="#79de4b"/><stop offset="0.994" stop-color="#248ff1"/><stop offset="1.000" stop-color="#1d67f5"/></linearGradient><linearGradient id="fr227"><stop offset="0.000" stop-color="#1122e9"/><stop offset="0.241" stop-color="#122aec"/><stop offset="0.353" stop-color="#1953f5"/><stop offset="0.393" stop-color="#1c63f5"/><stop offset="0.626" stop-color="#27b5eb"/><stop offset="0.658" stop-color="#27b6eb"/><stop offset="0.666" stop-color="#2287f2"/><stop offset="0.674" stop-color="#1541f3"/><stop offset="0.682" stop-color="#122ced"/><stop offset="0.730" stop-color="#122ced"/><stop offset="0.746" stop-color="#1a5bf5"/><stop offset="0.794" stop-color="#1e6cf5"/><stop offset="0.802" stop-color="#2490f1"/><stop offset="0.810" stop-color="#28cdd9"/><stop offset="0.818" stop-color="#28cfd7"/><stop offset="0.826" stop-color="#2595f1"/><stop offset="0.834" stop-color="#1f75f4"/><stop offset="0.842" stop-color="#29d5c3"/><stop offset="0.850" stop-color="#39db87"/><stop offset="0.858" stop-color="#2077f4"/><stop offset="0.866" stop-color="#1c66f5"/><stop offset="0.874" stop-color="#27b5eb"/><stop offset="0.882" stop-color="#55dd68"/><stop offset="0.890" stop-color="#2492f1"/><stop offset="0.898" stop-color="#1c64f5"/><stop offset="0.906" stop-color="#2387f2"/><stop offset="0.914" stop-color="#4fdd6e"/><stop offset="0.922" stop-color="#28c9e5"/><stop offset="0.930" stop-color="#1d68f5"/><stop offset="0.938" stop-color="#1f72f5"/><stop offset="0.946" stop-color="#32d8a1"/><stop offset="0.954" stop-color="#32d8a1"/><stop offset="0.962" stop-color="#1f72f5"/><stop offset="0.970" stop-color="#1d68f5"/><stop offset="0.978" stop-color="#28c9e5"/><stop offset="0.986" stop-color="#4fdd6e"/><stop offset="0.994" stop-color="#2387f2"/><stop offset="1.000" stop-color="#1c66f5"/></linearGradient><linearGradient id="fr228"><stop offset="0.000" stop-color="#1122e9"/><stop offset="0.257" stop-color="#122aec"/><stop offset="0.377" stop-color="#1852f5"/><stop offset="0.417" stop-color="#1c64f5"/><stop offset="0.481" stop-color="#2285f2"/><stop offset="0.569" stop-color="#28c9e5"/><stop offset="0.642" stop-color="#28cfd5"/><stop offset="0.650" stop-color="#269af0"/><stop offset="0.658" stop-color="#269af0"/><stop offset="0.666" stop-color="#2284f3"/><stop offset="0.674" stop-color="#122ded"/><stop offset="0.730" stop-color="#132fee"/><stop offset="0.746" stop-color="#1c62f5"/><stop offset="0.786" stop-color="#1c65f5"/><stop offset="0.794" stop-color="#2077f4"/><stop offset="0.802" stop-color="#27aded"/><stop offset="0.810" stop-color="#28d2ce"/><stop offset="0.818" stop-color="#28c4e9"/><stop offset="0.826" stop-color="#2282f3"/><stop offset="0.834" stop-color="#1e6cf5"/><stop offset="0.842" stop-color="#26a3ef"/><stop offset="0.850" stop-color="#27baea"/><stop offset="0.858" stop-color="#1e6df5"/><stop offset="0.866" stop-color="#1c64f5"/><stop offset="0.874" stop-color="#2388f2"/><stop offset="0.882" stop-color="#28cae3"/><stop offset="0.890" stop-color="#207bf4"/><stop offset="0.898" stop-color="#1c63f5"/><stop offset="0.906" stop-color="#1f75f4"/><stop offset="0.914" stop-color="#28c9e6"/><stop offset="0.922" stop-color="#2490f1"/><stop offset="0.930" stop-color="#1c65f5"/><stop offset="0.938" stop-color="#1d6af5"/><stop offset="0.946" stop-color="#27afec"/><stop offset="0.954" stop-color="#27afec"/><stop offset="0.962" stop-color="#1d6af5"/><stop offset="0.970" stop-color="#1c65f5"/><stop offset="0.978" stop-color="#2490f1"/><stop offset="0.986" stop-color="#28c9e6"/><stop offset="0.994" stop-color="#1f75f4"/><stop offset="1.000" stop-color="#1c64f5"/></linearGradient><linearGradient id="fr229"><stop offset="0.000" stop-color="#1122e9"/><stop offset="0.289" stop-color="#122aec"/><stop offset="0.409" stop-color="#1d68f5"/><stop offset="0.489" stop-color="#27aeed"/><stop offset="0.521" stop-color="#28cbe0"/><stop offset="0.609" stop-color="#31d8a5"/><stop offset="0.642" stop-color="#32d8a2"/><stop offset="0.650" stop-color="#27baea"/><stop offset="0.658" stop-color="#2286f2"/><stop offset="0.666" stop-color="#1e6cf5"/><stop offset="0.674" stop-color="#122ced"/><stop offset="0.722" stop-color="#1335f0"/><stop offset="0.730" stop-color="#1646f5"/><stop offset="0.738" stop-color="#1d69f5"/><stop offset="0.746" stop-color="#2077f4"/><stop offset="0.770" stop-color="#1c62f5"/><stop offset="0.786" stop-color="#1d69f5"/><stop offset="0.794" stop-color="#2287f2"/><stop offset="0.802" stop-color="#28cae3"/><stop offset="0.810" stop-color="#28d1d1"/><stop offset="0.818" stop-color="#26a2ef"/><stop offset="0.826" stop-color="#1f73f4"/><stop offset="0.834" stop-color="#1c66f5"/><stop offset="0.850" stop-color="#207bf4"/><stop offset="0.858" stop-color="#1c66f5"/><stop offset="0.866" stop-color="#1c63f5"/><stop offset="0.882" stop-color="#217ff3"/><stop offset="0.898" stop-color="#1c62f5"/><stop offset="0.906" stop-color="#1d68f5"/><stop offset="0.914" stop-color="#217ef3"/><stop offset="0.930" stop-color="#1c63f5"/><stop offset="0.938" stop-color="#1c65f5"/><stop offset="0.946" stop-color="#2079f4"/><stop offset="0.954" stop-color="#2079f4"/><stop offset="0.962" stop-color="#1c65f5"/><stop offset="0.970" stop-color="#1c63f5"/><stop offset="0.986" stop-color="#217ef3"/><stop offset="1.000" stop-color="#1c63f5"/></linearGradient><linearGradient id="fr230"><stop offset="0.000" stop-color="#1122e9"/><stop offset="0.281" stop-color="#1228eb"/><stop offset="0.409" stop-color="#1f76f4"/><stop offset="0.473" stop-color="#27b6eb"/><stop offset="0.505" stop-color="#28ced7"/><stop offset="0.585" stop-color="#39db89"/><stop offset="0.601" stop-color="#64dd5c"/><stop offset="0.642" stop-color="#6bde56"/><stop offset="0.650" stop-color="#39db89"/><stop offset="0.658" stop-color="#2286f2"/><stop offset="0.666" stop-color="#174df5"/><stop offset="0.674" stop-color="#122ced"/><stop offset="0.714" stop-color="#1436f0"/><stop offset="0.722" stop-color="#184ff5"/><stop offset="0.730" stop-color="#2387f2"/><stop offset="0.738" stop-color="#28ced9"/><stop offset="0.746" stop-color="#28c6e8"/><stop offset="0.754" stop-color="#2388f2"/><stop offset="0.762" stop-color="#1e6cf5"/><stop offset="0.778" stop-color="#1c64f5"/><stop offset="0.786" stop-color="#1f71f5"/><stop offset="0.794" stop-color="#269bf0"/><stop offset="0.802" stop-color="#28d0d2"/><stop offset="0.810" stop-color="#28cbe0"/><stop offset="0.818" stop-color="#238af2"/><stop offset="0.826" stop-color="#1d6af5"/><stop offset="0.906" stop-color="#1c63f5"/><stop offset="1.000" stop-color="#1c62f5"/></linearGradient><linearGradient id="fr231"><stop offset="0.000" stop-color="#1122e9"/><stop offset="0.281" stop-color="#1229eb"/><stop offset="0.409" stop-color="#2078f4"/><stop offset="0.465" stop-color="#27b0ec"/><stop offset="0.489" stop-color="#28cae3"/><stop offset="0.561" stop-color="#35d997"/><stop offset="0.569" stop-color="#56dd68"/><stop offset="0.577" stop-color="#8ed644"/><stop offset="0.593" stop-color="#e7ac2d"/><stop offset="0.626" stop-color="#f3af29"/><stop offset="0.642" stop-color="#f3af29"/><stop offset="0.650" stop-color="#bbc339"/><stop offset="0.658" stop-color="#2286f2"/><stop offset="0.666" stop-color="#1333ef"/><stop offset="0.706" stop-color="#132fed"/><stop offset="0.714" stop-color="#153cf2"/><stop offset="0.722" stop-color="#1c66f5"/><stop offset="0.730" stop-color="#28d0d3"/><stop offset="0.738" stop-color="#60dd5f"/><stop offset="0.746" stop-color="#37da91"/><stop offset="0.754" stop-color="#26a5ee"/><stop offset="0.762" stop-color="#1f73f4"/><stop offset="0.770" stop-color="#1c65f5"/><stop offset="0.778" stop-color="#1d67f5"/><stop offset="0.786" stop-color="#217ef3"/><stop offset="0.794" stop-color="#28bfea"/><stop offset="0.802" stop-color="#28d2ce"/><stop offset="0.810" stop-color="#27b2ec"/><stop offset="0.818" stop-color="#2079f4"/><stop offset="0.826" stop-color="#1c66f5"/><stop offset="1.000" stop-color="#1c62f5"/></linearGradient><linearGradient id="fr232"><stop offset="0.000" stop-color="#1122e9"/><stop offset="0.289" stop-color="#1228eb"/><stop offset="0.417" stop-color="#1e6cf5"/><stop offset="0.497" stop-color="#27b3ec"/><stop offset="0.529" stop-color="#28ccde"/><stop offset="0.617" stop-color="#30d7a9"/><stop offset="0.642" stop-color="#30d7a8"/><stop offset="0.650" stop-color="#27b6eb"/><stop offset="0.658" stop-color="#2077f4"/><stop offset="0.666" stop-color="#122ced"/><stop offset="0.706" stop-color="#122eed"/><stop offset="0.714" stop-color="#1438f0"/><stop offset="0.722" stop-color="#1a59f5"/><stop offset="0.730" stop-color="#27b7eb"/><stop offset="0.738" stop-color="#31d8a7"/><stop offset="0.746" stop-color="#28ced7"/><stop offset="0.754" stop-color="#248ff1"/><stop offset="0.762" stop-color="#1e6ef5"/><stop offset="0.770" stop-color="#1c65f5"/><stop offset="0.778" stop-color="#1e6df5"/><stop offset="0.786" stop-color="#2491f1"/><stop offset="0.794" stop-color="#28ced9"/><stop offset="0.802" stop-color="#28ced7"/><stop offset="0.810" stop-color="#2593f1"/><stop offset="0.818" stop-color="#1e6df5"/><stop offset="0.842" stop-color="#1c62f5"/><stop offset="1.000" stop-color="#1c62f5"/></linearGradient><linearGradient id="fr233"><stop offset="0.000" stop-color="#1122e9"/><stop offset="0.321" stop-color="#122aec"/><stop offset="0.473" stop-color="#1e71f5"/><stop offset="0.609" stop-color="#28c0e9"/><stop offset="0.642" stop-color="#28c4e9"/><stop offset="0.650" stop-color="#238af2"/><stop offset="0.658" stop-color="#143af1"/><stop offset="0.674" stop-color="#122ced"/><stop offset="0.714" stop-color="#1330ee"/><stop offset="0.722" stop-color="#1644f4"/><stop offset="0.730" stop-color="#1f72f5"/><stop offset="0.738" stop-color="#2389f2"/><stop offset="0.762" stop-color="#1c66f5"/><stop offset="0.770" stop-color="#1c66f5"/><stop offset="0.778" stop-color="#2077f4"/><stop offset="0.786" stop-color="#27aeed"/><stop offset="0.794" stop-color="#28d2ce"/><stop offset="0.802" stop-color="#28c3e9"/><stop offset="0.810" stop-color="#2180f3"/><stop offset="0.818" stop-color="#1d68f5"/><stop offset="1.000" stop-color="#1c62f5"/></linearGradient><linearGradient id="fr234"><stop offset="0.000" stop-color="#1122e9"/><stop offset="0.361" stop-color="#1229eb"/><stop offset="0.617" stop-color="#217ff3"/><stop offset="0.642" stop-color="#2180f3"/><stop offset="0.650" stop-color="#1c65f5"/><stop offset="0.658" stop-color="#1331ee"/><stop offset="0.714" stop-color="#122ded"/><stop offset="0.730" stop-color="#1b60f5"/><stop offset="0.770" stop-color="#1d69f5"/><stop offset="0.778" stop-color="#2287f2"/><stop offset="0.786" stop-color="#28cae2"/><stop offset="0.794" stop-color="#28d1d1"/><stop offset="0.802" stop-color="#26a0ef"/><stop offset="0.810" stop-color="#1f74f4"/><stop offset="0.826" stop-color="#1c62f5"/><stop offset="1.000" stop-color="#1c62f5"/></linearGradient><linearGradient id="fr235"><stop offset="0.000" stop-color="#1122e9"/><stop offset="0.425" stop-color="#122aec"/><stop offset="0.642" stop-color="#1957f5"/><stop offset="0.658" stop-color="#122ced"/><stop offset="0.714" stop-color="#122eed"/><stop offset="0.730" stop-color="#1b61f5"/><stop offset="0.762" stop-color="#1c64f5"/><stop offset="0.770" stop-color="#1f71f5"/><stop offset="0.778" stop-color="#269cf0"/><stop offset="0.786" stop-color="#28d0d2"/><stop offset="0.794" stop-color="#28cbe0"/><stop offset="0.802" stop-color="#238af2"/><stop offset="0.818" stop-color="#1e6df5"/><stop offset="0.834" stop-color="#1c63f5"/><stop offset="0.850" stop-color="#1e70f5"/><stop offset="0.866" stop-color="#1c62f5"/><stop offset="0.882" stop-color="#1f72f5"/><stop offset="0.898" stop-color="#1c62f5"/><stop offset="0.914" stop-color="#1f72f5"/><stop offset="0.938" stop-color="#1c64f5"/><stop offset="0.954" stop-color="#1e6ef5"/><stop offset="0.970" stop-color="#1c63f5"/><stop offset="0.986" stop-color="#1f72f5"/><stop offset="1.000" stop-color="#1c62f5"/></linearGradient><linearGradient id="fr236"><stop offset="0.000" stop-color="#1122e9"/><stop offset="0.489" stop-color="#1229ec"/><stop offset="0.642" stop-color="#1646f5"/><stop offset="0.658" stop-color="#122ced"/><stop offset="0.714" stop-color="#1334ef"/><stop offset="0.722" stop-color="#1852f5"/><stop offset="0.730" stop-color="#1c62f5"/><stop offset="0.762" stop-color="#1d67f5"/><stop offset="0.770" stop-color="#217ff3"/><stop offset="0.778" stop-color="#28c0e9"/><stop offset="0.786" stop-color="#28d2ce"/><stop offset="0.794" stop-color="#27b1ec"/><stop offset="0.802" stop-color="#217df3"/><stop offset="0.810" stop-color="#2595f1"/><stop offset="0.818" stop-color="#2287f2"/><stop offset="0.826" stop-color="#1c65f5"/><stop offset="0.834" stop-color="#1c66f5"/><stop offset="0.842" stop-color="#238cf2"/><stop offset="0.850" stop-color="#2596f1"/><stop offset="0.858" stop-color="#1d6af5"/><stop offset="0.866" stop-color="#1c63f5"/><stop offset="0.882" stop-color="#26a1ef"/><stop offset="0.890" stop-color="#1f73f4"/><stop offset="0.898" stop-color="#1c63f5"/><stop offset="0.906" stop-color="#1e6ff5"/><stop offset="0.914" stop-color="#269ef0"/><stop offset="0.930" stop-color="#1c64f5"/><stop offset="0.938" stop-color="#1d68f5"/><stop offset="0.946" stop-color="#2491f1"/><stop offset="0.954" stop-color="#2491f1"/><stop offset="0.962" stop-color="#1d68f5"/><stop offset="0.970" stop-color="#1c64f5"/><stop offset="0.986" stop-color="#269ef0"/><stop offset="0.994" stop-color="#1e6ff5"/><stop offset="1.000" stop-color="#1c63f5"/></linearGradient><linearGradient id="fr237"><stop offset="0.000" stop-color="#1122e9"/><stop offset="0.569" stop-color="#1128eb"/><stop offset="0.626" stop-color="#1646f5"/><stop offset="0.642" stop-color="#1646f5"/><stop offset="0.658" stop-color="#122ced"/><stop offset="0.706" stop-color="#122ced"/><stop offset="0.722" stop-color="#1a5af5"/><stop offset="0.762" stop-color="#1e6df5"/><stop offset="0.770" stop-color="#2491f1"/><stop offset="0.778" stop-color="#28ced9"/><stop offset="0.786" stop-color="#28ced7"/><stop offset="0.794" stop-color="#2593f1"/><stop offset="0.802" stop-color="#207cf3"/><stop offset="0.810" stop-color="#2fd7af"/><stop offset="0.818" stop-color="#28c6e8"/><stop offset="0.826" stop-color="#1d68f5"/><stop offset="0.834" stop-color="#1d6bf5"/><stop offset="0.842" stop-color="#28cddb"/><stop offset="0.850" stop-color="#2bd5bc"/><stop offset="0.858" stop-color="#1f73f4"/><stop offset="0.866" stop-color="#1c65f5"/><stop offset="0.874" stop-color="#269fef"/><stop offset="0.882" stop-color="#36da94"/><stop offset="0.890" stop-color="#2389f2"/><stop offset="0.898" stop-color="#1c63f5"/><stop offset="0.906" stop-color="#2181f3"/><stop offset="0.914" stop-color="#34d99c"/><stop offset="0.922" stop-color="#27b2ec"/><stop offset="0.930" stop-color="#1d67f5"/><stop offset="0.938" stop-color="#1e6ff5"/><stop offset="0.946" stop-color="#28d2ce"/><stop offset="0.954" stop-color="#28d2ce"/><stop offset="0.962" stop-color="#1e6ff5"/><stop offset="0.970" stop-color="#1d67f5"/><stop offset="0.978" stop-color="#27b2ec"/><stop offset="0.986" stop-color="#34d99c"/><stop offset="0.994" stop-color="#2181f3"/><stop offset="1.000" stop-color="#1c65f5"/></linearGradient><linearGradient id="fr238"><stop offset="0.000" stop-color="#1122e9"/><stop offset="0.569" stop-color="#1127eb"/><stop offset="0.626" stop-color="#1646f5"/><stop offset="0.642" stop-color="#1646f5"/><stop offset="0.650" stop-color="#122ded"/><stop offset="0.706" stop-color="#122ded"/><stop offset="0.722" stop-color="#1b60f5"/><stop offset="0.754" stop-color="#1c65f5"/><stop offset="0.762" stop-color="#2077f4"/><stop offset="0.770" stop-color="#27afed"/><stop offset="0.778" stop-color="#28d2ce"/><stop offset="0.786" stop-color="#28c3e9"/><stop offset="0.794" stop-color="#2181f3"/><stop offset="0.802" stop-color="#2282f3"/><stop offset="0.810" stop-color="#68dd58"/><stop offset="0.818" stop-color="#2cd6b8"/><stop offset="0.826" stop-color="#1d6bf5"/><stop offset="0.834" stop-color="#1e6ff5"/><stop offset="0.842" stop-color="#36da94"/><stop offset="0.850" stop-color="#57dd67"/><stop offset="0.858" stop-color="#207bf4"/><stop offset="0.866" stop-color="#1c66f5"/><stop offset="0.874" stop-color="#28c9e6"/><stop offset="0.882" stop-color="#7bdd4a"/><stop offset="0.890" stop-color="#269af0"/><stop offset="0.898" stop-color="#1c64f5"/><stop offset="0.906" stop-color="#248ef1"/><stop offset="0.914" stop-color="#74de4e"/><stop offset="0.922" stop-color="#28d0d3"/><stop offset="0.930" stop-color="#1d68f5"/><stop offset="0.938" stop-color="#1f74f4"/><stop offset="0.946" stop-color="#43dc77"/><stop offset="0.954" stop-color="#43dc77"/><stop offset="0.962" stop-color="#1f74f4"/><stop offset="0.970" stop-color="#1d68f5"/><stop offset="0.978" stop-color="#28d0d3"/><stop offset="0.986" stop-color="#74de4e"/><stop offset="0.994" stop-color="#248ef1"/><stop offset="1.000" stop-color="#1c66f5"/></linearGradient><linearGradient id="fr239"><stop offset="0.000" stop-color="#1122e9"/><stop offset="0.569" stop-color="#1127eb"/><stop offset="0.626" stop-color="#1646f5"/><stop offset="0.642" stop-color="#1541f3"/><stop offset="0.650" stop-color="#122ced"/><stop offset="0.706" stop-color="#1332ee"/><stop offset="0.722" stop-color="#1c62f5"/><stop offset="0.754" stop-color="#1d69f5"/><stop offset="0.762" stop-color="#2388f2"/><stop offset="0.770" stop-color="#28cae2"/><stop offset="0.778" stop-color="#28d1d1"/><stop offset="0.786" stop-color="#27a6ee"/><stop offset="0.794" stop-color="#1f74f4"/><stop offset="0.802" stop-color="#2181f3"/><stop offset="0.810" stop-color="#53dd6a"/><stop offset="0.818" stop-color="#28d3cb"/><stop offset="0.826" stop-color="#1d6af5"/><stop offset="0.834" stop-color="#1e6ef5"/><stop offset="0.842" stop-color="#2fd7ac"/><stop offset="0.850" stop-color="#44dc77"/><stop offset="0.858" stop-color="#2079f4"/><stop offset="0.866" stop-color="#1c66f5"/><stop offset="0.874" stop-color="#28beea"/><stop offset="0.882" stop-color="#66dd5a"/><stop offset="0.890" stop-color="#2595f1"/><stop offset="0.898" stop-color="#1c64f5"/><stop offset="0.906" stop-color="#238af2"/><stop offset="0.914" stop-color="#5edd60"/><stop offset="0.922" stop-color="#28ccdd"/><stop offset="0.930" stop-color="#1d68f5"/><stop offset="0.938" stop-color="#1f73f4"/><stop offset="0.946" stop-color="#38da8d"/><stop offset="0.954" stop-color="#38da8d"/><stop offset="0.962" stop-color="#1f73f4"/><stop offset="0.970" stop-color="#1d68f5"/><stop offset="0.978" stop-color="#28ccdd"/><stop offset="0.986" stop-color="#5edd60"/><stop offset="0.994" stop-color="#238af2"/><stop offset="1.000" stop-color="#1c66f5"/></linearGradient><linearGradient id="fr240"><stop offset="0.000" stop-color="#1122e9"/><stop offset="0.569" stop-color="#1126eb"/><stop offset="0.634" stop-color="#1542f4"/><stop offset="0.650" stop-color="#122ced"/><stop offset="0.698" stop-color="#122ced"/><stop offset="0.706" stop-color="#1439f1"/><stop offset="0.714" stop-color="#1a58f5"/><stop offset="0.738" stop-color="#1c62f5"/><stop offset="0.754" stop-color="#1f72f5"/><stop offset="0.762" stop-color="#269df0"/><stop offset="0.770" stop-color="#28d1d1"/><stop offset="0.778" stop-color="#28cbe0"/><stop offset="0.786" stop-color="#2492f1"/><stop offset="0.794" stop-color="#1e6cf5"/><stop offset="0.802" stop-color="#1f75f4"/><stop offset="0.810" stop-color="#28cdda"/><stop offset="0.818" stop-color="#26a5ee"/><stop offset="0.826" stop-color="#1d67f5"/><stop offset="0.834" stop-color="#1d69f5"/><stop offset="0.842" stop-color="#27b4eb"/><stop offset="0.850" stop-color="#28cae2"/><stop offset="0.858" stop-color="#1e6ff5"/><stop offset="0.866" stop-color="#1c64f5"/><stop offset="0.874" stop-color="#248ff1"/><stop offset="0.882" stop-color="#28d1d0"/><stop offset="0.890" stop-color="#217ff3"/><stop offset="0.898" stop-color="#1c63f5"/><stop offset="0.906" stop-color="#2079f4"/><stop offset="0.914" stop-color="#28cfd4"/><stop offset="0.922" stop-color="#2598f0"/><stop offset="0.930" stop-color="#1c65f5"/><stop offset="0.938" stop-color="#1e6cf5"/><stop offset="0.946" stop-color="#28c3e9"/><stop offset="0.954" stop-color="#28c3e9"/><stop offset="0.962" stop-color="#1e6cf5"/><stop offset="0.970" stop-color="#1c65f5"/><stop offset="0.978" stop-color="#2598f0"/><stop offset="0.986" stop-color="#28cfd4"/><stop offset="0.994" stop-color="#2079f4"/><stop offset="1.000" stop-color="#1c64f5"/></linearGradient><linearGradient id="fr241"><stop offset="0.000" stop-color="#101fe8"/><stop offset="0.593" stop-color="#1126eb"/><stop offset="0.698" stop-color="#122ced"/><stop offset="0.714" stop-color="#1b5ef5"/><stop offset="0.746" stop-color="#1d67f5"/><stop offset="0.754" stop-color="#217ff3"/><stop offset="0.762" stop-color="#28c3e9"/><stop offset="0.770" stop-color="#28d4c8"/><stop offset="0.778" stop-color="#28c4e9"/><stop offset="0.786" stop-color="#238bf2"/><stop offset="0.794" stop-color="#1e70f5"/><stop offset="0.802" stop-color="#1e6df5"/><stop offset="0.810" stop-color="#2286f2"/><stop offset="0.826" stop-color="#1c64f5"/><stop offset="0.834" stop-color="#1c65f5"/><stop offset="0.842" stop-color="#217cf3"/><stop offset="0.850" stop-color="#2283f3"/><stop offset="0.858" stop-color="#1d67f5"/><stop offset="0.866" stop-color="#1c63f5"/><stop offset="0.882" stop-color="#2388f2"/><stop offset="0.890" stop-color="#1e6cf5"/><stop offset="0.898" stop-color="#1c62f5"/><stop offset="0.906" stop-color="#1d6af5"/><stop offset="0.914" stop-color="#2287f2"/><stop offset="0.930" stop-color="#1c63f5"/><stop offset="0.938" stop-color="#1c66f5"/><stop offset="0.946" stop-color="#2180f3"/><stop offset="0.954" stop-color="#2180f3"/><stop offset="0.962" stop-color="#1c66f5"/><stop offset="0.970" stop-color="#1c63f5"/><stop offset="0.986" stop-color="#2287f2"/><stop offset="0.994" stop-color="#1d6af5"/><stop offset="1.000" stop-color="#1c63f5"/></linearGradient><linearGradient id="fr242"><stop offset="0.000" stop-color="#101fe8"/><stop offset="0.593" stop-color="#1126eb"/><stop offset="0.698" stop-color="#1330ee"/><stop offset="0.714" stop-color="#1c62f5"/><stop offset="0.746" stop-color="#1e6df5"/><stop offset="0.754" stop-color="#2593f1"/><stop offset="0.762" stop-color="#28d1d0"/><stop offset="0.770" stop-color="#2fd7ae"/><stop offset="0.786" stop-color="#28c8e8"/><stop offset="0.794" stop-color="#2699f0"/><stop offset="0.802" stop-color="#207cf3"/><stop offset="0.826" stop-color="#1c63f5"/><stop offset="0.890" stop-color="#1c64f5"/><stop offset="0.922" stop-color="#1c66f5"/><stop offset="0.994" stop-color="#1c64f5"/><stop offset="1.000" stop-color="#1c62f5"/></linearGradient><linearGradient id="fr243"><stop offset="0.000" stop-color="#a0d03f"/><stop offset="0.617" stop-color="#a0d03f"/><stop offset="0.626" stop-color="#91d543"/><stop offset="0.634" stop-color="#153ef2"/><stop offset="0.642" stop-color="#122ced"/><stop offset="0.690" stop-color="#122ced"/><stop offset="0.698" stop-color="#1436f0"/><stop offset="0.706" stop-color="#1955f5"/><stop offset="0.722" stop-color="#1c62f5"/><stop offset="0.738" stop-color="#1c65f5"/><stop offset="0.746" stop-color="#2078f4"/><stop offset="0.754" stop-color="#27b4ec"/><stop offset="0.762" stop-color="#2ed7b0"/><stop offset="0.778" stop-color="#48dc73"/><stop offset="0.786" stop-color="#57dd67"/><stop offset="0.794" stop-color="#30d7ab"/><stop offset="0.802" stop-color="#269cf0"/><stop offset="0.810" stop-color="#1f72f5"/><stop offset="0.826" stop-color="#1c62f5"/><stop offset="1.000" stop-color="#1c62f5"/></linearGradient><linearGradient id="fr244"><stop offset="0.000" stop-color="#a0d03f"/><stop offset="0.617" stop-color="#a0d03f"/><stop offset="0.626" stop-color="#91d543"/><stop offset="0.634" stop-color="#1333ef"/><stop offset="0.666" stop-color="#122ded"/><stop offset="0.674" stop-color="#1335ef"/><stop offset="0.690" stop-color="#207cf3"/><stop offset="0.706" stop-color="#174bf5"/><stop offset="0.754" stop-color="#1645f5"/><stop offset="0.762" stop-color="#1852f5"/><stop offset="0.770" stop-color="#238af2"/><stop offset="0.778" stop-color="#4cdd6f"/><stop offset="0.786" stop-color="#afca3b"/><stop offset="0.794" stop-color="#5ddd61"/><stop offset="0.802" stop-color="#2491f1"/><stop offset="0.810" stop-color="#1d68f5"/><stop offset="0.834" stop-color="#1a5af5"/><stop offset="1.000" stop-color="#1a5af5"/></linearGradient><linearGradient id="fr245"><stop offset="0.000" stop-color="#101fe8"/><stop offset="0.593" stop-color="#1126eb"/><stop offset="0.674" stop-color="#1330ee"/><stop offset="0.682" stop-color="#1646f5"/><stop offset="0.690" stop-color="#1f72f5"/><stop offset="0.698" stop-color="#1f75f4"/><stop offset="0.706" stop-color="#1852f5"/><stop offset="0.722" stop-color="#1542f4"/><stop offset="0.762" stop-color="#1749f5"/><stop offset="0.770" stop-color="#1c62f5"/><stop offset="0.778" stop-color="#27aded"/><stop offset="0.786" stop-color="#39db87"/><stop offset="0.794" stop-color="#2dd6b6"/><stop offset="0.802" stop-color="#2180f3"/><stop offset="0.810" stop-color="#1955f5"/><stop offset="1.000" stop-color="#1a5af5"/></linearGradient><linearGradient id="fr246"><stop offset="0.000" stop-color="#101fe8"/><stop offset="0.593" stop-color="#1126eb"/><stop offset="0.674" stop-color="#122eed"/><stop offset="0.682" stop-color="#143bf1"/><stop offset="0.690" stop-color="#1c63f5"/><stop offset="0.698" stop-color="#217df3"/><stop offset="0.714" stop-color="#1647f5"/><stop offset="0.762" stop-color="#1644f4"/><stop offset="0.770" stop-color="#174bf5"/><stop offset="0.778" stop-color="#1d69f5"/><stop offset="0.786" stop-color="#27aeed"/><stop offset="0.794" stop-color="#28c9e4"/><stop offset="0.802" stop-color="#217ff3"/><stop offset="0.810" stop-color="#1850f5"/><stop offset="0.826" stop-color="#1a5af5"/><stop offset="1.000" stop-color="#1a5af5"/></linearGradient><linearGradient id="fr247"><stop offset="0.000" stop-color="#1122e9"/><stop offset="0.569" stop-color="#1126eb"/><stop offset="0.634" stop-color="#1542f4"/><stop offset="0.650" stop-color="#122ced"/><stop offset="0.682" stop-color="#1334ef"/><stop offset="0.698" stop-color="#207bf4"/><stop offset="0.706" stop-color="#1d6bf5"/><stop offset="0.714" stop-color="#174cf5"/><stop offset="0.754" stop-color="#1542f4"/><stop offset="0.770" stop-color="#1644f4"/><stop offset="0.778" stop-color="#1954f5"/><stop offset="0.794" stop-color="#28c1e9"/><stop offset="0.810" stop-color="#1a59f5"/><stop offset="0.850" stop-color="#1c64f5"/><stop offset="0.874" stop-color="#1b5ff5"/><stop offset="0.882" stop-color="#1c66f5"/><stop offset="0.906" stop-color="#1b5df5"/><stop offset="0.922" stop-color="#1b60f5"/><stop offset="0.978" stop-color="#1b60f5"/><stop offset="0.994" stop-color="#1b5df5"/><stop offset="1.000" stop-color="#1a5af5"/></linearGradient><linearGradient id="fr248"><stop offset="0.000" stop-color="#1122e9"/><stop offset="0.569" stop-color="#1127eb"/><stop offset="0.626" stop-color="#1646f5"/><stop offset="0.642" stop-color="#153df2"/><stop offset="0.650" stop-color="#122ced"/><stop offset="0.682" stop-color="#1330ee"/><stop offset="0.690" stop-color="#1644f4"/><stop offset="0.698" stop-color="#1e70f5"/><stop offset="0.706" stop-color="#2077f4"/><stop offset="0.714" stop-color="#1954f5"/><stop offset="0.730" stop-color="#1542f4"/><stop offset="0.770" stop-color="#1643f4"/><stop offset="0.778" stop-color="#174cf5"/><stop offset="0.786" stop-color="#1e70f5"/><stop offset="0.794" stop-color="#27b4ec"/><stop offset="0.802" stop-color="#26a6ee"/><stop offset="0.810" stop-color="#1c66f5"/><stop offset="0.818" stop-color="#1852f5"/><stop offset="0.834" stop-color="#1b5df5"/><stop offset="0.842" stop-color="#207af4"/><stop offset="0.850" stop-color="#2282f3"/><stop offset="0.858" stop-color="#1b60f5"/><stop offset="0.866" stop-color="#1a5bf5"/><stop offset="0.882" stop-color="#2389f2"/><stop offset="0.890" stop-color="#1d67f5"/><stop offset="0.898" stop-color="#1a5af5"/><stop offset="0.906" stop-color="#1c64f5"/><stop offset="0.914" stop-color="#2388f2"/><stop offset="0.930" stop-color="#1a5cf5"/><stop offset="0.938" stop-color="#1b5ff5"/><stop offset="0.946" stop-color="#217ff3"/><stop offset="0.954" stop-color="#217ff3"/><stop offset="0.962" stop-color="#1b5ff5"/><stop offset="0.970" stop-color="#1a5cf5"/><stop offset="0.986" stop-color="#2388f2"/><stop offset="0.994" stop-color="#1c64f5"/><stop offset="1.000" stop-color="#1a5bf5"/></linearGradient><linearGradient id="fr249"><stop offset="0.000" stop-color="#1122e9"/><stop offset="0.569" stop-color="#1127eb"/><stop offset="0.626" stop-color="#1646f5"/><stop offset="0.642" stop-color="#1645f5"/><stop offset="0.650" stop-color="#122ced"/><stop offset="0.682" stop-color="#122ded"/><stop offset="0.690" stop-color="#143af1"/><stop offset="0.706" stop-color="#217df3"/><stop offset="0.722" stop-color="#1647f5"/><stop offset="0.778" stop-color="#1647f5"/><stop offset="0.786" stop-color="#1b60f5"/><stop offset="0.794" stop-color="#269af0"/><stop offset="0.802" stop-color="#27bbea"/><stop offset="0.810" stop-color="#2079f4"/><stop offset="0.818" stop-color="#1850f5"/><stop offset="0.834" stop-color="#1b61f5"/><stop offset="0.842" stop-color="#27b8eb"/><stop offset="0.850" stop-color="#28ccdc"/><stop offset="0.858" stop-color="#1d69f5"/><stop offset="0.866" stop-color="#1b5df5"/><stop offset="0.874" stop-color="#248df2"/><stop offset="0.882" stop-color="#28d4c8"/><stop offset="0.890" stop-color="#207bf4"/><stop offset="0.898" stop-color="#1a5bf5"/><stop offset="0.906" stop-color="#1f74f4"/><stop offset="0.914" stop-color="#28d2cc"/><stop offset="0.922" stop-color="#2597f0"/><stop offset="0.930" stop-color="#1b5ef5"/><stop offset="0.938" stop-color="#1c65f5"/><stop offset="0.946" stop-color="#28c8e7"/><stop offset="0.954" stop-color="#28c8e7"/><stop offset="0.962" stop-color="#1c65f5"/><stop offset="0.970" stop-color="#1b5ef5"/><stop offset="0.978" stop-color="#2597f0"/><stop offset="0.986" stop-color="#28d2cc"/><stop offset="0.994" stop-color="#1f74f4"/><stop offset="1.000" stop-color="#1b5df5"/></linearGradient><linearGradient id="fr250"><stop offset="0.000" stop-color="#1122e9"/><stop offset="0.553" stop-color="#122aec"/><stop offset="0.601" stop-color="#153df2"/><stop offset="0.642" stop-color="#1646f5"/><stop offset="0.658" stop-color="#122ced"/><stop offset="0.690" stop-color="#1333ef"/><stop offset="0.706" stop-color="#207af4"/><stop offset="0.714" stop-color="#1e6df5"/><stop offset="0.722" stop-color="#174df5"/><stop offset="0.754" stop-color="#1542f4"/><stop offset="0.778" stop-color="#1644f4"/><stop offset="0.786" stop-color="#1954f5"/><stop offset="0.802" stop-color="#28c0e9"/><stop offset="0.818" stop-color="#1a58f5"/><stop offset="0.834" stop-color="#1c63f5"/><stop offset="0.842" stop-color="#2ed6b1"/><stop offset="0.850" stop-color="#43dc77"/><stop offset="0.858" stop-color="#1f71f5"/><stop offset="0.866" stop-color="#1b5ef5"/><stop offset="0.874" stop-color="#27b6eb"/><stop offset="0.882" stop-color="#67dd59"/><stop offset="0.890" stop-color="#248ff1"/><stop offset="0.898" stop-color="#1a5cf5"/><stop offset="0.906" stop-color="#2284f3"/><stop offset="0.914" stop-color="#5fdd60"/><stop offset="0.922" stop-color="#28cae2"/><stop offset="0.930" stop-color="#1b60f5"/><stop offset="0.938" stop-color="#1d6bf5"/><stop offset="0.946" stop-color="#37da90"/><stop offset="0.954" stop-color="#37da90"/><stop offset="0.962" stop-color="#1d6bf5"/><stop offset="0.970" stop-color="#1b60f5"/><stop offset="0.978" stop-color="#28cae2"/><stop offset="0.986" stop-color="#5fdd60"/><stop offset="0.994" stop-color="#2284f3"/><stop offset="1.000" stop-color="#1b5ef5"/></linearGradient><linearGradient id="fr251"><stop offset="0.000" stop-color="#1122e9"/><stop offset="0.473" stop-color="#1229ec"/><stop offset="0.642" stop-color="#1646f5"/><stop offset="0.658" stop-color="#122ced"/><stop offset="0.690" stop-color="#132fee"/><stop offset="0.698" stop-color="#1542f4"/><stop offset="0.706" stop-color="#1e6ef5"/><stop offset="0.714" stop-color="#2078f4"/><stop offset="0.722" stop-color="#1955f5"/><stop offset="0.730" stop-color="#1645f5"/><stop offset="0.778" stop-color="#1643f4"/><stop offset="0.786" stop-color="#174cf5"/><stop offset="0.794" stop-color="#1f71f5"/><stop offset="0.802" stop-color="#27b5eb"/><stop offset="0.810" stop-color="#26a4ee"/><stop offset="0.818" stop-color="#1c65f5"/><stop offset="0.826" stop-color="#1851f5"/><stop offset="0.834" stop-color="#1b61f5"/><stop offset="0.842" stop-color="#2bd5bd"/><stop offset="0.850" stop-color="#43dc77"/><stop offset="0.858" stop-color="#1f71f5"/><stop offset="0.866" stop-color="#1b5ef5"/><stop offset="0.874" stop-color="#27b6eb"/><stop offset="0.882" stop-color="#67dd59"/><stop offset="0.890" stop-color="#248ff1"/><stop offset="0.898" stop-color="#1a5cf5"/><stop offset="0.906" stop-color="#2284f3"/><stop offset="0.914" stop-color="#5fdd60"/><stop offset="0.922" stop-color="#28cae2"/><stop offset="0.930" stop-color="#1b60f5"/><stop offset="0.938" stop-color="#1d6bf5"/><stop offset="0.946" stop-color="#37da90"/><stop offset="0.954" stop-color="#37da90"/><stop offset="0.962" stop-color="#1d6bf5"/><stop offset="0.970" stop-color="#1b60f5"/><stop offset="0.978" stop-color="#28cae2"/><stop offset="0.986" stop-color="#5fdd60"/><stop offset="0.994" stop-color="#2284f3"/><stop offset="1.000" stop-color="#1b5ef5"/></linearGradient><linearGradient id="fr252"><stop offset="0.000" stop-color="#1122e9"/><stop offset="0.417" stop-color="#122aec"/><stop offset="0.634" stop-color="#1c62f5"/><stop offset="0.642" stop-color="#1c62f5"/><stop offset="0.650" stop-color="#184ff5"/><stop offset="0.658" stop-color="#122ced"/><stop offset="0.690" stop-color="#122ded"/><stop offset="0.698" stop-color="#1439f1"/><stop offset="0.714" stop-color="#217df3"/><stop offset="0.730" stop-color="#1648f5"/><stop offset="0.786" stop-color="#1647f5"/><stop offset="0.794" stop-color="#1b61f5"/><stop offset="0.802" stop-color="#269cf0"/><stop offset="0.810" stop-color="#27baea"/><stop offset="0.818" stop-color="#2078f4"/><stop offset="0.826" stop-color="#184ef5"/><stop offset="0.834" stop-color="#1b5df5"/><stop offset="0.842" stop-color="#26a4ee"/><stop offset="0.850" stop-color="#28ccdc"/><stop offset="0.858" stop-color="#1d69f5"/><stop offset="0.866" stop-color="#1b5df5"/><stop offset="0.874" stop-color="#248df2"/><stop offset="0.882" stop-color="#28d4c8"/><stop offset="0.890" stop-color="#207bf4"/><stop offset="0.898" stop-color="#1a5bf5"/><stop offset="0.906" stop-color="#1f74f4"/><stop offset="0.914" stop-color="#28d2cc"/><stop offset="0.922" stop-color="#2597f0"/><stop offset="0.930" stop-color="#1b5ef5"/><stop offset="0.938" stop-color="#1c65f5"/><stop offset="0.946" stop-color="#28c8e7"/><stop offset="0.954" stop-color="#28c8e7"/><stop offset="0.962" stop-color="#1c65f5"/><stop offset="0.970" stop-color="#1b5ef5"/><stop offset="0.978" stop-color="#2597f0"/><stop offset="0.986" stop-color="#28d2cc"/><stop offset="0.994" stop-color="#1f74f4"/><stop offset="1.000" stop-color="#1b5df5"/></linearGradient><linearGradient id="fr253"><stop offset="0.000" stop-color="#1122e9"/><stop offset="0.361" stop-color="#1229ec"/><stop offset="0.593" stop-color="#2287f2"/><stop offset="0.642" stop-color="#248df2"/><stop offset="0.650" stop-color="#1e6ef5"/><stop offset="0.658" stop-color="#1333ef"/><stop offset="0.698" stop-color="#1332ef"/><stop offset="0.706" stop-color="#184ef5"/><stop offset="0.714" stop-color="#207af4"/><stop offset="0.722" stop-color="#1e71f5"/><stop offset="0.730" stop-color="#184ff5"/><stop offset="0.754" stop-color="#1542f4"/><stop offset="0.786" stop-color="#1644f4"/><stop offset="0.794" stop-color="#1955f5"/><stop offset="0.810" stop-color="#28c0e9"/><stop offset="0.826" stop-color="#1957f5"/><stop offset="0.834" stop-color="#1a5bf5"/><stop offset="0.850" stop-color="#2282f3"/><stop offset="0.858" stop-color="#1b60f5"/><stop offset="0.866" stop-color="#1a5bf5"/><stop offset="0.882" stop-color="#2389f2"/><stop offset="0.890" stop-color="#1d67f5"/><stop offset="0.898" stop-color="#1a5af5"/><stop offset="0.906" stop-color="#1c64f5"/><stop offset="0.914" stop-color="#2388f2"/><stop offset="0.930" stop-color="#1a5cf5"/><stop offset="0.938" stop-color="#1b5ff5"/><stop offset="0.946" stop-color="#217ff3"/><stop offset="0.954" stop-color="#217ff3"/><stop offset="0.962" stop-color="#1b5ff5"/><stop offset="0.970" stop-color="#1a5cf5"/><stop offset="0.986" stop-color="#2388f2"/><stop offset="0.994" stop-color="#1c64f5"/><stop offset="1.000" stop-color="#1a5bf5"/></linearGradient><linearGradient id="fr254"><stop offset="0.000" stop-color="#1122e9"/><stop offset="0.321" stop-color="#1228eb"/><stop offset="0.457" stop-color="#1d6af5"/><stop offset="0.593" stop-color="#28c9e6"/><stop offset="0.642" stop-color="#28cbdf"/><stop offset="0.650" stop-color="#2492f1"/><stop offset="0.658" stop-color="#153ef2"/><stop offset="0.666" stop-color="#122ced"/><stop offset="0.698" stop-color="#1330ee"/><stop offset="0.706" stop-color="#1644f4"/><stop offset="0.714" stop-color="#2077f4"/><stop offset="0.722" stop-color="#238df2"/><stop offset="0.738" stop-color="#184ff5"/><stop offset="0.770" stop-color="#1542f4"/><stop offset="0.794" stop-color="#174cf5"/><stop offset="0.802" stop-color="#1f73f4"/><stop offset="0.810" stop-color="#27b6eb"/><stop offset="0.818" stop-color="#26a3ef"/><stop offset="0.826" stop-color="#1c65f5"/><stop offset="0.834" stop-color="#1851f5"/><stop offset="0.850" stop-color="#1c64f5"/><stop offset="0.874" stop-color="#1b5ff5"/><stop offset="0.882" stop-color="#1c66f5"/><stop offset="0.906" stop-color="#1b5df5"/><stop offset="0.922" stop-color="#1b60f5"/><stop offset="0.978" stop-color="#1b60f5"/><stop offset="0.994" stop-color="#1b5df5"/><stop offset="1.000" stop-color="#1a5af5"/></linearGradient><linearGradient id="fr255"><stop offset="0.000" stop-color="#1122e9"/><stop offset="0.305" stop-color="#122aec"/><stop offset="0.433" stop-color="#2076f4"/><stop offset="0.497" stop-color="#27b5eb"/><stop offset="0.521" stop-color="#28cbe0"/><stop offset="0.609" stop-color="#33d8a0"/><stop offset="0.642" stop-color="#34d99d"/><stop offset="0.650" stop-color="#28bdea"/><stop offset="0.658" stop-color="#174df5"/><stop offset="0.666" stop-color="#122ced"/><stop offset="0.698" stop-color="#1331ee"/><stop offset="0.706" stop-color="#1648f5"/><stop offset="0.714" stop-color="#238cf2"/><stop offset="0.722" stop-color="#28d4c8"/><stop offset="0.730" stop-color="#28c8e8"/><stop offset="0.738" stop-color="#1f76f4"/><stop offset="0.746" stop-color="#1953f5"/><stop offset="0.762" stop-color="#1542f4"/><stop offset="0.794" stop-color="#1647f5"/><stop offset="0.802" stop-color="#1c62f5"/><stop offset="0.810" stop-color="#269df0"/><stop offset="0.818" stop-color="#27b9eb"/><stop offset="0.826" stop-color="#1f76f4"/><stop offset="0.834" stop-color="#184ef5"/><stop offset="0.850" stop-color="#1a5bf5"/><stop offset="1.000" stop-color="#1a5af5"/></linearGradient><linearGradient id="fr256"><stop offset="0.000" stop-color="#1122e9"/><stop offset="0.289" stop-color="#1127eb"/><stop offset="0.409" stop-color="#1f71f5"/><stop offset="0.473" stop-color="#27b3ec"/><stop offset="0.497" stop-color="#28cbdf"/><stop offset="0.505" stop-color="#28ced8"/><stop offset="0.513" stop-color="#31d8a7"/><stop offset="0.521" stop-color="#65dd5b"/><stop offset="0.529" stop-color="#9dd140"/><stop offset="0.537" stop-color="#cfb833"/><stop offset="0.545" stop-color="#eeae2a"/><stop offset="0.561" stop-color="#f5c328"/><stop offset="0.642" stop-color="#f5c328"/><stop offset="0.650" stop-color="#cfb833"/><stop offset="0.658" stop-color="#1957f5"/><stop offset="0.666" stop-color="#1333ef"/><stop offset="0.690" stop-color="#122ded"/><stop offset="0.698" stop-color="#1333ef"/><stop offset="0.706" stop-color="#1851f5"/><stop offset="0.714" stop-color="#27b2ec"/><stop offset="0.722" stop-color="#6dde54"/><stop offset="0.730" stop-color="#64dd5b"/><stop offset="0.738" stop-color="#27b8eb"/><stop offset="0.746" stop-color="#1c63f5"/><stop offset="0.754" stop-color="#1749f5"/><stop offset="0.794" stop-color="#1644f4"/><stop offset="0.802" stop-color="#1955f5"/><stop offset="0.818" stop-color="#28c0e9"/><stop offset="0.834" stop-color="#1957f5"/><stop offset="1.000" stop-color="#1a5af5"/></linearGradient><linearGradient id="fr257"><stop offset="0.000" stop-color="#1122e9"/><stop offset="0.152" stop-color="#122aec"/><stop offset="0.209" stop-color="#1b61f5"/><stop offset="0.417" stop-color="#1f74f4"/><stop offset="0.481" stop-color="#27b7eb"/><stop offset="0.505" stop-color="#28ccdd"/><stop offset="0.513" stop-color="#30d7ab"/><stop offset="0.521" stop-color="#62dd5e"/><stop offset="0.529" stop-color="#9ad241"/><stop offset="0.537" stop-color="#cbba35"/><stop offset="0.545" stop-color="#edad2b"/><stop offset="0.569" stop-color="#f5be28"/><stop offset="0.642" stop-color="#f5be28"/><stop offset="0.650" stop-color="#cbba35"/><stop offset="0.658" stop-color="#2286f2"/><stop offset="0.666" stop-color="#1d68f5"/><stop offset="0.674" stop-color="#122ced"/><stop offset="0.698" stop-color="#1332ee"/><stop offset="0.706" stop-color="#1749f5"/><stop offset="0.714" stop-color="#238cf2"/><stop offset="0.722" stop-color="#3bdc81"/><stop offset="0.730" stop-color="#51dd6c"/><stop offset="0.738" stop-color="#27b2ec"/><stop offset="0.746" stop-color="#1b60f5"/><stop offset="0.754" stop-color="#1648f5"/><stop offset="0.794" stop-color="#1643f4"/><stop offset="0.802" stop-color="#174df5"/><stop offset="0.810" stop-color="#1f74f4"/><stop offset="0.818" stop-color="#27b7eb"/><stop offset="0.826" stop-color="#26a1ef"/><stop offset="0.834" stop-color="#1c64f5"/><stop offset="0.842" stop-color="#1852f5"/><stop offset="0.890" stop-color="#1a5af5"/><stop offset="1.000" stop-color="#1a5af5"/></linearGradient><linearGradient id="fr258"><stop offset="0.000" stop-color="#1122e9"/><stop offset="0.176" stop-color="#1128eb"/><stop offset="0.233" stop-color="#1b60f5"/><stop offset="0.441" stop-color="#2079f4"/><stop offset="0.505" stop-color="#27b7eb"/><stop offset="0.537" stop-color="#28cdda"/><stop offset="0.617" stop-color="#30d7a8"/><stop offset="0.642" stop-color="#31d8a7"/><stop offset="0.650" stop-color="#27b7eb"/><stop offset="0.658" stop-color="#2286f2"/><stop offset="0.666" stop-color="#2284f3"/><stop offset="0.674" stop-color="#122ded"/><stop offset="0.706" stop-color="#1437f0"/><stop offset="0.714" stop-color="#1852f5"/><stop offset="0.730" stop-color="#28beea"/><stop offset="0.746" stop-color="#1953f5"/><stop offset="0.762" stop-color="#1542f4"/><stop offset="0.802" stop-color="#1647f5"/><stop offset="0.810" stop-color="#1c63f5"/><stop offset="0.818" stop-color="#269fef"/><stop offset="0.826" stop-color="#27b8eb"/><stop offset="0.834" stop-color="#1f75f4"/><stop offset="0.842" stop-color="#174df5"/><stop offset="0.858" stop-color="#1a5af5"/><stop offset="1.000" stop-color="#1a5af5"/></linearGradient><linearGradient id="fr259"><stop offset="0.000" stop-color="#1122e9"/><stop offset="0.200" stop-color="#1126eb"/><stop offset="0.257" stop-color="#1b60f5"/><stop offset="0.481" stop-color="#217ef3"/><stop offset="0.585" stop-color="#28cae3"/><stop offset="0.642" stop-color="#28cdd9"/><stop offset="0.650" stop-color="#2595f1"/><stop offset="0.658" stop-color="#2286f2"/><stop offset="0.666" stop-color="#2287f2"/><stop offset="0.674" stop-color="#1645f5"/><stop offset="0.682" stop-color="#122ced"/><stop offset="0.714" stop-color="#1435f0"/><stop offset="0.722" stop-color="#1851f5"/><stop offset="0.730" stop-color="#217ef3"/><stop offset="0.738" stop-color="#2078f4"/><stop offset="0.746" stop-color="#1852f5"/><stop offset="0.762" stop-color="#1542f4"/><stop offset="0.802" stop-color="#1645f5"/><stop offset="0.810" stop-color="#1956f5"/><stop offset="0.826" stop-color="#28c0e9"/><stop offset="0.842" stop-color="#1956f5"/><stop offset="0.882" stop-color="#1c63f5"/><stop offset="0.906" stop-color="#1a5cf5"/><stop offset="0.994" stop-color="#1a5cf5"/><stop offset="1.000" stop-color="#1a5af5"/></linearGradient><linearGradient id="fr260"><stop offset="0.000" stop-color="#1122e9"/><stop offset="0.225" stop-color="#1124ea"/><stop offset="0.281" stop-color="#1b5ff5"/><stop offset="0.513" stop-color="#2180f3"/><stop offset="0.642" stop-color="#26a0ef"/><stop offset="0.658" stop-color="#269af0"/><stop offset="0.674" stop-color="#1d69f5"/><stop offset="0.682" stop-color="#122ced"/><stop offset="0.714" stop-color="#122eed"/><stop offset="0.722" stop-color="#153ef2"/><stop offset="0.730" stop-color="#1d68f5"/><stop offset="0.738" stop-color="#207cf3"/><stop offset="0.754" stop-color="#1646f5"/><stop offset="0.802" stop-color="#1643f4"/><stop offset="0.810" stop-color="#174df5"/><stop offset="0.818" stop-color="#1f75f4"/><stop offset="0.826" stop-color="#27b8eb"/><stop offset="0.834" stop-color="#269fef"/><stop offset="0.842" stop-color="#1c63f5"/><stop offset="0.850" stop-color="#1957f5"/><stop offset="0.866" stop-color="#1a5bf5"/><stop offset="0.882" stop-color="#217ff3"/><stop offset="0.890" stop-color="#1c64f5"/><stop offset="0.898" stop-color="#1a5af5"/><stop offset="0.906" stop-color="#1c62f5"/><stop offset="0.914" stop-color="#217ef3"/><stop offset="0.930" stop-color="#1a5bf5"/><stop offset="0.938" stop-color="#1b5ef5"/><stop offset="0.946" stop-color="#2077f4"/><stop offset="0.954" stop-color="#2077f4"/><stop offset="0.962" stop-color="#1b5ef5"/><stop offset="0.970" stop-color="#1a5bf5"/><stop offset="0.986" stop-color="#217ef3"/><stop offset="0.994" stop-color="#1c62f5"/><stop offset="1.000" stop-color="#1a5bf5"/></linearGradient><linearGradient id="fr261"><stop offset="0.000" stop-color="#1122e9"/><stop offset="0.241" stop-color="#122aec"/><stop offset="0.273" stop-color="#143cf2"/><stop offset="0.313" stop-color="#1b61f5"/><stop offset="0.441" stop-color="#1f73f4"/><stop offset="0.626" stop-color="#27b5eb"/><stop offset="0.658" stop-color="#27b6eb"/><stop offset="0.666" stop-color="#2287f2"/><stop offset="0.674" stop-color="#2284f3"/><stop offset="0.682" stop-color="#122ded"/><stop offset="0.722" stop-color="#1435f0"/><stop offset="0.738" stop-color="#217cf3"/><stop offset="0.754" stop-color="#174af5"/><stop offset="0.802" stop-color="#1542f4"/><stop offset="0.810" stop-color="#1648f5"/><stop offset="0.818" stop-color="#1c64f5"/><stop offset="0.826" stop-color="#26a1ef"/><stop offset="0.834" stop-color="#27b7eb"/><stop offset="0.842" stop-color="#1f74f4"/><stop offset="0.850" stop-color="#1850f5"/><stop offset="0.858" stop-color="#1b5ff5"/><stop offset="0.866" stop-color="#1a5cf5"/><stop offset="0.874" stop-color="#2286f2"/><stop offset="0.882" stop-color="#28cddb"/><stop offset="0.890" stop-color="#2076f4"/><stop offset="0.898" stop-color="#1a5bf5"/><stop offset="0.906" stop-color="#1e70f5"/><stop offset="0.914" stop-color="#28cbdf"/><stop offset="0.922" stop-color="#248ff1"/><stop offset="0.930" stop-color="#1b5df5"/><stop offset="0.938" stop-color="#1c64f5"/><stop offset="0.946" stop-color="#27b4ec"/><stop offset="0.954" stop-color="#27b4ec"/><stop offset="0.962" stop-color="#1c64f5"/><stop offset="0.970" stop-color="#1b5df5"/><stop offset="0.978" stop-color="#248ff1"/><stop offset="0.986" stop-color="#28cbdf"/><stop offset="0.994" stop-color="#1e70f5"/><stop offset="1.000" stop-color="#1a5cf5"/></linearGradient><linearGradient id="fr262"><stop offset="0.000" stop-color="#1122e9"/><stop offset="0.233" stop-color="#122aec"/><stop offset="0.305" stop-color="#1643f4"/><stop offset="0.345" stop-color="#1c62f5"/><stop offset="0.425" stop-color="#1f72f5"/><stop offset="0.617" stop-color="#28bfea"/><stop offset="0.658" stop-color="#28c1e9"/><stop offset="0.666" stop-color="#2389f2"/><stop offset="0.674" stop-color="#2287f2"/><stop offset="0.682" stop-color="#1645f5"/><stop offset="0.690" stop-color="#122ced"/><stop offset="0.722" stop-color="#1330ee"/><stop offset="0.730" stop-color="#1647f5"/><stop offset="0.738" stop-color="#1f74f4"/><stop offset="0.746" stop-color="#1f74f4"/><stop offset="0.754" stop-color="#1851f5"/><stop offset="0.770" stop-color="#1542f4"/><stop offset="0.810" stop-color="#1645f5"/><stop offset="0.818" stop-color="#1957f5"/><stop offset="0.834" stop-color="#28c0e9"/><stop offset="0.850" stop-color="#1955f5"/><stop offset="0.866" stop-color="#1b5df5"/><stop offset="0.874" stop-color="#27afec"/><stop offset="0.882" stop-color="#5add64"/><stop offset="0.890" stop-color="#238cf2"/><stop offset="0.898" stop-color="#1a5cf5"/><stop offset="0.906" stop-color="#2181f3"/><stop offset="0.914" stop-color="#52dd6a"/><stop offset="0.922" stop-color="#28c8e8"/><stop offset="0.930" stop-color="#1b60f5"/><stop offset="0.938" stop-color="#1d6af5"/><stop offset="0.946" stop-color="#33d8a0"/><stop offset="0.954" stop-color="#33d8a0"/><stop offset="0.962" stop-color="#1d6af5"/><stop offset="0.970" stop-color="#1b60f5"/><stop offset="0.978" stop-color="#28c8e8"/><stop offset="0.986" stop-color="#52dd6a"/><stop offset="0.994" stop-color="#2181f3"/><stop offset="1.000" stop-color="#1b5ef5"/></linearGradient><linearGradient id="fr263"><stop offset="0.000" stop-color="#1122e9"/><stop offset="0.233" stop-color="#1229ec"/><stop offset="0.345" stop-color="#1953f5"/><stop offset="0.385" stop-color="#1c63f5"/><stop offset="0.626" stop-color="#27b9eb"/><stop offset="0.658" stop-color="#27baea"/><stop offset="0.666" stop-color="#2287f2"/><stop offset="0.674" stop-color="#2287f2"/><stop offset="0.682" stop-color="#1d69f5"/><stop offset="0.690" stop-color="#122ced"/><stop offset="0.722" stop-color="#122eed"/><stop offset="0.730" stop-color="#153cf2"/><stop offset="0.738" stop-color="#1c65f5"/><stop offset="0.746" stop-color="#217cf3"/><stop offset="0.762" stop-color="#1646f5"/><stop offset="0.810" stop-color="#1643f4"/><stop offset="0.818" stop-color="#184ef5"/><stop offset="0.826" stop-color="#1f76f4"/><stop offset="0.834" stop-color="#27b9eb"/><stop offset="0.842" stop-color="#269df0"/><stop offset="0.850" stop-color="#1c62f5"/><stop offset="0.858" stop-color="#1957f5"/><stop offset="0.866" stop-color="#1b5df5"/><stop offset="0.874" stop-color="#27b7eb"/><stop offset="0.882" stop-color="#70de52"/><stop offset="0.890" stop-color="#2491f1"/><stop offset="0.898" stop-color="#1a5cf5"/><stop offset="0.906" stop-color="#2285f2"/><stop offset="0.914" stop-color="#68dd58"/><stop offset="0.922" stop-color="#28ccde"/><stop offset="0.930" stop-color="#1b60f5"/><stop offset="0.938" stop-color="#1e6cf5"/><stop offset="0.946" stop-color="#3adb85"/><stop offset="0.954" stop-color="#3adb85"/><stop offset="0.962" stop-color="#1e6cf5"/><stop offset="0.970" stop-color="#1b60f5"/><stop offset="0.978" stop-color="#28ccde"/><stop offset="0.986" stop-color="#68dd58"/><stop offset="0.994" stop-color="#2285f2"/><stop offset="1.000" stop-color="#1b5ef5"/></linearGradient><linearGradient id="fr264"><stop offset="0.000" stop-color="#1122e9"/><stop offset="0.249" stop-color="#122aec"/><stop offset="0.377" stop-color="#1a59f5"/><stop offset="0.634" stop-color="#27a8ee"/><stop offset="0.658" stop-color="#27a9ee"/><stop offset="0.666" stop-color="#2286f2"/><stop offset="0.682" stop-color="#2285f2"/><stop offset="0.690" stop-color="#122eed"/><stop offset="0.730" stop-color="#1334ef"/><stop offset="0.746" stop-color="#207cf3"/><stop offset="0.762" stop-color="#174bf5"/><stop offset="0.810" stop-color="#1542f4"/><stop offset="0.818" stop-color="#1648f5"/><stop offset="0.826" stop-color="#1c65f5"/><stop offset="0.834" stop-color="#26a3ef"/><stop offset="0.842" stop-color="#27b6eb"/><stop offset="0.850" stop-color="#1f73f4"/><stop offset="0.858" stop-color="#174df5"/><stop offset="0.866" stop-color="#1a5bf5"/><stop offset="0.874" stop-color="#248df2"/><stop offset="0.882" stop-color="#31d8a6"/><stop offset="0.890" stop-color="#2180f3"/><stop offset="0.898" stop-color="#1a5bf5"/><stop offset="0.906" stop-color="#2078f4"/><stop offset="0.914" stop-color="#2fd7af"/><stop offset="0.922" stop-color="#26a3ef"/><stop offset="0.930" stop-color="#1b5ff5"/><stop offset="0.938" stop-color="#1c66f5"/><stop offset="0.946" stop-color="#28ced8"/><stop offset="0.954" stop-color="#28ced8"/><stop offset="0.962" stop-color="#1c66f5"/><stop offset="0.970" stop-color="#1b5ff5"/><stop offset="0.978" stop-color="#26a3ef"/><stop offset="0.986" stop-color="#2fd7af"/><stop offset="0.994" stop-color="#2078f4"/><stop offset="1.000" stop-color="#1b5df5"/></linearGradient><linearGradient id="fr265"><stop offset="0.000" stop-color="#1122e9"/><stop offset="0.265" stop-color="#1229ec"/><stop offset="0.401" stop-color="#1a58f5"/><stop offset="0.634" stop-color="#26a6ee"/><stop offset="0.682" stop-color="#27b2ec"/><stop offset="0.690" stop-color="#184ff5"/><stop offset="0.698" stop-color="#122ded"/><stop offset="0.730" stop-color="#1330ee"/><stop offset="0.738" stop-color="#1645f5"/><stop offset="0.746" stop-color="#1f72f5"/><stop offset="0.754" stop-color="#1f76f4"/><stop offset="0.762" stop-color="#1953f5"/><stop offset="0.778" stop-color="#1542f4"/><stop offset="0.818" stop-color="#1645f5"/><stop offset="0.826" stop-color="#1957f5"/><stop offset="0.842" stop-color="#28c0e9"/><stop offset="0.858" stop-color="#1955f5"/><stop offset="0.874" stop-color="#1e6cf5"/><stop offset="0.882" stop-color="#2595f1"/><stop offset="0.890" stop-color="#1d6af5"/><stop offset="0.898" stop-color="#1a5bf5"/><stop offset="0.906" stop-color="#1d67f5"/><stop offset="0.914" stop-color="#2594f1"/><stop offset="0.930" stop-color="#1a5cf5"/><stop offset="0.938" stop-color="#1b60f5"/><stop offset="0.946" stop-color="#2388f2"/><stop offset="0.954" stop-color="#2388f2"/><stop offset="0.962" stop-color="#1b60f5"/><stop offset="0.970" stop-color="#1a5cf5"/><stop offset="0.986" stop-color="#2594f1"/><stop offset="0.994" stop-color="#1d67f5"/><stop offset="1.000" stop-color="#1a5bf5"/></linearGradient><linearGradient id="fr266"><stop offset="0.000" stop-color="#1122e9"/><stop offset="0.297" stop-color="#122aec"/><stop offset="0.441" stop-color="#1c66f5"/><stop offset="0.553" stop-color="#27b6eb"/><stop offset="0.601" stop-color="#28ced9"/><stop offset="0.682" stop-color="#2bd5bb"/><stop offset="0.690" stop-color="#27abed"/><stop offset="0.698" stop-color="#1333ef"/><stop offset="0.730" stop-color="#122eed"/><stop offset="0.738" stop-color="#143bf1"/><stop offset="0.754" stop-color="#217df3"/><stop offset="0.770" stop-color="#1647f5"/><stop offset="0.818" stop-color="#1643f4"/><stop offset="0.826" stop-color="#184ef5"/><stop offset="0.834" stop-color="#2078f4"/><stop offset="0.842" stop-color="#27baea"/><stop offset="0.850" stop-color="#269bf0"/><stop offset="0.858" stop-color="#1b61f5"/><stop offset="0.866" stop-color="#1954f5"/><stop offset="0.882" stop-color="#1d69f5"/><stop offset="0.898" stop-color="#1a5af5"/><stop offset="0.914" stop-color="#1d69f5"/><stop offset="0.938" stop-color="#1a5cf5"/><stop offset="0.954" stop-color="#1c66f5"/><stop offset="0.970" stop-color="#1a5bf5"/><stop offset="0.986" stop-color="#1d69f5"/><stop offset="1.000" stop-color="#1a5af5"/></linearGradient><linearGradient id="fr267"><stop offset="0.000" stop-color="#1122e9"/><stop offset="0.281" stop-color="#1229ec"/><stop offset="0.425" stop-color="#1f73f4"/><stop offset="0.497" stop-color="#27aeed"/><stop offset="0.529" stop-color="#28cbe0"/><stop offset="0.642" stop-color="#3adb85"/><stop offset="0.682" stop-color="#4adc71"/><stop offset="0.690" stop-color="#59dd65"/><stop offset="0.698" stop-color="#1955f5"/><stop offset="0.714" stop-color="#1542f4"/><stop offset="0.730" stop-color="#122eed"/><stop offset="0.738" stop-color="#1334ef"/><stop offset="0.754" stop-color="#207bf4"/><stop offset="0.762" stop-color="#1d6bf5"/><stop offset="0.770" stop-color="#174cf5"/><stop offset="0.802" stop-color="#1542f4"/><stop offset="0.826" stop-color="#1648f5"/><stop offset="0.834" stop-color="#1c65f5"/><stop offset="0.842" stop-color="#26a4ee"/><stop offset="0.850" stop-color="#27b5eb"/><stop offset="0.858" stop-color="#1f71f5"/><stop offset="0.866" stop-color="#174cf5"/><stop offset="0.882" stop-color="#1b5df5"/><stop offset="1.000" stop-color="#1a5af5"/></linearGradient><linearGradient id="fr268"><stop offset="0.000" stop-color="#1122e9"/><stop offset="0.273" stop-color="#1229eb"/><stop offset="0.417" stop-color="#1f76f4"/><stop offset="0.449" stop-color="#248ef1"/><stop offset="0.457" stop-color="#27bbea"/><stop offset="0.465" stop-color="#31d8a7"/><stop offset="0.473" stop-color="#65dd5b"/><stop offset="0.481" stop-color="#9dd140"/><stop offset="0.489" stop-color="#cfb833"/><stop offset="0.497" stop-color="#eeae2a"/><stop offset="0.513" stop-color="#f5c328"/><stop offset="0.674" stop-color="#f5ca28"/><stop offset="0.690" stop-color="#f0f528"/><stop offset="0.698" stop-color="#3fdc7a"/><stop offset="0.706" stop-color="#2283f3"/><stop offset="0.722" stop-color="#153ef3"/><stop offset="0.738" stop-color="#1330ee"/><stop offset="0.746" stop-color="#1644f4"/><stop offset="0.754" stop-color="#1e70f5"/><stop offset="0.762" stop-color="#2077f4"/><stop offset="0.770" stop-color="#1954f5"/><stop offset="0.786" stop-color="#1542f4"/><stop offset="0.826" stop-color="#1645f5"/><stop offset="0.834" stop-color="#1a58f5"/><stop offset="0.850" stop-color="#28c0e9"/><stop offset="0.866" stop-color="#1954f5"/><stop offset="1.000" stop-color="#1a5af5"/></linearGradient><linearGradient id="fr269"><stop offset="0.000" stop-color="#1122e9"/><stop offset="0.225" stop-color="#1229ec"/><stop offset="0.281" stop-color="#1b61f5"/><stop offset="0.417" stop-color="#1e71f5"/><stop offset="0.457" stop-color="#2491f1"/><stop offset="0.465" stop-color="#28cae3"/><stop offset="0.473" stop-color="#32d8a2"/><stop offset="0.481" stop-color="#58dd66"/><stop offset="0.489" stop-color="#83da48"/><stop offset="0.505" stop-color="#b6c63a"/><stop offset="0.674" stop-color="#c2bf37"/><stop offset="0.690" stop-color="#f2ae29"/><stop offset="0.698" stop-color="#bfc138"/><stop offset="0.706" stop-color="#2283f3"/><stop offset="0.722" stop-color="#153ef3"/><stop offset="0.738" stop-color="#122eed"/><stop offset="0.746" stop-color="#1439f1"/><stop offset="0.762" stop-color="#217df3"/><stop offset="0.778" stop-color="#1647f5"/><stop offset="0.826" stop-color="#1643f4"/><stop offset="0.834" stop-color="#184ef5"/><stop offset="0.842" stop-color="#2079f4"/><stop offset="0.850" stop-color="#27bbea"/><stop offset="0.858" stop-color="#269af0"/><stop offset="0.866" stop-color="#1b60f5"/><stop offset="0.874" stop-color="#1955f5"/><stop offset="1.000" stop-color="#1a5af5"/></linearGradient><linearGradient id="fr270"><stop offset="0.000" stop-color="#1122e9"/><stop offset="0.241" stop-color="#1123ea"/><stop offset="0.305" stop-color="#1b61f5"/><stop offset="0.441" stop-color="#1f72f5"/><stop offset="0.521" stop-color="#27b1ec"/><stop offset="0.561" stop-color="#28cddc"/><stop offset="0.674" stop-color="#35d997"/><stop offset="0.690" stop-color="#4bdc71"/><stop offset="0.698" stop-color="#5cdd62"/><stop offset="0.706" stop-color="#1954f5"/><stop offset="0.730" stop-color="#122eed"/><stop offset="0.746" stop-color="#1333ef"/><stop offset="0.762" stop-color="#207af4"/><stop offset="0.770" stop-color="#1e6df5"/><stop offset="0.778" stop-color="#174df5"/><stop offset="0.802" stop-color="#1542f4"/><stop offset="0.834" stop-color="#1648f5"/><stop offset="0.842" stop-color="#1c66f5"/><stop offset="0.850" stop-color="#26a6ee"/><stop offset="0.858" stop-color="#27b4ec"/><stop offset="0.866" stop-color="#1e70f5"/><stop offset="0.874" stop-color="#174cf5"/><stop offset="0.882" stop-color="#1a5af5"/><stop offset="1.000" stop-color="#1a5af5"/></linearGradient><linearGradient id="fr271"><stop offset="0.000" stop-color="#1122e9"/><stop offset="0.265" stop-color="#1124ea"/><stop offset="0.329" stop-color="#1b61f5"/><stop offset="0.489" stop-color="#2079f4"/><stop offset="0.609" stop-color="#28cae4"/><stop offset="0.698" stop-color="#28d4c8"/><stop offset="0.706" stop-color="#1953f5"/><stop offset="0.714" stop-color="#1330ee"/><stop offset="0.746" stop-color="#132fee"/><stop offset="0.754" stop-color="#1542f4"/><stop offset="0.762" stop-color="#1e6df5"/><stop offset="0.770" stop-color="#2079f4"/><stop offset="0.778" stop-color="#1956f5"/><stop offset="0.786" stop-color="#1645f5"/><stop offset="0.834" stop-color="#1645f5"/><stop offset="0.842" stop-color="#1a59f5"/><stop offset="0.858" stop-color="#28c0e9"/><stop offset="0.874" stop-color="#1953f5"/><stop offset="0.922" stop-color="#1b5df5"/><stop offset="1.000" stop-color="#1a5af5"/></linearGradient><linearGradient id="fr272"><stop offset="0.000" stop-color="#1122e9"/><stop offset="0.289" stop-color="#1125ea"/><stop offset="0.345" stop-color="#1b5ff5"/><stop offset="0.561" stop-color="#2283f3"/><stop offset="0.690" stop-color="#27aeed"/><stop offset="0.698" stop-color="#27afec"/><stop offset="0.706" stop-color="#1d6bf5"/><stop offset="0.714" stop-color="#122ced"/><stop offset="0.746" stop-color="#122ded"/><stop offset="0.754" stop-color="#1438f1"/><stop offset="0.770" stop-color="#217df3"/><stop offset="0.786" stop-color="#1648f5"/><stop offset="0.834" stop-color="#1643f4"/><stop offset="0.842" stop-color="#184ff5"/><stop offset="0.850" stop-color="#207af4"/><stop offset="0.858" stop-color="#27bcea"/><stop offset="0.866" stop-color="#2699f0"/><stop offset="0.874" stop-color="#1b5ff5"/><stop offset="0.906" stop-color="#1b60f5"/><stop offset="0.914" stop-color="#1f75f4"/><stop offset="0.930" stop-color="#1a5bf5"/><stop offset="0.938" stop-color="#1b5df5"/><stop offset="0.946" stop-color="#1e70f5"/><stop offset="0.954" stop-color="#1e70f5"/><stop offset="0.962" stop-color="#1b5df5"/><stop offset="0.970" stop-color="#1a5bf5"/><stop offset="0.986" stop-color="#1f75f4"/><stop offset="1.000" stop-color="#1a5bf5"/></linearGradient><linearGradient id="fr273"><stop offset="0.000" stop-color="#1122e9"/><stop offset="0.313" stop-color="#1126eb"/><stop offset="0.369" stop-color="#1b60f5"/><stop offset="0.617" stop-color="#238cf2"/><stop offset="0.706" stop-color="#26a0ef"/><stop offset="0.714" stop-color="#122eed"/><stop offset="0.754" stop-color="#1332ef"/><stop offset="0.762" stop-color="#174df5"/><stop offset="0.770" stop-color="#2078f4"/><stop offset="0.778" stop-color="#1e6ff5"/><stop offset="0.786" stop-color="#184ef5"/><stop offset="0.810" stop-color="#1542f4"/><stop offset="0.842" stop-color="#1749f5"/><stop offset="0.850" stop-color="#1d67f5"/><stop offset="0.858" stop-color="#27a8ee"/><stop offset="0.866" stop-color="#27b2ec"/><stop offset="0.874" stop-color="#1e6ff5"/><stop offset="0.882" stop-color="#1850f5"/><stop offset="0.890" stop-color="#1c65f5"/><stop offset="0.898" stop-color="#1a5bf5"/><stop offset="0.906" stop-color="#1e6df5"/><stop offset="0.914" stop-color="#27bcea"/><stop offset="0.930" stop-color="#1b5df5"/><stop offset="0.938" stop-color="#1c62f5"/><stop offset="0.946" stop-color="#26a0ef"/><stop offset="0.954" stop-color="#26a0ef"/><stop offset="0.962" stop-color="#1c62f5"/><stop offset="0.970" stop-color="#1b5df5"/><stop offset="0.986" stop-color="#27bcea"/><stop offset="0.994" stop-color="#1e6df5"/><stop offset="1.000" stop-color="#1a5cf5"/></linearGradient><linearGradient id="fr274"><stop offset="0.000" stop-color="#1122e9"/><stop offset="0.337" stop-color="#1128eb"/><stop offset="0.393" stop-color="#1b61f5"/><stop offset="0.521" stop-color="#2078f4"/><stop offset="0.658" stop-color="#28c9e4"/><stop offset="0.706" stop-color="#28ccdc"/><stop offset="0.714" stop-color="#1956f5"/><stop offset="0.722" stop-color="#122ced"/><stop offset="0.754" stop-color="#132fed"/><stop offset="0.762" stop-color="#1540f3"/><stop offset="0.770" stop-color="#1d6bf5"/><stop offset="0.778" stop-color="#207af4"/><stop offset="0.786" stop-color="#1957f5"/><stop offset="0.794" stop-color="#1645f5"/><stop offset="0.842" stop-color="#1645f5"/><stop offset="0.850" stop-color="#1a59f5"/><stop offset="0.866" stop-color="#28c0e9"/><stop offset="0.882" stop-color="#1953f5"/><stop offset="0.890" stop-color="#1d67f5"/><stop offset="0.898" stop-color="#1a5bf5"/><stop offset="0.906" stop-color="#217ef3"/><stop offset="0.914" stop-color="#43dc78"/><stop offset="0.922" stop-color="#28bdea"/><stop offset="0.930" stop-color="#1b60f5"/><stop offset="0.938" stop-color="#1d69f5"/><stop offset="0.946" stop-color="#2dd6b4"/><stop offset="0.954" stop-color="#2dd6b4"/><stop offset="0.962" stop-color="#1d69f5"/><stop offset="0.970" stop-color="#1b60f5"/><stop offset="0.978" stop-color="#28bdea"/><stop offset="0.986" stop-color="#43dc78"/><stop offset="0.994" stop-color="#217ef3"/><stop offset="1.000" stop-color="#1b5ef5"/></linearGradient><linearGradient id="fr275"><stop offset="0.000" stop-color="#1122e9"/><stop offset="0.329" stop-color="#1229ec"/><stop offset="0.385" stop-color="#1644f4"/><stop offset="0.425" stop-color="#1c63f5"/><stop offset="0.481" stop-color="#1f72f5"/><stop offset="0.577" stop-color="#27bbea"/><stop offset="0.626" stop-color="#28cfd6"/><stop offset="0.706" stop-color="#2bd5bd"/><stop offset="0.714" stop-color="#27a8ee"/><stop offset="0.722" stop-color="#122ced"/><stop offset="0.754" stop-color="#122ded"/><stop offset="0.762" stop-color="#1437f0"/><stop offset="0.778" stop-color="#217df3"/><stop offset="0.794" stop-color="#1749f5"/><stop offset="0.842" stop-color="#1643f4"/><stop offset="0.850" stop-color="#184ff5"/><stop offset="0.858" stop-color="#207bf4"/><stop offset="0.866" stop-color="#27bcea"/><stop offset="0.874" stop-color="#2598f0"/><stop offset="0.882" stop-color="#1b5ef5"/><stop offset="0.898" stop-color="#1a5bf5"/><stop offset="0.906" stop-color="#2285f2"/><stop offset="0.914" stop-color="#6dde54"/><stop offset="0.922" stop-color="#28cddb"/><stop offset="0.930" stop-color="#1b61f5"/><stop offset="0.938" stop-color="#1e6cf5"/><stop offset="0.946" stop-color="#3bdc7f"/><stop offset="0.954" stop-color="#3bdc7f"/><stop offset="0.962" stop-color="#1e6cf5"/><stop offset="0.970" stop-color="#1b61f5"/><stop offset="0.978" stop-color="#28cddb"/><stop offset="0.986" stop-color="#6dde54"/><stop offset="0.994" stop-color="#2286f2"/><stop offset="1.000" stop-color="#1b5ff5"/></linearGradient><linearGradient id="fr276"><stop offset="0.000" stop-color="#1122e9"/><stop offset="0.321" stop-color="#1128eb"/><stop offset="0.481" stop-color="#2079f4"/><stop offset="0.561" stop-color="#27b9eb"/><stop offset="0.601" stop-color="#28ced9"/><stop offset="0.698" stop-color="#2fd7ac"/><stop offset="0.714" stop-color="#2ed6b2"/><stop offset="0.722" stop-color="#1330ee"/><stop offset="0.762" stop-color="#1331ee"/><stop offset="0.770" stop-color="#174bf5"/><stop offset="0.778" stop-color="#2077f4"/><stop offset="0.786" stop-color="#1f71f5"/><stop offset="0.794" stop-color="#184ff5"/><stop offset="0.810" stop-color="#1542f4"/><stop offset="0.850" stop-color="#1749f5"/><stop offset="0.858" stop-color="#1d68f5"/><stop offset="0.866" stop-color="#27a9ed"/><stop offset="0.874" stop-color="#27b1ec"/><stop offset="0.882" stop-color="#1e6ef5"/><stop offset="0.890" stop-color="#174df5"/><stop offset="0.898" stop-color="#1a5bf5"/><stop offset="0.906" stop-color="#2078f4"/><stop offset="0.914" stop-color="#37da90"/><stop offset="0.922" stop-color="#27b1ec"/><stop offset="0.930" stop-color="#1b5ff5"/><stop offset="0.938" stop-color="#1d68f5"/><stop offset="0.946" stop-color="#28d3ca"/><stop offset="0.954" stop-color="#28d3ca"/><stop offset="0.962" stop-color="#1d68f5"/><stop offset="0.970" stop-color="#1b5ff5"/><stop offset="0.978" stop-color="#27b1ec"/><stop offset="0.986" stop-color="#37da90"/><stop offset="0.994" stop-color="#207bf4"/><stop offset="1.000" stop-color="#1b5df5"/></linearGradient><linearGradient id="fr277"><stop offset="0.000" stop-color="#1122e9"/><stop offset="0.329" stop-color="#122aec"/><stop offset="0.489" stop-color="#207bf4"/><stop offset="0.569" stop-color="#27bbea"/><stop offset="0.617" stop-color="#28cfd5"/><stop offset="0.706" stop-color="#2dd6b4"/><stop offset="0.714" stop-color="#2dd6b4"/><stop offset="0.722" stop-color="#1b5ef5"/><stop offset="0.730" stop-color="#122ced"/><stop offset="0.762" stop-color="#122eed"/><stop offset="0.770" stop-color="#153ff3"/><stop offset="0.778" stop-color="#1d69f5"/><stop offset="0.786" stop-color="#207bf4"/><stop offset="0.794" stop-color="#1a59f5"/><stop offset="0.802" stop-color="#1645f5"/><stop offset="0.850" stop-color="#1645f5"/><stop offset="0.858" stop-color="#1a5af5"/><stop offset="0.874" stop-color="#28bfea"/><stop offset="0.890" stop-color="#1852f5"/><stop offset="0.906" stop-color="#1c66f5"/><stop offset="0.914" stop-color="#26a4ee"/><stop offset="0.930" stop-color="#1a5cf5"/><stop offset="0.938" stop-color="#1b61f5"/><stop offset="0.946" stop-color="#2492f1"/><stop offset="0.954" stop-color="#2492f1"/><stop offset="0.962" stop-color="#1b61f5"/><stop offset="0.970" stop-color="#1a5cf5"/><stop offset="0.986" stop-color="#26a4ee"/><stop offset="0.994" stop-color="#1d6af5"/><stop offset="1.000" stop-color="#1a5cf5"/></linearGradient><linearGradient id="fr278"><stop offset="0.000" stop-color="#1122e9"/><stop offset="0.329" stop-color="#1128eb"/><stop offset="0.489" stop-color="#1f72f5"/><stop offset="0.593" stop-color="#28beea"/><stop offset="0.674" stop-color="#28d2cd"/><stop offset="0.714" stop-color="#28d3ca"/><stop offset="0.722" stop-color="#26a2ef"/><stop offset="0.730" stop-color="#122ced"/><stop offset="0.762" stop-color="#122ded"/><stop offset="0.770" stop-color="#1436f0"/><stop offset="0.786" stop-color="#217df3"/><stop offset="0.802" stop-color="#1749f5"/><stop offset="0.850" stop-color="#1643f4"/><stop offset="0.858" stop-color="#1850f5"/><stop offset="0.866" stop-color="#217df3"/><stop offset="0.874" stop-color="#28bdea"/><stop offset="0.882" stop-color="#2597f0"/><stop offset="0.890" stop-color="#1b5ef5"/><stop offset="0.906" stop-color="#1b5df5"/><stop offset="0.914" stop-color="#1e6ef5"/><stop offset="0.930" stop-color="#1a5bf5"/><stop offset="0.954" stop-color="#1d6af5"/><stop offset="0.970" stop-color="#1a5bf5"/><stop offset="0.986" stop-color="#1e6ef5"/><stop offset="1.000" stop-color="#1a5bf5"/></linearGradient><linearGradient id="fr279"><stop offset="0.000" stop-color="#1122e9"/><stop offset="0.345" stop-color="#1229ec"/><stop offset="0.513" stop-color="#1f72f5"/><stop offset="0.666" stop-color="#28cae4"/><stop offset="0.722" stop-color="#28cbe1"/><stop offset="0.730" stop-color="#122eed"/><stop offset="0.770" stop-color="#1331ee"/><stop offset="0.778" stop-color="#1749f5"/><stop offset="0.786" stop-color="#1f75f4"/><stop offset="0.794" stop-color="#1f73f4"/><stop offset="0.802" stop-color="#1850f5"/><stop offset="0.818" stop-color="#1542f4"/><stop offset="0.858" stop-color="#1749f5"/><stop offset="0.866" stop-color="#1d69f5"/><stop offset="0.874" stop-color="#27abed"/><stop offset="0.882" stop-color="#27b0ec"/><stop offset="0.890" stop-color="#1e6df5"/><stop offset="0.898" stop-color="#174af5"/><stop offset="0.914" stop-color="#1b5ef5"/><stop offset="1.000" stop-color="#1a5af5"/></linearGradient><linearGradient id="fr280"><stop offset="0.000" stop-color="#1122e9"/><stop offset="0.361" stop-color="#1228eb"/><stop offset="0.537" stop-color="#1e6df5"/><stop offset="0.698" stop-color="#27b2ec"/><stop offset="0.722" stop-color="#27b3ec"/><stop offset="0.730" stop-color="#1648f5"/><stop offset="0.738" stop-color="#122ced"/><stop offset="0.770" stop-color="#122eed"/><stop offset="0.778" stop-color="#153df2"/><stop offset="0.786" stop-color="#1d67f5"/><stop offset="0.794" stop-color="#207cf3"/><stop offset="0.810" stop-color="#1646f5"/><stop offset="0.858" stop-color="#1646f5"/><stop offset="0.866" stop-color="#1a5bf5"/><stop offset="0.882" stop-color="#28bfea"/><stop offset="0.890" stop-color="#2181f3"/><stop offset="0.898" stop-color="#1852f5"/><stop offset="0.946" stop-color="#1a5af5"/><stop offset="1.000" stop-color="#1a5af5"/></linearGradient><linearGradient id="fr281"><stop offset="0.000" stop-color="#1122e9"/><stop offset="0.345" stop-color="#1123ea"/><stop offset="0.409" stop-color="#1c62f5"/><stop offset="0.722" stop-color="#2492f1"/><stop offset="0.730" stop-color="#1d6bf5"/><stop offset="0.738" stop-color="#122ced"/><stop offset="0.778" stop-color="#1335f0"/><stop offset="0.794" stop-color="#217cf3"/><stop offset="0.810" stop-color="#174af5"/><stop offset="0.858" stop-color="#1644f4"/><stop offset="0.866" stop-color="#1850f5"/><stop offset="0.874" stop-color="#217ef3"/><stop offset="0.882" stop-color="#28beea"/><stop offset="0.890" stop-color="#2595f1"/><stop offset="0.898" stop-color="#1b5df5"/><stop offset="1.000" stop-color="#1a5af5"/></linearGradient><linearGradient id="fr282"><stop offset="0.000" stop-color="#1122e9"/><stop offset="0.345" stop-color="#1127eb"/><stop offset="0.401" stop-color="#1b61f5"/><stop offset="0.698" stop-color="#2594f1"/><stop offset="0.730" stop-color="#269af0"/><stop offset="0.738" stop-color="#132fed"/><stop offset="0.778" stop-color="#1330ee"/><stop offset="0.786" stop-color="#1647f5"/><stop offset="0.794" stop-color="#1f73f4"/><stop offset="0.802" stop-color="#1f75f4"/><stop offset="0.810" stop-color="#1852f5"/><stop offset="0.826" stop-color="#1542f4"/><stop offset="0.866" stop-color="#174af5"/><stop offset="0.874" stop-color="#1d6af5"/><stop offset="0.882" stop-color="#27aced"/><stop offset="0.890" stop-color="#27aeed"/><stop offset="0.898" stop-color="#1e6cf5"/><stop offset="0.906" stop-color="#174af5"/><stop offset="0.914" stop-color="#1a5af5"/><stop offset="1.000" stop-color="#1a5af5"/></linearGradient><linearGradient id="fr283"><stop offset="0.000" stop-color="#1122e9"/><stop offset="0.337" stop-color="#1124ea"/><stop offset="0.401" stop-color="#1c62f5"/><stop offset="0.617" stop-color="#2389f2"/><stop offset="0.730" stop-color="#28c8e7"/><stop offset="0.738" stop-color="#1956f5"/><stop offset="0.746" stop-color="#122ced"/><stop offset="0.778" stop-color="#122eed"/><stop offset="0.786" stop-color="#143cf2"/><stop offset="0.794" stop-color="#1c64f5"/><stop offset="0.802" stop-color="#217cf3"/><stop offset="0.818" stop-color="#1646f5"/><stop offset="0.866" stop-color="#1646f5"/><stop offset="0.874" stop-color="#1a5cf5"/><stop offset="0.890" stop-color="#28beea"/><stop offset="0.898" stop-color="#2180f3"/><stop offset="0.906" stop-color="#1851f5"/><stop offset="0.922" stop-color="#1a5cf5"/><stop offset="1.000" stop-color="#1a5af5"/></linearGradient><linearGradient id="fr284"><stop offset="0.000" stop-color="#1122e9"/><stop offset="0.337" stop-color="#1128eb"/><stop offset="0.393" stop-color="#1b61f5"/><stop offset="0.569" stop-color="#2180f3"/><stop offset="0.666" stop-color="#28cbe1"/><stop offset="0.730" stop-color="#28d4c8"/><stop offset="0.738" stop-color="#27a7ee"/><stop offset="0.746" stop-color="#122ced"/><stop offset="0.786" stop-color="#1334ef"/><stop offset="0.802" stop-color="#207bf4"/><stop offset="0.818" stop-color="#174bf5"/><stop offset="0.858" stop-color="#1542f4"/><stop offset="0.874" stop-color="#1851f5"/><stop offset="0.882" stop-color="#217ff3"/><stop offset="0.890" stop-color="#28beea"/><stop offset="0.898" stop-color="#2594f1"/><stop offset="0.906" stop-color="#1a5cf5"/><stop offset="0.938" stop-color="#1a5cf5"/><stop offset="0.946" stop-color="#1d6af5"/><stop offset="0.954" stop-color="#1d6af5"/><stop offset="0.970" stop-color="#1a5bf5"/><stop offset="0.986" stop-color="#1e6ef5"/><stop offset="1.000" stop-color="#1a5bf5"/></linearGradient><linearGradient id="fr285"><stop offset="0.000" stop-color="#1122e9"/><stop offset="0.329" stop-color="#1125ea"/><stop offset="0.385" stop-color="#1b5ff5"/><stop offset="0.537" stop-color="#217cf3"/><stop offset="0.601" stop-color="#27b7eb"/><stop offset="0.634" stop-color="#28cddb"/><stop offset="0.730" stop-color="#35d998"/><stop offset="0.738" stop-color="#34d99b"/><stop offset="0.746" stop-color="#1331ee"/><stop offset="0.786" stop-color="#1330ee"/><stop offset="0.794" stop-color="#1645f5"/><stop offset="0.802" stop-color="#1f71f5"/><stop offset="0.810" stop-color="#1f76f4"/><stop offset="0.818" stop-color="#1953f5"/><stop offset="0.834" stop-color="#1542f4"/><stop offset="0.874" stop-color="#174af5"/><stop offset="0.882" stop-color="#1d6bf5"/><stop offset="0.890" stop-color="#27aeed"/><stop offset="0.898" stop-color="#27aded"/><stop offset="0.906" stop-color="#1d6bf5"/><stop offset="0.914" stop-color="#1850f5"/><stop offset="0.922" stop-color="#1e6cf5"/><stop offset="0.930" stop-color="#1a5cf5"/><stop offset="0.938" stop-color="#1b61f5"/><stop offset="0.946" stop-color="#2492f1"/><stop offset="0.954" stop-color="#2492f1"/><stop offset="0.962" stop-color="#1b61f5"/><stop offset="0.970" stop-color="#1a5cf5"/><stop offset="0.986" stop-color="#26a4ee"/><stop offset="0.994" stop-color="#1d6af5"/><stop offset="1.000" stop-color="#1a5cf5"/></linearGradient><linearGradient id="fr286"><stop offset="0.000" stop-color="#1122e9"/><stop offset="0.329" stop-color="#1229eb"/><stop offset="0.385" stop-color="#1b61f5"/><stop offset="0.513" stop-color="#2079f4"/><stop offset="0.577" stop-color="#27b7eb"/><stop offset="0.609" stop-color="#28ced8"/><stop offset="0.706" stop-color="#3ddc7c"/><stop offset="0.738" stop-color="#45dc76"/><stop offset="0.746" stop-color="#1d6af5"/><stop offset="0.754" stop-color="#122ced"/><stop offset="0.786" stop-color="#122eed"/><stop offset="0.794" stop-color="#143af1"/><stop offset="0.810" stop-color="#217df3"/><stop offset="0.826" stop-color="#1647f5"/><stop offset="0.874" stop-color="#1646f5"/><stop offset="0.882" stop-color="#1a5cf5"/><stop offset="0.890" stop-color="#2595f1"/><stop offset="0.898" stop-color="#28beea"/><stop offset="0.906" stop-color="#217ef3"/><stop offset="0.914" stop-color="#1852f5"/><stop offset="0.922" stop-color="#1f73f4"/><stop offset="0.930" stop-color="#1b5ef5"/><stop offset="0.938" stop-color="#1d68f5"/><stop offset="0.946" stop-color="#28d3ca"/><stop offset="0.954" stop-color="#28d3ca"/><stop offset="0.962" stop-color="#1d68f5"/><stop offset="0.970" stop-color="#1b5ff5"/><stop offset="0.978" stop-color="#27b1ec"/><stop offset="0.986" stop-color="#37da90"/><stop offset="0.994" stop-color="#207bf4"/><stop offset="1.000" stop-color="#1b5df5"/></linearGradient><linearGradient id="fr287"><stop offset="0.000" stop-color="#1122e9"/><stop offset="0.321" stop-color="#1126ea"/><stop offset="0.377" stop-color="#1b60f5"/><stop offset="0.497" stop-color="#1f75f4"/><stop offset="0.561" stop-color="#27b4ec"/><stop offset="0.585" stop-color="#28cbe0"/><stop offset="0.682" stop-color="#42dc78"/><stop offset="0.738" stop-color="#54dd69"/><stop offset="0.746" stop-color="#28d1d0"/><stop offset="0.754" stop-color="#122ced"/><stop offset="0.794" stop-color="#1333ef"/><stop offset="0.810" stop-color="#207af4"/><stop offset="0.818" stop-color="#1e6cf5"/><stop offset="0.826" stop-color="#174cf5"/><stop offset="0.858" stop-color="#1542f4"/><stop offset="0.874" stop-color="#1644f4"/><stop offset="0.882" stop-color="#1852f5"/><stop offset="0.890" stop-color="#2180f3"/><stop offset="0.898" stop-color="#28bfea"/><stop offset="0.914" stop-color="#1a5bf5"/><stop offset="0.922" stop-color="#1d6bf5"/><stop offset="0.930" stop-color="#1b5ef5"/><stop offset="0.938" stop-color="#1e6cf5"/><stop offset="0.946" stop-color="#3bdc7f"/><stop offset="0.954" stop-color="#3bdc7f"/><stop offset="0.962" stop-color="#1e6cf5"/><stop offset="0.970" stop-color="#1b61f5"/><stop offset="0.978" stop-color="#28cddb"/><stop offset="0.986" stop-color="#6dde54"/><stop offset="0.994" stop-color="#2286f2"/><stop offset="1.000" stop-color="#1b5ff5"/></linearGradient><linearGradient id="fr288"><stop offset="0.000" stop-color="#1122e9"/><stop offset="0.313" stop-color="#1123ea"/><stop offset="0.377" stop-color="#1b61f5"/><stop offset="0.489" stop-color="#1f72f5"/><stop offset="0.553" stop-color="#27afec"/><stop offset="0.577" stop-color="#28cae2"/><stop offset="0.642" stop-color="#35d997"/><stop offset="0.682" stop-color="#47dc74"/><stop offset="0.746" stop-color="#57dd67"/><stop offset="0.754" stop-color="#1332ef"/><stop offset="0.794" stop-color="#132fee"/><stop offset="0.802" stop-color="#1643f4"/><stop offset="0.810" stop-color="#1e6ff5"/><stop offset="0.818" stop-color="#2078f4"/><stop offset="0.826" stop-color="#1955f5"/><stop offset="0.834" stop-color="#1644f4"/><stop offset="0.882" stop-color="#174af5"/><stop offset="0.890" stop-color="#1e6cf5"/><stop offset="0.898" stop-color="#27afec"/><stop offset="0.906" stop-color="#27abed"/><stop offset="0.914" stop-color="#1d6af5"/><stop offset="0.922" stop-color="#1852f5"/><stop offset="0.938" stop-color="#1d68f5"/><stop offset="0.946" stop-color="#2dd6b4"/><stop offset="0.954" stop-color="#2dd6b4"/><stop offset="0.962" stop-color="#1d69f5"/><stop offset="0.970" stop-color="#1b60f5"/><stop offset="0.978" stop-color="#28bdea"/><stop offset="0.986" stop-color="#43dc78"/><stop offset="0.994" stop-color="#217ef3"/><stop offset="1.000" stop-color="#1b5ef5"/></linearGradient><linearGradient id="fr289"><stop offset="0.000" stop-color="#1122e9"/><stop offset="0.313" stop-color="#1126eb"/><stop offset="0.369" stop-color="#1b60f5"/><stop offset="0.497" stop-color="#1f76f4"/><stop offset="0.561" stop-color="#27b6eb"/><stop offset="0.593" stop-color="#28ced7"/><stop offset="0.674" stop-color="#3edc7b"/><stop offset="0.746" stop-color="#56dd67"/><stop offset="0.754" stop-color="#1e6ff5"/><stop offset="0.762" stop-color="#122ced"/><stop offset="0.794" stop-color="#122ded"/><stop offset="0.802" stop-color="#1439f1"/><stop offset="0.818" stop-color="#217df3"/><stop offset="0.834" stop-color="#1647f5"/><stop offset="0.882" stop-color="#1646f5"/><stop offset="0.890" stop-color="#1b5df5"/><stop offset="0.898" stop-color="#2596f1"/><stop offset="0.906" stop-color="#28bdea"/><stop offset="0.914" stop-color="#217df3"/><stop offset="0.922" stop-color="#1851f5"/><stop offset="0.938" stop-color="#1b61f5"/><stop offset="0.946" stop-color="#26a0ef"/><stop offset="0.954" stop-color="#26a0ef"/><stop offset="0.962" stop-color="#1c62f5"/><stop offset="0.970" stop-color="#1b5df5"/><stop offset="0.986" stop-color="#27bcea"/><stop offset="0.994" stop-color="#1e6df5"/><stop offset="1.000" stop-color="#1a5cf5"/></linearGradient><linearGradient id="fr290"><stop offset="0.000" stop-color="#1122e9"/><stop offset="0.305" stop-color="#1124ea"/><stop offset="0.369" stop-color="#1c62f5"/><stop offset="0.513" stop-color="#207bf4"/><stop offset="0.569" stop-color="#27b2ec"/><stop offset="0.593" stop-color="#28cae2"/><stop offset="0.698" stop-color="#3fdc7b"/><stop offset="0.746" stop-color="#4adc71"/><stop offset="0.754" stop-color="#28cfd6"/><stop offset="0.762" stop-color="#122ced"/><stop offset="0.802" stop-color="#1333ef"/><stop offset="0.818" stop-color="#2079f4"/><stop offset="0.826" stop-color="#1e6ef5"/><stop offset="0.834" stop-color="#174df5"/><stop offset="0.858" stop-color="#1542f4"/><stop offset="0.882" stop-color="#1644f4"/><stop offset="0.890" stop-color="#1852f5"/><stop offset="0.906" stop-color="#28bfea"/><stop offset="0.922" stop-color="#1a5af5"/><stop offset="0.938" stop-color="#1a5cf5"/><stop offset="0.946" stop-color="#1e70f5"/><stop offset="0.954" stop-color="#1e70f5"/><stop offset="0.962" stop-color="#1b5df5"/><stop offset="0.970" stop-color="#1a5bf5"/><stop offset="0.986" stop-color="#1f75f4"/><stop offset="1.000" stop-color="#1a5bf5"/></linearGradient><linearGradient id="fr291"><stop offset="0.000" stop-color="#1122e9"/><stop offset="0.305" stop-color="#1127eb"/><stop offset="0.361" stop-color="#1b61f5"/><stop offset="0.529" stop-color="#217cf3"/><stop offset="0.585" stop-color="#27b0ec"/><stop offset="0.617" stop-color="#28ccde"/><stop offset="0.722" stop-color="#38db8a"/><stop offset="0.754" stop-color="#39db89"/><stop offset="0.762" stop-color="#1332ee"/><stop offset="0.802" stop-color="#132fee"/><stop offset="0.810" stop-color="#1541f3"/><stop offset="0.818" stop-color="#1e6df5"/><stop offset="0.826" stop-color="#2079f4"/><stop offset="0.834" stop-color="#1956f5"/><stop offset="0.842" stop-color="#1645f5"/><stop offset="0.890" stop-color="#174bf5"/><stop offset="0.898" stop-color="#1e6df5"/><stop offset="0.906" stop-color="#27b1ec"/><stop offset="0.914" stop-color="#27aaed"/><stop offset="0.922" stop-color="#1d69f5"/><stop offset="0.930" stop-color="#174df5"/><stop offset="0.946" stop-color="#1b5ef5"/><stop offset="1.000" stop-color="#1a5af5"/></linearGradient><linearGradient id="fr292"><stop offset="0.000" stop-color="#1122e9"/><stop offset="0.297" stop-color="#1124ea"/><stop offset="0.353" stop-color="#1b5ff5"/><stop offset="0.553" stop-color="#217ff3"/><stop offset="0.642" stop-color="#28cae2"/><stop offset="0.738" stop-color="#2fd7ad"/><stop offset="0.754" stop-color="#30d7ab"/><stop offset="0.762" stop-color="#1c63f5"/><stop offset="0.770" stop-color="#122ced"/><stop offset="0.802" stop-color="#122ded"/><stop offset="0.810" stop-color="#1438f0"/><stop offset="0.826" stop-color="#217df3"/><stop offset="0.842" stop-color="#1648f5"/><stop offset="0.890" stop-color="#1646f5"/><stop offset="0.898" stop-color="#1b5ef5"/><stop offset="0.906" stop-color="#2598f0"/><stop offset="0.914" stop-color="#27bdea"/><stop offset="0.922" stop-color="#207cf3"/><stop offset="0.930" stop-color="#1850f5"/><stop offset="0.954" stop-color="#1a5bf5"/><stop offset="1.000" stop-color="#1a5af5"/></linearGradient><linearGradient id="fr293"><stop offset="0.000" stop-color="#1122e9"/><stop offset="0.297" stop-color="#1228eb"/><stop offset="0.353" stop-color="#1b61f5"/><stop offset="0.593" stop-color="#2388f2"/><stop offset="0.682" stop-color="#28cae3"/><stop offset="0.754" stop-color="#28d1d1"/><stop offset="0.762" stop-color="#26a0ef"/><stop offset="0.770" stop-color="#122ced"/><stop offset="0.810" stop-color="#1332ee"/><stop offset="0.818" stop-color="#174df5"/><stop offset="0.826" stop-color="#2078f4"/><stop offset="0.834" stop-color="#1e70f5"/><stop offset="0.842" stop-color="#184ef5"/><stop offset="0.866" stop-color="#1542f4"/><stop offset="0.890" stop-color="#1644f4"/><stop offset="0.898" stop-color="#1953f5"/><stop offset="0.914" stop-color="#28c0e9"/><stop offset="0.930" stop-color="#1a5af5"/><stop offset="1.000" stop-color="#1a5af5"/></linearGradient><linearGradient id="fr294"><stop offset="0.000" stop-color="#1122e9"/><stop offset="0.289" stop-color="#1125ea"/><stop offset="0.345" stop-color="#1b5ff5"/><stop offset="0.634" stop-color="#238cf2"/><stop offset="0.738" stop-color="#28c0e9"/><stop offset="0.762" stop-color="#28bfea"/><stop offset="0.770" stop-color="#132fee"/><stop offset="0.810" stop-color="#122fed"/><stop offset="0.818" stop-color="#1540f3"/><stop offset="0.826" stop-color="#1d6bf5"/><stop offset="0.834" stop-color="#207af4"/><stop offset="0.842" stop-color="#1a58f5"/><stop offset="0.850" stop-color="#1645f5"/><stop offset="0.890" stop-color="#1643f4"/><stop offset="0.898" stop-color="#174bf5"/><stop offset="0.906" stop-color="#1e6ff5"/><stop offset="0.914" stop-color="#27b2ec"/><stop offset="0.922" stop-color="#27a8ee"/><stop offset="0.930" stop-color="#1d68f5"/><stop offset="0.938" stop-color="#184ef5"/><stop offset="0.954" stop-color="#1a5af5"/><stop offset="1.000" stop-color="#1a5af5"/></linearGradient></defs>
<rect width="544" height="585" fill="#fff"/>
<line x1="33.2" y1="35.36" x2="158.0" y2="35.36" stroke="#e6e6e6" stroke-width="1"/>
<line x1="33.2" y1="53.03" x2="158.0" y2="53.03" stroke="#e6e6e6" stroke-width="1"/>
<line x1="33.2" y1="70.69" x2="158.0" y2="70.69" stroke="#e6e6e6" stroke-width="1"/>
<line x1="33.2" y1="88.35" x2="158.0" y2="88.35" stroke="#e6e6e6" stroke-width="1"/>
<line x1="33.2" y1="106.01" x2="158.0" y2="106.01" stroke="#e6e6e6" stroke-width="1"/>
<line x1="33.2" y1="123.68" x2="158.0" y2="123.68" stroke="#e6e6e6" stroke-width="1"/>
<line x1="33.2" y1="141.34" x2="158.0" y2="141.34" stroke="#e6e6e6" stroke-width="1"/>
<clipPath id="c10"><rect x="33.2" y="17.7" width="124.80" height="141.30"/></clipPath>
<g clip-path="url(#c10)">
<path d="M42.64,157.79 L54.68,142.13 L64.32,126.46 L73.95,109.59 L77.57,104.77 L79.98,101.15 L82.39,99.22 L87.20,97.06 L89.61,95.13 L92.02,91.03 L95.64,88.62 L99.25,86.69 L102.86,81.87 L105.27,80.67 L110.09,78.26 L112.50,74.64 L116.11,69.34 L117.32,67.41 L120.93,61.38 L124.54,54.15 L131.77,43.31 L139.00,33.67 L149.84,18.00" fill="none" stroke="#1a5cf7" stroke-width="2.5" stroke-linejoin="round" stroke-linecap="round"/>
</g>
<rect x="33.2" y="17.7" width="124.80" height="141.30" fill="none" stroke="#8c8c8c" stroke-width="1.0"/>
<line x1="51.03" y1="17.7" x2="51.03" y2="19.2" stroke="#8c8c8c" stroke-width="1.0"/>
<line x1="51.03" y1="159.0" x2="51.03" y2="157.5" stroke="#8c8c8c" stroke-width="1.0"/>
<line x1="95.60" y1="17.7" x2="95.60" y2="19.2" stroke="#8c8c8c" stroke-width="1.0"/>
<line x1="95.60" y1="159.0" x2="95.60" y2="157.5" stroke="#8c8c8c" stroke-width="1.0"/>
<line x1="140.17" y1="17.7" x2="140.17" y2="19.2" stroke="#8c8c8c" stroke-width="1.0"/>
<line x1="140.17" y1="159.0" x2="140.17" y2="157.5" stroke="#8c8c8c" stroke-width="1.0"/>
<line x1="33.2" y1="17.70" x2="34.7" y2="17.70" stroke="#8c8c8c" stroke-width="1.0"/>
<line x1="158.0" y1="17.70" x2="156.5" y2="17.70" stroke="#8c8c8c" stroke-width="1.0"/>
<line x1="33.2" y1="35.36" x2="34.7" y2="35.36" stroke="#8c8c8c" stroke-width="1.0"/>
<line x1="158.0" y1="35.36" x2="156.5" y2="35.36" stroke="#8c8c8c" stroke-width="1.0"/>
<line x1="33.2" y1="53.03" x2="34.7" y2="53.03" stroke="#8c8c8c" stroke-width="1.0"/>
<line x1="158.0" y1="53.03" x2="156.5" y2="53.03" stroke="#8c8c8c" stroke-width="1.0"/>
<line x1="33.2" y1="70.69" x2="34.7" y2="70.69" stroke="#8c8c8c" stroke-width="1.0"/>
<line x1="158.0" y1="70.69" x2="156.5" y2="70.69" stroke="#8c8c8c" stroke-width="1.0"/>
<line x1="33.2" y1="88.35" x2="34.7" y2="88.35" stroke="#8c8c8c" stroke-width="1.0"/>
<line x1="158.0" y1="88.35" x2="156.5" y2="88.35" stroke="#8c8c8c" stroke-width="1.0"/>
<line x1="33.2" y1="106.01" x2="34.7" y2="106.01" stroke="#8c8c8c" stroke-width="1.0"/>
<line x1="158.0" y1="106.01" x2="156.5" y2="106.01" stroke="#8c8c8c" stroke-width="1.0"/>
<line x1="33.2" y1="123.68" x2="34.7" y2="123.68" stroke="#8c8c8c" stroke-width="1.0"/>
<line x1="158.0" y1="123.68" x2="156.5" y2="123.68" stroke="#8c8c8c" stroke-width="1.0"/>
<line x1="33.2" y1="141.34" x2="34.7" y2="141.34" stroke="#8c8c8c" stroke-width="1.0"/>
<line x1="158.0" y1="141.34" x2="156.5" y2="141.34" stroke="#8c8c8c" stroke-width="1.0"/>
<line x1="33.2" y1="159.00" x2="34.7" y2="159.00" stroke="#8c8c8c" stroke-width="1.0"/>
<line x1="158.0" y1="159.00" x2="156.5" y2="159.00" stroke="#8c8c8c" stroke-width="1.0"/>
<text transform="translate(28.90,22.46) scale(1.05,1)" font-size="10.5" text-anchor="end" font-family="Liberation Sans" fill="#262626">8</text>
<text transform="translate(28.90,40.12) scale(1.05,1)" font-size="10.5" text-anchor="end" font-family="Liberation Sans" fill="#262626">6</text>
<text transform="translate(28.90,57.78) scale(1.05,1)" font-size="10.5" text-anchor="end" font-family="Liberation Sans" fill="#262626">4</text>
<text transform="translate(28.90,75.45) scale(1.05,1)" font-size="10.5" text-anchor="end" font-family="Liberation Sans" fill="#262626">2</text>
<text transform="translate(28.90,93.11) scale(1.05,1)" font-size="10.5" text-anchor="end" font-family="Liberation Sans" fill="#262626">0</text>
<text transform="translate(28.90,110.77) scale(1.05,1)" font-size="10.5" text-anchor="end" font-family="Liberation Sans" fill="#262626">-2</text>
<text transform="translate(28.90,128.43) scale(1.05,1)" font-size="10.5" text-anchor="end" font-family="Liberation Sans" fill="#262626">-4</text>
<text transform="translate(28.90,146.10) scale(1.05,1)" font-size="10.5" text-anchor="end" font-family="Liberation Sans" fill="#262626">-6</text>
<text transform="translate(28.90,163.76) scale(1.05,1)" font-size="10.5" text-anchor="end" font-family="Liberation Sans" fill="#262626">-8</text>
<text transform="translate(51.03,174.66) scale(1.05,1)" font-size="10.5" text-anchor="middle" font-family="Liberation Sans" fill="#262626">-0.5</text>
<text transform="translate(95.60,174.66) scale(1.05,1)" font-size="10.5" text-anchor="middle" font-family="Liberation Sans" fill="#262626">0</text>
<text transform="translate(140.17,174.66) scale(1.05,1)" font-size="10.5" text-anchor="middle" font-family="Liberation Sans" fill="#262626">0.5</text>
<text x="41.80" y="187.70" font-size="11.7" font-family="Liberation Serif" fill="#262626" textLength="103.80" lengthAdjust="spacingAndGlyphs">Bias current <tspan font-style="italic">I</tspan> [μA]</text>
<g transform="translate(10.90,137.80) rotate(-90)" font-family="Liberation Serif" font-size="11.70" fill="#262626">
<text x="0.00" y="0" font-style="normal" textLength="40.00" lengthAdjust="spacingAndGlyphs">Voltage</text>
<text x="44.20" y="0" font-style="italic" textLength="9.60" lengthAdjust="spacingAndGlyphs">V</text>
<text x="56.90" y="0" font-style="normal">[</text>
<text x="60.90" y="0" font-style="italic">h</text>
<text x="67.90" y="0" font-style="italic">f</text>
<text x="82.40" y="0" font-style="normal">2</text>
<text x="88.00" y="0" font-style="italic">e</text>
<text x="93.30" y="0" font-style="normal">]</text>
<line x1="74.60" y1="2.10" x2="81.00" y2="-8.30" stroke="#262626" stroke-width="0.85"/>
</g>
<text x="0.07" y="15.14" font-size="17.2" font-family="Liberation Sans" font-weight="bold" fill="#111">(a)</text>
<line x1="224.4" y1="35.36" x2="349.2" y2="35.36" stroke="#e6e6e6" stroke-width="1"/>
<line x1="224.4" y1="53.03" x2="349.2" y2="53.03" stroke="#e6e6e6" stroke-width="1"/>
<line x1="224.4" y1="70.69" x2="349.2" y2="70.69" stroke="#e6e6e6" stroke-width="1"/>
<line x1="224.4" y1="88.35" x2="349.2" y2="88.35" stroke="#e6e6e6" stroke-width="1"/>
<line x1="224.4" y1="106.01" x2="349.2" y2="106.01" stroke="#e6e6e6" stroke-width="1"/>
<line x1="224.4" y1="123.68" x2="349.2" y2="123.68" stroke="#e6e6e6" stroke-width="1"/>
<line x1="224.4" y1="141.34" x2="349.2" y2="141.34" stroke="#e6e6e6" stroke-width="1"/>
<clipPath id="c11"><rect x="224.4" y="17.7" width="124.80" height="141.30"/></clipPath>
<g clip-path="url(#c11)">
<path d="M226.41,157.79 L231.23,149.36 L237.25,140.92 L243.27,133.69 L248.09,126.46 L250.50,124.05 L254.11,122.84 L256.52,120.43 L260.14,114.41 L263.75,108.38 L267.36,106.70 L270.98,106.46 L274.59,104.29 L278.20,99.95 L280.61,92.72 L281.82,90.31 L285.43,89.58 L288.56,88.62 L290.25,81.87 L292.66,77.05 L296.27,72.23 L301.09,70.54 L305.91,69.82 L307.84,67.41 L310.73,61.38 L314.34,56.56 L316.75,54.15 L320.36,52.95 L322.77,50.54 L326.38,44.51 L330.00,38.49 L333.61,34.87 L337.23,30.05 L340.84,24.75 L344.45,18.00" fill="none" stroke="#1a5cf7" stroke-width="2.5" stroke-linejoin="round" stroke-linecap="round"/>
</g>
<rect x="224.4" y="17.7" width="124.80" height="141.30" fill="none" stroke="#8c8c8c" stroke-width="1.0"/>
<line x1="238.80" y1="17.7" x2="238.80" y2="19.2" stroke="#8c8c8c" stroke-width="1.0"/>
<line x1="238.80" y1="159.0" x2="238.80" y2="157.5" stroke="#8c8c8c" stroke-width="1.0"/>
<line x1="262.80" y1="17.7" x2="262.80" y2="19.2" stroke="#8c8c8c" stroke-width="1.0"/>
<line x1="262.80" y1="159.0" x2="262.80" y2="157.5" stroke="#8c8c8c" stroke-width="1.0"/>
<line x1="286.80" y1="17.7" x2="286.80" y2="19.2" stroke="#8c8c8c" stroke-width="1.0"/>
<line x1="286.80" y1="159.0" x2="286.80" y2="157.5" stroke="#8c8c8c" stroke-width="1.0"/>
<line x1="310.80" y1="17.7" x2="310.80" y2="19.2" stroke="#8c8c8c" stroke-width="1.0"/>
<line x1="310.80" y1="159.0" x2="310.80" y2="157.5" stroke="#8c8c8c" stroke-width="1.0"/>
<line x1="334.80" y1="17.7" x2="334.80" y2="19.2" stroke="#8c8c8c" stroke-width="1.0"/>
<line x1="334.80" y1="159.0" x2="334.80" y2="157.5" stroke="#8c8c8c" stroke-width="1.0"/>
<line x1="224.4" y1="17.70" x2="225.9" y2="17.70" stroke="#8c8c8c" stroke-width="1.0"/>
<line x1="349.2" y1="17.70" x2="347.7" y2="17.70" stroke="#8c8c8c" stroke-width="1.0"/>
<line x1="224.4" y1="35.36" x2="225.9" y2="35.36" stroke="#8c8c8c" stroke-width="1.0"/>
<line x1="349.2" y1="35.36" x2="347.7" y2="35.36" stroke="#8c8c8c" stroke-width="1.0"/>
<line x1="224.4" y1="53.03" x2="225.9" y2="53.03" stroke="#8c8c8c" stroke-width="1.0"/>
<line x1="349.2" y1="53.03" x2="347.7" y2="53.03" stroke="#8c8c8c" stroke-width="1.0"/>
<line x1="224.4" y1="70.69" x2="225.9" y2="70.69" stroke="#8c8c8c" stroke-width="1.0"/>
<line x1="349.2" y1="70.69" x2="347.7" y2="70.69" stroke="#8c8c8c" stroke-width="1.0"/>
<line x1="224.4" y1="88.35" x2="225.9" y2="88.35" stroke="#8c8c8c" stroke-width="1.0"/>
<line x1="349.2" y1="88.35" x2="347.7" y2="88.35" stroke="#8c8c8c" stroke-width="1.0"/>
<line x1="224.4" y1="106.01" x2="225.9" y2="106.01" stroke="#8c8c8c" stroke-width="1.0"/>
<line x1="349.2" y1="106.01" x2="347.7" y2="106.01" stroke="#8c8c8c" stroke-width="1.0"/>
<line x1="224.4" y1="123.68" x2="225.9" y2="123.68" stroke="#8c8c8c" stroke-width="1.0"/>
<line x1="349.2" y1="123.68" x2="347.7" y2="123.68" stroke="#8c8c8c" stroke-width="1.0"/>
<line x1="224.4" y1="141.34" x2="225.9" y2="141.34" stroke="#8c8c8c" stroke-width="1.0"/>
<line x1="349.2" y1="141.34" x2="347.7" y2="141.34" stroke="#8c8c8c" stroke-width="1.0"/>
<line x1="224.4" y1="159.00" x2="225.9" y2="159.00" stroke="#8c8c8c" stroke-width="1.0"/>
<line x1="349.2" y1="159.00" x2="347.7" y2="159.00" stroke="#8c8c8c" stroke-width="1.0"/>
<text transform="translate(220.10,22.46) scale(1.05,1)" font-size="10.5" text-anchor="end" font-family="Liberation Sans" fill="#262626">8</text>
<text transform="translate(220.10,40.12) scale(1.05,1)" font-size="10.5" text-anchor="end" font-family="Liberation Sans" fill="#262626">6</text>
<text transform="translate(220.10,57.78) scale(1.05,1)" font-size="10.5" text-anchor="end" font-family="Liberation Sans" fill="#262626">4</text>
<text transform="translate(220.10,75.45) scale(1.05,1)" font-size="10.5" text-anchor="end" font-family="Liberation Sans" fill="#262626">2</text>
<text transform="translate(220.10,93.11) scale(1.05,1)" font-size="10.5" text-anchor="end" font-family="Liberation Sans" fill="#262626">0</text>
<text transform="translate(220.10,110.77) scale(1.05,1)" font-size="10.5" text-anchor="end" font-family="Liberation Sans" fill="#262626">-2</text>
<text transform="translate(220.10,128.43) scale(1.05,1)" font-size="10.5" text-anchor="end" font-family="Liberation Sans" fill="#262626">-4</text>
<text transform="translate(220.10,146.10) scale(1.05,1)" font-size="10.5" text-anchor="end" font-family="Liberation Sans" fill="#262626">-6</text>
<text transform="translate(220.10,163.76) scale(1.05,1)" font-size="10.5" text-anchor="end" font-family="Liberation Sans" fill="#262626">-8</text>
<text transform="translate(238.80,174.66) scale(1.05,1)" font-size="10.5" text-anchor="middle" font-family="Liberation Sans" fill="#262626">-1</text>
<text transform="translate(262.80,174.66) scale(1.05,1)" font-size="10.5" text-anchor="middle" font-family="Liberation Sans" fill="#262626">-0.5</text>
<text transform="translate(286.80,174.66) scale(1.05,1)" font-size="10.5" text-anchor="middle" font-family="Liberation Sans" fill="#262626">0</text>
<text transform="translate(310.80,174.66) scale(1.05,1)" font-size="10.5" text-anchor="middle" font-family="Liberation Sans" fill="#262626">0.5</text>
<text transform="translate(334.80,174.66) scale(1.05,1)" font-size="10.5" text-anchor="middle" font-family="Liberation Sans" fill="#262626">1</text>
<text x="233.10" y="187.70" font-size="11.7" font-family="Liberation Serif" fill="#262626" textLength="104.30" lengthAdjust="spacingAndGlyphs">Bias current <tspan font-style="italic">I</tspan> [μA]</text>
<g transform="translate(200.20,137.80) rotate(-90)" font-family="Liberation Serif" font-size="11.70" fill="#262626">
<text x="0.00" y="0" font-style="normal" textLength="40.00" lengthAdjust="spacingAndGlyphs">Voltage</text>
<text x="44.20" y="0" font-style="italic" textLength="9.60" lengthAdjust="spacingAndGlyphs">V</text>
<text x="56.90" y="0" font-style="normal">[</text>
<text x="60.90" y="0" font-style="italic">h</text>
<text x="67.90" y="0" font-style="italic">f</text>
<text x="82.40" y="0" font-style="normal">2</text>
<text x="88.00" y="0" font-style="italic">e</text>
<text x="93.30" y="0" font-style="normal">]</text>
<line x1="74.60" y1="2.10" x2="81.00" y2="-8.30" stroke="#262626" stroke-width="0.85"/>
</g>
<text x="189.87" y="15.14" font-size="17.2" font-family="Liberation Sans" font-weight="bold" fill="#111">(b)</text>
<line x1="410.0" y1="35.36" x2="534.7" y2="35.36" stroke="#e6e6e6" stroke-width="1"/>
<line x1="410.0" y1="53.03" x2="534.7" y2="53.03" stroke="#e6e6e6" stroke-width="1"/>
<line x1="410.0" y1="70.69" x2="534.7" y2="70.69" stroke="#e6e6e6" stroke-width="1"/>
<line x1="410.0" y1="88.35" x2="534.7" y2="88.35" stroke="#e6e6e6" stroke-width="1"/>
<line x1="410.0" y1="106.01" x2="534.7" y2="106.01" stroke="#e6e6e6" stroke-width="1"/>
<line x1="410.0" y1="123.68" x2="534.7" y2="123.68" stroke="#e6e6e6" stroke-width="1"/>
<line x1="410.0" y1="141.34" x2="534.7" y2="141.34" stroke="#e6e6e6" stroke-width="1"/>
<clipPath id="c12"><rect x="410.0" y="17.7" width="124.70" height="141.30"/></clipPath>
<g clip-path="url(#c12)">
<path d="M410.00,151.77 L413.61,145.74 L417.23,141.40 L422.05,137.79 L424.45,135.62 L428.07,127.66 L430.48,124.77 L434.09,123.33 L438.91,122.12 L442.52,118.75 L446.14,113.69 L449.75,109.59 L453.36,107.18 L458.18,104.77 L459.87,101.15 L460.59,92.72 L461.79,88.38 L466.61,88.14 L479.86,88.14 L481.55,84.28 L482.75,75.85 L484.68,71.51 L489.50,69.10 L493.11,67.41 L496.73,63.31 L500.34,57.77 L503.95,54.15 L508.77,52.95 L513.59,49.33 L516.00,44.51 L519.61,38.49 L523.23,36.08 L528.04,32.46 L531.66,27.64 L535.27,22.34" fill="none" stroke="#1a5cf7" stroke-width="2.5" stroke-linejoin="round" stroke-linecap="round"/>
</g>
<rect x="410.0" y="17.7" width="124.70" height="141.30" fill="none" stroke="#8c8c8c" stroke-width="1.0"/>
<line x1="410.00" y1="17.7" x2="410.00" y2="19.2" stroke="#8c8c8c" stroke-width="1.0"/>
<line x1="410.00" y1="159.0" x2="410.00" y2="157.5" stroke="#8c8c8c" stroke-width="1.0"/>
<line x1="441.18" y1="17.7" x2="441.18" y2="19.2" stroke="#8c8c8c" stroke-width="1.0"/>
<line x1="441.18" y1="159.0" x2="441.18" y2="157.5" stroke="#8c8c8c" stroke-width="1.0"/>
<line x1="472.35" y1="17.7" x2="472.35" y2="19.2" stroke="#8c8c8c" stroke-width="1.0"/>
<line x1="472.35" y1="159.0" x2="472.35" y2="157.5" stroke="#8c8c8c" stroke-width="1.0"/>
<line x1="503.53" y1="17.7" x2="503.53" y2="19.2" stroke="#8c8c8c" stroke-width="1.0"/>
<line x1="503.53" y1="159.0" x2="503.53" y2="157.5" stroke="#8c8c8c" stroke-width="1.0"/>
<line x1="534.70" y1="17.7" x2="534.70" y2="19.2" stroke="#8c8c8c" stroke-width="1.0"/>
<line x1="534.70" y1="159.0" x2="534.70" y2="157.5" stroke="#8c8c8c" stroke-width="1.0"/>
<line x1="410.0" y1="17.70" x2="411.5" y2="17.70" stroke="#8c8c8c" stroke-width="1.0"/>
<line x1="534.7" y1="17.70" x2="533.2" y2="17.70" stroke="#8c8c8c" stroke-width="1.0"/>
<line x1="410.0" y1="35.36" x2="411.5" y2="35.36" stroke="#8c8c8c" stroke-width="1.0"/>
<line x1="534.7" y1="35.36" x2="533.2" y2="35.36" stroke="#8c8c8c" stroke-width="1.0"/>
<line x1="410.0" y1="53.03" x2="411.5" y2="53.03" stroke="#8c8c8c" stroke-width="1.0"/>
<line x1="534.7" y1="53.03" x2="533.2" y2="53.03" stroke="#8c8c8c" stroke-width="1.0"/>
<line x1="410.0" y1="70.69" x2="411.5" y2="70.69" stroke="#8c8c8c" stroke-width="1.0"/>
<line x1="534.7" y1="70.69" x2="533.2" y2="70.69" stroke="#8c8c8c" stroke-width="1.0"/>
<line x1="410.0" y1="88.35" x2="411.5" y2="88.35" stroke="#8c8c8c" stroke-width="1.0"/>
<line x1="534.7" y1="88.35" x2="533.2" y2="88.35" stroke="#8c8c8c" stroke-width="1.0"/>
<line x1="410.0" y1="106.01" x2="411.5" y2="106.01" stroke="#8c8c8c" stroke-width="1.0"/>
<line x1="534.7" y1="106.01" x2="533.2" y2="106.01" stroke="#8c8c8c" stroke-width="1.0"/>
<line x1="410.0" y1="123.68" x2="411.5" y2="123.68" stroke="#8c8c8c" stroke-width="1.0"/>
<line x1="534.7" y1="123.68" x2="533.2" y2="123.68" stroke="#8c8c8c" stroke-width="1.0"/>
<line x1="410.0" y1="141.34" x2="411.5" y2="141.34" stroke="#8c8c8c" stroke-width="1.0"/>
<line x1="534.7" y1="141.34" x2="533.2" y2="141.34" stroke="#8c8c8c" stroke-width="1.0"/>
<line x1="410.0" y1="159.00" x2="411.5" y2="159.00" stroke="#8c8c8c" stroke-width="1.0"/>
<line x1="534.7" y1="159.00" x2="533.2" y2="159.00" stroke="#8c8c8c" stroke-width="1.0"/>
<text transform="translate(405.70,22.46) scale(1.05,1)" font-size="10.5" text-anchor="end" font-family="Liberation Sans" fill="#262626">8</text>
<text transform="translate(405.70,40.12) scale(1.05,1)" font-size="10.5" text-anchor="end" font-family="Liberation Sans" fill="#262626">6</text>
<text transform="translate(405.70,57.78) scale(1.05,1)" font-size="10.5" text-anchor="end" font-family="Liberation Sans" fill="#262626">4</text>
<text transform="translate(405.70,75.45) scale(1.05,1)" font-size="10.5" text-anchor="end" font-family="Liberation Sans" fill="#262626">2</text>
<text transform="translate(405.70,93.11) scale(1.05,1)" font-size="10.5" text-anchor="end" font-family="Liberation Sans" fill="#262626">0</text>
<text transform="translate(405.70,110.77) scale(1.05,1)" font-size="10.5" text-anchor="end" font-family="Liberation Sans" fill="#262626">-2</text>
<text transform="translate(405.70,128.43) scale(1.05,1)" font-size="10.5" text-anchor="end" font-family="Liberation Sans" fill="#262626">-4</text>
<text transform="translate(405.70,146.10) scale(1.05,1)" font-size="10.5" text-anchor="end" font-family="Liberation Sans" fill="#262626">-6</text>
<text transform="translate(405.70,163.76) scale(1.05,1)" font-size="10.5" text-anchor="end" font-family="Liberation Sans" fill="#262626">-8</text>
<text transform="translate(410.00,174.66) scale(1.05,1)" font-size="10.5" text-anchor="middle" font-family="Liberation Sans" fill="#262626">-0.2</text>
<text transform="translate(441.18,174.66) scale(1.05,1)" font-size="10.5" text-anchor="middle" font-family="Liberation Sans" fill="#262626">-0.1</text>
<text transform="translate(472.35,174.66) scale(1.05,1)" font-size="10.5" text-anchor="middle" font-family="Liberation Sans" fill="#262626">0</text>
<text transform="translate(503.53,174.66) scale(1.05,1)" font-size="10.5" text-anchor="middle" font-family="Liberation Sans" fill="#262626">0.1</text>
<text transform="translate(534.70,174.66) scale(1.05,1)" font-size="10.5" text-anchor="middle" font-family="Liberation Sans" fill="#262626">0.2</text>
<text x="413.70" y="187.70" font-size="11.7" font-family="Liberation Serif" fill="#262626" textLength="104.60" lengthAdjust="spacingAndGlyphs">Bias current <tspan font-style="italic">I</tspan> [μA]</text>
<g transform="translate(385.20,137.80) rotate(-90)" font-family="Liberation Serif" font-size="11.70" fill="#262626">
<text x="0.00" y="0" font-style="normal" textLength="40.00" lengthAdjust="spacingAndGlyphs">Voltage</text>
<text x="44.20" y="0" font-style="italic" textLength="9.60" lengthAdjust="spacingAndGlyphs">V</text>
<text x="56.90" y="0" font-style="normal">[</text>
<text x="60.90" y="0" font-style="italic">h</text>
<text x="67.90" y="0" font-style="italic">f</text>
<text x="82.40" y="0" font-style="normal">2</text>
<text x="88.00" y="0" font-style="italic">e</text>
<text x="93.30" y="0" font-style="normal">]</text>
<line x1="74.60" y1="2.10" x2="81.00" y2="-8.30" stroke="#262626" stroke-width="0.85"/>
</g>
<text x="374.07" y="15.14" font-size="17.2" font-family="Liberation Sans" font-weight="bold" fill="#111">(c)</text>
<line x1="33.2" y1="232.03" x2="158.0" y2="232.03" stroke="#e6e6e6" stroke-width="1"/>
<line x1="33.2" y1="249.65" x2="158.0" y2="249.65" stroke="#e6e6e6" stroke-width="1"/>
<line x1="33.2" y1="267.27" x2="158.0" y2="267.27" stroke="#e6e6e6" stroke-width="1"/>
<line x1="33.2" y1="284.90" x2="158.0" y2="284.90" stroke="#e6e6e6" stroke-width="1"/>
<line x1="33.2" y1="302.52" x2="158.0" y2="302.52" stroke="#e6e6e6" stroke-width="1"/>
<line x1="33.2" y1="320.15" x2="158.0" y2="320.15" stroke="#e6e6e6" stroke-width="1"/>
<line x1="33.2" y1="337.77" x2="158.0" y2="337.77" stroke="#e6e6e6" stroke-width="1"/>
<clipPath id="c20"><rect x="33.2" y="214.4" width="124.80" height="141.00"/></clipPath>
<path clip-path="url(#c20)" d="M33.2,212.20 L66.48,213.30 L66.48,215.50 L66.48,215.50 L66.48,217.70 L66.48,217.70 L66.48,219.91 L68.14,219.91 L68.14,222.11 L66.06,222.11 L66.06,224.31 L65.23,224.31 L65.23,226.52 L75.22,226.52 L75.22,228.72 L74.38,228.72 L74.38,230.92 L59.82,230.92 L59.82,233.13 L66.90,233.13 L66.90,235.33 L69.81,235.33 L69.81,237.53 L64.82,237.53 L64.82,239.74 L68.98,239.74 L68.98,241.94 L71.47,241.94 L71.47,244.14 L62.74,244.14 L62.74,246.35 L62.32,246.35 L62.32,248.55 L64.82,248.55 L64.82,250.75 L66.90,250.75 L66.90,252.95 L54.83,252.95 L54.83,255.16 L58.16,255.16 L58.16,257.36 L68.56,257.36 L68.56,259.56 L62.74,259.56 L62.74,261.77 L56.91,261.77 L56.91,263.97 L59.41,263.97 L59.41,266.17 L86.45,266.17 L86.45,268.38 L75.22,268.38 L75.22,270.58 L58.16,270.58 L58.16,272.78 L58.16,272.78 L58.16,274.99 L95.60,274.99 L95.60,277.19 L143.02,277.19 L143.02,279.39 L73.55,279.39 L73.55,281.60 L57.33,281.60 L57.33,283.80 L92.69,283.80 L92.69,286.00 L136.78,286.00 L136.78,288.20 L78.13,288.20 L78.13,290.41 L53.17,290.41 L53.17,292.61 L87.28,292.61 L87.28,294.81 L141.36,294.81 L141.36,297.02 L78.13,297.02 L78.13,299.22 L57.33,299.22 L57.33,301.42 L65.23,301.42 L65.23,303.63 L82.70,303.63 L82.70,305.83 L68.14,305.83 L68.14,308.03 L51.92,308.03 L51.92,310.24 L61.49,310.24 L61.49,312.44 L66.48,312.44 L66.48,314.64 L61.49,314.64 L61.49,316.85 L55.66,316.85 L55.66,319.05 L61.49,319.05 L61.49,321.25 L59.41,321.25 L59.41,323.45 L55.66,323.45 L55.66,325.66 L63.15,325.66 L63.15,327.86 L67.31,327.86 L67.31,330.06 L64.82,330.06 L64.82,332.27 L68.14,332.27 L68.14,334.47 L68.98,334.47 L68.98,336.67 L66.48,336.67 L66.48,338.88 L65.23,338.88 L65.23,341.08 L73.14,341.08 L73.14,343.28 L66.06,343.28 L66.06,345.49 L69.39,345.49 L69.39,347.69 L68.56,347.69 L68.56,349.89 L66.90,349.89 L66.90,352.10 L68.14,352.10 L68.14,354.30 L63.15,354.30 L63.15,356.50 L33.2,357.60 Z" fill="#1659fa"/>
<rect x="33.2" y="214.4" width="124.80" height="141.00" fill="none" stroke="#8c8c8c" stroke-width="1.0"/>
<line x1="33.20" y1="214.4" x2="33.20" y2="215.9" stroke="#8c8c8c" stroke-width="1.0"/>
<line x1="33.20" y1="355.4" x2="33.20" y2="353.9" stroke="#8c8c8c" stroke-width="1.0"/>
<line x1="74.80" y1="214.4" x2="74.80" y2="215.9" stroke="#8c8c8c" stroke-width="1.0"/>
<line x1="74.80" y1="355.4" x2="74.80" y2="353.9" stroke="#8c8c8c" stroke-width="1.0"/>
<line x1="116.40" y1="214.4" x2="116.40" y2="215.9" stroke="#8c8c8c" stroke-width="1.0"/>
<line x1="116.40" y1="355.4" x2="116.40" y2="353.9" stroke="#8c8c8c" stroke-width="1.0"/>
<line x1="158.00" y1="214.4" x2="158.00" y2="215.9" stroke="#8c8c8c" stroke-width="1.0"/>
<line x1="158.00" y1="355.4" x2="158.00" y2="353.9" stroke="#8c8c8c" stroke-width="1.0"/>
<line x1="33.2" y1="214.40" x2="34.7" y2="214.40" stroke="#8c8c8c" stroke-width="1.0"/>
<line x1="158.0" y1="214.40" x2="156.5" y2="214.40" stroke="#8c8c8c" stroke-width="1.0"/>
<line x1="33.2" y1="232.03" x2="34.7" y2="232.03" stroke="#8c8c8c" stroke-width="1.0"/>
<line x1="158.0" y1="232.03" x2="156.5" y2="232.03" stroke="#8c8c8c" stroke-width="1.0"/>
<line x1="33.2" y1="249.65" x2="34.7" y2="249.65" stroke="#8c8c8c" stroke-width="1.0"/>
<line x1="158.0" y1="249.65" x2="156.5" y2="249.65" stroke="#8c8c8c" stroke-width="1.0"/>
<line x1="33.2" y1="267.27" x2="34.7" y2="267.27" stroke="#8c8c8c" stroke-width="1.0"/>
<line x1="158.0" y1="267.27" x2="156.5" y2="267.27" stroke="#8c8c8c" stroke-width="1.0"/>
<line x1="33.2" y1="284.90" x2="34.7" y2="284.90" stroke="#8c8c8c" stroke-width="1.0"/>
<line x1="158.0" y1="284.90" x2="156.5" y2="284.90" stroke="#8c8c8c" stroke-width="1.0"/>
<line x1="33.2" y1="302.52" x2="34.7" y2="302.52" stroke="#8c8c8c" stroke-width="1.0"/>
<line x1="158.0" y1="302.52" x2="156.5" y2="302.52" stroke="#8c8c8c" stroke-width="1.0"/>
<line x1="33.2" y1="320.15" x2="34.7" y2="320.15" stroke="#8c8c8c" stroke-width="1.0"/>
<line x1="158.0" y1="320.15" x2="156.5" y2="320.15" stroke="#8c8c8c" stroke-width="1.0"/>
<line x1="33.2" y1="337.77" x2="34.7" y2="337.77" stroke="#8c8c8c" stroke-width="1.0"/>
<line x1="158.0" y1="337.77" x2="156.5" y2="337.77" stroke="#8c8c8c" stroke-width="1.0"/>
<line x1="33.2" y1="355.40" x2="34.7" y2="355.40" stroke="#8c8c8c" stroke-width="1.0"/>
<line x1="158.0" y1="355.40" x2="156.5" y2="355.40" stroke="#8c8c8c" stroke-width="1.0"/>
<text transform="translate(28.90,219.16) scale(1.05,1)" font-size="10.5" text-anchor="end" font-family="Liberation Sans" fill="#262626">8</text>
<text transform="translate(28.90,236.78) scale(1.05,1)" font-size="10.5" text-anchor="end" font-family="Liberation Sans" fill="#262626">6</text>
<text transform="translate(28.90,254.41) scale(1.05,1)" font-size="10.5" text-anchor="end" font-family="Liberation Sans" fill="#262626">4</text>
<text transform="translate(28.90,272.03) scale(1.05,1)" font-size="10.5" text-anchor="end" font-family="Liberation Sans" fill="#262626">2</text>
<text transform="translate(28.90,289.66) scale(1.05,1)" font-size="10.5" text-anchor="end" font-family="Liberation Sans" fill="#262626">0</text>
<text transform="translate(28.90,307.28) scale(1.05,1)" font-size="10.5" text-anchor="end" font-family="Liberation Sans" fill="#262626">-2</text>
<text transform="translate(28.90,324.91) scale(1.05,1)" font-size="10.5" text-anchor="end" font-family="Liberation Sans" fill="#262626">-4</text>
<text transform="translate(28.90,342.53) scale(1.05,1)" font-size="10.5" text-anchor="end" font-family="Liberation Sans" fill="#262626">-6</text>
<text transform="translate(28.90,360.16) scale(1.05,1)" font-size="10.5" text-anchor="end" font-family="Liberation Sans" fill="#262626">-8</text>
<text transform="translate(33.20,370.76) scale(1.05,1)" font-size="10.5" text-anchor="middle" font-family="Liberation Sans" fill="#262626">0</text>
<text transform="translate(74.80,370.76) scale(1.05,1)" font-size="10.5" text-anchor="middle" font-family="Liberation Sans" fill="#262626">100</text>
<text transform="translate(116.40,370.76) scale(1.05,1)" font-size="10.5" text-anchor="middle" font-family="Liberation Sans" fill="#262626">200</text>
<text transform="translate(158.00,370.76) scale(1.05,1)" font-size="10.5" text-anchor="middle" font-family="Liberation Sans" fill="#262626">300</text>
<text x="47.40" y="386.70" font-size="11.7" font-family="Liberation Serif" fill="#262626" textLength="95.00" lengthAdjust="spacingAndGlyphs">Bins counts [a.u.]</text>
<g transform="translate(10.90,342.10) rotate(-90)" font-family="Liberation Serif" font-size="11.70" fill="#262626">
<text x="0.00" y="0" font-style="normal" textLength="40.00" lengthAdjust="spacingAndGlyphs">Voltage</text>
<text x="44.20" y="0" font-style="italic" textLength="9.60" lengthAdjust="spacingAndGlyphs">V</text>
<text x="56.90" y="0" font-style="normal">[</text>
<text x="60.90" y="0" font-style="italic">h</text>
<text x="67.90" y="0" font-style="italic">f</text>
<text x="82.40" y="0" font-style="normal">2</text>
<text x="88.00" y="0" font-style="italic">e</text>
<text x="93.30" y="0" font-style="normal">]</text>
<line x1="74.60" y1="2.10" x2="81.00" y2="-8.30" stroke="#262626" stroke-width="0.85"/>
</g>
<text x="0.07" y="202.39" font-size="17.2" font-family="Liberation Sans" font-weight="bold" fill="#111">(d)</text>
<line x1="224.4" y1="232.03" x2="349.2" y2="232.03" stroke="#e6e6e6" stroke-width="1"/>
<line x1="224.4" y1="249.65" x2="349.2" y2="249.65" stroke="#e6e6e6" stroke-width="1"/>
<line x1="224.4" y1="267.27" x2="349.2" y2="267.27" stroke="#e6e6e6" stroke-width="1"/>
<line x1="224.4" y1="284.90" x2="349.2" y2="284.90" stroke="#e6e6e6" stroke-width="1"/>
<line x1="224.4" y1="302.52" x2="349.2" y2="302.52" stroke="#e6e6e6" stroke-width="1"/>
<line x1="224.4" y1="320.15" x2="349.2" y2="320.15" stroke="#e6e6e6" stroke-width="1"/>
<line x1="224.4" y1="337.77" x2="349.2" y2="337.77" stroke="#e6e6e6" stroke-width="1"/>
<clipPath id="c21"><rect x="224.4" y="214.4" width="124.80" height="141.00"/></clipPath>
<path clip-path="url(#c21)" d="M224.4,212.20 L241.25,213.30 L241.25,215.50 L242.50,215.50 L242.50,217.70 L243.12,217.70 L243.12,219.91 L243.74,219.91 L243.74,222.11 L248.11,222.11 L248.11,224.31 L241.25,224.31 L241.25,226.52 L240.00,226.52 L240.00,228.72 L248.74,228.72 L248.74,230.92 L252.48,230.92 L252.48,233.13 L245.62,233.13 L245.62,235.33 L241.25,235.33 L241.25,237.53 L241.25,237.53 L241.25,239.74 L241.25,239.74 L241.25,241.94 L240.62,241.94 L240.62,244.14 L237.50,244.14 L237.50,246.35 L244.99,246.35 L244.99,248.55 L297.41,248.55 L297.41,250.75 L254.98,250.75 L254.98,252.95 L242.50,252.95 L242.50,255.16 L241.87,255.16 L241.87,257.36 L241.25,257.36 L241.25,259.56 L236.26,259.56 L236.26,261.77 L236.26,261.77 L236.26,263.97 L240.00,263.97 L240.00,266.17 L328.61,266.17 L328.61,268.38 L266.83,268.38 L266.83,270.58 L246.24,270.58 L246.24,272.78 L243.12,272.78 L243.12,274.99 L236.88,274.99 L236.88,277.19 L235.01,277.19 L235.01,279.39 L231.89,279.39 L231.89,281.60 L231.26,281.60 L231.26,283.80 L274.32,283.80 L274.32,286.00 L279.94,286.00 L279.94,288.20 L231.89,288.20 L231.89,290.41 L231.89,290.41 L231.89,292.61 L236.88,292.61 L236.88,294.81 L240.62,294.81 L240.62,297.02 L244.37,297.02 L244.37,299.22 L250.61,299.22 L250.61,301.42 L322.99,301.42 L322.99,303.63 L264.34,303.63 L264.34,305.83 L236.26,305.83 L236.26,308.03 L238.75,308.03 L238.75,310.24 L243.74,310.24 L243.74,312.44 L244.99,312.44 L244.99,314.64 L247.49,314.64 L247.49,316.85 L247.49,316.85 L247.49,319.05 L302.40,319.05 L302.40,321.25 L248.11,321.25 L248.11,323.45 L241.25,323.45 L241.25,325.66 L239.38,325.66 L239.38,327.86 L242.50,327.86 L242.50,330.06 L244.99,330.06 L244.99,332.27 L242.50,332.27 L242.50,334.47 L242.50,334.47 L242.50,336.67 L257.47,336.67 L257.47,338.88 L242.50,338.88 L242.50,341.08 L241.25,341.08 L241.25,343.28 L241.25,343.28 L241.25,345.49 L246.24,345.49 L246.24,347.69 L243.74,347.69 L243.74,349.89 L239.38,349.89 L239.38,352.10 L241.25,352.10 L241.25,354.30 L243.12,354.30 L243.12,356.50 L224.4,357.60 Z" fill="#1659fa"/>
<rect x="224.4" y="214.4" width="124.80" height="141.00" fill="none" stroke="#8c8c8c" stroke-width="1.0"/>
<line x1="224.40" y1="214.4" x2="224.40" y2="215.9" stroke="#8c8c8c" stroke-width="1.0"/>
<line x1="224.40" y1="355.4" x2="224.40" y2="353.9" stroke="#8c8c8c" stroke-width="1.0"/>
<line x1="255.60" y1="214.4" x2="255.60" y2="215.9" stroke="#8c8c8c" stroke-width="1.0"/>
<line x1="255.60" y1="355.4" x2="255.60" y2="353.9" stroke="#8c8c8c" stroke-width="1.0"/>
<line x1="286.80" y1="214.4" x2="286.80" y2="215.9" stroke="#8c8c8c" stroke-width="1.0"/>
<line x1="286.80" y1="355.4" x2="286.80" y2="353.9" stroke="#8c8c8c" stroke-width="1.0"/>
<line x1="318.00" y1="214.4" x2="318.00" y2="215.9" stroke="#8c8c8c" stroke-width="1.0"/>
<line x1="318.00" y1="355.4" x2="318.00" y2="353.9" stroke="#8c8c8c" stroke-width="1.0"/>
<line x1="349.20" y1="214.4" x2="349.20" y2="215.9" stroke="#8c8c8c" stroke-width="1.0"/>
<line x1="349.20" y1="355.4" x2="349.20" y2="353.9" stroke="#8c8c8c" stroke-width="1.0"/>
<line x1="224.4" y1="214.40" x2="225.9" y2="214.40" stroke="#8c8c8c" stroke-width="1.0"/>
<line x1="349.2" y1="214.40" x2="347.7" y2="214.40" stroke="#8c8c8c" stroke-width="1.0"/>
<line x1="224.4" y1="232.03" x2="225.9" y2="232.03" stroke="#8c8c8c" stroke-width="1.0"/>
<line x1="349.2" y1="232.03" x2="347.7" y2="232.03" stroke="#8c8c8c" stroke-width="1.0"/>
<line x1="224.4" y1="249.65" x2="225.9" y2="249.65" stroke="#8c8c8c" stroke-width="1.0"/>
<line x1="349.2" y1="249.65" x2="347.7" y2="249.65" stroke="#8c8c8c" stroke-width="1.0"/>
<line x1="224.4" y1="267.27" x2="225.9" y2="267.27" stroke="#8c8c8c" stroke-width="1.0"/>
<line x1="349.2" y1="267.27" x2="347.7" y2="267.27" stroke="#8c8c8c" stroke-width="1.0"/>
<line x1="224.4" y1="284.90" x2="225.9" y2="284.90" stroke="#8c8c8c" stroke-width="1.0"/>
<line x1="349.2" y1="284.90" x2="347.7" y2="284.90" stroke="#8c8c8c" stroke-width="1.0"/>
<line x1="224.4" y1="302.52" x2="225.9" y2="302.52" stroke="#8c8c8c" stroke-width="1.0"/>
<line x1="349.2" y1="302.52" x2="347.7" y2="302.52" stroke="#8c8c8c" stroke-width="1.0"/>
<line x1="224.4" y1="320.15" x2="225.9" y2="320.15" stroke="#8c8c8c" stroke-width="1.0"/>
<line x1="349.2" y1="320.15" x2="347.7" y2="320.15" stroke="#8c8c8c" stroke-width="1.0"/>
<line x1="224.4" y1="337.77" x2="225.9" y2="337.77" stroke="#8c8c8c" stroke-width="1.0"/>
<line x1="349.2" y1="337.77" x2="347.7" y2="337.77" stroke="#8c8c8c" stroke-width="1.0"/>
<line x1="224.4" y1="355.40" x2="225.9" y2="355.40" stroke="#8c8c8c" stroke-width="1.0"/>
<line x1="349.2" y1="355.40" x2="347.7" y2="355.40" stroke="#8c8c8c" stroke-width="1.0"/>
<text transform="translate(220.10,219.16) scale(1.05,1)" font-size="10.5" text-anchor="end" font-family="Liberation Sans" fill="#262626">8</text>
<text transform="translate(220.10,236.78) scale(1.05,1)" font-size="10.5" text-anchor="end" font-family="Liberation Sans" fill="#262626">6</text>
<text transform="translate(220.10,254.41) scale(1.05,1)" font-size="10.5" text-anchor="end" font-family="Liberation Sans" fill="#262626">4</text>
<text transform="translate(220.10,272.03) scale(1.05,1)" font-size="10.5" text-anchor="end" font-family="Liberation Sans" fill="#262626">2</text>
<text transform="translate(220.10,289.66) scale(1.05,1)" font-size="10.5" text-anchor="end" font-family="Liberation Sans" fill="#262626">0</text>
<text transform="translate(220.10,307.28) scale(1.05,1)" font-size="10.5" text-anchor="end" font-family="Liberation Sans" fill="#262626">-2</text>
<text transform="translate(220.10,324.91) scale(1.05,1)" font-size="10.5" text-anchor="end" font-family="Liberation Sans" fill="#262626">-4</text>
<text transform="translate(220.10,342.53) scale(1.05,1)" font-size="10.5" text-anchor="end" font-family="Liberation Sans" fill="#262626">-6</text>
<text transform="translate(220.10,360.16) scale(1.05,1)" font-size="10.5" text-anchor="end" font-family="Liberation Sans" fill="#262626">-8</text>
<text transform="translate(224.40,370.76) scale(1.05,1)" font-size="10.5" text-anchor="middle" font-family="Liberation Sans" fill="#262626">0</text>
<text transform="translate(255.60,370.76) scale(1.05,1)" font-size="10.5" text-anchor="middle" font-family="Liberation Sans" fill="#262626">50</text>
<text transform="translate(286.80,370.76) scale(1.05,1)" font-size="10.5" text-anchor="middle" font-family="Liberation Sans" fill="#262626">100</text>
<text transform="translate(318.00,370.76) scale(1.05,1)" font-size="10.5" text-anchor="middle" font-family="Liberation Sans" fill="#262626">150</text>
<text transform="translate(349.20,370.76) scale(1.05,1)" font-size="10.5" text-anchor="middle" font-family="Liberation Sans" fill="#262626">200</text>
<text x="237.30" y="384.80" font-size="11.7" font-family="Liberation Serif" fill="#262626" textLength="95.10" lengthAdjust="spacingAndGlyphs">Bins counts [a.u.]</text>
<g transform="translate(200.20,342.10) rotate(-90)" font-family="Liberation Serif" font-size="11.70" fill="#262626">
<text x="0.00" y="0" font-style="normal" textLength="40.00" lengthAdjust="spacingAndGlyphs">Voltage</text>
<text x="44.20" y="0" font-style="italic" textLength="9.60" lengthAdjust="spacingAndGlyphs">V</text>
<text x="56.90" y="0" font-style="normal">[</text>
<text x="60.90" y="0" font-style="italic">h</text>
<text x="67.90" y="0" font-style="italic">f</text>
<text x="82.40" y="0" font-style="normal">2</text>
<text x="88.00" y="0" font-style="italic">e</text>
<text x="93.30" y="0" font-style="normal">]</text>
<line x1="74.60" y1="2.10" x2="81.00" y2="-8.30" stroke="#262626" stroke-width="0.85"/>
</g>
<text x="189.87" y="202.39" font-size="17.2" font-family="Liberation Sans" font-weight="bold" fill="#111">(e)</text>
<line x1="410.0" y1="232.03" x2="534.7" y2="232.03" stroke="#e6e6e6" stroke-width="1"/>
<line x1="410.0" y1="249.65" x2="534.7" y2="249.65" stroke="#e6e6e6" stroke-width="1"/>
<line x1="410.0" y1="267.27" x2="534.7" y2="267.27" stroke="#e6e6e6" stroke-width="1"/>
<line x1="410.0" y1="284.90" x2="534.7" y2="284.90" stroke="#e6e6e6" stroke-width="1"/>
<line x1="410.0" y1="302.52" x2="534.7" y2="302.52" stroke="#e6e6e6" stroke-width="1"/>
<line x1="410.0" y1="320.15" x2="534.7" y2="320.15" stroke="#e6e6e6" stroke-width="1"/>
<line x1="410.0" y1="337.77" x2="534.7" y2="337.77" stroke="#e6e6e6" stroke-width="1"/>
<clipPath id="c22"><rect x="410.0" y="214.4" width="124.70" height="141.00"/></clipPath>
<path clip-path="url(#c22)" d="M410.0,212.20 L419.04,213.30 L419.04,215.50 L420.91,215.50 L420.91,217.70 L420.29,217.70 L420.29,219.91 L418.73,219.91 L418.73,222.11 L418.42,222.11 L418.42,224.31 L419.35,224.31 L419.35,226.52 L421.22,226.52 L421.22,228.72 L424.03,228.72 L424.03,230.92 L426.21,230.92 L426.21,233.13 L422.16,233.13 L422.16,235.33 L416.55,235.33 L416.55,237.53 L414.99,237.53 L414.99,239.74 L414.99,239.74 L414.99,241.94 L415.92,241.94 L415.92,244.14 L418.42,244.14 L418.42,246.35 L431.82,246.35 L431.82,248.55 L445.85,248.55 L445.85,250.75 L421.22,250.75 L421.22,252.95 L418.42,252.95 L418.42,255.16 L418.42,255.16 L418.42,257.36 L419.35,257.36 L419.35,259.56 L420.29,259.56 L420.29,261.77 L423.09,261.77 L423.09,263.97 L432.13,263.97 L432.13,266.17 L428.08,266.17 L428.08,268.38 L411.56,268.38 L411.56,270.58 L411.56,270.58 L411.56,272.78 L411.25,272.78 L411.25,274.99 L411.25,274.99 L411.25,277.19 L411.25,277.19 L411.25,279.39 L411.25,279.39 L411.25,281.60 L412.49,281.60 L412.49,283.80 L522.23,283.80 L522.23,286.00 L412.49,286.00 L412.49,288.20 L412.49,288.20 L412.49,290.41 L411.25,290.41 L411.25,292.61 L411.25,292.61 L411.25,294.81 L411.25,294.81 L411.25,297.02 L411.25,297.02 L411.25,299.22 L415.30,299.22 L415.30,301.42 L433.69,301.42 L433.69,303.63 L430.58,303.63 L430.58,305.83 L422.47,305.83 L422.47,308.03 L418.42,308.03 L418.42,310.24 L418.42,310.24 L418.42,312.44 L420.60,312.44 L420.60,314.64 L420.60,314.64 L420.60,316.85 L425.59,316.85 L425.59,319.05 L450.53,319.05 L450.53,321.25 L423.41,321.25 L423.41,323.45 L416.86,323.45 L416.86,325.66 L415.30,325.66 L415.30,327.86 L415.30,327.86 L415.30,330.06 L415.92,330.06 L415.92,332.27 L417.48,332.27 L417.48,334.47 L419.04,334.47 L419.04,336.67 L424.96,336.67 L424.96,338.88 L420.60,338.88 L420.60,341.08 L418.73,341.08 L418.73,343.28 L418.11,343.28 L418.11,345.49 L419.35,345.49 L419.35,347.69 L421.22,347.69 L421.22,349.89 L420.29,349.89 L420.29,352.10 L418.73,352.10 L418.73,354.30 L417.48,354.30 L417.48,356.50 L410.0,357.60 Z" fill="#1659fa"/>
<rect x="410.0" y="214.4" width="124.70" height="141.00" fill="none" stroke="#8c8c8c" stroke-width="1.0"/>
<line x1="410.00" y1="214.4" x2="410.00" y2="215.9" stroke="#8c8c8c" stroke-width="1.0"/>
<line x1="410.00" y1="355.4" x2="410.00" y2="353.9" stroke="#8c8c8c" stroke-width="1.0"/>
<line x1="441.18" y1="214.4" x2="441.18" y2="215.9" stroke="#8c8c8c" stroke-width="1.0"/>
<line x1="441.18" y1="355.4" x2="441.18" y2="353.9" stroke="#8c8c8c" stroke-width="1.0"/>
<line x1="472.35" y1="214.4" x2="472.35" y2="215.9" stroke="#8c8c8c" stroke-width="1.0"/>
<line x1="472.35" y1="355.4" x2="472.35" y2="353.9" stroke="#8c8c8c" stroke-width="1.0"/>
<line x1="503.53" y1="214.4" x2="503.53" y2="215.9" stroke="#8c8c8c" stroke-width="1.0"/>
<line x1="503.53" y1="355.4" x2="503.53" y2="353.9" stroke="#8c8c8c" stroke-width="1.0"/>
<line x1="534.70" y1="214.4" x2="534.70" y2="215.9" stroke="#8c8c8c" stroke-width="1.0"/>
<line x1="534.70" y1="355.4" x2="534.70" y2="353.9" stroke="#8c8c8c" stroke-width="1.0"/>
<line x1="410.0" y1="214.40" x2="411.5" y2="214.40" stroke="#8c8c8c" stroke-width="1.0"/>
<line x1="534.7" y1="214.40" x2="533.2" y2="214.40" stroke="#8c8c8c" stroke-width="1.0"/>
<line x1="410.0" y1="232.03" x2="411.5" y2="232.03" stroke="#8c8c8c" stroke-width="1.0"/>
<line x1="534.7" y1="232.03" x2="533.2" y2="232.03" stroke="#8c8c8c" stroke-width="1.0"/>
<line x1="410.0" y1="249.65" x2="411.5" y2="249.65" stroke="#8c8c8c" stroke-width="1.0"/>
<line x1="534.7" y1="249.65" x2="533.2" y2="249.65" stroke="#8c8c8c" stroke-width="1.0"/>
<line x1="410.0" y1="267.27" x2="411.5" y2="267.27" stroke="#8c8c8c" stroke-width="1.0"/>
<line x1="534.7" y1="267.27" x2="533.2" y2="267.27" stroke="#8c8c8c" stroke-width="1.0"/>
<line x1="410.0" y1="284.90" x2="411.5" y2="284.90" stroke="#8c8c8c" stroke-width="1.0"/>
<line x1="534.7" y1="284.90" x2="533.2" y2="284.90" stroke="#8c8c8c" stroke-width="1.0"/>
<line x1="410.0" y1="302.52" x2="411.5" y2="302.52" stroke="#8c8c8c" stroke-width="1.0"/>
<line x1="534.7" y1="302.52" x2="533.2" y2="302.52" stroke="#8c8c8c" stroke-width="1.0"/>
<line x1="410.0" y1="320.15" x2="411.5" y2="320.15" stroke="#8c8c8c" stroke-width="1.0"/>
<line x1="534.7" y1="320.15" x2="533.2" y2="320.15" stroke="#8c8c8c" stroke-width="1.0"/>
<line x1="410.0" y1="337.77" x2="411.5" y2="337.77" stroke="#8c8c8c" stroke-width="1.0"/>
<line x1="534.7" y1="337.77" x2="533.2" y2="337.77" stroke="#8c8c8c" stroke-width="1.0"/>
<line x1="410.0" y1="355.40" x2="411.5" y2="355.40" stroke="#8c8c8c" stroke-width="1.0"/>
<line x1="534.7" y1="355.40" x2="533.2" y2="355.40" stroke="#8c8c8c" stroke-width="1.0"/>
<text transform="translate(405.70,219.16) scale(1.05,1)" font-size="10.5" text-anchor="end" font-family="Liberation Sans" fill="#262626">8</text>
<text transform="translate(405.70,236.78) scale(1.05,1)" font-size="10.5" text-anchor="end" font-family="Liberation Sans" fill="#262626">6</text>
<text transform="translate(405.70,254.41) scale(1.05,1)" font-size="10.5" text-anchor="end" font-family="Liberation Sans" fill="#262626">4</text>
<text transform="translate(405.70,272.03) scale(1.05,1)" font-size="10.5" text-anchor="end" font-family="Liberation Sans" fill="#262626">2</text>
<text transform="translate(405.70,289.66) scale(1.05,1)" font-size="10.5" text-anchor="end" font-family="Liberation Sans" fill="#262626">0</text>
<text transform="translate(405.70,307.28) scale(1.05,1)" font-size="10.5" text-anchor="end" font-family="Liberation Sans" fill="#262626">-2</text>
<text transform="translate(405.70,324.91) scale(1.05,1)" font-size="10.5" text-anchor="end" font-family="Liberation Sans" fill="#262626">-4</text>
<text transform="translate(405.70,342.53) scale(1.05,1)" font-size="10.5" text-anchor="end" font-family="Liberation Sans" fill="#262626">-6</text>
<text transform="translate(405.70,360.16) scale(1.05,1)" font-size="10.5" text-anchor="end" font-family="Liberation Sans" fill="#262626">-8</text>
<text transform="translate(410.00,370.76) scale(1.05,1)" font-size="10.5" text-anchor="middle" font-family="Liberation Sans" fill="#262626">0</text>
<text transform="translate(441.18,370.76) scale(1.05,1)" font-size="10.5" text-anchor="middle" font-family="Liberation Sans" fill="#262626">100</text>
<text transform="translate(472.35,370.76) scale(1.05,1)" font-size="10.5" text-anchor="middle" font-family="Liberation Sans" fill="#262626">200</text>
<text transform="translate(503.53,370.76) scale(1.05,1)" font-size="10.5" text-anchor="middle" font-family="Liberation Sans" fill="#262626">300</text>
<text transform="translate(534.70,370.76) scale(1.05,1)" font-size="10.5" text-anchor="middle" font-family="Liberation Sans" fill="#262626">400</text>
<text x="424.80" y="384.60" font-size="11.7" font-family="Liberation Serif" fill="#262626" textLength="94.80" lengthAdjust="spacingAndGlyphs">Bins counts [a.u.]</text>
<g transform="translate(385.40,342.10) rotate(-90)" font-family="Liberation Serif" font-size="11.70" fill="#262626">
<text x="0.00" y="0" font-style="normal" textLength="40.00" lengthAdjust="spacingAndGlyphs">Voltage</text>
<text x="44.20" y="0" font-style="italic" textLength="9.60" lengthAdjust="spacingAndGlyphs">V</text>
<text x="56.90" y="0" font-style="normal">[</text>
<text x="60.90" y="0" font-style="italic">h</text>
<text x="67.90" y="0" font-style="italic">f</text>
<text x="82.40" y="0" font-style="normal">2</text>
<text x="88.00" y="0" font-style="italic">e</text>
<text x="93.30" y="0" font-style="normal">]</text>
<line x1="74.60" y1="2.10" x2="81.00" y2="-8.30" stroke="#262626" stroke-width="0.85"/>
</g>
<text x="375.22" y="202.39" font-size="17.2" font-family="Liberation Sans" font-weight="bold" fill="#111">(f)</text>
<path d="M322.00,258.46 L334.00,252.36 L332.50,256.56 L345.00,256.56 L345.00,260.36 L332.50,260.36 L334.00,264.56 Z" fill="#f5141a"/>
<path d="M322.00,276.09 L334.00,269.99 L332.50,274.19 L345.00,274.19 L345.00,277.99 L332.50,277.99 L334.00,282.19 Z" fill="#f5141a"/>
<path d="M322.00,293.71 L334.00,287.61 L332.50,291.81 L345.00,291.81 L345.00,295.61 L332.50,295.61 L334.00,299.81 Z" fill="#f5141a"/>
<path d="M322.00,311.34 L334.00,305.24 L332.50,309.44 L345.00,309.44 L345.00,313.24 L332.50,313.24 L334.00,317.44 Z" fill="#f5141a"/>
<path d="M507.30,240.84 L519.30,234.74 L517.80,238.94 L529.60,238.94 L529.60,242.74 L517.80,242.74 L519.30,246.94 Z" fill="#f5141a"/>
<path d="M507.30,258.46 L519.30,252.36 L517.80,256.56 L529.60,256.56 L529.60,260.36 L517.80,260.36 L519.30,264.56 Z" fill="#f5141a"/>
<path d="M507.30,276.09 L519.30,269.99 L517.80,274.19 L529.60,274.19 L529.60,277.99 L517.80,277.99 L519.30,282.19 Z" fill="#f5141a"/>
<path d="M507.30,293.71 L519.30,287.61 L517.80,291.81 L529.60,291.81 L529.60,295.61 L517.80,295.61 L519.30,299.81 Z" fill="#f5141a"/>
<path d="M507.30,311.34 L519.30,305.24 L517.80,309.44 L529.60,309.44 L529.60,313.24 L517.80,313.24 L519.30,317.44 Z" fill="#f5141a"/>
<path d="M507.30,328.96 L519.30,322.86 L517.80,327.06 L529.60,327.06 L529.60,330.86 L517.80,330.86 L519.30,335.06 Z" fill="#f5141a"/>
<rect x="33.2" y="430.9" width="124.80" height="14.60" fill="url(#cb0)"/>
<rect x="33.2" y="430.9" width="124.80" height="14.60" fill="none" stroke="#3a3a3a" stroke-width="0.8"/>
<text transform="translate(33.20,424.46) scale(1.05,1)" font-size="10.5" text-anchor="middle" font-family="Liberation Sans" fill="#262626">0</text>
<text transform="translate(95.60,424.46) scale(1.05,1)" font-size="10.5" text-anchor="middle" font-family="Liberation Sans" fill="#262626">100</text>
<text transform="translate(158.00,424.46) scale(1.05,1)" font-size="10.5" text-anchor="middle" font-family="Liberation Sans" fill="#262626">200</text>
<clipPath id="c30"><rect x="33.2" y="453.8" width="124.80" height="98.60"/></clipPath>
<g clip-path="url(#c30)">
<rect x="33.2" y="453" width="124.80" height="1" fill="url(#fr0)"/>
<rect x="33.2" y="454" width="124.80" height="1" fill="url(#fr1)"/>
<rect x="33.2" y="455" width="124.80" height="1" fill="url(#fr2)"/>
<rect x="33.2" y="456" width="124.80" height="1" fill="url(#fr3)"/>
<rect x="33.2" y="457" width="124.80" height="1" fill="url(#fr4)"/>
<rect x="33.2" y="458" width="124.80" height="1" fill="url(#fr5)"/>
<rect x="33.2" y="459" width="124.80" height="1" fill="url(#fr6)"/>
<rect x="33.2" y="460" width="124.80" height="1" fill="url(#fr7)"/>
<rect x="33.2" y="461" width="124.80" height="1" fill="url(#fr8)"/>
<rect x="33.2" y="462" width="124.80" height="1" fill="url(#fr9)"/>
<rect x="33.2" y="463" width="124.80" height="1" fill="url(#fr10)"/>
<rect x="33.2" y="464" width="124.80" height="1" fill="url(#fr11)"/>
<rect x="33.2" y="465" width="124.80" height="1" fill="url(#fr12)"/>
<rect x="33.2" y="466" width="124.80" height="1" fill="url(#fr13)"/>
<rect x="33.2" y="467" width="124.80" height="1" fill="url(#fr14)"/>
<rect x="33.2" y="468" width="124.80" height="1" fill="url(#fr15)"/>
<rect x="33.2" y="469" width="124.80" height="1" fill="url(#fr16)"/>
<rect x="33.2" y="470" width="124.80" height="1" fill="url(#fr17)"/>
<rect x="33.2" y="471" width="124.80" height="1" fill="url(#fr18)"/>
<rect x="33.2" y="472" width="124.80" height="1" fill="url(#fr19)"/>
<rect x="33.2" y="473" width="124.80" height="1" fill="url(#fr20)"/>
<rect x="33.2" y="474" width="124.80" height="1" fill="url(#fr21)"/>
<rect x="33.2" y="475" width="124.80" height="1" fill="url(#fr22)"/>
<rect x="33.2" y="476" width="124.80" height="1" fill="url(#fr23)"/>
<rect x="33.2" y="477" width="124.80" height="1" fill="url(#fr24)"/>
<rect x="33.2" y="478" width="124.80" height="1" fill="url(#fr25)"/>
<rect x="33.2" y="479" width="124.80" height="1" fill="url(#fr26)"/>
<rect x="33.2" y="480" width="124.80" height="1" fill="url(#fr27)"/>
<rect x="33.2" y="481" width="124.80" height="1" fill="url(#fr28)"/>
<rect x="33.2" y="482" width="124.80" height="1" fill="url(#fr29)"/>
<rect x="33.2" y="483" width="124.80" height="1" fill="url(#fr30)"/>
<rect x="33.2" y="484" width="124.80" height="1" fill="url(#fr31)"/>
<rect x="33.2" y="485" width="124.80" height="1" fill="url(#fr32)"/>
<rect x="33.2" y="486" width="124.80" height="1" fill="url(#fr33)"/>
<rect x="33.2" y="487" width="124.80" height="1" fill="url(#fr34)"/>
<rect x="33.2" y="488" width="124.80" height="1" fill="url(#fr35)"/>
<rect x="33.2" y="489" width="124.80" height="1" fill="url(#fr36)"/>
<rect x="33.2" y="490" width="124.80" height="1" fill="url(#fr37)"/>
<rect x="33.2" y="491" width="124.80" height="1" fill="url(#fr38)"/>
<rect x="33.2" y="492" width="124.80" height="1" fill="url(#fr39)"/>
<rect x="33.2" y="493" width="124.80" height="1" fill="url(#fr40)"/>
<rect x="33.2" y="494" width="124.80" height="1" fill="url(#fr41)"/>
<rect x="33.2" y="495" width="124.80" height="1" fill="url(#fr42)"/>
<rect x="33.2" y="496" width="124.80" height="1" fill="url(#fr43)"/>
<rect x="33.2" y="497" width="124.80" height="1" fill="url(#fr44)"/>
<rect x="33.2" y="498" width="124.80" height="1" fill="url(#fr45)"/>
<rect x="33.2" y="499" width="124.80" height="1" fill="url(#fr46)"/>
<rect x="33.2" y="500" width="124.80" height="1" fill="url(#fr47)"/>
<rect x="33.2" y="501" width="124.80" height="1" fill="url(#fr48)"/>
<rect x="33.2" y="502" width="124.80" height="1" fill="url(#fr49)"/>
<rect x="33.2" y="503" width="124.80" height="1" fill="url(#fr50)"/>
<rect x="33.2" y="504" width="124.80" height="1" fill="url(#fr51)"/>
<rect x="33.2" y="505" width="124.80" height="1" fill="url(#fr52)"/>
<rect x="33.2" y="506" width="124.80" height="1" fill="url(#fr53)"/>
<rect x="33.2" y="507" width="124.80" height="1" fill="url(#fr54)"/>
<rect x="33.2" y="508" width="124.80" height="1" fill="url(#fr55)"/>
<rect x="33.2" y="509" width="124.80" height="1" fill="url(#fr56)"/>
<rect x="33.2" y="510" width="124.80" height="1" fill="url(#fr57)"/>
<rect x="33.2" y="511" width="124.80" height="1" fill="url(#fr58)"/>
<rect x="33.2" y="512" width="124.80" height="1" fill="url(#fr59)"/>
<rect x="33.2" y="513" width="124.80" height="1" fill="url(#fr60)"/>
<rect x="33.2" y="514" width="124.80" height="1" fill="url(#fr61)"/>
<rect x="33.2" y="515" width="124.80" height="1" fill="url(#fr62)"/>
<rect x="33.2" y="516" width="124.80" height="1" fill="url(#fr63)"/>
<rect x="33.2" y="517" width="124.80" height="1" fill="url(#fr64)"/>
<rect x="33.2" y="518" width="124.80" height="1" fill="url(#fr65)"/>
<rect x="33.2" y="519" width="124.80" height="1" fill="url(#fr66)"/>
<rect x="33.2" y="520" width="124.80" height="1" fill="url(#fr67)"/>
<rect x="33.2" y="521" width="124.80" height="1" fill="url(#fr68)"/>
<rect x="33.2" y="522" width="124.80" height="1" fill="url(#fr69)"/>
<rect x="33.2" y="523" width="124.80" height="1" fill="url(#fr70)"/>
<rect x="33.2" y="524" width="124.80" height="1" fill="url(#fr71)"/>
<rect x="33.2" y="525" width="124.80" height="1" fill="url(#fr72)"/>
<rect x="33.2" y="526" width="124.80" height="1" fill="url(#fr73)"/>
<rect x="33.2" y="527" width="124.80" height="1" fill="url(#fr74)"/>
<rect x="33.2" y="528" width="124.80" height="1" fill="url(#fr75)"/>
<rect x="33.2" y="529" width="124.80" height="1" fill="url(#fr76)"/>
<rect x="33.2" y="530" width="124.80" height="1" fill="url(#fr77)"/>
<rect x="33.2" y="531" width="124.80" height="1" fill="#33d99d"/>
<rect x="33.2" y="532" width="124.80" height="1" fill="url(#fr78)"/>
<rect x="33.2" y="533" width="124.80" height="1" fill="url(#fr79)"/>
<rect x="33.2" y="534" width="124.80" height="1" fill="url(#fr80)"/>
<rect x="33.2" y="535" width="124.80" height="1" fill="url(#fr81)"/>
<rect x="33.2" y="536" width="124.80" height="1" fill="url(#fr82)"/>
<rect x="33.2" y="537" width="124.80" height="1" fill="url(#fr83)"/>
<rect x="33.2" y="538" width="124.80" height="1" fill="url(#fr84)"/>
<rect x="33.2" y="539" width="124.80" height="1" fill="url(#fr85)"/>
<rect x="33.2" y="540" width="124.80" height="1" fill="url(#fr86)"/>
<rect x="33.2" y="541" width="124.80" height="1" fill="url(#fr87)"/>
<rect x="33.2" y="542" width="124.80" height="1" fill="url(#fr88)"/>
<rect x="33.2" y="543" width="124.80" height="1" fill="#2ed6b3"/>
<rect x="33.2" y="544" width="124.80" height="1" fill="url(#fr89)"/>
<rect x="33.2" y="545" width="124.80" height="1" fill="url(#fr90)"/>
<rect x="33.2" y="546" width="124.80" height="1" fill="url(#fr91)"/>
<rect x="33.2" y="547" width="124.80" height="1" fill="url(#fr92)"/>
<rect x="33.2" y="548" width="124.80" height="1" fill="url(#fr93)"/>
<rect x="33.2" y="549" width="124.80" height="1" fill="url(#fr94)"/>
<rect x="33.2" y="550" width="124.80" height="1" fill="#37da90"/>
<rect x="33.2" y="551" width="124.80" height="1" fill="#37da90"/>
<rect x="33.2" y="552" width="124.80" height="1" fill="#2699f0"/>
</g>
<line x1="33.2" y1="466.50" x2="158.0" y2="466.50" stroke="#06121f" stroke-width="1" opacity="0.62"/>
<line x1="33.2" y1="478.50" x2="158.0" y2="478.50" stroke="#06121f" stroke-width="1" opacity="0.62"/>
<line x1="33.2" y1="490.50" x2="158.0" y2="490.50" stroke="#06121f" stroke-width="1" opacity="0.62"/>
<line x1="33.2" y1="515.50" x2="158.0" y2="515.50" stroke="#06121f" stroke-width="1" opacity="0.62"/>
<line x1="33.2" y1="527.50" x2="158.0" y2="527.50" stroke="#06121f" stroke-width="1" opacity="0.62"/>
<line x1="33.2" y1="539.50" x2="158.0" y2="539.50" stroke="#06121f" stroke-width="1" opacity="0.62"/>
<line x1="107.0" y1="503.5" x2="158.0" y2="503.5" stroke="#06121f" stroke-width="1" opacity="0.62"/>
<rect x="33.2" y="453.8" width="124.80" height="98.60" fill="none" stroke="#555" stroke-width="0.5"/>
<text transform="translate(28.90,477.05) scale(1.05,1)" font-size="10.5" text-anchor="end" font-family="Liberation Sans" fill="#262626">5</text>
<text transform="translate(28.90,507.86) scale(1.05,1)" font-size="10.5" text-anchor="end" font-family="Liberation Sans" fill="#262626">0</text>
<text transform="translate(28.90,538.67) scale(1.05,1)" font-size="10.5" text-anchor="end" font-family="Liberation Sans" fill="#262626">-5</text>
<text transform="translate(33.20,567.16) scale(1.05,1)" font-size="10.5" text-anchor="middle" font-family="Liberation Sans" fill="#262626">-60</text>
<text transform="translate(74.80,567.16) scale(1.05,1)" font-size="10.5" text-anchor="middle" font-family="Liberation Sans" fill="#262626">-50</text>
<text transform="translate(116.40,567.16) scale(1.05,1)" font-size="10.5" text-anchor="middle" font-family="Liberation Sans" fill="#262626">-40</text>
<text transform="translate(158.00,567.16) scale(1.05,1)" font-size="10.5" text-anchor="middle" font-family="Liberation Sans" fill="#262626">-30</text>
<text x="36.00" y="580.80" font-size="11.7" font-family="Liberation Serif" fill="#262626" textLength="117.30" lengthAdjust="spacingAndGlyphs">RF power <tspan font-style="italic">P</tspan><tspan font-size="8" dy="2.3">RF</tspan><tspan dy="-2.3"> [dBm]</tspan></text>
<g transform="translate(10.90,543.60) rotate(-90)" font-family="Liberation Serif" font-size="11.52" fill="#262626">
<text x="0.00" y="0" font-style="normal" textLength="39.40" lengthAdjust="spacingAndGlyphs">Voltage</text>
<text x="43.54" y="0" font-style="italic" textLength="9.46" lengthAdjust="spacingAndGlyphs">V</text>
<text x="56.05" y="0" font-style="normal">[</text>
<text x="59.99" y="0" font-style="italic">h</text>
<text x="66.88" y="0" font-style="italic">f</text>
<text x="81.16" y="0" font-style="normal">2</text>
<text x="86.68" y="0" font-style="italic">e</text>
<text x="91.90" y="0" font-style="normal">]</text>
<line x1="73.48" y1="2.07" x2="79.78" y2="-8.18" stroke="#262626" stroke-width="0.85"/>
</g>
<text x="-0.33" y="409.19" font-size="17.2" font-family="Liberation Sans" font-weight="bold" fill="#111">(g)</text>
<rect x="224.4" y="430.9" width="124.80" height="14.60" fill="url(#cb1)"/>
<rect x="224.4" y="430.9" width="124.80" height="14.60" fill="none" stroke="#3a3a3a" stroke-width="0.8"/>
<text transform="translate(224.40,424.46) scale(1.05,1)" font-size="10.5" text-anchor="middle" font-family="Liberation Sans" fill="#262626">0</text>
<text transform="translate(266.00,424.46) scale(1.05,1)" font-size="10.5" text-anchor="middle" font-family="Liberation Sans" fill="#262626">50</text>
<text transform="translate(307.60,424.46) scale(1.05,1)" font-size="10.5" text-anchor="middle" font-family="Liberation Sans" fill="#262626">100</text>
<text transform="translate(349.20,424.46) scale(1.05,1)" font-size="10.5" text-anchor="middle" font-family="Liberation Sans" fill="#262626">150</text>
<clipPath id="c31"><rect x="224.4" y="453.8" width="124.80" height="98.60"/></clipPath>
<g clip-path="url(#c31)">
<rect x="224.4" y="453" width="124.80" height="1" fill="url(#fr95)"/>
<rect x="224.4" y="454" width="124.80" height="1" fill="url(#fr96)"/>
<rect x="224.4" y="455" width="124.80" height="1" fill="url(#fr97)"/>
<rect x="224.4" y="456" width="124.80" height="1" fill="url(#fr98)"/>
<rect x="224.4" y="457" width="124.80" height="1" fill="url(#fr99)"/>
<rect x="224.4" y="458" width="124.80" height="1" fill="url(#fr100)"/>
<rect x="224.4" y="459" width="124.80" height="1" fill="url(#fr101)"/>
<rect x="224.4" y="460" width="124.80" height="1" fill="url(#fr102)"/>
<rect x="224.4" y="461" width="124.80" height="1" fill="url(#fr103)"/>
<rect x="224.4" y="462" width="124.80" height="1" fill="url(#fr104)"/>
<rect x="224.4" y="463" width="124.80" height="1" fill="url(#fr105)"/>
<rect x="224.4" y="464" width="124.80" height="1" fill="url(#fr106)"/>
<rect x="224.4" y="465" width="124.80" height="1" fill="url(#fr107)"/>
<rect x="224.4" y="466" width="124.80" height="1" fill="url(#fr108)"/>
<rect x="224.4" y="467" width="124.80" height="1" fill="url(#fr109)"/>
<rect x="224.4" y="468" width="124.80" height="1" fill="url(#fr110)"/>
<rect x="224.4" y="469" width="124.80" height="1" fill="url(#fr111)"/>
<rect x="224.4" y="470" width="124.80" height="1" fill="url(#fr112)"/>
<rect x="224.4" y="471" width="124.80" height="1" fill="url(#fr113)"/>
<rect x="224.4" y="472" width="124.80" height="1" fill="url(#fr114)"/>
<rect x="224.4" y="473" width="124.80" height="1" fill="url(#fr115)"/>
<rect x="224.4" y="474" width="124.80" height="1" fill="url(#fr116)"/>
<rect x="224.4" y="475" width="124.80" height="1" fill="url(#fr117)"/>
<rect x="224.4" y="476" width="124.80" height="1" fill="url(#fr118)"/>
<rect x="224.4" y="477" width="124.80" height="1" fill="url(#fr119)"/>
<rect x="224.4" y="478" width="124.80" height="1" fill="url(#fr120)"/>
<rect x="224.4" y="479" width="124.80" height="1" fill="url(#fr121)"/>
<rect x="224.4" y="480" width="124.80" height="1" fill="url(#fr122)"/>
<rect x="224.4" y="481" width="124.80" height="1" fill="url(#fr123)"/>
<rect x="224.4" y="482" width="124.80" height="1" fill="url(#fr124)"/>
<rect x="224.4" y="483" width="124.80" height="1" fill="url(#fr125)"/>
<rect x="224.4" y="484" width="124.80" height="1" fill="url(#fr126)"/>
<rect x="224.4" y="485" width="124.80" height="1" fill="url(#fr127)"/>
<rect x="224.4" y="486" width="124.80" height="1" fill="url(#fr128)"/>
<rect x="224.4" y="487" width="124.80" height="1" fill="url(#fr129)"/>
<rect x="224.4" y="488" width="124.80" height="1" fill="url(#fr130)"/>
<rect x="224.4" y="489" width="124.80" height="1" fill="url(#fr131)"/>
<rect x="224.4" y="490" width="124.80" height="1" fill="url(#fr132)"/>
<rect x="224.4" y="491" width="124.80" height="1" fill="url(#fr133)"/>
<rect x="224.4" y="492" width="124.80" height="1" fill="url(#fr134)"/>
<rect x="224.4" y="493" width="124.80" height="1" fill="url(#fr135)"/>
<rect x="224.4" y="494" width="124.80" height="1" fill="url(#fr136)"/>
<rect x="224.4" y="495" width="124.80" height="1" fill="url(#fr137)"/>
<rect x="224.4" y="496" width="124.80" height="1" fill="url(#fr138)"/>
<rect x="224.4" y="497" width="124.80" height="1" fill="url(#fr139)"/>
<rect x="224.4" y="498" width="124.80" height="1" fill="url(#fr140)"/>
<rect x="224.4" y="499" width="124.80" height="1" fill="url(#fr141)"/>
<rect x="224.4" y="500" width="124.80" height="1" fill="url(#fr142)"/>
<rect x="224.4" y="501" width="124.80" height="1" fill="url(#fr143)"/>
<rect x="224.4" y="502" width="124.80" height="1" fill="url(#fr144)"/>
<rect x="224.4" y="503" width="124.80" height="1" fill="url(#fr145)"/>
<rect x="224.4" y="504" width="124.80" height="1" fill="url(#fr146)"/>
<rect x="224.4" y="505" width="124.80" height="1" fill="url(#fr147)"/>
<rect x="224.4" y="506" width="124.80" height="1" fill="url(#fr148)"/>
<rect x="224.4" y="507" width="124.80" height="1" fill="url(#fr149)"/>
<rect x="224.4" y="508" width="124.80" height="1" fill="url(#fr150)"/>
<rect x="224.4" y="509" width="124.80" height="1" fill="url(#fr151)"/>
<rect x="224.4" y="510" width="124.80" height="1" fill="url(#fr152)"/>
<rect x="224.4" y="511" width="124.80" height="1" fill="url(#fr153)"/>
<rect x="224.4" y="512" width="124.80" height="1" fill="url(#fr154)"/>
<rect x="224.4" y="513" width="124.80" height="1" fill="url(#fr155)"/>
<rect x="224.4" y="514" width="124.80" height="1" fill="url(#fr156)"/>
<rect x="224.4" y="515" width="124.80" height="1" fill="url(#fr157)"/>
<rect x="224.4" y="516" width="124.80" height="1" fill="url(#fr158)"/>
<rect x="224.4" y="517" width="124.80" height="1" fill="url(#fr159)"/>
<rect x="224.4" y="518" width="124.80" height="1" fill="url(#fr160)"/>
<rect x="224.4" y="519" width="124.80" height="1" fill="url(#fr161)"/>
<rect x="224.4" y="520" width="124.80" height="1" fill="url(#fr162)"/>
<rect x="224.4" y="521" width="124.80" height="1" fill="url(#fr163)"/>
<rect x="224.4" y="522" width="124.80" height="1" fill="url(#fr164)"/>
<rect x="224.4" y="523" width="124.80" height="1" fill="url(#fr165)"/>
<rect x="224.4" y="524" width="124.80" height="1" fill="url(#fr166)"/>
<rect x="224.4" y="525" width="124.80" height="1" fill="url(#fr167)"/>
<rect x="224.4" y="526" width="124.80" height="1" fill="url(#fr168)"/>
<rect x="224.4" y="527" width="124.80" height="1" fill="url(#fr169)"/>
<rect x="224.4" y="528" width="124.80" height="1" fill="url(#fr170)"/>
<rect x="224.4" y="529" width="124.80" height="1" fill="url(#fr171)"/>
<rect x="224.4" y="530" width="124.80" height="1" fill="url(#fr172)"/>
<rect x="224.4" y="531" width="124.80" height="1" fill="url(#fr173)"/>
<rect x="224.4" y="532" width="124.80" height="1" fill="url(#fr174)"/>
<rect x="224.4" y="533" width="124.80" height="1" fill="url(#fr175)"/>
<rect x="224.4" y="534" width="124.80" height="1" fill="url(#fr176)"/>
<rect x="224.4" y="535" width="124.80" height="1" fill="url(#fr177)"/>
<rect x="224.4" y="536" width="124.80" height="1" fill="url(#fr178)"/>
<rect x="224.4" y="537" width="124.80" height="1" fill="url(#fr179)"/>
<rect x="224.4" y="538" width="124.80" height="1" fill="url(#fr180)"/>
<rect x="224.4" y="539" width="124.80" height="1" fill="url(#fr181)"/>
<rect x="224.4" y="540" width="124.80" height="1" fill="url(#fr182)"/>
<rect x="224.4" y="541" width="124.80" height="1" fill="url(#fr183)"/>
<rect x="224.4" y="542" width="124.80" height="1" fill="url(#fr184)"/>
<rect x="224.4" y="543" width="124.80" height="1" fill="url(#fr185)"/>
<rect x="224.4" y="544" width="124.80" height="1" fill="url(#fr186)"/>
<rect x="224.4" y="545" width="124.80" height="1" fill="url(#fr187)"/>
<rect x="224.4" y="546" width="124.80" height="1" fill="url(#fr188)"/>
<rect x="224.4" y="547" width="124.80" height="1" fill="url(#fr189)"/>
<rect x="224.4" y="548" width="124.80" height="1" fill="url(#fr190)"/>
<rect x="224.4" y="549" width="124.80" height="1" fill="url(#fr191)"/>
<rect x="224.4" y="550" width="124.80" height="1" fill="url(#fr192)"/>
<rect x="224.4" y="551" width="124.80" height="1" fill="url(#fr193)"/>
<rect x="224.4" y="552" width="124.80" height="1" fill="url(#fr194)"/>
<line x1="302.2" y1="503.0" x2="323.3" y2="455.0" stroke="#ffffff" stroke-width="1.45" stroke-dasharray="2.2 1.3"/>
<line x1="316.3" y1="503.0" x2="332.8" y2="455.0" stroke="#ffffff" stroke-width="1.45" stroke-dasharray="2.2 1.3"/>
</g>
<line x1="224.4" y1="466.50" x2="349.2" y2="466.50" stroke="#06121f" stroke-width="1" opacity="0.75"/>
<line x1="224.4" y1="478.50" x2="349.2" y2="478.50" stroke="#06121f" stroke-width="1" opacity="0.75"/>
<line x1="224.4" y1="490.50" x2="349.2" y2="490.50" stroke="#06121f" stroke-width="1" opacity="0.75"/>
<line x1="224.4" y1="515.50" x2="349.2" y2="515.50" stroke="#06121f" stroke-width="1" opacity="0.75"/>
<line x1="224.4" y1="527.50" x2="349.2" y2="527.50" stroke="#06121f" stroke-width="1" opacity="0.75"/>
<line x1="224.4" y1="539.50" x2="349.2" y2="539.50" stroke="#06121f" stroke-width="1" opacity="0.75"/>
<line x1="224.4" y1="503.5" x2="349.2" y2="503.5" stroke="#06121f" stroke-width="1" opacity="0.75"/>
<rect x="224.4" y="453.8" width="124.80" height="98.60" fill="none" stroke="#555" stroke-width="0.5"/>
<text transform="translate(220.10,477.05) scale(1.05,1)" font-size="10.5" text-anchor="end" font-family="Liberation Sans" fill="#262626">5</text>
<text transform="translate(220.10,507.86) scale(1.05,1)" font-size="10.5" text-anchor="end" font-family="Liberation Sans" fill="#262626">0</text>
<text transform="translate(220.10,538.67) scale(1.05,1)" font-size="10.5" text-anchor="end" font-family="Liberation Sans" fill="#262626">-5</text>
<text transform="translate(224.40,567.16) scale(1.05,1)" font-size="10.5" text-anchor="middle" font-family="Liberation Sans" fill="#262626">-20</text>
<text transform="translate(260.26,567.16) scale(1.05,1)" font-size="10.5" text-anchor="middle" font-family="Liberation Sans" fill="#262626">-10</text>
<text transform="translate(296.12,567.16) scale(1.05,1)" font-size="10.5" text-anchor="middle" font-family="Liberation Sans" fill="#262626">0</text>
<text transform="translate(331.99,567.16) scale(1.05,1)" font-size="10.5" text-anchor="middle" font-family="Liberation Sans" fill="#262626">10</text>
<text x="228.00" y="580.80" font-size="11.7" font-family="Liberation Serif" fill="#262626" textLength="116.00" lengthAdjust="spacingAndGlyphs">RF power <tspan font-style="italic">P</tspan><tspan font-size="8" dy="2.3">RF</tspan><tspan dy="-2.3"> [dBm]</tspan></text>
<g transform="translate(200.20,543.60) rotate(-90)" font-family="Liberation Serif" font-size="11.52" fill="#262626">
<text x="0.00" y="0" font-style="normal" textLength="39.40" lengthAdjust="spacingAndGlyphs">Voltage</text>
<text x="43.54" y="0" font-style="italic" textLength="9.46" lengthAdjust="spacingAndGlyphs">V</text>
<text x="56.05" y="0" font-style="normal">[</text>
<text x="59.99" y="0" font-style="italic">h</text>
<text x="66.88" y="0" font-style="italic">f</text>
<text x="81.16" y="0" font-style="normal">2</text>
<text x="86.68" y="0" font-style="italic">e</text>
<text x="91.90" y="0" font-style="normal">]</text>
<line x1="73.48" y1="2.07" x2="79.78" y2="-8.18" stroke="#262626" stroke-width="0.85"/>
</g>
<text x="189.87" y="409.19" font-size="17.2" font-family="Liberation Sans" font-weight="bold" fill="#111">(h)</text>
<rect x="409.7" y="430.9" width="125.90" height="14.60" fill="url(#cb2)"/>
<rect x="409.7" y="430.9" width="125.90" height="14.60" fill="none" stroke="#3a3a3a" stroke-width="0.8"/>
<text transform="translate(409.70,424.46) scale(1.05,1)" font-size="10.5" text-anchor="middle" font-family="Liberation Sans" fill="#262626">0</text>
<text transform="translate(472.65,424.46) scale(1.05,1)" font-size="10.5" text-anchor="middle" font-family="Liberation Sans" fill="#262626">50</text>
<text transform="translate(535.60,424.46) scale(1.05,1)" font-size="10.5" text-anchor="middle" font-family="Liberation Sans" fill="#262626">100</text>
<clipPath id="c32"><rect x="410.0" y="453.8" width="124.70" height="98.60"/></clipPath>
<g clip-path="url(#c32)">
<rect x="410.0" y="453" width="124.70" height="1" fill="url(#fr195)"/>
<rect x="410.0" y="454" width="124.70" height="1" fill="url(#fr196)"/>
<rect x="410.0" y="455" width="124.70" height="1" fill="url(#fr197)"/>
<rect x="410.0" y="456" width="124.70" height="1" fill="url(#fr198)"/>
<rect x="410.0" y="457" width="124.70" height="1" fill="url(#fr199)"/>
<rect x="410.0" y="458" width="124.70" height="1" fill="url(#fr200)"/>
<rect x="410.0" y="459" width="124.70" height="1" fill="url(#fr201)"/>
<rect x="410.0" y="460" width="124.70" height="1" fill="url(#fr202)"/>
<rect x="410.0" y="461" width="124.70" height="1" fill="url(#fr203)"/>
<rect x="410.0" y="462" width="124.70" height="1" fill="url(#fr204)"/>
<rect x="410.0" y="463" width="124.70" height="1" fill="url(#fr205)"/>
<rect x="410.0" y="464" width="124.70" height="1" fill="url(#fr206)"/>
<rect x="410.0" y="465" width="124.70" height="1" fill="url(#fr207)"/>
<rect x="410.0" y="466" width="124.70" height="1" fill="url(#fr208)"/>
<rect x="410.0" y="467" width="124.70" height="1" fill="url(#fr209)"/>
<rect x="410.0" y="468" width="124.70" height="1" fill="url(#fr210)"/>
<rect x="410.0" y="469" width="124.70" height="1" fill="url(#fr211)"/>
<rect x="410.0" y="470" width="124.70" height="1" fill="url(#fr212)"/>
<rect x="410.0" y="471" width="124.70" height="1" fill="url(#fr213)"/>
<rect x="410.0" y="472" width="124.70" height="1" fill="url(#fr214)"/>
<rect x="410.0" y="473" width="124.70" height="1" fill="url(#fr215)"/>
<rect x="410.0" y="474" width="124.70" height="1" fill="url(#fr216)"/>
<rect x="410.0" y="475" width="124.70" height="1" fill="url(#fr217)"/>
<rect x="410.0" y="476" width="124.70" height="1" fill="url(#fr218)"/>
<rect x="410.0" y="477" width="124.70" height="1" fill="url(#fr219)"/>
<rect x="410.0" y="478" width="124.70" height="1" fill="url(#fr220)"/>
<rect x="410.0" y="479" width="124.70" height="1" fill="url(#fr221)"/>
<rect x="410.0" y="480" width="124.70" height="1" fill="url(#fr222)"/>
<rect x="410.0" y="481" width="124.70" height="1" fill="url(#fr223)"/>
<rect x="410.0" y="482" width="124.70" height="1" fill="url(#fr224)"/>
<rect x="410.0" y="483" width="124.70" height="1" fill="url(#fr225)"/>
<rect x="410.0" y="484" width="124.70" height="1" fill="url(#fr226)"/>
<rect x="410.0" y="485" width="124.70" height="1" fill="url(#fr227)"/>
<rect x="410.0" y="486" width="124.70" height="1" fill="url(#fr228)"/>
<rect x="410.0" y="487" width="124.70" height="1" fill="url(#fr229)"/>
<rect x="410.0" y="488" width="124.70" height="1" fill="url(#fr230)"/>
<rect x="410.0" y="489" width="124.70" height="1" fill="url(#fr231)"/>
<rect x="410.0" y="490" width="124.70" height="1" fill="url(#fr232)"/>
<rect x="410.0" y="491" width="124.70" height="1" fill="url(#fr233)"/>
<rect x="410.0" y="492" width="124.70" height="1" fill="url(#fr234)"/>
<rect x="410.0" y="493" width="124.70" height="1" fill="url(#fr235)"/>
<rect x="410.0" y="494" width="124.70" height="1" fill="url(#fr236)"/>
<rect x="410.0" y="495" width="124.70" height="1" fill="url(#fr237)"/>
<rect x="410.0" y="496" width="124.70" height="1" fill="url(#fr238)"/>
<rect x="410.0" y="497" width="124.70" height="1" fill="url(#fr239)"/>
<rect x="410.0" y="498" width="124.70" height="1" fill="url(#fr240)"/>
<rect x="410.0" y="499" width="124.70" height="1" fill="url(#fr241)"/>
<rect x="410.0" y="500" width="124.70" height="1" fill="url(#fr242)"/>
<rect x="410.0" y="501" width="124.70" height="1" fill="url(#fr243)"/>
<rect x="410.0" y="502" width="124.70" height="1" fill="url(#fr244)"/>
<rect x="410.0" y="503" width="124.70" height="1" fill="url(#fr245)"/>
<rect x="410.0" y="504" width="124.70" height="1" fill="url(#fr246)"/>
<rect x="410.0" y="505" width="124.70" height="1" fill="url(#fr247)"/>
<rect x="410.0" y="506" width="124.70" height="1" fill="url(#fr248)"/>
<rect x="410.0" y="507" width="124.70" height="1" fill="url(#fr249)"/>
<rect x="410.0" y="508" width="124.70" height="1" fill="url(#fr250)"/>
<rect x="410.0" y="509" width="124.70" height="1" fill="url(#fr251)"/>
<rect x="410.0" y="510" width="124.70" height="1" fill="url(#fr252)"/>
<rect x="410.0" y="511" width="124.70" height="1" fill="url(#fr253)"/>
<rect x="410.0" y="512" width="124.70" height="1" fill="url(#fr254)"/>
<rect x="410.0" y="513" width="124.70" height="1" fill="url(#fr255)"/>
<rect x="410.0" y="514" width="124.70" height="1" fill="url(#fr256)"/>
<rect x="410.0" y="515" width="124.70" height="1" fill="url(#fr257)"/>
<rect x="410.0" y="516" width="124.70" height="1" fill="url(#fr258)"/>
<rect x="410.0" y="517" width="124.70" height="1" fill="url(#fr259)"/>
<rect x="410.0" y="518" width="124.70" height="1" fill="url(#fr260)"/>
<rect x="410.0" y="519" width="124.70" height="1" fill="url(#fr261)"/>
<rect x="410.0" y="520" width="124.70" height="1" fill="url(#fr262)"/>
<rect x="410.0" y="521" width="124.70" height="1" fill="url(#fr263)"/>
<rect x="410.0" y="522" width="124.70" height="1" fill="url(#fr264)"/>
<rect x="410.0" y="523" width="124.70" height="1" fill="url(#fr265)"/>
<rect x="410.0" y="524" width="124.70" height="1" fill="url(#fr266)"/>
<rect x="410.0" y="525" width="124.70" height="1" fill="url(#fr267)"/>
<rect x="410.0" y="526" width="124.70" height="1" fill="url(#fr268)"/>
<rect x="410.0" y="527" width="124.70" height="1" fill="url(#fr269)"/>
<rect x="410.0" y="528" width="124.70" height="1" fill="url(#fr270)"/>
<rect x="410.0" y="529" width="124.70" height="1" fill="url(#fr271)"/>
<rect x="410.0" y="530" width="124.70" height="1" fill="url(#fr272)"/>
<rect x="410.0" y="531" width="124.70" height="1" fill="url(#fr273)"/>
<rect x="410.0" y="532" width="124.70" height="1" fill="url(#fr274)"/>
<rect x="410.0" y="533" width="124.70" height="1" fill="url(#fr275)"/>
<rect x="410.0" y="534" width="124.70" height="1" fill="url(#fr276)"/>
<rect x="410.0" y="535" width="124.70" height="1" fill="url(#fr277)"/>
<rect x="410.0" y="536" width="124.70" height="1" fill="url(#fr278)"/>
<rect x="410.0" y="537" width="124.70" height="1" fill="url(#fr279)"/>
<rect x="410.0" y="538" width="124.70" height="1" fill="url(#fr280)"/>
<rect x="410.0" y="539" width="124.70" height="1" fill="url(#fr281)"/>
<rect x="410.0" y="540" width="124.70" height="1" fill="url(#fr282)"/>
<rect x="410.0" y="541" width="124.70" height="1" fill="url(#fr283)"/>
<rect x="410.0" y="542" width="124.70" height="1" fill="url(#fr284)"/>
<rect x="410.0" y="543" width="124.70" height="1" fill="url(#fr285)"/>
<rect x="410.0" y="544" width="124.70" height="1" fill="url(#fr286)"/>
<rect x="410.0" y="545" width="124.70" height="1" fill="url(#fr287)"/>
<rect x="410.0" y="546" width="124.70" height="1" fill="url(#fr288)"/>
<rect x="410.0" y="547" width="124.70" height="1" fill="url(#fr289)"/>
<rect x="410.0" y="548" width="124.70" height="1" fill="url(#fr290)"/>
<rect x="410.0" y="549" width="124.70" height="1" fill="url(#fr291)"/>
<rect x="410.0" y="550" width="124.70" height="1" fill="url(#fr292)"/>
<rect x="410.0" y="551" width="124.70" height="1" fill="url(#fr293)"/>
<rect x="410.0" y="552" width="124.70" height="1" fill="url(#fr294)"/>
<line x1="489.6" y1="502.4" x2="511.0" y2="454.5" stroke="#ffffff" stroke-width="1.45" stroke-dasharray="2.2 1.3"/>
<line x1="502.4" y1="502.4" x2="522.6" y2="454.5" stroke="#ffffff" stroke-width="1.45" stroke-dasharray="2.2 1.3"/>
</g>
<line x1="410.0" y1="466.50" x2="534.7" y2="466.50" stroke="#06121f" stroke-width="1" opacity="0.75"/>
<line x1="410.0" y1="478.50" x2="534.7" y2="478.50" stroke="#06121f" stroke-width="1" opacity="0.75"/>
<line x1="410.0" y1="490.50" x2="534.7" y2="490.50" stroke="#06121f" stroke-width="1" opacity="0.75"/>
<line x1="410.0" y1="515.50" x2="534.7" y2="515.50" stroke="#06121f" stroke-width="1" opacity="0.75"/>
<line x1="410.0" y1="527.50" x2="534.7" y2="527.50" stroke="#06121f" stroke-width="1" opacity="0.75"/>
<line x1="410.0" y1="539.50" x2="534.7" y2="539.50" stroke="#06121f" stroke-width="1" opacity="0.75"/>
<line x1="410.0" y1="503.5" x2="534.7" y2="503.5" stroke="#06121f" stroke-width="1" opacity="0.75"/>
<rect x="410.0" y="453.8" width="124.70" height="98.60" fill="none" stroke="#555" stroke-width="0.5"/>
<text transform="translate(405.70,477.05) scale(1.05,1)" font-size="10.5" text-anchor="end" font-family="Liberation Sans" fill="#262626">5</text>
<text transform="translate(405.70,507.86) scale(1.05,1)" font-size="10.5" text-anchor="end" font-family="Liberation Sans" fill="#262626">0</text>
<text transform="translate(405.70,538.67) scale(1.05,1)" font-size="10.5" text-anchor="end" font-family="Liberation Sans" fill="#262626">-5</text>
<text transform="translate(410.00,567.16) scale(1.05,1)" font-size="10.5" text-anchor="middle" font-family="Liberation Sans" fill="#262626">-20</text>
<text transform="translate(434.60,567.16) scale(1.05,1)" font-size="10.5" text-anchor="middle" font-family="Liberation Sans" fill="#262626">-15</text>
<text transform="translate(459.19,567.16) scale(1.05,1)" font-size="10.5" text-anchor="middle" font-family="Liberation Sans" fill="#262626">-10</text>
<text transform="translate(483.79,567.16) scale(1.05,1)" font-size="10.5" text-anchor="middle" font-family="Liberation Sans" fill="#262626">-5</text>
<text transform="translate(508.38,567.16) scale(1.05,1)" font-size="10.5" text-anchor="middle" font-family="Liberation Sans" fill="#262626">0</text>
<text transform="translate(532.98,567.16) scale(1.05,1)" font-size="10.5" text-anchor="middle" font-family="Liberation Sans" fill="#262626">5</text>
<text x="408.70" y="580.80" font-size="11.7" font-family="Liberation Serif" fill="#262626" textLength="116.00" lengthAdjust="spacingAndGlyphs">RF power <tspan font-style="italic">P</tspan><tspan font-size="8" dy="2.3">RF</tspan><tspan dy="-2.3"> [dBm]</tspan></text>
<g transform="translate(385.40,543.60) rotate(-90)" font-family="Liberation Serif" font-size="11.52" fill="#262626">
<text x="0.00" y="0" font-style="normal" textLength="39.40" lengthAdjust="spacingAndGlyphs">Voltage</text>
<text x="43.54" y="0" font-style="italic" textLength="9.46" lengthAdjust="spacingAndGlyphs">V</text>
<text x="56.05" y="0" font-style="normal">[</text>
<text x="59.99" y="0" font-style="italic">h</text>
<text x="66.88" y="0" font-style="italic">f</text>
<text x="81.16" y="0" font-style="normal">2</text>
<text x="86.68" y="0" font-style="italic">e</text>
<text x="91.90" y="0" font-style="normal">]</text>
<line x1="73.48" y1="2.07" x2="79.78" y2="-8.18" stroke="#262626" stroke-width="0.85"/>
</g>
<text x="375.97" y="409.19" font-size="17.2" font-family="Liberation Sans" font-weight="bold" fill="#111">(i)</text>
</svg>
</body></html>
